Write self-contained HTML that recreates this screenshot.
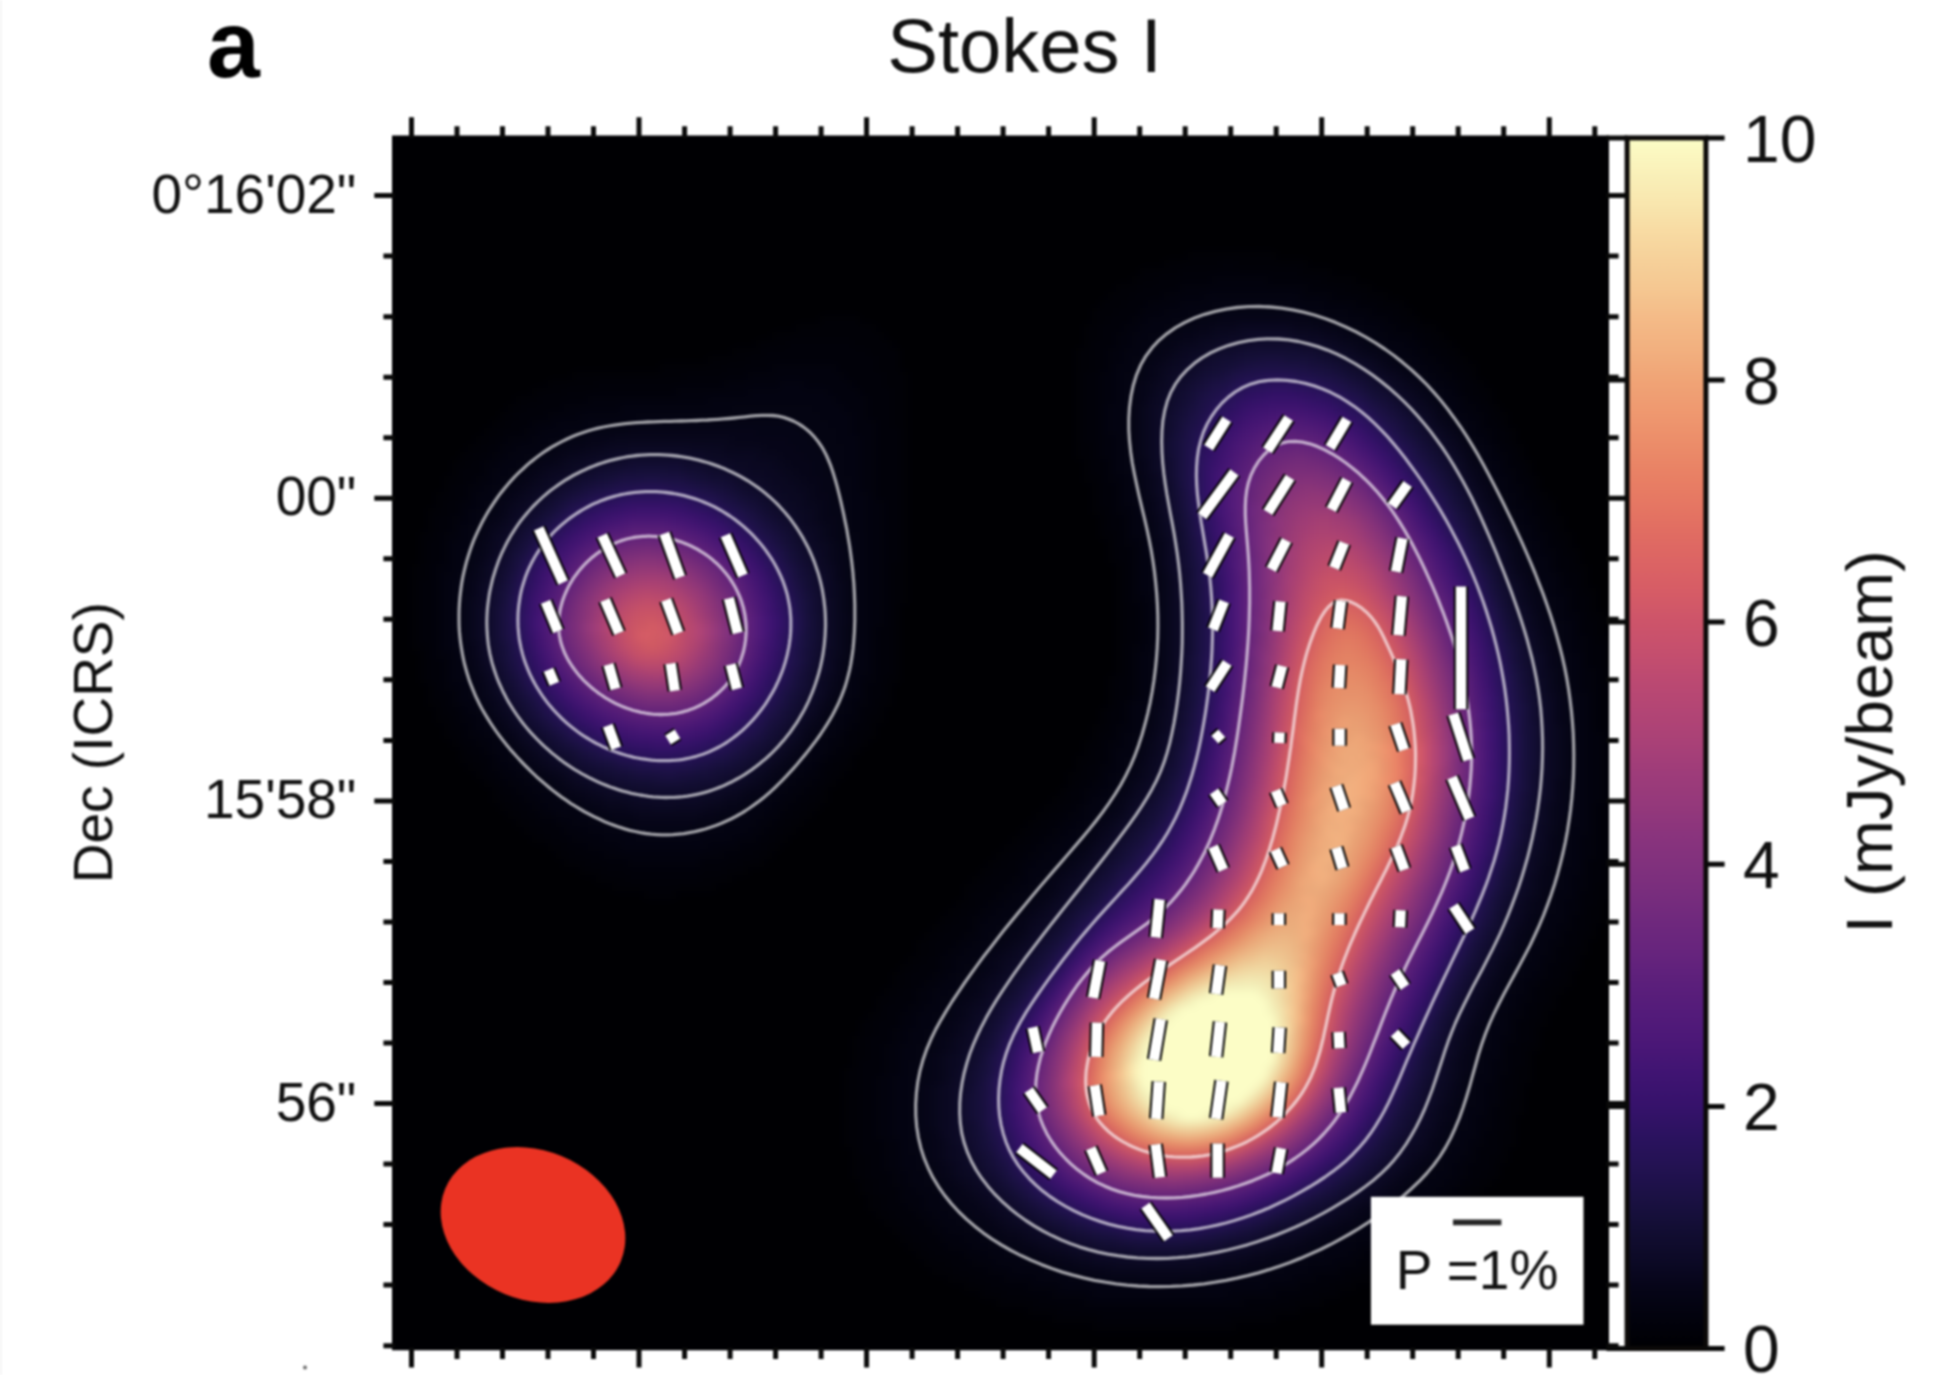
<!DOCTYPE html>
<html><head><meta charset="utf-8"><title>Stokes I</title>
<style>html,body{margin:0;padding:0;background:#fff;}svg{display:block;}text{font-family:"Liberation Sans",sans-serif;fill:#111;}</style></head><body>
<svg width="1934" height="1375" viewBox="0 0 1934 1375">
<defs>
<linearGradient id="mg" x1="0" y1="0" x2="0" y2="1"><stop offset="0%" stop-color="#fcfdc6"/><stop offset="2.5%" stop-color="#faf2bb"/><stop offset="5%" stop-color="#f9e8b0"/><stop offset="7.5%" stop-color="#f8dca4"/><stop offset="10%" stop-color="#f6d19a"/><stop offset="12.5%" stop-color="#f5c791"/><stop offset="15%" stop-color="#f4ba87"/><stop offset="17.5%" stop-color="#f2b07f"/><stop offset="20%" stop-color="#f0a476"/><stop offset="22.5%" stop-color="#ef9970"/><stop offset="25%" stop-color="#ec8e6a"/><stop offset="27.5%" stop-color="#e98265"/><stop offset="30%" stop-color="#e67863"/><stop offset="32.5%" stop-color="#e16d62"/><stop offset="35%" stop-color="#dc6464"/><stop offset="37.5%" stop-color="#d65c66"/><stop offset="40%" stop-color="#cd546a"/><stop offset="42.5%" stop-color="#c54f6e"/><stop offset="45%" stop-color="#bb4972"/><stop offset="47.5%" stop-color="#b24575"/><stop offset="50%" stop-color="#a94177"/><stop offset="52.5%" stop-color="#9e3c7a"/><stop offset="55%" stop-color="#95397b"/><stop offset="57.5%" stop-color="#8a347d"/><stop offset="60%" stop-color="#81317d"/><stop offset="62.5%" stop-color="#782d7d"/><stop offset="65%" stop-color="#6e287d"/><stop offset="67.5%" stop-color="#66247d"/><stop offset="70%" stop-color="#5b1f7b"/><stop offset="72.5%" stop-color="#531b7a"/><stop offset="75%" stop-color="#4a1777"/><stop offset="77.5%" stop-color="#3f1472"/><stop offset="80%" stop-color="#36126b"/><stop offset="82.5%" stop-color="#2b125f"/><stop offset="85%" stop-color="#231252"/><stop offset="87.5%" stop-color="#1b1144"/><stop offset="90%" stop-color="#130e34"/><stop offset="92.5%" stop-color="#0d0a27"/><stop offset="95%" stop-color="#060518"/><stop offset="97.5%" stop-color="#02020d"/><stop offset="100%" stop-color="#000003"/></linearGradient>
<clipPath id="pc"><rect x="392" y="135.4" width="1217" height="1214.8"/></clipPath>
<filter id="bl" filterUnits="userSpaceOnUse" x="332" y="75.4" width="1337" height="1334.8" color-interpolation-filters="sRGB"><feGaussianBlur stdDeviation="5"/></filter>
<filter id="soft" filterUnits="userSpaceOnUse" x="0" y="0" width="1934" height="1375" color-interpolation-filters="sRGB"><feGaussianBlur stdDeviation="1"/></filter>
</defs>
<rect x="0" y="0" width="1934" height="1375" fill="#fff"/>
<g filter="url(#soft)">
<rect x="-5" y="-5" width="1944" height="1385" fill="#fff"/>
<rect x="0" y="0" width="1.2" height="1375" fill="#ececec"/>
<g clip-path="url(#pc)">
<g filter="url(#bl)">
<rect x="342" y="85.4" width="1317" height="1314.8" fill="#000003"/>
<path fill="#010107" d="M1188 251.4h88v8h-88zM1164 259.4h56v8h-56zM1236 259.4h72v8h-72zM1140 267.4h40v8h-40zM1300 267.4h32v8h-32zM1132 275.4h24v8h-24zM1324 275.4h32v8h-32zM1116 283.4h24v8h-24zM1348 283.4h24v8h-24zM1108 291.4h24v8h-24zM1364 291.4h24v8h-24zM1100 299.4h24v8h-24zM1380 299.4h24v8h-24zM1092 307.4h24v8h-24zM1396 307.4h16v8h-16zM820 315.4h40v8h-40zM1092 315.4h16v8h-16zM1404 315.4h16v8h-16zM796 323.4h80v8h-80zM1084 323.4h16v8h-16zM1420 323.4h16v8h-16zM772 331.4h112v8h-112zM1084 331.4h16v8h-16zM1428 331.4h16v8h-16zM756 339.4h32v8h-32zM852 339.4h40v8h-40zM1084 339.4h8v8h-8zM1436 339.4h16v8h-16zM732 347.4h32v8h-32zM868 347.4h32v8h-32zM1076 347.4h16v8h-16zM1444 347.4h16v8h-16zM708 355.4h40v8h-40zM876 355.4h24v8h-24zM1076 355.4h16v8h-16zM1452 355.4h16v8h-16zM660 363.4h64v8h-64zM876 363.4h24v8h-24zM1076 363.4h16v8h-16zM1460 363.4h16v8h-16zM572 371.4h112v8h-112zM884 371.4h24v8h-24zM1076 371.4h8v8h-8zM1468 371.4h8v8h-8zM548 379.4h48v8h-48zM884 379.4h24v8h-24zM1076 379.4h8v8h-8zM1476 379.4h8v8h-8zM532 387.4h32v8h-32zM892 387.4h16v8h-16zM1076 387.4h8v8h-8zM1476 387.4h16v8h-16zM516 395.4h24v8h-24zM892 395.4h16v8h-16zM1076 395.4h8v8h-8zM1484 395.4h8v8h-8zM508 403.4h16v8h-16zM892 403.4h16v8h-16zM1076 403.4h8v8h-8zM1492 403.4h8v8h-8zM500 411.4h16v8h-16zM892 411.4h16v8h-16zM1076 411.4h8v8h-8zM1492 411.4h16v8h-16zM492 419.4h16v8h-16zM892 419.4h16v8h-16zM1076 419.4h8v8h-8zM1500 419.4h8v8h-8zM484 427.4h16v8h-16zM900 427.4h8v8h-8zM1076 427.4h8v8h-8zM1508 427.4h8v8h-8zM476 435.4h16v8h-16zM900 435.4h8v8h-8zM1076 435.4h8v8h-8zM1508 435.4h8v8h-8zM468 443.4h16v8h-16zM900 443.4h8v8h-8zM1076 443.4h16v8h-16zM1516 443.4h8v8h-8zM460 451.4h16v8h-16zM900 451.4h8v8h-8zM1076 451.4h16v8h-16zM1516 451.4h8v8h-8zM452 459.4h16v8h-16zM900 459.4h8v8h-8zM1084 459.4h8v8h-8zM1524 459.4h8v8h-8zM452 467.4h8v8h-8zM900 467.4h8v8h-8zM1084 467.4h8v8h-8zM1524 467.4h8v8h-8zM444 475.4h16v8h-16zM900 475.4h8v8h-8zM1084 475.4h16v8h-16zM1532 475.4h8v8h-8zM444 483.4h8v8h-8zM900 483.4h8v8h-8zM1092 483.4h8v8h-8zM1532 483.4h8v8h-8zM436 491.4h16v8h-16zM900 491.4h8v8h-8zM1092 491.4h8v8h-8zM1540 491.4h8v8h-8zM436 499.4h8v8h-8zM900 499.4h8v8h-8zM1092 499.4h8v8h-8zM1540 499.4h16v8h-16zM428 507.4h16v8h-16zM900 507.4h8v8h-8zM1092 507.4h16v8h-16zM1548 507.4h8v8h-8zM428 515.4h8v8h-8zM900 515.4h8v8h-8zM1100 515.4h8v8h-8zM1548 515.4h16v8h-16zM428 523.4h8v8h-8zM900 523.4h8v8h-8zM1100 523.4h8v8h-8zM1556 523.4h8v8h-8zM420 531.4h16v8h-16zM900 531.4h8v8h-8zM1100 531.4h16v8h-16zM1556 531.4h16v8h-16zM420 539.4h8v8h-8zM900 539.4h8v8h-8zM1108 539.4h8v8h-8zM1564 539.4h8v8h-8zM420 547.4h8v8h-8zM900 547.4h8v8h-8zM1108 547.4h8v8h-8zM1564 547.4h16v8h-16zM420 555.4h8v8h-8zM900 555.4h8v8h-8zM1108 555.4h8v8h-8zM1572 555.4h8v8h-8zM412 563.4h16v8h-16zM892 563.4h16v8h-16zM1116 563.4h8v8h-8zM1572 563.4h16v8h-16zM412 571.4h16v8h-16zM892 571.4h16v8h-16zM1116 571.4h8v8h-8zM1580 571.4h8v8h-8zM412 579.4h8v8h-8zM892 579.4h16v8h-16zM1116 579.4h8v8h-8zM1580 579.4h8v8h-8zM412 587.4h8v8h-8zM892 587.4h16v8h-16zM1116 587.4h8v8h-8zM1580 587.4h16v8h-16zM412 595.4h8v8h-8zM892 595.4h16v8h-16zM1116 595.4h8v8h-8zM1588 595.4h8v8h-8zM412 603.4h8v8h-8zM892 603.4h8v8h-8zM1116 603.4h8v8h-8zM1588 603.4h8v8h-8zM412 611.4h8v8h-8zM892 611.4h8v8h-8zM1116 611.4h8v8h-8zM1588 611.4h16v8h-16zM412 619.4h8v8h-8zM892 619.4h8v8h-8zM1116 619.4h8v8h-8zM1596 619.4h8v8h-8zM412 627.4h8v8h-8zM892 627.4h8v8h-8zM1116 627.4h8v8h-8zM1596 627.4h8v8h-8zM412 635.4h8v8h-8zM892 635.4h8v8h-8zM1116 635.4h8v8h-8zM1596 635.4h16v8h-16zM412 643.4h16v8h-16zM892 643.4h8v8h-8zM1116 643.4h8v8h-8zM1604 643.4h8v8h-8zM420 651.4h8v8h-8zM892 651.4h8v8h-8zM1116 651.4h8v8h-8zM1604 651.4h8v8h-8zM420 659.4h8v8h-8zM892 659.4h8v8h-8zM1116 659.4h8v8h-8zM1604 659.4h8v8h-8zM420 667.4h8v8h-8zM892 667.4h8v8h-8zM1116 667.4h8v8h-8zM1604 667.4h16v8h-16zM420 675.4h8v8h-8zM884 675.4h16v8h-16zM1108 675.4h8v8h-8zM1604 675.4h16v8h-16zM428 683.4h8v8h-8zM884 683.4h8v8h-8zM1108 683.4h8v8h-8zM1612 683.4h8v8h-8zM428 691.4h8v8h-8zM884 691.4h8v8h-8zM1108 691.4h8v8h-8zM1612 691.4h8v8h-8zM428 699.4h16v8h-16zM876 699.4h16v8h-16zM1108 699.4h8v8h-8zM1612 699.4h8v8h-8zM436 707.4h8v8h-8zM876 707.4h8v8h-8zM1100 707.4h8v8h-8zM1612 707.4h8v8h-8zM436 715.4h16v8h-16zM868 715.4h16v8h-16zM1100 715.4h8v8h-8zM1612 715.4h8v8h-8zM444 723.4h8v8h-8zM868 723.4h8v8h-8zM1092 723.4h16v8h-16zM1612 723.4h8v8h-8zM444 731.4h16v8h-16zM860 731.4h16v8h-16zM1092 731.4h8v8h-8zM1612 731.4h8v8h-8zM452 739.4h8v8h-8zM860 739.4h8v8h-8zM1084 739.4h16v8h-16zM1612 739.4h8v8h-8zM460 747.4h8v8h-8zM852 747.4h8v8h-8zM1084 747.4h8v8h-8zM1612 747.4h8v8h-8zM460 755.4h16v8h-16zM844 755.4h8v8h-8zM1076 755.4h16v8h-16zM1612 755.4h8v8h-8zM468 763.4h16v8h-16zM836 763.4h16v8h-16zM1076 763.4h8v8h-8zM1612 763.4h8v8h-8zM476 771.4h8v8h-8zM828 771.4h16v8h-16zM1068 771.4h16v8h-16zM1612 771.4h8v8h-8zM484 779.4h8v8h-8zM828 779.4h8v8h-8zM1068 779.4h8v8h-8zM1612 779.4h8v8h-8zM492 787.4h8v8h-8zM820 787.4h8v8h-8zM1060 787.4h8v8h-8zM1612 787.4h8v8h-8zM492 795.4h16v8h-16zM812 795.4h16v8h-16zM1052 795.4h16v8h-16zM1612 795.4h8v8h-8zM500 803.4h16v8h-16zM804 803.4h16v8h-16zM1044 803.4h16v8h-16zM1612 803.4h8v8h-8zM508 811.4h16v8h-16zM796 811.4h16v8h-16zM1036 811.4h16v8h-16zM1612 811.4h8v8h-8zM516 819.4h16v8h-16zM788 819.4h16v8h-16zM1028 819.4h16v8h-16zM1612 819.4h8v8h-8zM524 827.4h16v8h-16zM780 827.4h16v8h-16zM1020 827.4h16v8h-16zM1612 827.4h8v8h-8zM532 835.4h16v8h-16zM772 835.4h16v8h-16zM1012 835.4h16v8h-16zM1612 835.4h8v8h-8zM548 843.4h16v8h-16zM764 843.4h16v8h-16zM1004 843.4h16v8h-16zM1612 843.4h8v8h-8zM556 851.4h16v8h-16zM756 851.4h16v8h-16zM996 851.4h16v8h-16zM1604 851.4h16v8h-16zM564 859.4h24v8h-24zM740 859.4h24v8h-24zM988 859.4h16v8h-16zM1604 859.4h16v8h-16zM580 867.4h24v8h-24zM724 867.4h24v8h-24zM980 867.4h16v8h-16zM1604 867.4h8v8h-8zM596 875.4h32v8h-32zM700 875.4h32v8h-32zM972 875.4h16v8h-16zM1604 875.4h8v8h-8zM612 883.4h104v8h-104zM964 883.4h16v8h-16zM1596 883.4h16v8h-16zM644 891.4h32v8h-32zM964 891.4h8v8h-8zM1596 891.4h16v8h-16zM956 899.4h16v8h-16zM1596 899.4h8v8h-8zM948 907.4h16v8h-16zM1588 907.4h16v8h-16zM940 915.4h16v8h-16zM1588 915.4h16v8h-16zM932 923.4h16v8h-16zM1588 923.4h8v8h-8zM924 931.4h16v8h-16zM1580 931.4h16v8h-16zM916 939.4h16v8h-16zM1580 939.4h8v8h-8zM916 947.4h16v8h-16zM1572 947.4h16v8h-16zM908 955.4h16v8h-16zM1572 955.4h8v8h-8zM900 963.4h16v8h-16zM1564 963.4h16v8h-16zM892 971.4h16v8h-16zM1564 971.4h8v8h-8zM892 979.4h16v8h-16zM1556 979.4h16v8h-16zM884 987.4h16v8h-16zM1548 987.4h16v8h-16zM876 995.4h16v8h-16zM1548 995.4h8v8h-8zM876 1003.4h8v8h-8zM1540 1003.4h16v8h-16zM868 1011.4h16v8h-16zM1540 1011.4h8v8h-8zM860 1019.4h16v8h-16zM1532 1019.4h16v8h-16zM860 1027.4h16v8h-16zM1532 1027.4h8v8h-8zM852 1035.4h16v8h-16zM1532 1035.4h8v8h-8zM852 1043.4h16v8h-16zM1524 1043.4h16v8h-16zM852 1051.4h16v8h-16zM1524 1051.4h8v8h-8zM852 1059.4h8v8h-8zM1524 1059.4h8v8h-8zM844 1067.4h16v8h-16zM1516 1067.4h16v8h-16zM844 1075.4h16v8h-16zM1516 1075.4h16v8h-16zM844 1083.4h16v8h-16zM1516 1083.4h8v8h-8zM844 1091.4h16v8h-16zM1516 1091.4h8v8h-8zM844 1099.4h16v8h-16zM1508 1099.4h16v8h-16zM844 1107.4h16v8h-16zM1508 1107.4h16v8h-16zM844 1115.4h16v8h-16zM1508 1115.4h8v8h-8zM844 1123.4h16v8h-16zM1508 1123.4h8v8h-8zM844 1131.4h16v8h-16zM1500 1131.4h16v8h-16zM844 1139.4h16v8h-16zM1500 1139.4h16v8h-16zM852 1147.4h8v8h-8zM1500 1147.4h8v8h-8zM852 1155.4h16v8h-16zM1492 1155.4h16v8h-16zM852 1163.4h16v8h-16zM1492 1163.4h8v8h-8zM852 1171.4h16v8h-16zM1484 1171.4h16v8h-16zM860 1179.4h16v8h-16zM1476 1179.4h16v8h-16zM860 1187.4h16v8h-16zM1468 1187.4h16v8h-16zM868 1195.4h16v8h-16zM1460 1195.4h16v8h-16zM868 1203.4h16v8h-16zM1452 1203.4h16v8h-16zM876 1211.4h16v8h-16zM1444 1211.4h16v8h-16zM884 1219.4h16v8h-16zM1436 1219.4h16v8h-16zM892 1227.4h16v8h-16zM1428 1227.4h16v8h-16zM900 1235.4h16v8h-16zM1412 1235.4h24v8h-24zM908 1243.4h16v8h-16zM1404 1243.4h16v8h-16zM916 1251.4h16v8h-16zM1396 1251.4h16v8h-16zM924 1259.4h24v8h-24zM1380 1259.4h16v8h-16zM932 1267.4h24v8h-24zM1364 1267.4h24v8h-24zM948 1275.4h24v8h-24zM1348 1275.4h24v8h-24zM964 1283.4h24v8h-24zM1332 1283.4h24v8h-24zM980 1291.4h24v8h-24zM1316 1291.4h24v8h-24zM996 1299.4h40v8h-40zM1292 1299.4h32v8h-32zM1028 1307.4h32v8h-32zM1268 1307.4h32v8h-32zM1052 1315.4h48v8h-48zM1228 1315.4h48v8h-48zM1092 1323.4h144v8h-144z"/>
<path fill="#010109" d="M1220 259.4h16v8h-16zM1180 267.4h120v8h-120zM1156 275.4h56v8h-56zM1268 275.4h56v8h-56zM1140 283.4h40v8h-40zM1308 283.4h40v8h-40zM1132 291.4h32v8h-32zM1332 291.4h32v8h-32zM1124 299.4h24v8h-24zM1356 299.4h24v8h-24zM1116 307.4h24v8h-24zM1372 307.4h24v8h-24zM1108 315.4h24v8h-24zM1388 315.4h16v8h-16zM1100 323.4h24v8h-24zM1396 323.4h24v8h-24zM1100 331.4h16v8h-16zM1412 331.4h16v8h-16zM788 339.4h64v8h-64zM1092 339.4h24v8h-24zM1420 339.4h16v8h-16zM764 347.4h104v8h-104zM1092 347.4h16v8h-16zM1428 347.4h16v8h-16zM748 355.4h128v8h-128zM1092 355.4h16v8h-16zM1436 355.4h16v8h-16zM724 363.4h48v8h-48zM836 363.4h40v8h-40zM1092 363.4h16v8h-16zM1444 363.4h16v8h-16zM684 371.4h64v8h-64zM844 371.4h40v8h-40zM1084 371.4h16v8h-16zM1452 371.4h16v8h-16zM596 379.4h128v8h-128zM852 379.4h32v8h-32zM1084 379.4h16v8h-16zM1460 379.4h16v8h-16zM564 387.4h112v8h-112zM860 387.4h32v8h-32zM1084 387.4h16v8h-16zM1460 387.4h16v8h-16zM540 395.4h48v8h-48zM868 395.4h24v8h-24zM1084 395.4h16v8h-16zM1468 395.4h16v8h-16zM524 403.4h40v8h-40zM868 403.4h24v8h-24zM1084 403.4h16v8h-16zM1476 403.4h16v8h-16zM516 411.4h32v8h-32zM868 411.4h24v8h-24zM1084 411.4h16v8h-16zM1484 411.4h8v8h-8zM508 419.4h24v8h-24zM876 419.4h16v8h-16zM1084 419.4h16v8h-16zM1484 419.4h16v8h-16zM500 427.4h24v8h-24zM876 427.4h24v8h-24zM1084 427.4h16v8h-16zM1492 427.4h16v8h-16zM492 435.4h16v8h-16zM876 435.4h24v8h-24zM1084 435.4h16v8h-16zM1492 435.4h16v8h-16zM484 443.4h16v8h-16zM876 443.4h24v8h-24zM1092 443.4h8v8h-8zM1500 443.4h16v8h-16zM476 451.4h16v8h-16zM876 451.4h24v8h-24zM1092 451.4h8v8h-8zM1508 451.4h8v8h-8zM468 459.4h16v8h-16zM876 459.4h24v8h-24zM1092 459.4h16v8h-16zM1508 459.4h16v8h-16zM460 467.4h24v8h-24zM876 467.4h24v8h-24zM1092 467.4h16v8h-16zM1516 467.4h8v8h-8zM460 475.4h16v8h-16zM876 475.4h24v8h-24zM1100 475.4h8v8h-8zM1516 475.4h16v8h-16zM452 483.4h16v8h-16zM876 483.4h24v8h-24zM1100 483.4h16v8h-16zM1524 483.4h8v8h-8zM452 491.4h16v8h-16zM876 491.4h24v8h-24zM1100 491.4h16v8h-16zM1524 491.4h16v8h-16zM444 499.4h16v8h-16zM884 499.4h16v8h-16zM1100 499.4h16v8h-16zM1532 499.4h8v8h-8zM444 507.4h16v8h-16zM884 507.4h16v8h-16zM1108 507.4h8v8h-8zM1532 507.4h16v8h-16zM436 515.4h16v8h-16zM884 515.4h16v8h-16zM1108 515.4h16v8h-16zM1540 515.4h8v8h-8zM436 523.4h16v8h-16zM884 523.4h16v8h-16zM1108 523.4h16v8h-16zM1540 523.4h16v8h-16zM436 531.4h8v8h-8zM884 531.4h16v8h-16zM1116 531.4h8v8h-8zM1548 531.4h8v8h-8zM428 539.4h16v8h-16zM884 539.4h16v8h-16zM1116 539.4h8v8h-8zM1548 539.4h16v8h-16zM428 547.4h16v8h-16zM884 547.4h16v8h-16zM1116 547.4h16v8h-16zM1556 547.4h8v8h-8zM428 555.4h16v8h-16zM884 555.4h16v8h-16zM1116 555.4h16v8h-16zM1556 555.4h16v8h-16zM428 563.4h8v8h-8zM884 563.4h8v8h-8zM1124 563.4h8v8h-8zM1556 563.4h16v8h-16zM428 571.4h8v8h-8zM884 571.4h8v8h-8zM1124 571.4h8v8h-8zM1564 571.4h16v8h-16zM420 579.4h16v8h-16zM884 579.4h8v8h-8zM1124 579.4h8v8h-8zM1564 579.4h16v8h-16zM420 587.4h16v8h-16zM884 587.4h8v8h-8zM1124 587.4h8v8h-8zM1572 587.4h8v8h-8zM420 595.4h16v8h-16zM884 595.4h8v8h-8zM1124 595.4h8v8h-8zM1572 595.4h16v8h-16zM420 603.4h16v8h-16zM884 603.4h8v8h-8zM1124 603.4h16v8h-16zM1572 603.4h16v8h-16zM420 611.4h16v8h-16zM884 611.4h8v8h-8zM1124 611.4h16v8h-16zM1580 611.4h8v8h-8zM420 619.4h16v8h-16zM884 619.4h8v8h-8zM1124 619.4h16v8h-16zM1580 619.4h16v8h-16zM420 627.4h16v8h-16zM876 627.4h16v8h-16zM1124 627.4h16v8h-16zM1580 627.4h16v8h-16zM420 635.4h16v8h-16zM876 635.4h16v8h-16zM1124 635.4h16v8h-16zM1588 635.4h8v8h-8zM428 643.4h8v8h-8zM876 643.4h16v8h-16zM1124 643.4h8v8h-8zM1588 643.4h16v8h-16zM428 651.4h8v8h-8zM876 651.4h16v8h-16zM1124 651.4h8v8h-8zM1588 651.4h16v8h-16zM428 659.4h16v8h-16zM876 659.4h16v8h-16zM1124 659.4h8v8h-8zM1588 659.4h16v8h-16zM428 667.4h16v8h-16zM876 667.4h16v8h-16zM1124 667.4h8v8h-8zM1596 667.4h8v8h-8zM428 675.4h16v8h-16zM876 675.4h8v8h-8zM1116 675.4h16v8h-16zM1596 675.4h8v8h-8zM436 683.4h8v8h-8zM868 683.4h16v8h-16zM1116 683.4h16v8h-16zM1596 683.4h16v8h-16zM436 691.4h16v8h-16zM868 691.4h16v8h-16zM1116 691.4h16v8h-16zM1596 691.4h16v8h-16zM444 699.4h8v8h-8zM868 699.4h8v8h-8zM1116 699.4h8v8h-8zM1596 699.4h16v8h-16zM444 707.4h16v8h-16zM860 707.4h16v8h-16zM1108 707.4h16v8h-16zM1596 707.4h16v8h-16zM452 715.4h8v8h-8zM860 715.4h8v8h-8zM1108 715.4h16v8h-16zM1596 715.4h16v8h-16zM452 723.4h16v8h-16zM852 723.4h16v8h-16zM1108 723.4h8v8h-8zM1596 723.4h16v8h-16zM460 731.4h8v8h-8zM844 731.4h16v8h-16zM1100 731.4h16v8h-16zM1604 731.4h8v8h-8zM460 739.4h16v8h-16zM844 739.4h16v8h-16zM1100 739.4h8v8h-8zM1604 739.4h8v8h-8zM468 747.4h16v8h-16zM836 747.4h16v8h-16zM1092 747.4h16v8h-16zM1604 747.4h8v8h-8zM476 755.4h16v8h-16zM828 755.4h16v8h-16zM1092 755.4h16v8h-16zM1604 755.4h8v8h-8zM484 763.4h8v8h-8zM820 763.4h16v8h-16zM1084 763.4h16v8h-16zM1604 763.4h8v8h-8zM484 771.4h16v8h-16zM820 771.4h8v8h-8zM1084 771.4h16v8h-16zM1604 771.4h8v8h-8zM492 779.4h16v8h-16zM812 779.4h16v8h-16zM1076 779.4h16v8h-16zM1604 779.4h8v8h-8zM500 787.4h16v8h-16zM804 787.4h16v8h-16zM1068 787.4h16v8h-16zM1604 787.4h8v8h-8zM508 795.4h16v8h-16zM796 795.4h16v8h-16zM1068 795.4h16v8h-16zM1604 795.4h8v8h-8zM516 803.4h16v8h-16zM788 803.4h16v8h-16zM1060 803.4h16v8h-16zM1596 803.4h16v8h-16zM524 811.4h16v8h-16zM780 811.4h16v8h-16zM1052 811.4h16v8h-16zM1596 811.4h16v8h-16zM532 819.4h24v8h-24zM772 819.4h16v8h-16zM1044 819.4h16v8h-16zM1596 819.4h16v8h-16zM540 827.4h24v8h-24zM764 827.4h16v8h-16zM1036 827.4h16v8h-16zM1596 827.4h16v8h-16zM548 835.4h24v8h-24zM756 835.4h16v8h-16zM1028 835.4h16v8h-16zM1596 835.4h16v8h-16zM564 843.4h24v8h-24zM740 843.4h24v8h-24zM1020 843.4h16v8h-16zM1596 843.4h16v8h-16zM572 851.4h32v8h-32zM724 851.4h32v8h-32zM1012 851.4h16v8h-16zM1596 851.4h8v8h-8zM588 859.4h40v8h-40zM700 859.4h40v8h-40zM1004 859.4h16v8h-16zM1588 859.4h16v8h-16zM604 867.4h120v8h-120zM996 867.4h24v8h-24zM1588 867.4h16v8h-16zM628 875.4h72v8h-72zM988 875.4h24v8h-24zM1588 875.4h16v8h-16zM980 883.4h24v8h-24zM1588 883.4h8v8h-8zM972 891.4h24v8h-24zM1580 891.4h16v8h-16zM972 899.4h16v8h-16zM1580 899.4h16v8h-16zM964 907.4h16v8h-16zM1580 907.4h8v8h-8zM956 915.4h16v8h-16zM1572 915.4h16v8h-16zM948 923.4h24v8h-24zM1572 923.4h16v8h-16zM940 931.4h24v8h-24zM1564 931.4h16v8h-16zM932 939.4h24v8h-24zM1564 939.4h16v8h-16zM932 947.4h16v8h-16zM1556 947.4h16v8h-16zM924 955.4h16v8h-16zM1556 955.4h16v8h-16zM916 963.4h24v8h-24zM1548 963.4h16v8h-16zM908 971.4h24v8h-24zM1548 971.4h16v8h-16zM908 979.4h16v8h-16zM1540 979.4h16v8h-16zM900 987.4h16v8h-16zM1532 987.4h16v8h-16zM892 995.4h24v8h-24zM1532 995.4h16v8h-16zM884 1003.4h24v8h-24zM1524 1003.4h16v8h-16zM884 1011.4h16v8h-16zM1524 1011.4h16v8h-16zM876 1019.4h24v8h-24zM1516 1019.4h16v8h-16zM876 1027.4h16v8h-16zM1516 1027.4h16v8h-16zM868 1035.4h24v8h-24zM1516 1035.4h16v8h-16zM868 1043.4h16v8h-16zM1508 1043.4h16v8h-16zM868 1051.4h16v8h-16zM1508 1051.4h16v8h-16zM860 1059.4h24v8h-24zM1508 1059.4h16v8h-16zM860 1067.4h24v8h-24zM1508 1067.4h8v8h-8zM860 1075.4h16v8h-16zM1500 1075.4h16v8h-16zM860 1083.4h16v8h-16zM1500 1083.4h16v8h-16zM860 1091.4h16v8h-16zM1500 1091.4h16v8h-16zM860 1099.4h16v8h-16zM1500 1099.4h8v8h-8zM860 1107.4h16v8h-16zM1492 1107.4h16v8h-16zM860 1115.4h16v8h-16zM1492 1115.4h16v8h-16zM860 1123.4h16v8h-16zM1492 1123.4h16v8h-16zM860 1131.4h16v8h-16zM1484 1131.4h16v8h-16zM860 1139.4h24v8h-24zM1484 1139.4h16v8h-16zM860 1147.4h24v8h-24zM1476 1147.4h24v8h-24zM868 1155.4h16v8h-16zM1476 1155.4h16v8h-16zM868 1163.4h16v8h-16zM1468 1163.4h24v8h-24zM868 1171.4h24v8h-24zM1468 1171.4h16v8h-16zM876 1179.4h16v8h-16zM1460 1179.4h16v8h-16zM876 1187.4h24v8h-24zM1452 1187.4h16v8h-16zM884 1195.4h16v8h-16zM1444 1195.4h16v8h-16zM884 1203.4h24v8h-24zM1436 1203.4h16v8h-16zM892 1211.4h24v8h-24zM1420 1211.4h24v8h-24zM900 1219.4h24v8h-24zM1412 1219.4h24v8h-24zM908 1227.4h24v8h-24zM1404 1227.4h24v8h-24zM916 1235.4h24v8h-24zM1388 1235.4h24v8h-24zM924 1243.4h24v8h-24zM1380 1243.4h24v8h-24zM932 1251.4h32v8h-32zM1364 1251.4h32v8h-32zM948 1259.4h24v8h-24zM1356 1259.4h24v8h-24zM956 1267.4h32v8h-32zM1340 1267.4h24v8h-24zM972 1275.4h32v8h-32zM1316 1275.4h32v8h-32zM988 1283.4h40v8h-40zM1300 1283.4h32v8h-32zM1004 1291.4h48v8h-48zM1276 1291.4h40v8h-40zM1036 1299.4h48v8h-48zM1244 1299.4h48v8h-48zM1060 1307.4h208v8h-208zM1100 1315.4h128v8h-128z"/>
<path fill="#02020d" d="M1212 275.4h56v8h-56zM1180 283.4h128v8h-128zM1164 291.4h40v8h-40zM1300 291.4h32v8h-32zM1148 299.4h32v8h-32zM1324 299.4h32v8h-32zM1140 307.4h24v8h-24zM1348 307.4h24v8h-24zM1132 315.4h16v8h-16zM1364 315.4h24v8h-24zM1124 323.4h16v8h-16zM1380 323.4h16v8h-16zM1116 331.4h16v8h-16zM1388 331.4h24v8h-24zM1116 339.4h16v8h-16zM1404 339.4h16v8h-16zM1108 347.4h16v8h-16zM1412 347.4h16v8h-16zM1108 355.4h16v8h-16zM1420 355.4h16v8h-16zM772 363.4h64v8h-64zM1108 363.4h8v8h-8zM1428 363.4h16v8h-16zM748 371.4h96v8h-96zM1100 371.4h16v8h-16zM1436 371.4h16v8h-16zM724 379.4h56v8h-56zM804 379.4h48v8h-48zM1100 379.4h16v8h-16zM1444 379.4h16v8h-16zM676 387.4h72v8h-72zM828 387.4h32v8h-32zM1100 387.4h16v8h-16zM1452 387.4h8v8h-8zM588 395.4h120v8h-120zM836 395.4h32v8h-32zM1100 395.4h16v8h-16zM1460 395.4h8v8h-8zM564 403.4h56v8h-56zM844 403.4h24v8h-24zM1100 403.4h8v8h-8zM1460 403.4h16v8h-16zM548 411.4h32v8h-32zM852 411.4h16v8h-16zM1100 411.4h8v8h-8zM1468 411.4h16v8h-16zM532 419.4h24v8h-24zM852 419.4h24v8h-24zM1100 419.4h8v8h-8zM1476 419.4h8v8h-8zM524 427.4h16v8h-16zM852 427.4h24v8h-24zM1100 427.4h8v8h-8zM1476 427.4h16v8h-16zM508 435.4h24v8h-24zM860 435.4h16v8h-16zM1100 435.4h16v8h-16zM1484 435.4h8v8h-8zM500 443.4h16v8h-16zM860 443.4h16v8h-16zM1100 443.4h16v8h-16zM1492 443.4h8v8h-8zM492 451.4h16v8h-16zM860 451.4h16v8h-16zM1100 451.4h16v8h-16zM1492 451.4h16v8h-16zM484 459.4h16v8h-16zM860 459.4h16v8h-16zM1108 459.4h8v8h-8zM1500 459.4h8v8h-8zM484 467.4h8v8h-8zM860 467.4h16v8h-16zM1108 467.4h8v8h-8zM1500 467.4h16v8h-16zM476 475.4h16v8h-16zM860 475.4h16v8h-16zM1108 475.4h16v8h-16zM1508 475.4h8v8h-8zM468 483.4h16v8h-16zM860 483.4h16v8h-16zM1116 483.4h8v8h-8zM1508 483.4h16v8h-16zM468 491.4h8v8h-8zM868 491.4h8v8h-8zM1116 491.4h8v8h-8zM1516 491.4h8v8h-8zM460 499.4h16v8h-16zM868 499.4h16v8h-16zM1116 499.4h8v8h-8zM1516 499.4h16v8h-16zM460 507.4h8v8h-8zM868 507.4h16v8h-16zM1116 507.4h16v8h-16zM1524 507.4h8v8h-8zM452 515.4h16v8h-16zM868 515.4h16v8h-16zM1124 515.4h8v8h-8zM1524 515.4h16v8h-16zM452 523.4h8v8h-8zM868 523.4h16v8h-16zM1124 523.4h8v8h-8zM1532 523.4h8v8h-8zM444 531.4h16v8h-16zM868 531.4h16v8h-16zM1124 531.4h8v8h-8zM1532 531.4h16v8h-16zM444 539.4h8v8h-8zM868 539.4h16v8h-16zM1124 539.4h16v8h-16zM1540 539.4h8v8h-8zM444 547.4h8v8h-8zM868 547.4h16v8h-16zM1132 547.4h8v8h-8zM1540 547.4h16v8h-16zM444 555.4h8v8h-8zM868 555.4h16v8h-16zM1132 555.4h8v8h-8zM1548 555.4h8v8h-8zM436 563.4h16v8h-16zM868 563.4h16v8h-16zM1132 563.4h8v8h-8zM1548 563.4h8v8h-8zM436 571.4h8v8h-8zM868 571.4h16v8h-16zM1132 571.4h8v8h-8zM1556 571.4h8v8h-8zM436 579.4h8v8h-8zM868 579.4h16v8h-16zM1132 579.4h8v8h-8zM1556 579.4h8v8h-8zM436 587.4h8v8h-8zM868 587.4h16v8h-16zM1132 587.4h8v8h-8zM1556 587.4h16v8h-16zM436 595.4h8v8h-8zM868 595.4h16v8h-16zM1132 595.4h16v8h-16zM1564 595.4h8v8h-8zM436 603.4h8v8h-8zM868 603.4h16v8h-16zM1140 603.4h8v8h-8zM1564 603.4h8v8h-8zM436 611.4h8v8h-8zM868 611.4h16v8h-16zM1140 611.4h8v8h-8zM1564 611.4h16v8h-16zM436 619.4h8v8h-8zM868 619.4h16v8h-16zM1140 619.4h8v8h-8zM1572 619.4h8v8h-8zM436 627.4h8v8h-8zM868 627.4h8v8h-8zM1140 627.4h8v8h-8zM1572 627.4h8v8h-8zM436 635.4h8v8h-8zM868 635.4h8v8h-8zM1140 635.4h8v8h-8zM1572 635.4h16v8h-16zM436 643.4h8v8h-8zM868 643.4h8v8h-8zM1132 643.4h16v8h-16zM1572 643.4h16v8h-16zM436 651.4h16v8h-16zM868 651.4h8v8h-8zM1132 651.4h8v8h-8zM1580 651.4h8v8h-8zM444 659.4h8v8h-8zM868 659.4h8v8h-8zM1132 659.4h8v8h-8zM1580 659.4h8v8h-8zM444 667.4h8v8h-8zM868 667.4h8v8h-8zM1132 667.4h8v8h-8zM1580 667.4h16v8h-16zM444 675.4h8v8h-8zM860 675.4h16v8h-16zM1132 675.4h8v8h-8zM1580 675.4h16v8h-16zM444 683.4h16v8h-16zM860 683.4h8v8h-8zM1132 683.4h8v8h-8zM1580 683.4h16v8h-16zM452 691.4h8v8h-8zM860 691.4h8v8h-8zM1132 691.4h8v8h-8zM1588 691.4h8v8h-8zM452 699.4h8v8h-8zM852 699.4h16v8h-16zM1124 699.4h8v8h-8zM1588 699.4h8v8h-8zM460 707.4h8v8h-8zM852 707.4h8v8h-8zM1124 707.4h8v8h-8zM1588 707.4h8v8h-8zM460 715.4h16v8h-16zM844 715.4h16v8h-16zM1124 715.4h8v8h-8zM1588 715.4h8v8h-8zM468 723.4h8v8h-8zM844 723.4h8v8h-8zM1116 723.4h16v8h-16zM1588 723.4h8v8h-8zM468 731.4h16v8h-16zM836 731.4h8v8h-8zM1116 731.4h8v8h-8zM1588 731.4h16v8h-16zM476 739.4h16v8h-16zM828 739.4h16v8h-16zM1108 739.4h16v8h-16zM1588 739.4h16v8h-16zM484 747.4h8v8h-8zM828 747.4h8v8h-8zM1108 747.4h8v8h-8zM1588 747.4h16v8h-16zM492 755.4h8v8h-8zM820 755.4h8v8h-8zM1108 755.4h8v8h-8zM1588 755.4h16v8h-16zM492 763.4h16v8h-16zM812 763.4h8v8h-8zM1100 763.4h16v8h-16zM1588 763.4h16v8h-16zM500 771.4h16v8h-16zM804 771.4h16v8h-16zM1100 771.4h8v8h-8zM1588 771.4h16v8h-16zM508 779.4h16v8h-16zM796 779.4h16v8h-16zM1092 779.4h16v8h-16zM1588 779.4h16v8h-16zM516 787.4h16v8h-16zM788 787.4h16v8h-16zM1084 787.4h16v8h-16zM1588 787.4h16v8h-16zM524 795.4h16v8h-16zM780 795.4h16v8h-16zM1084 795.4h8v8h-8zM1588 795.4h16v8h-16zM532 803.4h16v8h-16zM772 803.4h16v8h-16zM1076 803.4h8v8h-8zM1588 803.4h8v8h-8zM540 811.4h16v8h-16zM764 811.4h16v8h-16zM1068 811.4h16v8h-16zM1588 811.4h8v8h-8zM556 819.4h16v8h-16zM756 819.4h16v8h-16zM1060 819.4h16v8h-16zM1588 819.4h8v8h-8zM564 827.4h24v8h-24zM748 827.4h16v8h-16zM1052 827.4h16v8h-16zM1588 827.4h8v8h-8zM572 835.4h32v8h-32zM732 835.4h24v8h-24zM1044 835.4h16v8h-16zM1580 835.4h16v8h-16zM588 843.4h32v8h-32zM708 843.4h32v8h-32zM1036 843.4h16v8h-16zM1580 843.4h16v8h-16zM604 851.4h120v8h-120zM1028 851.4h16v8h-16zM1580 851.4h16v8h-16zM628 859.4h72v8h-72zM1020 859.4h16v8h-16zM1580 859.4h8v8h-8zM1020 867.4h8v8h-8zM1580 867.4h8v8h-8zM1012 875.4h16v8h-16zM1572 875.4h16v8h-16zM1004 883.4h16v8h-16zM1572 883.4h16v8h-16zM996 891.4h16v8h-16zM1572 891.4h8v8h-8zM988 899.4h16v8h-16zM1564 899.4h16v8h-16zM980 907.4h16v8h-16zM1564 907.4h16v8h-16zM972 915.4h16v8h-16zM1564 915.4h8v8h-8zM972 923.4h8v8h-8zM1556 923.4h16v8h-16zM964 931.4h16v8h-16zM1556 931.4h8v8h-8zM956 939.4h16v8h-16zM1548 939.4h16v8h-16zM948 947.4h16v8h-16zM1548 947.4h8v8h-8zM940 955.4h16v8h-16zM1540 955.4h16v8h-16zM940 963.4h16v8h-16zM1540 963.4h8v8h-8zM932 971.4h16v8h-16zM1532 971.4h16v8h-16zM924 979.4h16v8h-16zM1524 979.4h16v8h-16zM916 987.4h16v8h-16zM1524 987.4h8v8h-8zM916 995.4h16v8h-16zM1516 995.4h16v8h-16zM908 1003.4h16v8h-16zM1516 1003.4h8v8h-8zM900 1011.4h16v8h-16zM1508 1011.4h16v8h-16zM900 1019.4h16v8h-16zM1508 1019.4h8v8h-8zM892 1027.4h16v8h-16zM1508 1027.4h8v8h-8zM892 1035.4h16v8h-16zM1500 1035.4h16v8h-16zM884 1043.4h16v8h-16zM1500 1043.4h8v8h-8zM884 1051.4h16v8h-16zM1500 1051.4h8v8h-8zM884 1059.4h16v8h-16zM1492 1059.4h16v8h-16zM884 1067.4h16v8h-16zM1492 1067.4h16v8h-16zM876 1075.4h16v8h-16zM1492 1075.4h8v8h-8zM876 1083.4h16v8h-16zM1484 1083.4h16v8h-16zM876 1091.4h16v8h-16zM1484 1091.4h16v8h-16zM876 1099.4h16v8h-16zM1484 1099.4h16v8h-16zM876 1107.4h16v8h-16zM1484 1107.4h8v8h-8zM876 1115.4h16v8h-16zM1476 1115.4h16v8h-16zM876 1123.4h16v8h-16zM1476 1123.4h16v8h-16zM876 1131.4h16v8h-16zM1476 1131.4h8v8h-8zM884 1139.4h16v8h-16zM1468 1139.4h16v8h-16zM884 1147.4h16v8h-16zM1468 1147.4h8v8h-8zM884 1155.4h16v8h-16zM1460 1155.4h16v8h-16zM884 1163.4h16v8h-16zM1452 1163.4h16v8h-16zM892 1171.4h16v8h-16zM1452 1171.4h16v8h-16zM892 1179.4h16v8h-16zM1444 1179.4h16v8h-16zM900 1187.4h16v8h-16zM1436 1187.4h16v8h-16zM900 1195.4h24v8h-24zM1428 1195.4h16v8h-16zM908 1203.4h16v8h-16zM1412 1203.4h24v8h-24zM916 1211.4h16v8h-16zM1404 1211.4h16v8h-16zM924 1219.4h16v8h-16zM1396 1219.4h16v8h-16zM932 1227.4h16v8h-16zM1380 1227.4h24v8h-24zM940 1235.4h24v8h-24zM1372 1235.4h16v8h-16zM948 1243.4h24v8h-24zM1356 1243.4h24v8h-24zM964 1251.4h24v8h-24zM1348 1251.4h16v8h-16zM972 1259.4h24v8h-24zM1332 1259.4h24v8h-24zM988 1267.4h24v8h-24zM1308 1267.4h32v8h-32zM1004 1275.4h32v8h-32zM1292 1275.4h24v8h-24zM1028 1283.4h32v8h-32zM1268 1283.4h32v8h-32zM1052 1291.4h40v8h-40zM1228 1291.4h48v8h-48zM1084 1299.4h160v8h-160z"/>
<path fill="#030311" d="M1204 291.4h96v8h-96zM1180 299.4h32v8h-32zM1292 299.4h32v8h-32zM1164 307.4h24v8h-24zM1324 307.4h24v8h-24zM1148 315.4h24v8h-24zM1348 315.4h16v8h-16zM1140 323.4h24v8h-24zM1364 323.4h16v8h-16zM1132 331.4h16v8h-16zM1372 331.4h16v8h-16zM1132 339.4h8v8h-8zM1388 339.4h16v8h-16zM1124 347.4h16v8h-16zM1396 347.4h16v8h-16zM1124 355.4h8v8h-8zM1412 355.4h8v8h-8zM1116 363.4h16v8h-16zM1420 363.4h8v8h-8zM1116 371.4h8v8h-8zM1428 371.4h8v8h-8zM780 379.4h24v8h-24zM1116 379.4h8v8h-8zM1436 379.4h8v8h-8zM748 387.4h80v8h-80zM1116 387.4h8v8h-8zM1444 387.4h8v8h-8zM708 395.4h128v8h-128zM1116 395.4h8v8h-8zM1444 395.4h16v8h-16zM620 403.4h112v8h-112zM812 403.4h32v8h-32zM1108 403.4h16v8h-16zM1452 403.4h8v8h-8zM580 411.4h56v8h-56zM820 411.4h32v8h-32zM1108 411.4h16v8h-16zM1460 411.4h8v8h-8zM556 419.4h32v8h-32zM828 419.4h24v8h-24zM1108 419.4h16v8h-16zM1468 419.4h8v8h-8zM540 427.4h24v8h-24zM836 427.4h16v8h-16zM1108 427.4h16v8h-16zM1468 427.4h8v8h-8zM532 435.4h16v8h-16zM836 435.4h24v8h-24zM1116 435.4h8v8h-8zM1476 435.4h8v8h-8zM516 443.4h24v8h-24zM844 443.4h16v8h-16zM1116 443.4h8v8h-8zM1484 443.4h8v8h-8zM508 451.4h16v8h-16zM844 451.4h16v8h-16zM1116 451.4h8v8h-8zM1484 451.4h8v8h-8zM500 459.4h16v8h-16zM844 459.4h16v8h-16zM1116 459.4h8v8h-8zM1492 459.4h8v8h-8zM492 467.4h16v8h-16zM844 467.4h16v8h-16zM1116 467.4h8v8h-8zM1492 467.4h8v8h-8zM492 475.4h8v8h-8zM852 475.4h8v8h-8zM1124 475.4h8v8h-8zM1500 475.4h8v8h-8zM484 483.4h8v8h-8zM852 483.4h8v8h-8zM1124 483.4h8v8h-8zM1500 483.4h8v8h-8zM476 491.4h16v8h-16zM852 491.4h16v8h-16zM1124 491.4h8v8h-8zM1508 491.4h8v8h-8zM476 499.4h8v8h-8zM852 499.4h16v8h-16zM1124 499.4h8v8h-8zM1508 499.4h8v8h-8zM468 507.4h8v8h-8zM852 507.4h16v8h-16zM1132 507.4h8v8h-8zM1516 507.4h8v8h-8zM468 515.4h8v8h-8zM852 515.4h16v8h-16zM1132 515.4h8v8h-8zM1516 515.4h8v8h-8zM460 523.4h8v8h-8zM852 523.4h16v8h-16zM1132 523.4h8v8h-8zM1524 523.4h8v8h-8zM460 531.4h8v8h-8zM860 531.4h8v8h-8zM1132 531.4h8v8h-8zM1524 531.4h8v8h-8zM452 539.4h16v8h-16zM860 539.4h8v8h-8zM1140 539.4h8v8h-8zM1532 539.4h8v8h-8zM452 547.4h8v8h-8zM860 547.4h8v8h-8zM1140 547.4h8v8h-8zM1532 547.4h8v8h-8zM452 555.4h8v8h-8zM860 555.4h8v8h-8zM1140 555.4h8v8h-8zM1540 555.4h8v8h-8zM452 563.4h8v8h-8zM860 563.4h8v8h-8zM1140 563.4h8v8h-8zM1540 563.4h8v8h-8zM444 571.4h16v8h-16zM860 571.4h8v8h-8zM1140 571.4h8v8h-8zM1540 571.4h16v8h-16zM444 579.4h8v8h-8zM860 579.4h8v8h-8zM1140 579.4h8v8h-8zM1548 579.4h8v8h-8zM444 587.4h8v8h-8zM860 587.4h8v8h-8zM1140 587.4h8v8h-8zM1548 587.4h8v8h-8zM444 595.4h8v8h-8zM860 595.4h8v8h-8zM1556 595.4h8v8h-8zM444 603.4h8v8h-8zM860 603.4h8v8h-8zM1148 603.4h8v8h-8zM1556 603.4h8v8h-8zM444 611.4h8v8h-8zM860 611.4h8v8h-8zM1148 611.4h8v8h-8zM1556 611.4h8v8h-8zM444 619.4h8v8h-8zM860 619.4h8v8h-8zM1148 619.4h8v8h-8zM1564 619.4h8v8h-8zM444 627.4h8v8h-8zM860 627.4h8v8h-8zM1148 627.4h8v8h-8zM1564 627.4h8v8h-8zM444 635.4h8v8h-8zM860 635.4h8v8h-8zM1148 635.4h8v8h-8zM1564 635.4h8v8h-8zM444 643.4h8v8h-8zM860 643.4h8v8h-8zM1564 643.4h8v8h-8zM452 651.4h8v8h-8zM860 651.4h8v8h-8zM1140 651.4h8v8h-8zM1572 651.4h8v8h-8zM452 659.4h8v8h-8zM860 659.4h8v8h-8zM1140 659.4h8v8h-8zM1572 659.4h8v8h-8zM452 667.4h8v8h-8zM852 667.4h16v8h-16zM1140 667.4h8v8h-8zM1572 667.4h8v8h-8zM452 675.4h8v8h-8zM852 675.4h8v8h-8zM1140 675.4h8v8h-8zM1572 675.4h8v8h-8zM460 683.4h8v8h-8zM852 683.4h8v8h-8zM1140 683.4h8v8h-8zM1572 683.4h8v8h-8zM460 691.4h8v8h-8zM852 691.4h8v8h-8zM1140 691.4h8v8h-8zM1580 691.4h8v8h-8zM460 699.4h16v8h-16zM844 699.4h8v8h-8zM1132 699.4h8v8h-8zM1580 699.4h8v8h-8zM468 707.4h8v8h-8zM844 707.4h8v8h-8zM1132 707.4h8v8h-8zM1580 707.4h8v8h-8zM476 715.4h8v8h-8zM836 715.4h8v8h-8zM1132 715.4h8v8h-8zM1580 715.4h8v8h-8zM476 723.4h8v8h-8zM836 723.4h8v8h-8zM1132 723.4h8v8h-8zM1580 723.4h8v8h-8zM484 731.4h8v8h-8zM828 731.4h8v8h-8zM1124 731.4h8v8h-8zM1580 731.4h8v8h-8zM492 739.4h8v8h-8zM820 739.4h8v8h-8zM1124 739.4h8v8h-8zM1580 739.4h8v8h-8zM492 747.4h16v8h-16zM812 747.4h16v8h-16zM1116 747.4h16v8h-16zM1580 747.4h8v8h-8zM500 755.4h8v8h-8zM812 755.4h8v8h-8zM1116 755.4h8v8h-8zM1580 755.4h8v8h-8zM508 763.4h8v8h-8zM804 763.4h8v8h-8zM1116 763.4h8v8h-8zM1580 763.4h8v8h-8zM516 771.4h8v8h-8zM796 771.4h8v8h-8zM1108 771.4h8v8h-8zM1580 771.4h8v8h-8zM524 779.4h8v8h-8zM788 779.4h8v8h-8zM1108 779.4h8v8h-8zM1580 779.4h8v8h-8zM532 787.4h8v8h-8zM780 787.4h8v8h-8zM1100 787.4h8v8h-8zM1580 787.4h8v8h-8zM540 795.4h16v8h-16zM772 795.4h8v8h-8zM1092 795.4h8v8h-8zM1580 795.4h8v8h-8zM548 803.4h16v8h-16zM764 803.4h8v8h-8zM1084 803.4h16v8h-16zM1580 803.4h8v8h-8zM556 811.4h24v8h-24zM748 811.4h16v8h-16zM1084 811.4h8v8h-8zM1580 811.4h8v8h-8zM572 819.4h16v8h-16zM740 819.4h16v8h-16zM1076 819.4h8v8h-8zM1580 819.4h8v8h-8zM588 827.4h16v8h-16zM724 827.4h24v8h-24zM1068 827.4h8v8h-8zM1572 827.4h16v8h-16zM604 835.4h32v8h-32zM700 835.4h32v8h-32zM1060 835.4h16v8h-16zM1572 835.4h8v8h-8zM620 843.4h88v8h-88zM1052 843.4h16v8h-16zM1572 843.4h8v8h-8zM1044 851.4h16v8h-16zM1572 851.4h8v8h-8zM1036 859.4h16v8h-16zM1572 859.4h8v8h-8zM1028 867.4h16v8h-16zM1564 867.4h16v8h-16zM1028 875.4h8v8h-8zM1564 875.4h8v8h-8zM1020 883.4h8v8h-8zM1564 883.4h8v8h-8zM1012 891.4h8v8h-8zM1556 891.4h16v8h-16zM1004 899.4h16v8h-16zM1556 899.4h8v8h-8zM996 907.4h16v8h-16zM1556 907.4h8v8h-8zM988 915.4h16v8h-16zM1548 915.4h16v8h-16zM980 923.4h16v8h-16zM1548 923.4h8v8h-8zM980 931.4h8v8h-8zM1540 931.4h16v8h-16zM972 939.4h8v8h-8zM1540 939.4h8v8h-8zM964 947.4h16v8h-16zM1532 947.4h16v8h-16zM956 955.4h16v8h-16zM1532 955.4h8v8h-8zM956 963.4h8v8h-8zM1524 963.4h16v8h-16zM948 971.4h8v8h-8zM1524 971.4h8v8h-8zM940 979.4h16v8h-16zM1516 979.4h8v8h-8zM932 987.4h16v8h-16zM1516 987.4h8v8h-8zM932 995.4h8v8h-8zM1508 995.4h8v8h-8zM924 1003.4h16v8h-16zM1508 1003.4h8v8h-8zM916 1011.4h16v8h-16zM1500 1011.4h8v8h-8zM916 1019.4h16v8h-16zM1500 1019.4h8v8h-8zM908 1027.4h16v8h-16zM1492 1027.4h16v8h-16zM908 1035.4h16v8h-16zM1492 1035.4h8v8h-8zM900 1043.4h16v8h-16zM1492 1043.4h8v8h-8zM900 1051.4h16v8h-16zM1484 1051.4h16v8h-16zM900 1059.4h8v8h-8zM1484 1059.4h8v8h-8zM900 1067.4h8v8h-8zM1484 1067.4h8v8h-8zM892 1075.4h16v8h-16zM1476 1075.4h16v8h-16zM892 1083.4h16v8h-16zM1476 1083.4h8v8h-8zM892 1091.4h16v8h-16zM1476 1091.4h8v8h-8zM892 1099.4h16v8h-16zM1476 1099.4h8v8h-8zM892 1107.4h16v8h-16zM1468 1107.4h16v8h-16zM892 1115.4h16v8h-16zM1468 1115.4h8v8h-8zM892 1123.4h16v8h-16zM1468 1123.4h8v8h-8zM892 1131.4h16v8h-16zM1460 1131.4h16v8h-16zM900 1139.4h8v8h-8zM1460 1139.4h8v8h-8zM900 1147.4h8v8h-8zM1452 1147.4h16v8h-16zM900 1155.4h16v8h-16zM1444 1155.4h16v8h-16zM900 1163.4h16v8h-16zM1444 1163.4h8v8h-8zM908 1171.4h16v8h-16zM1436 1171.4h16v8h-16zM908 1179.4h16v8h-16zM1428 1179.4h16v8h-16zM916 1187.4h16v8h-16zM1420 1187.4h16v8h-16zM924 1195.4h16v8h-16zM1412 1195.4h16v8h-16zM924 1203.4h16v8h-16zM1404 1203.4h8v8h-8zM932 1211.4h16v8h-16zM1388 1211.4h16v8h-16zM940 1219.4h16v8h-16zM1380 1219.4h16v8h-16zM948 1227.4h16v8h-16zM1364 1227.4h16v8h-16zM964 1235.4h16v8h-16zM1356 1235.4h16v8h-16zM972 1243.4h16v8h-16zM1340 1243.4h16v8h-16zM988 1251.4h16v8h-16zM1324 1251.4h24v8h-24zM996 1259.4h24v8h-24zM1308 1259.4h24v8h-24zM1012 1267.4h32v8h-32zM1284 1267.4h24v8h-24zM1036 1275.4h32v8h-32zM1260 1275.4h32v8h-32zM1060 1283.4h40v8h-40zM1220 1283.4h48v8h-48zM1092 1291.4h136v8h-136z"/>
<path fill="#040412" d="M1212 299.4h80v8h-80zM1188 307.4h32v8h-32zM1300 307.4h24v8h-24zM1172 315.4h24v8h-24zM1324 315.4h24v8h-24zM1164 323.4h16v8h-16zM1348 323.4h16v8h-16zM1148 331.4h16v8h-16zM1364 331.4h8v8h-8zM1140 339.4h16v8h-16zM1372 339.4h16v8h-16zM1140 347.4h8v8h-8zM1388 347.4h8v8h-8zM1132 355.4h16v8h-16zM1396 355.4h16v8h-16zM1132 363.4h8v8h-8zM1404 363.4h16v8h-16zM1124 371.4h16v8h-16zM1420 371.4h8v8h-8zM1124 379.4h8v8h-8zM1428 379.4h8v8h-8zM1124 387.4h8v8h-8zM1436 387.4h8v8h-8zM1124 395.4h8v8h-8zM1436 395.4h8v8h-8zM732 403.4h80v8h-80zM1124 403.4h8v8h-8zM1444 403.4h8v8h-8zM636 411.4h184v8h-184zM1124 411.4h8v8h-8zM1452 411.4h8v8h-8zM588 419.4h48v8h-48zM796 419.4h32v8h-32zM1124 419.4h8v8h-8zM1460 419.4h8v8h-8zM564 427.4h24v8h-24zM804 427.4h32v8h-32zM1124 427.4h8v8h-8zM1460 427.4h8v8h-8zM548 435.4h16v8h-16zM812 435.4h24v8h-24zM1124 435.4h8v8h-8zM1468 435.4h8v8h-8zM540 443.4h16v8h-16zM820 443.4h24v8h-24zM1124 443.4h8v8h-8zM1476 443.4h8v8h-8zM524 451.4h16v8h-16zM828 451.4h16v8h-16zM1124 451.4h8v8h-8zM1476 451.4h8v8h-8zM516 459.4h16v8h-16zM828 459.4h16v8h-16zM1124 459.4h8v8h-8zM1484 459.4h8v8h-8zM508 467.4h16v8h-16zM828 467.4h16v8h-16zM1124 467.4h8v8h-8zM1484 467.4h8v8h-8zM500 475.4h16v8h-16zM836 475.4h16v8h-16zM1132 475.4h8v8h-8zM1492 475.4h8v8h-8zM492 483.4h16v8h-16zM836 483.4h16v8h-16zM1132 483.4h8v8h-8zM1492 483.4h8v8h-8zM492 491.4h8v8h-8zM836 491.4h16v8h-16zM1132 491.4h8v8h-8zM1500 491.4h8v8h-8zM484 499.4h8v8h-8zM844 499.4h8v8h-8zM1132 499.4h8v8h-8zM1500 499.4h8v8h-8zM476 507.4h16v8h-16zM844 507.4h8v8h-8zM1508 507.4h8v8h-8zM476 515.4h8v8h-8zM844 515.4h8v8h-8zM1140 515.4h8v8h-8zM1508 515.4h8v8h-8zM468 523.4h16v8h-16zM844 523.4h8v8h-8zM1140 523.4h8v8h-8zM1516 523.4h8v8h-8zM468 531.4h8v8h-8zM844 531.4h16v8h-16zM1140 531.4h8v8h-8zM1516 531.4h8v8h-8zM468 539.4h8v8h-8zM852 539.4h8v8h-8zM1524 539.4h8v8h-8zM460 547.4h8v8h-8zM852 547.4h8v8h-8zM1524 547.4h8v8h-8zM460 555.4h8v8h-8zM852 555.4h8v8h-8zM1148 555.4h8v8h-8zM1532 555.4h8v8h-8zM460 563.4h8v8h-8zM852 563.4h8v8h-8zM1148 563.4h8v8h-8zM1532 563.4h8v8h-8zM852 571.4h8v8h-8zM1148 571.4h8v8h-8zM1532 571.4h8v8h-8zM452 579.4h8v8h-8zM852 579.4h8v8h-8zM1148 579.4h8v8h-8zM1540 579.4h8v8h-8zM452 587.4h8v8h-8zM852 587.4h8v8h-8zM1148 587.4h8v8h-8zM1540 587.4h8v8h-8zM452 595.4h8v8h-8zM852 595.4h8v8h-8zM1148 595.4h8v8h-8zM1548 595.4h8v8h-8zM452 603.4h8v8h-8zM852 603.4h8v8h-8zM1548 603.4h8v8h-8zM452 611.4h8v8h-8zM852 611.4h8v8h-8zM1548 611.4h8v8h-8zM452 619.4h8v8h-8zM852 619.4h8v8h-8zM1556 619.4h8v8h-8zM452 627.4h8v8h-8zM852 627.4h8v8h-8zM1556 627.4h8v8h-8zM452 635.4h8v8h-8zM852 635.4h8v8h-8zM1556 635.4h8v8h-8zM452 643.4h8v8h-8zM852 643.4h8v8h-8zM1148 643.4h8v8h-8zM1556 643.4h8v8h-8zM852 651.4h8v8h-8zM1148 651.4h8v8h-8zM1564 651.4h8v8h-8zM460 659.4h8v8h-8zM852 659.4h8v8h-8zM1148 659.4h8v8h-8zM1564 659.4h8v8h-8zM460 667.4h8v8h-8zM1148 667.4h8v8h-8zM1564 667.4h8v8h-8zM460 675.4h8v8h-8zM844 675.4h8v8h-8zM1148 675.4h8v8h-8zM1564 675.4h8v8h-8zM468 683.4h8v8h-8zM844 683.4h8v8h-8zM1148 683.4h8v8h-8zM1564 683.4h8v8h-8zM468 691.4h8v8h-8zM844 691.4h8v8h-8zM1148 691.4h8v8h-8zM1572 691.4h8v8h-8zM836 699.4h8v8h-8zM1140 699.4h8v8h-8zM1572 699.4h8v8h-8zM476 707.4h8v8h-8zM836 707.4h8v8h-8zM1140 707.4h8v8h-8zM1572 707.4h8v8h-8zM484 715.4h8v8h-8zM828 715.4h8v8h-8zM1140 715.4h8v8h-8zM1572 715.4h8v8h-8zM484 723.4h8v8h-8zM828 723.4h8v8h-8zM1140 723.4h8v8h-8zM1572 723.4h8v8h-8zM492 731.4h8v8h-8zM820 731.4h8v8h-8zM1132 731.4h8v8h-8zM1572 731.4h8v8h-8zM500 739.4h8v8h-8zM812 739.4h8v8h-8zM1132 739.4h8v8h-8zM1572 739.4h8v8h-8zM508 747.4h8v8h-8zM804 747.4h8v8h-8zM1132 747.4h8v8h-8zM1572 747.4h8v8h-8zM508 755.4h16v8h-16zM804 755.4h8v8h-8zM1124 755.4h8v8h-8zM1572 755.4h8v8h-8zM516 763.4h8v8h-8zM796 763.4h8v8h-8zM1124 763.4h8v8h-8zM1572 763.4h8v8h-8zM524 771.4h16v8h-16zM788 771.4h8v8h-8zM1116 771.4h8v8h-8zM1572 771.4h8v8h-8zM532 779.4h16v8h-16zM780 779.4h8v8h-8zM1116 779.4h8v8h-8zM1572 779.4h8v8h-8zM540 787.4h16v8h-16zM772 787.4h8v8h-8zM1108 787.4h8v8h-8zM1572 787.4h8v8h-8zM556 795.4h8v8h-8zM764 795.4h8v8h-8zM1100 795.4h16v8h-16zM1572 795.4h8v8h-8zM564 803.4h16v8h-16zM748 803.4h16v8h-16zM1100 803.4h8v8h-8zM1572 803.4h8v8h-8zM580 811.4h16v8h-16zM740 811.4h8v8h-8zM1092 811.4h8v8h-8zM1572 811.4h8v8h-8zM588 819.4h24v8h-24zM716 819.4h24v8h-24zM1084 819.4h8v8h-8zM1564 819.4h16v8h-16zM604 827.4h32v8h-32zM692 827.4h32v8h-32zM1076 827.4h16v8h-16zM1564 827.4h8v8h-8zM636 835.4h64v8h-64zM1076 835.4h8v8h-8zM1564 835.4h8v8h-8zM1068 843.4h8v8h-8zM1564 843.4h8v8h-8zM1060 851.4h8v8h-8zM1564 851.4h8v8h-8zM1052 859.4h8v8h-8zM1556 859.4h16v8h-16zM1044 867.4h8v8h-8zM1556 867.4h8v8h-8zM1036 875.4h8v8h-8zM1556 875.4h8v8h-8zM1028 883.4h16v8h-16zM1556 883.4h8v8h-8zM1020 891.4h16v8h-16zM1548 891.4h8v8h-8zM1020 899.4h8v8h-8zM1548 899.4h8v8h-8zM1012 907.4h8v8h-8zM1548 907.4h8v8h-8zM1004 915.4h8v8h-8zM1540 915.4h8v8h-8zM996 923.4h8v8h-8zM1540 923.4h8v8h-8zM988 931.4h16v8h-16zM1532 931.4h8v8h-8zM980 939.4h16v8h-16zM1532 939.4h8v8h-8zM980 947.4h8v8h-8zM1524 947.4h8v8h-8zM972 955.4h8v8h-8zM1524 955.4h8v8h-8zM964 963.4h16v8h-16zM1516 963.4h8v8h-8zM956 971.4h16v8h-16zM1516 971.4h8v8h-8zM956 979.4h8v8h-8zM1508 979.4h8v8h-8zM948 987.4h8v8h-8zM1508 987.4h8v8h-8zM940 995.4h16v8h-16zM1500 995.4h8v8h-8zM940 1003.4h8v8h-8zM1500 1003.4h8v8h-8zM932 1011.4h16v8h-16zM1492 1011.4h8v8h-8zM932 1019.4h8v8h-8zM1492 1019.4h8v8h-8zM924 1027.4h8v8h-8zM1484 1027.4h8v8h-8zM924 1035.4h8v8h-8zM1484 1035.4h8v8h-8zM916 1043.4h16v8h-16zM1476 1043.4h16v8h-16zM916 1051.4h8v8h-8zM1476 1051.4h8v8h-8zM908 1059.4h16v8h-16zM1476 1059.4h8v8h-8zM908 1067.4h16v8h-16zM1476 1067.4h8v8h-8zM908 1075.4h8v8h-8zM1468 1075.4h8v8h-8zM908 1083.4h8v8h-8zM1468 1083.4h8v8h-8zM908 1091.4h8v8h-8zM1468 1091.4h8v8h-8zM908 1099.4h8v8h-8zM1460 1099.4h16v8h-16zM908 1107.4h8v8h-8zM1460 1107.4h8v8h-8zM908 1115.4h8v8h-8zM1460 1115.4h8v8h-8zM908 1123.4h8v8h-8zM1452 1123.4h16v8h-16zM908 1131.4h8v8h-8zM1452 1131.4h8v8h-8zM908 1139.4h16v8h-16zM1444 1139.4h16v8h-16zM908 1147.4h16v8h-16zM1444 1147.4h8v8h-8zM916 1155.4h8v8h-8zM1436 1155.4h8v8h-8zM916 1163.4h16v8h-16zM1428 1163.4h16v8h-16zM924 1171.4h8v8h-8zM1420 1171.4h16v8h-16zM924 1179.4h16v8h-16zM1412 1179.4h16v8h-16zM932 1187.4h8v8h-8zM1404 1187.4h16v8h-16zM940 1195.4h8v8h-8zM1396 1195.4h16v8h-16zM940 1203.4h16v8h-16zM1388 1203.4h16v8h-16zM948 1211.4h16v8h-16zM1380 1211.4h8v8h-8zM956 1219.4h16v8h-16zM1364 1219.4h16v8h-16zM964 1227.4h16v8h-16zM1356 1227.4h8v8h-8zM980 1235.4h16v8h-16zM1340 1235.4h16v8h-16zM988 1243.4h16v8h-16zM1324 1243.4h16v8h-16zM1004 1251.4h16v8h-16zM1308 1251.4h16v8h-16zM1020 1259.4h24v8h-24zM1284 1259.4h24v8h-24zM1044 1267.4h16v8h-16zM1260 1267.4h24v8h-24zM1068 1275.4h24v8h-24zM1228 1275.4h32v8h-32zM1100 1283.4h120v8h-120z"/>
<path fill="#050516" d="M1220 307.4h80v8h-80zM1196 315.4h24v8h-24zM1308 315.4h16v8h-16zM1180 323.4h16v8h-16zM1332 323.4h16v8h-16zM1164 331.4h16v8h-16zM1348 331.4h16v8h-16zM1156 339.4h16v8h-16zM1364 339.4h8v8h-8zM1148 347.4h16v8h-16zM1380 347.4h8v8h-8zM1148 355.4h8v8h-8zM1388 355.4h8v8h-8zM1140 363.4h8v8h-8zM1396 363.4h8v8h-8zM1140 371.4h8v8h-8zM1404 371.4h16v8h-16zM1132 379.4h8v8h-8zM1420 379.4h8v8h-8zM1132 387.4h8v8h-8zM1428 387.4h8v8h-8zM1132 395.4h8v8h-8zM1428 395.4h8v8h-8zM1132 403.4h8v8h-8zM1436 403.4h8v8h-8zM1132 411.4h8v8h-8zM1444 411.4h8v8h-8zM636 419.4h160v8h-160zM1132 419.4h8v8h-8zM1452 419.4h8v8h-8zM588 427.4h40v8h-40zM756 427.4h48v8h-48zM1132 427.4h8v8h-8zM564 435.4h24v8h-24zM788 435.4h24v8h-24zM1132 435.4h8v8h-8zM1460 435.4h8v8h-8zM556 443.4h16v8h-16zM796 443.4h24v8h-24zM1132 443.4h8v8h-8zM1468 443.4h8v8h-8zM540 451.4h16v8h-16zM804 451.4h24v8h-24zM1132 451.4h8v8h-8zM1468 451.4h8v8h-8zM532 459.4h8v8h-8zM812 459.4h16v8h-16zM1132 459.4h8v8h-8zM1476 459.4h8v8h-8zM524 467.4h8v8h-8zM812 467.4h16v8h-16zM1132 467.4h8v8h-8zM516 475.4h8v8h-8zM820 475.4h16v8h-16zM1484 475.4h8v8h-8zM508 483.4h8v8h-8zM820 483.4h16v8h-16zM500 491.4h8v8h-8zM828 491.4h8v8h-8zM1140 491.4h8v8h-8zM1492 491.4h8v8h-8zM492 499.4h8v8h-8zM828 499.4h16v8h-16zM1140 499.4h8v8h-8zM492 507.4h8v8h-8zM828 507.4h16v8h-16zM1140 507.4h8v8h-8zM1500 507.4h8v8h-8zM484 515.4h8v8h-8zM836 515.4h8v8h-8zM836 523.4h8v8h-8zM1148 523.4h8v8h-8zM1508 523.4h8v8h-8zM476 531.4h8v8h-8zM836 531.4h8v8h-8zM1148 531.4h8v8h-8zM1508 531.4h8v8h-8zM476 539.4h8v8h-8zM836 539.4h16v8h-16zM1148 539.4h8v8h-8zM1516 539.4h8v8h-8zM468 547.4h8v8h-8zM844 547.4h8v8h-8zM1148 547.4h8v8h-8zM1516 547.4h8v8h-8zM468 555.4h8v8h-8zM844 555.4h8v8h-8zM1524 555.4h8v8h-8zM468 563.4h8v8h-8zM844 563.4h8v8h-8zM1524 563.4h8v8h-8zM460 571.4h8v8h-8zM844 571.4h8v8h-8zM1156 571.4h8v8h-8zM460 579.4h8v8h-8zM844 579.4h8v8h-8zM1156 579.4h8v8h-8zM1532 579.4h8v8h-8zM460 587.4h8v8h-8zM844 587.4h8v8h-8zM1156 587.4h8v8h-8zM1532 587.4h8v8h-8zM460 595.4h8v8h-8zM844 595.4h8v8h-8zM1156 595.4h8v8h-8zM1540 595.4h8v8h-8zM460 603.4h8v8h-8zM844 603.4h8v8h-8zM1156 603.4h8v8h-8zM1540 603.4h8v8h-8zM460 611.4h8v8h-8zM1156 611.4h8v8h-8zM1540 611.4h8v8h-8zM460 619.4h8v8h-8zM1156 619.4h8v8h-8zM1548 619.4h8v8h-8zM460 627.4h8v8h-8zM844 627.4h8v8h-8zM1156 627.4h8v8h-8zM1548 627.4h8v8h-8zM460 635.4h8v8h-8zM844 635.4h8v8h-8zM1156 635.4h8v8h-8zM1548 635.4h8v8h-8zM460 643.4h8v8h-8zM844 643.4h8v8h-8zM1156 643.4h8v8h-8zM460 651.4h8v8h-8zM844 651.4h8v8h-8zM1156 651.4h8v8h-8zM1556 651.4h8v8h-8zM844 659.4h8v8h-8zM1156 659.4h8v8h-8zM1556 659.4h8v8h-8zM468 667.4h8v8h-8zM844 667.4h8v8h-8zM1156 667.4h8v8h-8zM1556 667.4h8v8h-8zM468 675.4h8v8h-8zM1556 675.4h8v8h-8zM836 683.4h8v8h-8zM476 691.4h8v8h-8zM836 691.4h8v8h-8zM1564 691.4h8v8h-8zM476 699.4h8v8h-8zM828 699.4h8v8h-8zM1148 699.4h8v8h-8zM1564 699.4h8v8h-8zM484 707.4h8v8h-8zM828 707.4h8v8h-8zM1148 707.4h8v8h-8zM1564 707.4h8v8h-8zM820 715.4h8v8h-8zM1148 715.4h8v8h-8zM1564 715.4h8v8h-8zM492 723.4h8v8h-8zM820 723.4h8v8h-8zM1564 723.4h8v8h-8zM500 731.4h8v8h-8zM812 731.4h8v8h-8zM1140 731.4h8v8h-8zM1564 731.4h8v8h-8zM508 739.4h8v8h-8zM804 739.4h8v8h-8zM1140 739.4h8v8h-8zM1564 739.4h8v8h-8zM516 747.4h8v8h-8zM1564 747.4h8v8h-8zM796 755.4h8v8h-8zM1132 755.4h8v8h-8zM1564 755.4h8v8h-8zM524 763.4h8v8h-8zM788 763.4h8v8h-8zM1132 763.4h8v8h-8zM1564 763.4h8v8h-8zM540 771.4h8v8h-8zM780 771.4h8v8h-8zM1124 771.4h8v8h-8zM1564 771.4h8v8h-8zM548 779.4h8v8h-8zM772 779.4h8v8h-8zM1124 779.4h8v8h-8zM1564 779.4h8v8h-8zM556 787.4h8v8h-8zM764 787.4h8v8h-8zM1116 787.4h8v8h-8zM1564 787.4h8v8h-8zM564 795.4h16v8h-16zM748 795.4h16v8h-16zM1564 795.4h8v8h-8zM580 803.4h16v8h-16zM740 803.4h8v8h-8zM1108 803.4h8v8h-8zM1564 803.4h8v8h-8zM596 811.4h16v8h-16zM716 811.4h24v8h-24zM1100 811.4h8v8h-8zM1564 811.4h8v8h-8zM612 819.4h24v8h-24zM692 819.4h24v8h-24zM1092 819.4h8v8h-8zM636 827.4h56v8h-56zM1556 827.4h8v8h-8zM1084 835.4h8v8h-8zM1556 835.4h8v8h-8zM1076 843.4h8v8h-8zM1556 843.4h8v8h-8zM1068 851.4h8v8h-8zM1556 851.4h8v8h-8zM1060 859.4h8v8h-8zM1052 867.4h8v8h-8zM1548 867.4h8v8h-8zM1044 875.4h8v8h-8zM1548 875.4h8v8h-8zM1044 883.4h8v8h-8zM1548 883.4h8v8h-8zM1036 891.4h8v8h-8zM1540 891.4h8v8h-8zM1028 899.4h8v8h-8zM1540 899.4h8v8h-8zM1020 907.4h8v8h-8zM1540 907.4h8v8h-8zM1012 915.4h8v8h-8zM1532 915.4h8v8h-8zM1004 923.4h16v8h-16zM1532 923.4h8v8h-8zM1004 931.4h8v8h-8zM1524 931.4h8v8h-8zM996 939.4h8v8h-8zM1524 939.4h8v8h-8zM988 947.4h8v8h-8zM1516 947.4h8v8h-8zM980 955.4h8v8h-8zM1516 955.4h8v8h-8zM980 963.4h8v8h-8zM1508 963.4h8v8h-8zM972 971.4h8v8h-8zM1508 971.4h8v8h-8zM964 979.4h8v8h-8zM1500 979.4h8v8h-8zM956 987.4h16v8h-16zM1500 987.4h8v8h-8zM956 995.4h8v8h-8zM1492 995.4h8v8h-8zM948 1003.4h8v8h-8zM1492 1003.4h8v8h-8zM948 1011.4h8v8h-8zM1484 1011.4h8v8h-8zM940 1019.4h8v8h-8zM1484 1019.4h8v8h-8zM932 1027.4h16v8h-16zM1476 1027.4h8v8h-8zM932 1035.4h8v8h-8zM1476 1035.4h8v8h-8zM932 1043.4h8v8h-8zM924 1051.4h8v8h-8zM1468 1051.4h8v8h-8zM924 1059.4h8v8h-8zM1468 1059.4h8v8h-8zM924 1067.4h8v8h-8zM1468 1067.4h8v8h-8zM916 1075.4h16v8h-16zM1460 1075.4h8v8h-8zM916 1083.4h8v8h-8zM1460 1083.4h8v8h-8zM916 1091.4h8v8h-8zM1460 1091.4h8v8h-8zM916 1099.4h8v8h-8zM1452 1099.4h8v8h-8zM916 1107.4h8v8h-8zM1452 1107.4h8v8h-8zM916 1115.4h8v8h-8zM1452 1115.4h8v8h-8zM916 1123.4h8v8h-8zM1444 1123.4h8v8h-8zM916 1131.4h16v8h-16zM1444 1131.4h8v8h-8zM924 1139.4h8v8h-8zM1436 1139.4h8v8h-8zM924 1147.4h8v8h-8zM1436 1147.4h8v8h-8zM924 1155.4h8v8h-8zM1428 1155.4h8v8h-8zM932 1163.4h8v8h-8zM1420 1163.4h8v8h-8zM932 1171.4h8v8h-8zM1412 1171.4h8v8h-8zM940 1179.4h8v8h-8zM1404 1179.4h8v8h-8zM940 1187.4h16v8h-16zM1396 1187.4h8v8h-8zM948 1195.4h8v8h-8zM1388 1195.4h8v8h-8zM956 1203.4h8v8h-8zM1380 1203.4h8v8h-8zM964 1211.4h8v8h-8zM1364 1211.4h16v8h-16zM972 1219.4h16v8h-16zM1356 1219.4h8v8h-8zM980 1227.4h16v8h-16zM1340 1227.4h16v8h-16zM996 1235.4h8v8h-8zM1324 1235.4h16v8h-16zM1004 1243.4h16v8h-16zM1308 1243.4h16v8h-16zM1020 1251.4h16v8h-16zM1292 1251.4h16v8h-16zM1044 1259.4h16v8h-16zM1268 1259.4h16v8h-16zM1060 1267.4h24v8h-24zM1236 1267.4h24v8h-24zM1092 1275.4h48v8h-48zM1180 1275.4h48v8h-48z"/>
<path fill="#060518" d="M1220 315.4h88v8h-88zM1196 323.4h16v8h-16zM1316 323.4h16v8h-16zM1180 331.4h16v8h-16zM1340 331.4h8v8h-8zM1172 339.4h8v8h-8zM1356 339.4h8v8h-8zM1164 347.4h8v8h-8zM1364 347.4h16v8h-16zM1156 355.4h8v8h-8zM1380 355.4h8v8h-8zM1148 363.4h8v8h-8zM1388 363.4h8v8h-8zM1148 371.4h8v8h-8zM1140 379.4h8v8h-8zM1412 379.4h8v8h-8zM1140 387.4h8v8h-8zM1420 387.4h8v8h-8zM1140 395.4h8v8h-8zM1436 411.4h8v8h-8zM1444 419.4h8v8h-8zM628 427.4h128v8h-128zM1452 427.4h8v8h-8zM588 435.4h24v8h-24zM732 435.4h56v8h-56zM572 443.4h16v8h-16zM764 443.4h32v8h-32zM1460 443.4h8v8h-8zM556 451.4h8v8h-8zM780 451.4h24v8h-24zM540 459.4h16v8h-16zM788 459.4h24v8h-24zM1140 459.4h8v8h-8zM1468 459.4h8v8h-8zM532 467.4h8v8h-8zM796 467.4h16v8h-16zM1140 467.4h8v8h-8zM1476 467.4h8v8h-8zM524 475.4h8v8h-8zM804 475.4h16v8h-16zM1140 475.4h8v8h-8zM1476 475.4h8v8h-8zM516 483.4h8v8h-8zM812 483.4h8v8h-8zM1140 483.4h8v8h-8zM1484 483.4h8v8h-8zM508 491.4h8v8h-8zM812 491.4h16v8h-16zM1484 491.4h8v8h-8zM500 499.4h8v8h-8zM820 499.4h8v8h-8zM1148 499.4h8v8h-8zM1492 499.4h8v8h-8zM500 507.4h8v8h-8zM820 507.4h8v8h-8zM1148 507.4h8v8h-8zM1492 507.4h8v8h-8zM492 515.4h8v8h-8zM820 515.4h16v8h-16zM1148 515.4h8v8h-8zM1500 515.4h8v8h-8zM484 523.4h8v8h-8zM828 523.4h8v8h-8zM1500 523.4h8v8h-8zM484 531.4h8v8h-8zM828 531.4h8v8h-8zM1156 539.4h8v8h-8zM1508 539.4h8v8h-8zM476 547.4h8v8h-8zM836 547.4h8v8h-8zM1156 547.4h8v8h-8zM476 555.4h8v8h-8zM836 555.4h8v8h-8zM1156 555.4h8v8h-8zM1516 555.4h8v8h-8zM836 563.4h8v8h-8zM1156 563.4h8v8h-8zM1516 563.4h8v8h-8zM468 571.4h8v8h-8zM836 571.4h8v8h-8zM1524 571.4h8v8h-8zM468 579.4h8v8h-8zM1524 579.4h8v8h-8zM468 587.4h8v8h-8zM1532 595.4h8v8h-8zM1532 603.4h8v8h-8zM844 611.4h8v8h-8zM844 619.4h8v8h-8zM1540 619.4h8v8h-8zM1540 627.4h8v8h-8zM468 643.4h8v8h-8zM1548 643.4h8v8h-8zM468 651.4h8v8h-8zM1548 651.4h8v8h-8zM468 659.4h8v8h-8zM836 659.4h8v8h-8zM1548 659.4h8v8h-8zM836 667.4h8v8h-8zM476 675.4h8v8h-8zM836 675.4h8v8h-8zM1156 675.4h8v8h-8zM476 683.4h8v8h-8zM1156 683.4h8v8h-8zM1556 683.4h8v8h-8zM828 691.4h8v8h-8zM1156 691.4h8v8h-8zM1556 691.4h8v8h-8zM484 699.4h8v8h-8zM1156 699.4h8v8h-8zM1556 699.4h8v8h-8zM820 707.4h8v8h-8zM1556 707.4h8v8h-8zM492 715.4h8v8h-8zM1556 715.4h8v8h-8zM500 723.4h8v8h-8zM812 723.4h8v8h-8zM1148 723.4h8v8h-8zM508 731.4h8v8h-8zM804 731.4h8v8h-8zM1148 731.4h8v8h-8zM796 747.4h8v8h-8zM1140 747.4h8v8h-8zM524 755.4h8v8h-8zM788 755.4h8v8h-8zM1140 755.4h8v8h-8zM532 763.4h8v8h-8zM780 763.4h8v8h-8zM548 771.4h8v8h-8zM772 771.4h8v8h-8zM1132 771.4h8v8h-8zM556 779.4h8v8h-8zM764 779.4h8v8h-8zM1556 779.4h8v8h-8zM564 787.4h8v8h-8zM748 787.4h16v8h-16zM1124 787.4h8v8h-8zM1556 787.4h8v8h-8zM580 795.4h8v8h-8zM740 795.4h8v8h-8zM1116 795.4h8v8h-8zM1556 795.4h8v8h-8zM596 803.4h8v8h-8zM724 803.4h16v8h-16zM1116 803.4h8v8h-8zM1556 803.4h8v8h-8zM612 811.4h24v8h-24zM700 811.4h16v8h-16zM1108 811.4h8v8h-8zM1556 811.4h8v8h-8zM636 819.4h56v8h-56zM1100 819.4h8v8h-8zM1556 819.4h8v8h-8zM1092 827.4h8v8h-8zM1092 835.4h8v8h-8zM1548 835.4h8v8h-8zM1084 843.4h8v8h-8zM1548 843.4h8v8h-8zM1076 851.4h8v8h-8zM1548 851.4h8v8h-8zM1068 859.4h8v8h-8zM1548 859.4h8v8h-8zM1060 867.4h8v8h-8zM1540 867.4h8v8h-8zM1052 875.4h8v8h-8zM1540 875.4h8v8h-8zM1052 883.4h8v8h-8zM1540 883.4h8v8h-8zM1044 891.4h8v8h-8zM1036 899.4h8v8h-8zM1532 899.4h8v8h-8zM1028 907.4h8v8h-8zM1532 907.4h8v8h-8zM1020 915.4h8v8h-8zM1524 915.4h8v8h-8zM1020 923.4h8v8h-8zM1524 923.4h8v8h-8zM1012 931.4h8v8h-8zM1516 931.4h8v8h-8zM1004 939.4h8v8h-8zM1516 939.4h8v8h-8zM996 947.4h8v8h-8zM988 955.4h8v8h-8zM1508 955.4h8v8h-8zM988 963.4h8v8h-8zM1500 963.4h8v8h-8zM980 971.4h8v8h-8zM1500 971.4h8v8h-8zM972 979.4h8v8h-8zM1492 979.4h8v8h-8zM972 987.4h8v8h-8zM1492 987.4h8v8h-8zM964 995.4h8v8h-8zM1484 995.4h8v8h-8zM956 1003.4h8v8h-8zM1484 1003.4h8v8h-8zM956 1011.4h8v8h-8zM1476 1011.4h8v8h-8zM948 1019.4h8v8h-8zM1476 1019.4h8v8h-8zM948 1027.4h8v8h-8zM1468 1027.4h8v8h-8zM940 1035.4h8v8h-8zM1468 1035.4h8v8h-8zM940 1043.4h8v8h-8zM1468 1043.4h8v8h-8zM932 1051.4h8v8h-8zM1460 1051.4h8v8h-8zM932 1059.4h8v8h-8zM1460 1059.4h8v8h-8zM932 1067.4h8v8h-8zM1460 1067.4h8v8h-8zM932 1075.4h8v8h-8zM924 1083.4h8v8h-8zM1452 1083.4h8v8h-8zM924 1091.4h8v8h-8zM1452 1091.4h8v8h-8zM924 1099.4h8v8h-8zM924 1107.4h8v8h-8zM1444 1107.4h8v8h-8zM924 1115.4h8v8h-8zM1444 1115.4h8v8h-8zM924 1123.4h8v8h-8zM1436 1123.4h8v8h-8zM932 1131.4h8v8h-8zM1436 1131.4h8v8h-8zM932 1139.4h8v8h-8zM1428 1139.4h8v8h-8zM932 1147.4h8v8h-8zM1428 1147.4h8v8h-8zM932 1155.4h8v8h-8zM1420 1155.4h8v8h-8zM940 1163.4h8v8h-8zM1412 1163.4h8v8h-8zM940 1171.4h8v8h-8zM1404 1171.4h8v8h-8zM948 1179.4h8v8h-8zM1396 1179.4h8v8h-8zM956 1187.4h8v8h-8zM1388 1187.4h8v8h-8zM956 1195.4h16v8h-16zM1380 1195.4h8v8h-8zM964 1203.4h16v8h-16zM1364 1203.4h16v8h-16zM972 1211.4h16v8h-16zM1356 1211.4h8v8h-8zM988 1219.4h8v8h-8zM1340 1219.4h16v8h-16zM996 1227.4h8v8h-8zM1324 1227.4h16v8h-16zM1004 1235.4h16v8h-16zM1308 1235.4h16v8h-16zM1020 1243.4h16v8h-16zM1292 1243.4h16v8h-16zM1036 1251.4h16v8h-16zM1268 1251.4h24v8h-24zM1060 1259.4h16v8h-16zM1244 1259.4h24v8h-24zM1084 1267.4h24v8h-24zM1204 1267.4h32v8h-32zM1140 1275.4h40v8h-40z"/>
<path fill="#08071c" d="M1212 323.4h24v8h-24zM1292 323.4h24v8h-24zM1196 331.4h16v8h-16zM1324 331.4h16v8h-16zM1180 339.4h16v8h-16zM1340 339.4h16v8h-16zM1172 347.4h8v8h-8zM1356 347.4h8v8h-8zM1164 355.4h8v8h-8zM1372 355.4h8v8h-8zM1156 363.4h8v8h-8zM1380 363.4h8v8h-8zM1156 371.4h8v8h-8zM1396 371.4h8v8h-8zM1148 379.4h8v8h-8zM1404 379.4h8v8h-8zM1148 387.4h8v8h-8zM1412 387.4h8v8h-8zM1420 395.4h8v8h-8zM1140 403.4h8v8h-8zM1428 403.4h8v8h-8zM1140 411.4h8v8h-8zM1140 419.4h8v8h-8zM1436 419.4h8v8h-8zM1140 427.4h8v8h-8zM1444 427.4h8v8h-8zM612 435.4h120v8h-120zM1140 435.4h8v8h-8zM1452 435.4h8v8h-8zM588 443.4h16v8h-16zM724 443.4h40v8h-40zM1140 443.4h8v8h-8zM564 451.4h16v8h-16zM756 451.4h24v8h-24zM1140 451.4h8v8h-8zM1460 451.4h8v8h-8zM556 459.4h8v8h-8zM772 459.4h16v8h-16zM540 467.4h8v8h-8zM780 467.4h16v8h-16zM1468 467.4h8v8h-8zM532 475.4h8v8h-8zM788 475.4h16v8h-16zM1148 475.4h8v8h-8zM524 483.4h8v8h-8zM796 483.4h16v8h-16zM1148 483.4h8v8h-8zM1476 483.4h8v8h-8zM516 491.4h8v8h-8zM804 491.4h8v8h-8zM1148 491.4h8v8h-8zM508 499.4h8v8h-8zM804 499.4h16v8h-16zM1484 499.4h8v8h-8zM812 507.4h8v8h-8zM500 515.4h8v8h-8zM812 515.4h8v8h-8zM1156 515.4h8v8h-8zM1492 515.4h8v8h-8zM492 523.4h8v8h-8zM820 523.4h8v8h-8zM1156 523.4h8v8h-8zM820 531.4h8v8h-8zM1156 531.4h8v8h-8zM1500 531.4h8v8h-8zM484 539.4h8v8h-8zM828 539.4h8v8h-8zM484 547.4h8v8h-8zM828 547.4h8v8h-8zM1508 547.4h8v8h-8zM828 555.4h8v8h-8zM1508 555.4h8v8h-8zM476 563.4h8v8h-8zM476 571.4h8v8h-8zM1164 571.4h8v8h-8zM1516 571.4h8v8h-8zM836 579.4h8v8h-8zM1164 579.4h8v8h-8zM836 587.4h8v8h-8zM1164 587.4h8v8h-8zM1524 587.4h8v8h-8zM468 595.4h8v8h-8zM836 595.4h8v8h-8zM1164 595.4h8v8h-8zM1524 595.4h8v8h-8zM468 603.4h8v8h-8zM836 603.4h8v8h-8zM1164 603.4h8v8h-8zM468 611.4h8v8h-8zM836 611.4h8v8h-8zM1164 611.4h8v8h-8zM1532 611.4h8v8h-8zM468 619.4h8v8h-8zM836 619.4h8v8h-8zM1164 619.4h8v8h-8zM1532 619.4h8v8h-8zM468 627.4h8v8h-8zM836 627.4h8v8h-8zM1164 627.4h8v8h-8zM468 635.4h8v8h-8zM836 635.4h8v8h-8zM1164 635.4h8v8h-8zM1540 635.4h8v8h-8zM836 643.4h8v8h-8zM1164 643.4h8v8h-8zM1540 643.4h8v8h-8zM836 651.4h8v8h-8zM1164 651.4h8v8h-8zM476 659.4h8v8h-8zM1164 659.4h8v8h-8zM476 667.4h8v8h-8zM1164 667.4h8v8h-8zM1548 667.4h8v8h-8zM828 675.4h8v8h-8zM1164 675.4h8v8h-8zM1548 675.4h8v8h-8zM484 683.4h8v8h-8zM828 683.4h8v8h-8zM1548 683.4h8v8h-8zM484 691.4h8v8h-8zM492 699.4h8v8h-8zM820 699.4h8v8h-8zM492 707.4h8v8h-8zM1156 707.4h8v8h-8zM500 715.4h8v8h-8zM812 715.4h8v8h-8zM1156 715.4h8v8h-8zM804 723.4h8v8h-8zM1156 723.4h8v8h-8zM1556 723.4h8v8h-8zM1556 731.4h8v8h-8zM516 739.4h8v8h-8zM796 739.4h8v8h-8zM1148 739.4h8v8h-8zM1556 739.4h8v8h-8zM524 747.4h8v8h-8zM788 747.4h8v8h-8zM1148 747.4h8v8h-8zM1556 747.4h8v8h-8zM532 755.4h8v8h-8zM780 755.4h8v8h-8zM1556 755.4h8v8h-8zM540 763.4h8v8h-8zM772 763.4h8v8h-8zM1140 763.4h8v8h-8zM1556 763.4h8v8h-8zM556 771.4h8v8h-8zM764 771.4h8v8h-8zM1140 771.4h8v8h-8zM1556 771.4h8v8h-8zM564 779.4h8v8h-8zM756 779.4h8v8h-8zM1132 779.4h8v8h-8zM572 787.4h16v8h-16zM740 787.4h8v8h-8zM588 795.4h16v8h-16zM724 795.4h16v8h-16zM1124 795.4h8v8h-8zM604 803.4h24v8h-24zM708 803.4h16v8h-16zM1548 803.4h8v8h-8zM636 811.4h64v8h-64zM1116 811.4h8v8h-8zM1548 811.4h8v8h-8zM1108 819.4h8v8h-8zM1548 819.4h8v8h-8zM1100 827.4h8v8h-8zM1548 827.4h8v8h-8zM1084 851.4h8v8h-8zM1540 851.4h8v8h-8zM1076 859.4h8v8h-8zM1540 859.4h8v8h-8zM1068 867.4h8v8h-8zM1060 875.4h8v8h-8zM1532 875.4h8v8h-8zM1532 883.4h8v8h-8zM1052 891.4h8v8h-8zM1532 891.4h8v8h-8zM1044 899.4h8v8h-8zM1524 899.4h8v8h-8zM1036 907.4h8v8h-8zM1524 907.4h8v8h-8zM1028 915.4h8v8h-8zM1516 923.4h8v8h-8zM1020 931.4h8v8h-8zM1012 939.4h8v8h-8zM1508 939.4h8v8h-8zM1004 947.4h8v8h-8zM1508 947.4h8v8h-8zM996 955.4h8v8h-8zM1500 955.4h8v8h-8zM996 963.4h8v8h-8zM988 971.4h8v8h-8zM1492 971.4h8v8h-8zM980 979.4h8v8h-8zM980 987.4h8v8h-8zM1484 987.4h8v8h-8zM972 995.4h8v8h-8zM964 1003.4h8v8h-8zM1476 1003.4h8v8h-8zM964 1011.4h8v8h-8zM956 1019.4h8v8h-8zM1468 1019.4h8v8h-8zM956 1027.4h8v8h-8zM948 1035.4h8v8h-8zM1460 1035.4h8v8h-8zM948 1043.4h8v8h-8zM1460 1043.4h8v8h-8zM940 1051.4h8v8h-8zM940 1059.4h8v8h-8zM1452 1059.4h8v8h-8zM940 1067.4h8v8h-8zM1452 1067.4h8v8h-8zM940 1075.4h8v8h-8zM1452 1075.4h8v8h-8zM932 1083.4h8v8h-8zM932 1091.4h8v8h-8zM1444 1091.4h8v8h-8zM932 1099.4h8v8h-8zM1444 1099.4h8v8h-8zM932 1107.4h8v8h-8zM1436 1107.4h8v8h-8zM932 1115.4h8v8h-8zM1436 1115.4h8v8h-8zM932 1123.4h8v8h-8zM1428 1131.4h8v8h-8zM940 1139.4h8v8h-8zM940 1147.4h8v8h-8zM1420 1147.4h8v8h-8zM940 1155.4h8v8h-8zM1412 1155.4h8v8h-8zM948 1163.4h8v8h-8zM1404 1163.4h8v8h-8zM948 1171.4h8v8h-8zM1396 1171.4h8v8h-8zM956 1179.4h8v8h-8zM1388 1179.4h8v8h-8zM964 1187.4h8v8h-8zM1380 1187.4h8v8h-8zM972 1195.4h8v8h-8zM1372 1195.4h8v8h-8zM980 1203.4h8v8h-8zM1356 1203.4h8v8h-8zM988 1211.4h8v8h-8zM1348 1211.4h8v8h-8zM996 1219.4h8v8h-8zM1332 1219.4h8v8h-8zM1004 1227.4h16v8h-16zM1316 1227.4h8v8h-8zM1020 1235.4h8v8h-8zM1300 1235.4h8v8h-8zM1036 1243.4h8v8h-8zM1276 1243.4h16v8h-16zM1052 1251.4h16v8h-16zM1252 1251.4h16v8h-16zM1076 1259.4h16v8h-16zM1220 1259.4h24v8h-24zM1108 1267.4h96v8h-96z"/>
<path fill="#0a0821" d="M1236 323.4h56v8h-56zM1212 331.4h16v8h-16zM1308 331.4h16v8h-16zM1196 339.4h8v8h-8zM1332 339.4h8v8h-8zM1180 347.4h8v8h-8zM1348 347.4h8v8h-8zM1172 355.4h8v8h-8zM1364 355.4h8v8h-8zM1164 363.4h8v8h-8zM1388 371.4h8v8h-8zM1156 379.4h8v8h-8zM1396 379.4h8v8h-8zM1404 387.4h8v8h-8zM1148 395.4h8v8h-8zM1412 395.4h8v8h-8zM1148 403.4h8v8h-8zM1420 403.4h8v8h-8zM1148 411.4h8v8h-8zM1428 411.4h8v8h-8zM1148 419.4h8v8h-8zM1148 427.4h8v8h-8zM1148 435.4h8v8h-8zM1444 435.4h8v8h-8zM604 443.4h24v8h-24zM692 443.4h32v8h-32zM1148 443.4h8v8h-8zM1452 443.4h8v8h-8zM580 451.4h16v8h-16zM724 451.4h32v8h-32zM1148 451.4h8v8h-8zM564 459.4h8v8h-8zM748 459.4h24v8h-24zM1148 459.4h8v8h-8zM1460 459.4h8v8h-8zM548 467.4h16v8h-16zM764 467.4h16v8h-16zM1148 467.4h8v8h-8zM540 475.4h8v8h-8zM772 475.4h16v8h-16zM1468 475.4h8v8h-8zM532 483.4h8v8h-8zM780 483.4h16v8h-16zM524 491.4h8v8h-8zM788 491.4h16v8h-16zM1476 491.4h8v8h-8zM516 499.4h8v8h-8zM796 499.4h8v8h-8zM1156 499.4h8v8h-8zM508 507.4h8v8h-8zM804 507.4h8v8h-8zM1156 507.4h8v8h-8zM1484 507.4h8v8h-8zM804 515.4h8v8h-8zM500 523.4h8v8h-8zM812 523.4h8v8h-8zM1492 523.4h8v8h-8zM492 531.4h8v8h-8zM812 531.4h8v8h-8zM492 539.4h8v8h-8zM820 539.4h8v8h-8zM1164 539.4h8v8h-8zM1500 539.4h8v8h-8zM820 547.4h8v8h-8zM1164 547.4h8v8h-8zM484 555.4h8v8h-8zM1164 555.4h8v8h-8zM828 563.4h8v8h-8zM1164 563.4h8v8h-8zM1508 563.4h8v8h-8zM828 571.4h8v8h-8zM476 579.4h8v8h-8zM828 579.4h8v8h-8zM1516 579.4h8v8h-8zM476 587.4h8v8h-8zM828 587.4h8v8h-8zM1516 587.4h8v8h-8zM476 595.4h8v8h-8zM1524 603.4h8v8h-8zM1532 627.4h8v8h-8zM1532 635.4h8v8h-8zM476 643.4h8v8h-8zM476 651.4h8v8h-8zM828 651.4h8v8h-8zM1540 651.4h8v8h-8zM828 659.4h8v8h-8zM1540 659.4h8v8h-8zM828 667.4h8v8h-8zM1540 667.4h8v8h-8zM484 675.4h8v8h-8zM820 683.4h8v8h-8zM1164 683.4h8v8h-8zM492 691.4h8v8h-8zM820 691.4h8v8h-8zM1164 691.4h8v8h-8zM1548 691.4h8v8h-8zM1164 699.4h8v8h-8zM1548 699.4h8v8h-8zM500 707.4h8v8h-8zM812 707.4h8v8h-8zM1164 707.4h8v8h-8zM1548 707.4h8v8h-8zM804 715.4h8v8h-8zM1548 715.4h8v8h-8zM508 723.4h8v8h-8zM1548 723.4h8v8h-8zM516 731.4h8v8h-8zM796 731.4h8v8h-8zM1156 731.4h8v8h-8zM1548 731.4h8v8h-8zM524 739.4h8v8h-8zM788 739.4h8v8h-8zM1156 739.4h8v8h-8zM1548 739.4h8v8h-8zM532 747.4h8v8h-8zM1548 747.4h8v8h-8zM540 755.4h8v8h-8zM1148 755.4h8v8h-8zM1548 755.4h8v8h-8zM548 763.4h8v8h-8zM764 763.4h8v8h-8zM1148 763.4h8v8h-8zM1548 763.4h8v8h-8zM564 771.4h8v8h-8zM756 771.4h8v8h-8zM1548 771.4h8v8h-8zM572 779.4h8v8h-8zM748 779.4h8v8h-8zM1140 779.4h8v8h-8zM1548 779.4h8v8h-8zM588 787.4h8v8h-8zM732 787.4h8v8h-8zM1132 787.4h8v8h-8zM1548 787.4h8v8h-8zM604 795.4h16v8h-16zM716 795.4h8v8h-8zM1548 795.4h8v8h-8zM628 803.4h24v8h-24zM676 803.4h32v8h-32zM1124 803.4h8v8h-8zM1108 827.4h8v8h-8zM1540 827.4h8v8h-8zM1100 835.4h8v8h-8zM1540 835.4h8v8h-8zM1092 843.4h8v8h-8zM1540 843.4h8v8h-8zM1084 859.4h8v8h-8zM1532 859.4h8v8h-8zM1076 867.4h8v8h-8zM1532 867.4h8v8h-8zM1068 875.4h8v8h-8zM1060 883.4h8v8h-8zM1524 891.4h8v8h-8zM1044 907.4h8v8h-8zM1516 907.4h8v8h-8zM1036 915.4h8v8h-8zM1516 915.4h8v8h-8zM1028 923.4h8v8h-8zM1508 931.4h8v8h-8zM1020 939.4h8v8h-8zM1012 947.4h8v8h-8zM1500 947.4h8v8h-8zM1004 955.4h8v8h-8zM1492 963.4h8v8h-8zM996 971.4h8v8h-8zM988 979.4h8v8h-8zM1484 979.4h8v8h-8zM980 995.4h8v8h-8zM1476 995.4h8v8h-8zM972 1003.4h8v8h-8zM1468 1011.4h8v8h-8zM964 1019.4h8v8h-8zM1460 1027.4h8v8h-8zM956 1035.4h8v8h-8zM956 1043.4h8v8h-8zM1452 1043.4h8v8h-8zM948 1051.4h8v8h-8zM1452 1051.4h8v8h-8zM948 1059.4h8v8h-8zM948 1067.4h8v8h-8zM1444 1075.4h8v8h-8zM940 1083.4h8v8h-8zM1444 1083.4h8v8h-8zM940 1091.4h8v8h-8zM940 1099.4h8v8h-8zM1436 1099.4h8v8h-8zM940 1107.4h8v8h-8zM940 1115.4h8v8h-8zM1428 1115.4h8v8h-8zM940 1123.4h8v8h-8zM1428 1123.4h8v8h-8zM940 1131.4h8v8h-8zM1420 1131.4h8v8h-8zM1420 1139.4h8v8h-8zM948 1147.4h8v8h-8zM1412 1147.4h8v8h-8zM948 1155.4h8v8h-8zM1404 1155.4h8v8h-8zM956 1163.4h8v8h-8zM956 1171.4h8v8h-8zM964 1179.4h8v8h-8zM1380 1179.4h8v8h-8zM972 1187.4h8v8h-8zM1372 1187.4h8v8h-8zM980 1195.4h8v8h-8zM1364 1195.4h8v8h-8zM988 1203.4h8v8h-8zM1348 1203.4h8v8h-8zM996 1211.4h8v8h-8zM1340 1211.4h8v8h-8zM1004 1219.4h8v8h-8zM1324 1219.4h8v8h-8zM1020 1227.4h8v8h-8zM1308 1227.4h8v8h-8zM1028 1235.4h8v8h-8zM1284 1235.4h16v8h-16zM1044 1243.4h16v8h-16zM1268 1243.4h8v8h-8zM1068 1251.4h8v8h-8zM1236 1251.4h16v8h-16zM1092 1259.4h24v8h-24zM1196 1259.4h24v8h-24z"/>
<path fill="#0b0923" d="M1228 331.4h16v8h-16zM1292 331.4h16v8h-16zM1204 339.4h16v8h-16zM1324 339.4h8v8h-8zM1188 347.4h16v8h-16zM1340 347.4h8v8h-8zM1180 355.4h8v8h-8zM1356 355.4h8v8h-8zM1172 363.4h8v8h-8zM1372 363.4h8v8h-8zM1164 371.4h8v8h-8zM1380 371.4h8v8h-8zM1164 379.4h8v8h-8zM1388 379.4h8v8h-8zM1156 387.4h8v8h-8zM1396 387.4h8v8h-8zM1156 395.4h8v8h-8zM1412 403.4h8v8h-8zM1420 411.4h8v8h-8zM1428 419.4h8v8h-8zM1436 427.4h8v8h-8zM628 443.4h64v8h-64zM1444 443.4h8v8h-8zM596 451.4h16v8h-16zM708 451.4h16v8h-16zM1452 451.4h8v8h-8zM572 459.4h16v8h-16zM732 459.4h16v8h-16zM564 467.4h8v8h-8zM748 467.4h16v8h-16zM1460 467.4h8v8h-8zM548 475.4h8v8h-8zM764 475.4h8v8h-8zM1156 475.4h8v8h-8zM540 483.4h8v8h-8zM772 483.4h8v8h-8zM1156 483.4h8v8h-8zM1468 483.4h8v8h-8zM532 491.4h8v8h-8zM780 491.4h8v8h-8zM1156 491.4h8v8h-8zM524 499.4h8v8h-8zM788 499.4h8v8h-8zM1476 499.4h8v8h-8zM516 507.4h8v8h-8zM796 507.4h8v8h-8zM508 515.4h8v8h-8zM796 515.4h8v8h-8zM1484 515.4h8v8h-8zM804 523.4h8v8h-8zM1164 523.4h8v8h-8zM500 531.4h8v8h-8zM1164 531.4h8v8h-8zM1492 531.4h8v8h-8zM812 539.4h8v8h-8zM492 547.4h8v8h-8zM1500 547.4h8v8h-8zM820 555.4h8v8h-8zM1500 555.4h8v8h-8zM484 563.4h8v8h-8zM820 563.4h8v8h-8zM484 571.4h8v8h-8zM1508 571.4h8v8h-8zM1172 579.4h8v8h-8zM1172 587.4h8v8h-8zM828 595.4h8v8h-8zM1172 595.4h8v8h-8zM1516 595.4h8v8h-8zM476 603.4h8v8h-8zM828 603.4h8v8h-8zM1172 603.4h8v8h-8zM476 611.4h8v8h-8zM828 611.4h8v8h-8zM1172 611.4h8v8h-8zM1524 611.4h8v8h-8zM476 619.4h8v8h-8zM828 619.4h8v8h-8zM1172 619.4h8v8h-8zM1524 619.4h8v8h-8zM476 627.4h8v8h-8zM828 627.4h8v8h-8zM1172 627.4h8v8h-8zM476 635.4h8v8h-8zM828 635.4h8v8h-8zM1172 635.4h8v8h-8zM828 643.4h8v8h-8zM1172 643.4h8v8h-8zM1532 643.4h8v8h-8zM1172 651.4h8v8h-8zM1172 659.4h8v8h-8zM484 667.4h8v8h-8zM1172 667.4h8v8h-8zM820 675.4h8v8h-8zM1540 675.4h8v8h-8zM492 683.4h8v8h-8zM1540 683.4h8v8h-8zM1540 691.4h8v8h-8zM500 699.4h8v8h-8zM812 699.4h8v8h-8zM508 715.4h8v8h-8zM1164 715.4h8v8h-8zM516 723.4h8v8h-8zM796 723.4h8v8h-8zM1164 723.4h8v8h-8zM780 747.4h8v8h-8zM1156 747.4h8v8h-8zM548 755.4h8v8h-8zM772 755.4h8v8h-8zM1156 755.4h8v8h-8zM556 763.4h8v8h-8zM748 771.4h8v8h-8zM1148 771.4h8v8h-8zM580 779.4h8v8h-8zM740 779.4h8v8h-8zM596 787.4h8v8h-8zM724 787.4h8v8h-8zM1140 787.4h8v8h-8zM620 795.4h16v8h-16zM700 795.4h16v8h-16zM1132 795.4h8v8h-8zM652 803.4h24v8h-24zM1540 803.4h8v8h-8zM1124 811.4h8v8h-8zM1540 811.4h8v8h-8zM1116 819.4h8v8h-8zM1540 819.4h8v8h-8zM1108 835.4h8v8h-8zM1100 843.4h8v8h-8zM1532 843.4h8v8h-8zM1092 851.4h8v8h-8zM1532 851.4h8v8h-8zM1076 875.4h8v8h-8zM1524 875.4h8v8h-8zM1068 883.4h8v8h-8zM1524 883.4h8v8h-8zM1060 891.4h8v8h-8zM1052 899.4h8v8h-8zM1516 899.4h8v8h-8zM1044 915.4h8v8h-8zM1508 915.4h8v8h-8zM1036 923.4h8v8h-8zM1508 923.4h8v8h-8zM1028 931.4h8v8h-8zM1500 939.4h8v8h-8zM1012 955.4h8v8h-8zM1492 955.4h8v8h-8zM1004 963.4h8v8h-8zM1484 971.4h8v8h-8zM996 979.4h8v8h-8zM1476 979.4h8v8h-8zM988 987.4h8v8h-8zM1476 987.4h8v8h-8zM1468 995.4h8v8h-8zM980 1003.4h8v8h-8zM1468 1003.4h8v8h-8zM972 1011.4h8v8h-8zM1460 1011.4h8v8h-8zM972 1019.4h8v8h-8zM1460 1019.4h8v8h-8zM964 1027.4h8v8h-8zM964 1035.4h8v8h-8zM1452 1035.4h8v8h-8zM956 1051.4h8v8h-8zM956 1059.4h8v8h-8zM1444 1059.4h8v8h-8zM1444 1067.4h8v8h-8zM948 1075.4h8v8h-8zM948 1083.4h8v8h-8zM1436 1083.4h8v8h-8zM948 1091.4h8v8h-8zM1436 1091.4h8v8h-8zM948 1099.4h8v8h-8zM948 1107.4h8v8h-8zM1428 1107.4h8v8h-8zM948 1115.4h8v8h-8zM948 1123.4h8v8h-8zM1420 1123.4h8v8h-8zM948 1131.4h8v8h-8zM948 1139.4h8v8h-8zM1412 1139.4h8v8h-8zM956 1147.4h8v8h-8zM1404 1147.4h8v8h-8zM956 1155.4h8v8h-8zM1396 1163.4h8v8h-8zM964 1171.4h8v8h-8zM1388 1171.4h8v8h-8zM972 1179.4h8v8h-8zM980 1187.4h8v8h-8zM1364 1187.4h8v8h-8zM988 1195.4h8v8h-8zM1356 1195.4h8v8h-8zM996 1203.4h8v8h-8zM1340 1203.4h8v8h-8zM1004 1211.4h8v8h-8zM1332 1211.4h8v8h-8zM1012 1219.4h8v8h-8zM1316 1219.4h8v8h-8zM1028 1227.4h8v8h-8zM1300 1227.4h8v8h-8zM1036 1235.4h16v8h-16zM1276 1235.4h8v8h-8zM1060 1243.4h8v8h-8zM1252 1243.4h16v8h-16zM1076 1251.4h16v8h-16zM1220 1251.4h16v8h-16zM1116 1259.4h80v8h-80z"/>
<path fill="#0d0a27" d="M1244 331.4h48v8h-48zM1220 339.4h8v8h-8zM1308 339.4h16v8h-16zM1204 347.4h8v8h-8zM1332 347.4h8v8h-8zM1188 355.4h8v8h-8zM1348 355.4h8v8h-8zM1180 363.4h8v8h-8zM1364 363.4h8v8h-8zM1172 371.4h8v8h-8zM1372 371.4h8v8h-8zM1164 387.4h8v8h-8zM1404 395.4h8v8h-8zM1156 403.4h8v8h-8zM1156 411.4h8v8h-8zM1156 419.4h8v8h-8zM1156 427.4h8v8h-8zM1428 427.4h8v8h-8zM1156 435.4h8v8h-8zM1436 435.4h8v8h-8zM1156 443.4h8v8h-8zM612 451.4h16v8h-16zM684 451.4h24v8h-24zM1156 451.4h8v8h-8zM588 459.4h8v8h-8zM716 459.4h16v8h-16zM1156 459.4h8v8h-8zM1452 459.4h8v8h-8zM572 467.4h8v8h-8zM732 467.4h16v8h-16zM1156 467.4h8v8h-8zM556 475.4h8v8h-8zM748 475.4h16v8h-16zM1460 475.4h8v8h-8zM548 483.4h8v8h-8zM764 483.4h8v8h-8zM772 491.4h8v8h-8zM1468 491.4h8v8h-8zM780 499.4h8v8h-8zM788 507.4h8v8h-8zM1164 507.4h8v8h-8zM1476 507.4h8v8h-8zM516 515.4h8v8h-8zM1164 515.4h8v8h-8zM508 523.4h8v8h-8zM796 523.4h8v8h-8zM1484 523.4h8v8h-8zM804 531.4h8v8h-8zM500 539.4h8v8h-8zM804 539.4h8v8h-8zM1492 539.4h8v8h-8zM812 547.4h8v8h-8zM492 555.4h8v8h-8zM812 555.4h8v8h-8zM1172 555.4h8v8h-8zM1172 563.4h8v8h-8zM1500 563.4h8v8h-8zM820 571.4h8v8h-8zM1172 571.4h8v8h-8zM484 579.4h8v8h-8zM820 579.4h8v8h-8zM1508 579.4h8v8h-8zM484 587.4h8v8h-8zM820 587.4h8v8h-8zM1516 603.4h8v8h-8zM1524 627.4h8v8h-8zM484 651.4h8v8h-8zM820 651.4h8v8h-8zM1532 651.4h8v8h-8zM484 659.4h8v8h-8zM820 659.4h8v8h-8zM1532 659.4h8v8h-8zM820 667.4h8v8h-8zM1532 667.4h8v8h-8zM492 675.4h8v8h-8zM1172 675.4h8v8h-8zM812 683.4h8v8h-8zM1172 683.4h8v8h-8zM812 691.4h8v8h-8zM1172 691.4h8v8h-8zM1172 699.4h8v8h-8zM1540 699.4h8v8h-8zM508 707.4h8v8h-8zM804 707.4h8v8h-8zM1540 707.4h8v8h-8zM796 715.4h8v8h-8zM1540 715.4h8v8h-8zM1540 723.4h8v8h-8zM524 731.4h8v8h-8zM788 731.4h8v8h-8zM1164 731.4h8v8h-8zM1540 731.4h8v8h-8zM532 739.4h8v8h-8zM780 739.4h8v8h-8zM1164 739.4h8v8h-8zM1540 739.4h8v8h-8zM540 747.4h8v8h-8zM772 747.4h8v8h-8zM1540 747.4h8v8h-8zM764 755.4h8v8h-8zM1540 755.4h8v8h-8zM564 763.4h8v8h-8zM756 763.4h8v8h-8zM1156 763.4h8v8h-8zM1540 763.4h8v8h-8zM572 771.4h8v8h-8zM1540 771.4h8v8h-8zM588 779.4h8v8h-8zM732 779.4h8v8h-8zM1148 779.4h8v8h-8zM1540 779.4h8v8h-8zM604 787.4h16v8h-16zM708 787.4h16v8h-16zM1540 787.4h8v8h-8zM636 795.4h64v8h-64zM1140 795.4h8v8h-8zM1540 795.4h8v8h-8zM1132 803.4h8v8h-8zM1124 819.4h8v8h-8zM1116 827.4h8v8h-8zM1532 827.4h8v8h-8zM1532 835.4h8v8h-8zM1100 851.4h8v8h-8zM1092 859.4h8v8h-8zM1524 859.4h8v8h-8zM1084 867.4h8v8h-8zM1524 867.4h8v8h-8zM1516 883.4h8v8h-8zM1068 891.4h8v8h-8zM1516 891.4h8v8h-8zM1060 899.4h8v8h-8zM1052 907.4h8v8h-8zM1508 907.4h8v8h-8zM1036 931.4h8v8h-8zM1500 931.4h8v8h-8zM1028 939.4h8v8h-8zM1020 947.4h8v8h-8zM1492 947.4h8v8h-8zM1012 963.4h8v8h-8zM1484 963.4h8v8h-8zM1004 971.4h8v8h-8zM996 987.4h8v8h-8zM1468 987.4h8v8h-8zM988 995.4h8v8h-8zM1460 1003.4h8v8h-8zM980 1011.4h8v8h-8zM972 1027.4h8v8h-8zM1452 1027.4h8v8h-8zM964 1043.4h8v8h-8zM1444 1043.4h8v8h-8zM1444 1051.4h8v8h-8zM956 1067.4h8v8h-8zM1436 1067.4h8v8h-8zM956 1075.4h8v8h-8zM1436 1075.4h8v8h-8zM1428 1091.4h8v8h-8zM1428 1099.4h8v8h-8zM1420 1115.4h8v8h-8zM956 1131.4h8v8h-8zM1412 1131.4h8v8h-8zM956 1139.4h8v8h-8zM1404 1139.4h8v8h-8zM964 1155.4h8v8h-8zM1396 1155.4h8v8h-8zM964 1163.4h8v8h-8zM1388 1163.4h8v8h-8zM972 1171.4h8v8h-8zM1380 1171.4h8v8h-8zM1372 1179.4h8v8h-8zM1348 1195.4h8v8h-8zM1332 1203.4h8v8h-8zM1012 1211.4h8v8h-8zM1324 1211.4h8v8h-8zM1020 1219.4h8v8h-8zM1308 1219.4h8v8h-8zM1036 1227.4h8v8h-8zM1284 1227.4h16v8h-16zM1052 1235.4h8v8h-8zM1268 1235.4h8v8h-8zM1068 1243.4h8v8h-8zM1244 1243.4h8v8h-8zM1092 1251.4h16v8h-16zM1204 1251.4h16v8h-16z"/>
<path fill="#0e0b29" d="M1228 339.4h24v8h-24zM1292 339.4h16v8h-16zM1212 347.4h8v8h-8zM1324 347.4h8v8h-8zM1196 355.4h8v8h-8zM1340 355.4h8v8h-8zM1188 363.4h8v8h-8zM1356 363.4h8v8h-8zM1180 371.4h8v8h-8zM1172 379.4h8v8h-8zM1380 379.4h8v8h-8zM1388 387.4h8v8h-8zM1164 395.4h8v8h-8zM1396 395.4h8v8h-8zM1164 403.4h8v8h-8zM1404 403.4h8v8h-8zM1412 411.4h8v8h-8zM1420 419.4h8v8h-8zM1436 443.4h8v8h-8zM628 451.4h56v8h-56zM1444 451.4h8v8h-8zM596 459.4h16v8h-16zM700 459.4h16v8h-16zM580 467.4h8v8h-8zM724 467.4h8v8h-8zM1452 467.4h8v8h-8zM564 475.4h8v8h-8zM740 475.4h8v8h-8zM748 483.4h16v8h-16zM1164 483.4h8v8h-8zM1460 483.4h8v8h-8zM540 491.4h8v8h-8zM764 491.4h8v8h-8zM1164 491.4h8v8h-8zM532 499.4h8v8h-8zM772 499.4h8v8h-8zM1164 499.4h8v8h-8zM1468 499.4h8v8h-8zM524 507.4h8v8h-8zM780 507.4h8v8h-8zM788 515.4h8v8h-8zM1476 515.4h8v8h-8zM508 531.4h8v8h-8zM796 531.4h8v8h-8zM1172 531.4h8v8h-8zM1484 531.4h8v8h-8zM1172 539.4h8v8h-8zM500 547.4h8v8h-8zM804 547.4h8v8h-8zM1172 547.4h8v8h-8zM1492 547.4h8v8h-8zM492 563.4h8v8h-8zM812 563.4h8v8h-8zM492 571.4h8v8h-8zM1500 571.4h8v8h-8zM1508 587.4h8v8h-8zM484 595.4h8v8h-8zM820 595.4h8v8h-8zM1508 595.4h8v8h-8zM484 603.4h8v8h-8zM820 603.4h8v8h-8zM1180 603.4h8v8h-8zM484 611.4h8v8h-8zM820 611.4h8v8h-8zM1180 611.4h8v8h-8zM1516 611.4h8v8h-8zM484 619.4h8v8h-8zM820 619.4h8v8h-8zM1180 619.4h8v8h-8zM1516 619.4h8v8h-8zM484 627.4h8v8h-8zM820 627.4h8v8h-8zM1180 627.4h8v8h-8zM484 635.4h8v8h-8zM820 635.4h8v8h-8zM1180 635.4h8v8h-8zM1524 635.4h8v8h-8zM484 643.4h8v8h-8zM820 643.4h8v8h-8zM1180 643.4h8v8h-8zM1524 643.4h8v8h-8zM492 667.4h8v8h-8zM812 675.4h8v8h-8zM1532 675.4h8v8h-8zM1532 683.4h8v8h-8zM500 691.4h8v8h-8zM804 699.4h8v8h-8zM1172 707.4h8v8h-8zM516 715.4h8v8h-8zM1172 715.4h8v8h-8zM524 723.4h8v8h-8zM788 723.4h8v8h-8zM532 731.4h8v8h-8zM540 739.4h8v8h-8zM548 747.4h8v8h-8zM1164 747.4h8v8h-8zM556 755.4h8v8h-8zM748 763.4h8v8h-8zM580 771.4h8v8h-8zM740 771.4h8v8h-8zM1156 771.4h8v8h-8zM596 779.4h16v8h-16zM724 779.4h8v8h-8zM620 787.4h16v8h-16zM700 787.4h8v8h-8zM1148 787.4h8v8h-8zM1532 803.4h8v8h-8zM1132 811.4h8v8h-8zM1532 811.4h8v8h-8zM1532 819.4h8v8h-8zM1116 835.4h8v8h-8zM1108 843.4h8v8h-8zM1524 843.4h8v8h-8zM1524 851.4h8v8h-8zM1092 867.4h8v8h-8zM1084 875.4h8v8h-8zM1516 875.4h8v8h-8zM1076 883.4h8v8h-8zM1508 899.4h8v8h-8zM1060 907.4h8v8h-8zM1052 915.4h8v8h-8zM1500 915.4h8v8h-8zM1044 923.4h8v8h-8zM1500 923.4h8v8h-8zM1492 939.4h8v8h-8zM1028 947.4h8v8h-8zM1020 955.4h8v8h-8zM1484 955.4h8v8h-8zM1012 971.4h8v8h-8zM1476 971.4h8v8h-8zM1004 979.4h8v8h-8zM988 1003.4h8v8h-8zM980 1019.4h8v8h-8zM1452 1019.4h8v8h-8zM972 1035.4h8v8h-8zM1444 1035.4h8v8h-8zM964 1051.4h8v8h-8zM964 1059.4h8v8h-8zM1436 1059.4h8v8h-8zM956 1083.4h8v8h-8zM1428 1083.4h8v8h-8zM956 1091.4h8v8h-8zM956 1099.4h8v8h-8zM956 1107.4h8v8h-8zM1420 1107.4h8v8h-8zM956 1115.4h8v8h-8zM956 1123.4h8v8h-8zM1412 1123.4h8v8h-8zM964 1147.4h8v8h-8zM1396 1147.4h8v8h-8zM1388 1155.4h8v8h-8zM972 1163.4h8v8h-8zM1380 1163.4h8v8h-8zM1372 1171.4h8v8h-8zM980 1179.4h8v8h-8zM1364 1179.4h8v8h-8zM988 1187.4h8v8h-8zM1356 1187.4h8v8h-8zM996 1195.4h8v8h-8zM1340 1195.4h8v8h-8zM1004 1203.4h8v8h-8zM1316 1211.4h8v8h-8zM1028 1219.4h8v8h-8zM1300 1219.4h8v8h-8zM1044 1227.4h8v8h-8zM1276 1227.4h8v8h-8zM1060 1235.4h8v8h-8zM1260 1235.4h8v8h-8zM1076 1243.4h16v8h-16zM1228 1243.4h16v8h-16zM1108 1251.4h24v8h-24zM1180 1251.4h24v8h-24z"/>
<path fill="#100c2d" d="M1252 339.4h40v8h-40zM1220 347.4h16v8h-16zM1316 347.4h8v8h-8zM1204 355.4h8v8h-8zM1332 355.4h8v8h-8zM1196 363.4h8v8h-8zM1348 363.4h8v8h-8zM1188 371.4h8v8h-8zM1364 371.4h8v8h-8zM1180 379.4h8v8h-8zM1372 379.4h8v8h-8zM1172 387.4h8v8h-8zM1172 395.4h8v8h-8zM1164 411.4h8v8h-8zM1164 419.4h8v8h-8zM1164 427.4h8v8h-8zM1420 427.4h8v8h-8zM1428 435.4h8v8h-8zM612 459.4h16v8h-16zM684 459.4h16v8h-16zM1164 459.4h8v8h-8zM1444 459.4h8v8h-8zM588 467.4h8v8h-8zM708 467.4h16v8h-16zM1164 467.4h8v8h-8zM572 475.4h8v8h-8zM732 475.4h8v8h-8zM1164 475.4h8v8h-8zM1452 475.4h8v8h-8zM556 483.4h8v8h-8zM740 483.4h8v8h-8zM548 491.4h8v8h-8zM756 491.4h8v8h-8zM540 499.4h8v8h-8zM764 499.4h8v8h-8zM532 507.4h8v8h-8zM772 507.4h8v8h-8zM524 515.4h8v8h-8zM780 515.4h8v8h-8zM1172 515.4h8v8h-8zM516 523.4h8v8h-8zM788 523.4h8v8h-8zM1172 523.4h8v8h-8zM1476 523.4h8v8h-8zM508 539.4h8v8h-8zM796 539.4h8v8h-8zM1484 539.4h8v8h-8zM500 555.4h8v8h-8zM804 555.4h8v8h-8zM1492 555.4h8v8h-8zM812 571.4h8v8h-8zM1180 571.4h8v8h-8zM492 579.4h8v8h-8zM812 579.4h8v8h-8zM1180 579.4h8v8h-8zM1500 579.4h8v8h-8zM1180 587.4h8v8h-8zM1180 595.4h8v8h-8zM1508 603.4h8v8h-8zM1516 627.4h8v8h-8zM1180 651.4h8v8h-8zM1524 651.4h8v8h-8zM492 659.4h8v8h-8zM812 659.4h8v8h-8zM1180 659.4h8v8h-8zM1524 659.4h8v8h-8zM812 667.4h8v8h-8zM1180 667.4h8v8h-8zM1180 675.4h8v8h-8zM500 683.4h8v8h-8zM1180 683.4h8v8h-8zM804 691.4h8v8h-8zM1532 691.4h8v8h-8zM508 699.4h8v8h-8zM1532 699.4h8v8h-8zM516 707.4h8v8h-8zM796 707.4h8v8h-8zM1532 707.4h8v8h-8zM1532 715.4h8v8h-8zM1172 723.4h8v8h-8zM780 731.4h8v8h-8zM1172 731.4h8v8h-8zM772 739.4h8v8h-8zM764 747.4h8v8h-8zM564 755.4h8v8h-8zM756 755.4h8v8h-8zM1164 755.4h8v8h-8zM572 763.4h8v8h-8zM588 771.4h8v8h-8zM732 771.4h8v8h-8zM1532 771.4h8v8h-8zM612 779.4h8v8h-8zM716 779.4h8v8h-8zM1156 779.4h8v8h-8zM1532 779.4h8v8h-8zM636 787.4h64v8h-64zM1532 787.4h8v8h-8zM1148 795.4h8v8h-8zM1532 795.4h8v8h-8zM1140 803.4h8v8h-8zM1132 819.4h8v8h-8zM1124 827.4h8v8h-8zM1524 827.4h8v8h-8zM1524 835.4h8v8h-8zM1108 851.4h8v8h-8zM1100 859.4h8v8h-8zM1516 867.4h8v8h-8zM1076 891.4h8v8h-8zM1508 891.4h8v8h-8zM1068 899.4h8v8h-8zM1500 907.4h8v8h-8zM1052 923.4h8v8h-8zM1044 931.4h8v8h-8zM1492 931.4h8v8h-8zM1036 939.4h8v8h-8zM1484 947.4h8v8h-8zM1020 963.4h8v8h-8zM1476 963.4h8v8h-8zM1468 979.4h8v8h-8zM1004 987.4h8v8h-8zM996 995.4h8v8h-8zM1460 995.4h8v8h-8zM988 1011.4h8v8h-8zM1452 1011.4h8v8h-8zM980 1027.4h8v8h-8zM1444 1027.4h8v8h-8zM972 1043.4h8v8h-8zM972 1051.4h8v8h-8zM1436 1051.4h8v8h-8zM964 1067.4h8v8h-8zM964 1075.4h8v8h-8zM1428 1075.4h8v8h-8zM964 1083.4h8v8h-8zM1420 1091.4h8v8h-8zM1420 1099.4h8v8h-8zM1412 1115.4h8v8h-8zM964 1123.4h8v8h-8zM964 1131.4h8v8h-8zM1404 1131.4h8v8h-8zM964 1139.4h8v8h-8zM1396 1139.4h8v8h-8zM972 1155.4h8v8h-8zM980 1171.4h8v8h-8zM988 1179.4h8v8h-8zM1356 1179.4h8v8h-8zM996 1187.4h8v8h-8zM1348 1187.4h8v8h-8zM1004 1195.4h8v8h-8zM1012 1203.4h8v8h-8zM1324 1203.4h8v8h-8zM1020 1211.4h8v8h-8zM1308 1211.4h8v8h-8zM1036 1219.4h8v8h-8zM1292 1219.4h8v8h-8zM1052 1227.4h8v8h-8zM1268 1227.4h8v8h-8zM1068 1235.4h8v8h-8zM1252 1235.4h8v8h-8zM1092 1243.4h8v8h-8zM1220 1243.4h8v8h-8zM1132 1251.4h48v8h-48z"/>
<path fill="#120d32" d="M1236 347.4h8v8h-8zM1300 347.4h16v8h-16zM1212 355.4h8v8h-8zM1324 355.4h8v8h-8zM1204 363.4h8v8h-8zM1340 363.4h8v8h-8zM1356 371.4h8v8h-8zM1180 387.4h8v8h-8zM1380 387.4h8v8h-8zM1388 395.4h8v8h-8zM1172 403.4h8v8h-8zM1396 403.4h8v8h-8zM1404 411.4h8v8h-8zM1412 419.4h8v8h-8zM1164 435.4h8v8h-8zM1164 443.4h8v8h-8zM1428 443.4h8v8h-8zM1164 451.4h8v8h-8zM1436 451.4h8v8h-8zM628 459.4h56v8h-56zM596 467.4h8v8h-8zM700 467.4h8v8h-8zM1444 467.4h8v8h-8zM580 475.4h8v8h-8zM724 475.4h8v8h-8zM564 483.4h8v8h-8zM732 483.4h8v8h-8zM748 491.4h8v8h-8zM1460 491.4h8v8h-8zM756 499.4h8v8h-8zM1172 499.4h8v8h-8zM764 507.4h8v8h-8zM1172 507.4h8v8h-8zM1468 507.4h8v8h-8zM772 515.4h8v8h-8zM780 523.4h8v8h-8zM516 531.4h8v8h-8zM788 531.4h8v8h-8zM796 547.4h8v8h-8zM1180 547.4h8v8h-8zM1484 547.4h8v8h-8zM1180 555.4h8v8h-8zM500 563.4h8v8h-8zM804 563.4h8v8h-8zM1180 563.4h8v8h-8zM1492 563.4h8v8h-8zM492 587.4h8v8h-8zM812 587.4h8v8h-8zM1500 587.4h8v8h-8zM492 595.4h8v8h-8zM812 595.4h8v8h-8zM812 603.4h8v8h-8zM1508 611.4h8v8h-8zM1516 635.4h8v8h-8zM492 643.4h8v8h-8zM812 643.4h8v8h-8zM492 651.4h8v8h-8zM812 651.4h8v8h-8zM1524 667.4h8v8h-8zM500 675.4h8v8h-8zM804 675.4h8v8h-8zM1524 675.4h8v8h-8zM804 683.4h8v8h-8zM508 691.4h8v8h-8zM1180 691.4h8v8h-8zM796 699.4h8v8h-8zM1180 699.4h8v8h-8zM524 715.4h8v8h-8zM788 715.4h8v8h-8zM532 723.4h8v8h-8zM780 723.4h8v8h-8zM1532 723.4h8v8h-8zM540 731.4h8v8h-8zM1532 731.4h8v8h-8zM548 739.4h8v8h-8zM1172 739.4h8v8h-8zM1532 739.4h8v8h-8zM556 747.4h8v8h-8zM1532 747.4h8v8h-8zM748 755.4h8v8h-8zM1532 755.4h8v8h-8zM580 763.4h8v8h-8zM740 763.4h8v8h-8zM1164 763.4h8v8h-8zM1532 763.4h8v8h-8zM596 771.4h8v8h-8zM724 771.4h8v8h-8zM620 779.4h8v8h-8zM700 779.4h16v8h-16zM1156 787.4h8v8h-8zM1140 811.4h8v8h-8zM1524 811.4h8v8h-8zM1524 819.4h8v8h-8zM1124 835.4h8v8h-8zM1116 843.4h8v8h-8zM1516 851.4h8v8h-8zM1516 859.4h8v8h-8zM1100 867.4h8v8h-8zM1092 875.4h8v8h-8zM1084 883.4h8v8h-8zM1508 883.4h8v8h-8zM1500 899.4h8v8h-8zM1068 907.4h8v8h-8zM1060 915.4h8v8h-8zM1492 923.4h8v8h-8zM1484 939.4h8v8h-8zM1036 947.4h8v8h-8zM1028 955.4h8v8h-8zM1476 955.4h8v8h-8zM1020 971.4h8v8h-8zM1468 971.4h8v8h-8zM1012 979.4h8v8h-8zM1460 987.4h8v8h-8zM996 1003.4h8v8h-8zM1452 1003.4h8v8h-8zM988 1019.4h8v8h-8zM1444 1019.4h8v8h-8zM980 1035.4h8v8h-8zM1436 1043.4h8v8h-8zM972 1059.4h8v8h-8zM1428 1059.4h8v8h-8zM1428 1067.4h8v8h-8zM1420 1083.4h8v8h-8zM964 1091.4h8v8h-8zM964 1099.4h8v8h-8zM964 1107.4h8v8h-8zM1412 1107.4h8v8h-8zM964 1115.4h8v8h-8zM1404 1123.4h8v8h-8zM972 1139.4h8v8h-8zM972 1147.4h8v8h-8zM1388 1147.4h8v8h-8zM1380 1155.4h8v8h-8zM980 1163.4h8v8h-8zM1372 1163.4h8v8h-8zM988 1171.4h8v8h-8zM1364 1171.4h8v8h-8zM1340 1187.4h8v8h-8zM1332 1195.4h8v8h-8zM1316 1203.4h8v8h-8zM1028 1211.4h8v8h-8zM1300 1211.4h8v8h-8zM1284 1219.4h8v8h-8zM1260 1227.4h8v8h-8zM1076 1235.4h8v8h-8zM1236 1235.4h16v8h-16zM1100 1243.4h16v8h-16zM1204 1243.4h16v8h-16z"/>
<path fill="#130e34" d="M1244 347.4h56v8h-56zM1220 355.4h16v8h-16zM1316 355.4h8v8h-8zM1212 363.4h8v8h-8zM1196 371.4h8v8h-8zM1348 371.4h8v8h-8zM1188 379.4h8v8h-8zM1364 379.4h8v8h-8zM1372 387.4h8v8h-8zM1180 395.4h8v8h-8zM1172 411.4h8v8h-8zM1172 419.4h8v8h-8zM1412 427.4h8v8h-8zM1420 435.4h8v8h-8zM1436 459.4h8v8h-8zM604 467.4h16v8h-16zM684 467.4h16v8h-16zM588 475.4h8v8h-8zM708 475.4h16v8h-16zM572 483.4h8v8h-8zM1172 483.4h8v8h-8zM1452 483.4h8v8h-8zM556 491.4h8v8h-8zM740 491.4h8v8h-8zM1172 491.4h8v8h-8zM548 499.4h8v8h-8zM1460 499.4h8v8h-8zM540 507.4h8v8h-8zM532 515.4h8v8h-8zM1468 515.4h8v8h-8zM524 523.4h8v8h-8zM1180 531.4h8v8h-8zM1476 531.4h8v8h-8zM788 539.4h8v8h-8zM1180 539.4h8v8h-8zM508 547.4h8v8h-8zM796 555.4h8v8h-8zM1484 555.4h8v8h-8zM500 571.4h8v8h-8zM804 571.4h8v8h-8zM1492 571.4h8v8h-8zM804 579.4h8v8h-8zM1500 595.4h8v8h-8zM492 603.4h8v8h-8zM1188 603.4h8v8h-8zM492 611.4h8v8h-8zM812 611.4h8v8h-8zM1188 611.4h8v8h-8zM492 619.4h8v8h-8zM812 619.4h8v8h-8zM1188 619.4h8v8h-8zM1508 619.4h8v8h-8zM492 627.4h8v8h-8zM812 627.4h8v8h-8zM1188 627.4h8v8h-8zM492 635.4h8v8h-8zM812 635.4h8v8h-8zM1188 635.4h8v8h-8zM1188 643.4h8v8h-8zM1516 643.4h8v8h-8zM1516 651.4h8v8h-8zM500 667.4h8v8h-8zM804 667.4h8v8h-8zM508 683.4h8v8h-8zM1524 683.4h8v8h-8zM796 691.4h8v8h-8zM1524 691.4h8v8h-8zM516 699.4h8v8h-8zM788 707.4h8v8h-8zM1180 707.4h8v8h-8zM1180 715.4h8v8h-8zM772 731.4h8v8h-8zM764 739.4h8v8h-8zM564 747.4h8v8h-8zM756 747.4h8v8h-8zM1172 747.4h8v8h-8zM572 755.4h8v8h-8zM1172 755.4h8v8h-8zM588 763.4h8v8h-8zM732 763.4h8v8h-8zM604 771.4h8v8h-8zM716 771.4h8v8h-8zM1164 771.4h8v8h-8zM628 779.4h24v8h-24zM684 779.4h16v8h-16zM1524 795.4h8v8h-8zM1148 803.4h8v8h-8zM1524 803.4h8v8h-8zM1140 819.4h8v8h-8zM1132 827.4h8v8h-8zM1516 843.4h8v8h-8zM1116 851.4h8v8h-8zM1108 859.4h8v8h-8zM1508 867.4h8v8h-8zM1508 875.4h8v8h-8zM1084 891.4h8v8h-8zM1500 891.4h8v8h-8zM1076 899.4h8v8h-8zM1492 915.4h8v8h-8zM1052 931.4h8v8h-8zM1484 931.4h8v8h-8zM1044 939.4h8v8h-8zM1476 947.4h8v8h-8zM1028 963.4h8v8h-8zM1468 963.4h8v8h-8zM1460 979.4h8v8h-8zM1012 987.4h8v8h-8zM1004 995.4h8v8h-8zM1452 995.4h8v8h-8zM996 1011.4h8v8h-8zM1444 1011.4h8v8h-8zM988 1027.4h8v8h-8zM1436 1035.4h8v8h-8zM980 1043.4h8v8h-8zM1428 1051.4h8v8h-8zM972 1067.4h8v8h-8zM972 1075.4h8v8h-8zM1420 1075.4h8v8h-8zM1412 1099.4h8v8h-8zM1404 1115.4h8v8h-8zM972 1123.4h8v8h-8zM972 1131.4h8v8h-8zM1396 1131.4h8v8h-8zM1388 1139.4h8v8h-8zM980 1155.4h8v8h-8zM996 1179.4h8v8h-8zM1348 1179.4h8v8h-8zM1004 1187.4h8v8h-8zM1012 1195.4h8v8h-8zM1324 1195.4h8v8h-8zM1020 1203.4h8v8h-8zM1308 1203.4h8v8h-8zM1292 1211.4h8v8h-8zM1044 1219.4h8v8h-8zM1276 1219.4h8v8h-8zM1060 1227.4h8v8h-8zM1084 1235.4h8v8h-8zM1228 1235.4h8v8h-8zM1116 1243.4h16v8h-16zM1188 1243.4h16v8h-16z"/>
<path fill="#150f38" d="M1236 355.4h8v8h-8zM1308 355.4h8v8h-8zM1220 363.4h8v8h-8zM1332 363.4h8v8h-8zM1204 371.4h8v8h-8zM1196 379.4h8v8h-8zM1356 379.4h8v8h-8zM1188 387.4h8v8h-8zM1380 395.4h8v8h-8zM1180 403.4h8v8h-8zM1388 403.4h8v8h-8zM1396 411.4h8v8h-8zM1404 419.4h8v8h-8zM1172 427.4h8v8h-8zM1172 435.4h8v8h-8zM1172 443.4h8v8h-8zM1420 443.4h8v8h-8zM1172 451.4h8v8h-8zM1428 451.4h8v8h-8zM1172 459.4h8v8h-8zM620 467.4h16v8h-16zM668 467.4h16v8h-16zM1172 467.4h8v8h-8zM596 475.4h8v8h-8zM700 475.4h8v8h-8zM1172 475.4h8v8h-8zM1444 475.4h8v8h-8zM724 483.4h8v8h-8zM564 491.4h8v8h-8zM1452 491.4h8v8h-8zM748 499.4h8v8h-8zM756 507.4h8v8h-8zM1460 507.4h8v8h-8zM764 515.4h8v8h-8zM772 523.4h8v8h-8zM1180 523.4h8v8h-8zM1468 523.4h8v8h-8zM780 531.4h8v8h-8zM516 539.4h8v8h-8zM1476 539.4h8v8h-8zM788 547.4h8v8h-8zM508 555.4h8v8h-8zM796 563.4h8v8h-8zM1188 571.4h8v8h-8zM500 579.4h8v8h-8zM1188 579.4h8v8h-8zM1492 579.4h8v8h-8zM804 587.4h8v8h-8zM1188 587.4h8v8h-8zM1188 595.4h8v8h-8zM1500 603.4h8v8h-8zM1508 627.4h8v8h-8zM500 651.4h8v8h-8zM804 651.4h8v8h-8zM1188 651.4h8v8h-8zM500 659.4h8v8h-8zM804 659.4h8v8h-8zM1188 659.4h8v8h-8zM1516 659.4h8v8h-8zM1188 667.4h8v8h-8zM508 675.4h8v8h-8zM1188 675.4h8v8h-8zM796 683.4h8v8h-8zM516 691.4h8v8h-8zM788 699.4h8v8h-8zM1524 699.4h8v8h-8zM524 707.4h8v8h-8zM1524 707.4h8v8h-8zM532 715.4h8v8h-8zM780 715.4h8v8h-8zM1524 715.4h8v8h-8zM540 723.4h8v8h-8zM772 723.4h8v8h-8zM1180 723.4h8v8h-8zM1524 723.4h8v8h-8zM548 731.4h8v8h-8zM1180 731.4h8v8h-8zM1524 731.4h8v8h-8zM556 739.4h8v8h-8zM1524 739.4h8v8h-8zM748 747.4h8v8h-8zM1524 747.4h8v8h-8zM580 755.4h8v8h-8zM740 755.4h8v8h-8zM1524 755.4h8v8h-8zM596 763.4h8v8h-8zM724 763.4h8v8h-8zM1172 763.4h8v8h-8zM1524 763.4h8v8h-8zM612 771.4h16v8h-16zM708 771.4h8v8h-8zM1524 771.4h8v8h-8zM652 779.4h32v8h-32zM1164 779.4h8v8h-8zM1524 779.4h8v8h-8zM1524 787.4h8v8h-8zM1156 795.4h8v8h-8zM1148 811.4h8v8h-8zM1516 827.4h8v8h-8zM1132 835.4h8v8h-8zM1516 835.4h8v8h-8zM1124 843.4h8v8h-8zM1508 859.4h8v8h-8zM1108 867.4h8v8h-8zM1100 875.4h8v8h-8zM1092 883.4h8v8h-8zM1500 883.4h8v8h-8zM1492 907.4h8v8h-8zM1068 915.4h8v8h-8zM1060 923.4h8v8h-8zM1484 923.4h8v8h-8zM1476 939.4h8v8h-8zM1044 947.4h8v8h-8zM1036 955.4h8v8h-8zM1460 971.4h8v8h-8zM1020 979.4h8v8h-8zM1452 987.4h8v8h-8zM1004 1003.4h8v8h-8zM996 1019.4h8v8h-8zM1436 1027.4h8v8h-8zM988 1035.4h8v8h-8zM1428 1043.4h8v8h-8zM980 1051.4h8v8h-8zM1420 1067.4h8v8h-8zM972 1083.4h8v8h-8zM972 1091.4h8v8h-8zM1412 1091.4h8v8h-8zM972 1099.4h8v8h-8zM972 1107.4h8v8h-8zM1404 1107.4h8v8h-8zM972 1115.4h8v8h-8zM1396 1123.4h8v8h-8zM980 1147.4h8v8h-8zM1380 1147.4h8v8h-8zM1372 1155.4h8v8h-8zM988 1163.4h8v8h-8zM1364 1163.4h8v8h-8zM996 1171.4h8v8h-8zM1356 1171.4h8v8h-8zM1332 1187.4h8v8h-8zM1028 1203.4h8v8h-8zM1036 1211.4h8v8h-8zM1052 1219.4h8v8h-8zM1268 1219.4h8v8h-8zM1068 1227.4h8v8h-8zM1252 1227.4h8v8h-8zM1092 1235.4h8v8h-8zM1220 1235.4h8v8h-8zM1132 1243.4h56v8h-56z"/>
<path fill="#16103a" d="M1244 355.4h16v8h-16zM1284 355.4h24v8h-24zM1228 363.4h8v8h-8zM1324 363.4h8v8h-8zM1212 371.4h8v8h-8zM1340 371.4h8v8h-8zM1364 387.4h8v8h-8zM1188 395.4h8v8h-8zM1372 395.4h8v8h-8zM1180 411.4h8v8h-8zM1404 427.4h8v8h-8zM1412 435.4h8v8h-8zM1428 459.4h8v8h-8zM636 467.4h32v8h-32zM1436 467.4h8v8h-8zM604 475.4h8v8h-8zM692 475.4h8v8h-8zM580 483.4h8v8h-8zM716 483.4h8v8h-8zM1444 483.4h8v8h-8zM732 491.4h8v8h-8zM556 499.4h8v8h-8zM740 499.4h8v8h-8zM1452 499.4h8v8h-8zM548 507.4h8v8h-8zM1180 507.4h8v8h-8zM540 515.4h8v8h-8zM1180 515.4h8v8h-8zM532 523.4h8v8h-8zM524 531.4h8v8h-8zM1468 531.4h8v8h-8zM780 539.4h8v8h-8zM516 547.4h8v8h-8zM1476 547.4h8v8h-8zM788 555.4h8v8h-8zM1188 555.4h8v8h-8zM508 563.4h8v8h-8zM1188 563.4h8v8h-8zM1484 563.4h8v8h-8zM796 571.4h8v8h-8zM500 587.4h8v8h-8zM1492 587.4h8v8h-8zM500 595.4h8v8h-8zM804 595.4h8v8h-8zM804 603.4h8v8h-8zM804 611.4h8v8h-8zM1500 611.4h8v8h-8zM804 627.4h8v8h-8zM804 635.4h8v8h-8zM1508 635.4h8v8h-8zM500 643.4h8v8h-8zM804 643.4h8v8h-8zM1516 667.4h8v8h-8zM796 675.4h8v8h-8zM1516 675.4h8v8h-8zM1188 683.4h8v8h-8zM788 691.4h8v8h-8zM1188 691.4h8v8h-8zM524 699.4h8v8h-8zM1188 699.4h8v8h-8zM780 707.4h8v8h-8zM764 731.4h8v8h-8zM756 739.4h8v8h-8zM1180 739.4h8v8h-8zM572 747.4h8v8h-8zM732 755.4h8v8h-8zM604 763.4h8v8h-8zM716 763.4h8v8h-8zM628 771.4h8v8h-8zM692 771.4h16v8h-16zM1172 771.4h8v8h-8zM1164 787.4h8v8h-8zM1156 803.4h8v8h-8zM1516 811.4h8v8h-8zM1148 819.4h8v8h-8zM1516 819.4h8v8h-8zM1140 827.4h8v8h-8zM1124 851.4h8v8h-8zM1508 851.4h8v8h-8zM1116 859.4h8v8h-8zM1500 875.4h8v8h-8zM1092 891.4h8v8h-8zM1084 899.4h8v8h-8zM1492 899.4h8v8h-8zM1076 907.4h8v8h-8zM1060 931.4h8v8h-8zM1052 939.4h8v8h-8zM1468 955.4h8v8h-8zM1036 963.4h8v8h-8zM1028 971.4h8v8h-8zM1012 995.4h8v8h-8zM1444 1003.4h8v8h-8zM1436 1019.4h8v8h-8zM1428 1035.4h8v8h-8zM988 1043.4h8v8h-8zM980 1059.4h8v8h-8zM1420 1059.4h8v8h-8zM980 1067.4h8v8h-8zM1412 1083.4h8v8h-8zM1404 1099.4h8v8h-8zM1396 1115.4h8v8h-8zM980 1131.4h8v8h-8zM1388 1131.4h8v8h-8zM980 1139.4h8v8h-8zM1380 1139.4h8v8h-8zM988 1155.4h8v8h-8zM1004 1179.4h8v8h-8zM1340 1179.4h8v8h-8zM1012 1187.4h8v8h-8zM1020 1195.4h8v8h-8zM1316 1195.4h8v8h-8zM1300 1203.4h8v8h-8zM1044 1211.4h8v8h-8zM1284 1211.4h8v8h-8zM1060 1219.4h8v8h-8zM1076 1227.4h8v8h-8zM1244 1227.4h8v8h-8zM1100 1235.4h16v8h-16zM1212 1235.4h8v8h-8z"/>
<path fill="#19103f" d="M1260 355.4h24v8h-24zM1236 363.4h8v8h-8zM1308 363.4h16v8h-16zM1220 371.4h8v8h-8zM1332 371.4h8v8h-8zM1204 379.4h8v8h-8zM1348 379.4h8v8h-8zM1196 387.4h8v8h-8zM1188 403.4h8v8h-8zM1380 403.4h8v8h-8zM1388 411.4h8v8h-8zM1180 419.4h8v8h-8zM1396 419.4h8v8h-8zM1180 427.4h8v8h-8zM1420 451.4h8v8h-8zM612 475.4h8v8h-8zM684 475.4h8v8h-8zM1436 475.4h8v8h-8zM588 483.4h8v8h-8zM708 483.4h8v8h-8zM572 491.4h8v8h-8zM724 491.4h8v8h-8zM1180 491.4h8v8h-8zM1180 499.4h8v8h-8zM748 507.4h8v8h-8zM756 515.4h8v8h-8zM1460 515.4h8v8h-8zM764 523.4h8v8h-8zM772 531.4h8v8h-8zM524 539.4h8v8h-8zM1188 539.4h8v8h-8zM1188 547.4h8v8h-8zM1476 555.4h8v8h-8zM508 571.4h8v8h-8zM1484 571.4h8v8h-8zM796 579.4h8v8h-8zM1492 595.4h8v8h-8zM500 603.4h8v8h-8zM500 611.4h8v8h-8zM500 619.4h8v8h-8zM804 619.4h8v8h-8zM1500 619.4h8v8h-8zM500 627.4h8v8h-8zM500 635.4h8v8h-8zM1508 643.4h8v8h-8zM1508 651.4h8v8h-8zM508 667.4h8v8h-8zM796 667.4h8v8h-8zM516 683.4h8v8h-8zM1516 683.4h8v8h-8zM1516 691.4h8v8h-8zM532 707.4h8v8h-8zM1188 707.4h8v8h-8zM772 715.4h8v8h-8zM1188 715.4h8v8h-8zM764 723.4h8v8h-8zM556 731.4h8v8h-8zM564 739.4h8v8h-8zM748 739.4h8v8h-8zM740 747.4h8v8h-8zM1180 747.4h8v8h-8zM588 755.4h8v8h-8zM612 763.4h8v8h-8zM708 763.4h8v8h-8zM636 771.4h24v8h-24zM676 771.4h16v8h-16zM1164 795.4h8v8h-8zM1516 795.4h8v8h-8zM1516 803.4h8v8h-8zM1156 811.4h8v8h-8zM1140 835.4h8v8h-8zM1132 843.4h8v8h-8zM1508 843.4h8v8h-8zM1500 867.4h8v8h-8zM1108 875.4h8v8h-8zM1100 883.4h8v8h-8zM1492 891.4h8v8h-8zM1484 915.4h8v8h-8zM1068 923.4h8v8h-8zM1476 931.4h8v8h-8zM1468 947.4h8v8h-8zM1044 955.4h8v8h-8zM1460 963.4h8v8h-8zM1452 979.4h8v8h-8zM1020 987.4h8v8h-8zM1444 995.4h8v8h-8zM1004 1011.4h8v8h-8zM1436 1011.4h8v8h-8zM996 1027.4h8v8h-8zM1420 1051.4h8v8h-8zM980 1075.4h8v8h-8zM1412 1075.4h8v8h-8zM980 1083.4h8v8h-8zM980 1091.4h8v8h-8zM1404 1091.4h8v8h-8zM980 1107.4h8v8h-8zM1396 1107.4h8v8h-8zM980 1115.4h8v8h-8zM980 1123.4h8v8h-8zM1388 1123.4h8v8h-8zM988 1147.4h8v8h-8zM1372 1147.4h8v8h-8zM1364 1155.4h8v8h-8zM996 1163.4h8v8h-8zM1356 1163.4h8v8h-8zM1348 1171.4h8v8h-8zM1324 1187.4h8v8h-8zM1308 1195.4h8v8h-8zM1036 1203.4h8v8h-8zM1292 1203.4h8v8h-8zM1276 1211.4h8v8h-8zM1260 1219.4h8v8h-8zM1084 1227.4h8v8h-8zM1236 1227.4h8v8h-8zM1116 1235.4h8v8h-8zM1196 1235.4h16v8h-16z"/>
<path fill="#1b1144" d="M1244 363.4h8v8h-8zM1300 363.4h8v8h-8zM1324 371.4h8v8h-8zM1212 379.4h8v8h-8zM1340 379.4h8v8h-8zM1204 387.4h8v8h-8zM1356 387.4h8v8h-8zM1196 395.4h8v8h-8zM1364 395.4h8v8h-8zM1188 411.4h8v8h-8zM1396 427.4h8v8h-8zM1180 435.4h8v8h-8zM1404 435.4h8v8h-8zM1180 443.4h8v8h-8zM1412 443.4h8v8h-8zM1180 451.4h8v8h-8zM1180 459.4h8v8h-8zM1180 467.4h8v8h-8zM1428 467.4h8v8h-8zM620 475.4h24v8h-24zM660 475.4h24v8h-24zM1180 475.4h8v8h-8zM596 483.4h8v8h-8zM700 483.4h8v8h-8zM1180 483.4h8v8h-8zM580 491.4h8v8h-8zM716 491.4h8v8h-8zM1444 491.4h8v8h-8zM564 499.4h8v8h-8zM732 499.4h8v8h-8zM556 507.4h8v8h-8zM1452 507.4h8v8h-8zM1188 523.4h8v8h-8zM1460 523.4h8v8h-8zM532 531.4h8v8h-8zM1188 531.4h8v8h-8zM772 539.4h8v8h-8zM1468 539.4h8v8h-8zM780 547.4h8v8h-8zM516 555.4h8v8h-8zM788 563.4h8v8h-8zM508 579.4h8v8h-8zM1484 579.4h8v8h-8zM796 587.4h8v8h-8zM1196 587.4h8v8h-8zM1196 595.4h8v8h-8zM1196 603.4h8v8h-8zM1492 603.4h8v8h-8zM1196 611.4h8v8h-8zM1196 619.4h8v8h-8zM1196 627.4h8v8h-8zM1500 627.4h8v8h-8zM1196 635.4h8v8h-8zM1196 643.4h8v8h-8zM796 651.4h8v8h-8zM1196 651.4h8v8h-8zM508 659.4h8v8h-8zM796 659.4h8v8h-8zM1196 659.4h8v8h-8zM1508 659.4h8v8h-8zM1196 667.4h8v8h-8zM516 675.4h8v8h-8zM788 683.4h8v8h-8zM524 691.4h8v8h-8zM780 699.4h8v8h-8zM1516 699.4h8v8h-8zM1516 707.4h8v8h-8zM540 715.4h8v8h-8zM1516 715.4h8v8h-8zM548 723.4h8v8h-8zM1188 723.4h8v8h-8zM1516 723.4h8v8h-8zM756 731.4h8v8h-8zM580 747.4h8v8h-8zM596 755.4h8v8h-8zM724 755.4h8v8h-8zM1180 755.4h8v8h-8zM620 763.4h8v8h-8zM700 763.4h8v8h-8zM1516 763.4h8v8h-8zM660 771.4h16v8h-16zM1516 771.4h8v8h-8zM1172 779.4h8v8h-8zM1516 779.4h8v8h-8zM1516 787.4h8v8h-8zM1148 827.4h8v8h-8zM1508 835.4h8v8h-8zM1124 859.4h8v8h-8zM1116 867.4h8v8h-8zM1092 899.4h8v8h-8zM1084 907.4h8v8h-8zM1484 907.4h8v8h-8zM1076 915.4h8v8h-8zM1476 923.4h8v8h-8zM1468 939.4h8v8h-8zM1052 947.4h8v8h-8zM1028 979.4h8v8h-8zM1012 1003.4h8v8h-8zM1004 1019.4h8v8h-8zM1428 1027.4h8v8h-8zM996 1035.4h8v8h-8zM1420 1043.4h8v8h-8zM988 1051.4h8v8h-8zM988 1059.4h8v8h-8zM1412 1067.4h8v8h-8zM1404 1083.4h8v8h-8zM980 1099.4h8v8h-8zM1380 1131.4h8v8h-8zM988 1139.4h8v8h-8zM996 1155.4h8v8h-8zM1004 1171.4h8v8h-8zM1012 1179.4h8v8h-8zM1332 1179.4h8v8h-8zM1020 1187.4h8v8h-8zM1028 1195.4h8v8h-8zM1052 1211.4h8v8h-8zM1068 1219.4h8v8h-8zM1252 1219.4h8v8h-8zM1092 1227.4h8v8h-8zM1228 1227.4h8v8h-8zM1124 1235.4h16v8h-16zM1180 1235.4h16v8h-16z"/>
<path fill="#1c1246" d="M1252 363.4h48v8h-48zM1228 371.4h8v8h-8zM1316 371.4h8v8h-8zM1220 379.4h8v8h-8zM1348 387.4h8v8h-8zM1196 403.4h8v8h-8zM1372 403.4h8v8h-8zM1380 411.4h8v8h-8zM1188 419.4h8v8h-8zM1388 419.4h8v8h-8zM1412 451.4h8v8h-8zM1420 459.4h8v8h-8zM644 475.4h16v8h-16zM604 483.4h8v8h-8zM692 483.4h8v8h-8zM1436 483.4h8v8h-8zM724 499.4h8v8h-8zM1444 499.4h8v8h-8zM740 507.4h8v8h-8zM548 515.4h8v8h-8zM748 515.4h8v8h-8zM1188 515.4h8v8h-8zM1452 515.4h8v8h-8zM540 523.4h8v8h-8zM756 523.4h8v8h-8zM764 531.4h8v8h-8zM524 547.4h8v8h-8zM1468 547.4h8v8h-8zM780 555.4h8v8h-8zM516 563.4h8v8h-8zM1196 563.4h8v8h-8zM1476 563.4h8v8h-8zM788 571.4h8v8h-8zM1196 571.4h8v8h-8zM1196 579.4h8v8h-8zM508 587.4h8v8h-8zM1484 587.4h8v8h-8zM796 595.4h8v8h-8zM796 603.4h8v8h-8zM796 635.4h8v8h-8zM1500 635.4h8v8h-8zM508 643.4h8v8h-8zM796 643.4h8v8h-8zM508 651.4h8v8h-8zM1508 667.4h8v8h-8zM788 675.4h8v8h-8zM1196 675.4h8v8h-8zM1196 683.4h8v8h-8zM780 691.4h8v8h-8zM1196 691.4h8v8h-8zM532 699.4h8v8h-8zM772 707.4h8v8h-8zM764 715.4h8v8h-8zM1188 731.4h8v8h-8zM1516 731.4h8v8h-8zM572 739.4h8v8h-8zM740 739.4h8v8h-8zM1516 739.4h8v8h-8zM588 747.4h8v8h-8zM732 747.4h8v8h-8zM1516 747.4h8v8h-8zM604 755.4h8v8h-8zM716 755.4h8v8h-8zM1516 755.4h8v8h-8zM628 763.4h8v8h-8zM692 763.4h8v8h-8zM1180 763.4h8v8h-8zM1172 787.4h8v8h-8zM1164 803.4h8v8h-8zM1156 819.4h8v8h-8zM1508 819.4h8v8h-8zM1508 827.4h8v8h-8zM1140 843.4h8v8h-8zM1132 851.4h8v8h-8zM1500 859.4h8v8h-8zM1108 883.4h8v8h-8zM1492 883.4h8v8h-8zM1100 891.4h8v8h-8zM1484 899.4h8v8h-8zM1068 931.4h8v8h-8zM1060 939.4h8v8h-8zM1460 955.4h8v8h-8zM1044 963.4h8v8h-8zM1036 971.4h8v8h-8zM1452 971.4h8v8h-8zM1444 987.4h8v8h-8zM1020 995.4h8v8h-8zM1436 1003.4h8v8h-8zM1428 1019.4h8v8h-8zM1412 1059.4h8v8h-8zM988 1067.4h8v8h-8zM1396 1099.4h8v8h-8zM1388 1115.4h8v8h-8zM988 1131.4h8v8h-8zM1372 1139.4h8v8h-8zM1364 1147.4h8v8h-8zM1356 1155.4h8v8h-8zM1004 1163.4h8v8h-8zM1348 1163.4h8v8h-8zM1340 1171.4h8v8h-8zM1316 1187.4h8v8h-8zM1300 1195.4h8v8h-8zM1044 1203.4h8v8h-8zM1284 1203.4h8v8h-8zM1060 1211.4h8v8h-8zM1268 1211.4h8v8h-8zM1076 1219.4h8v8h-8zM1100 1227.4h8v8h-8zM1220 1227.4h8v8h-8zM1140 1235.4h40v8h-40z"/>
<path fill="#1f124b" d="M1236 371.4h8v8h-8zM1308 371.4h8v8h-8zM1332 379.4h8v8h-8zM1212 387.4h8v8h-8zM1204 395.4h8v8h-8zM1356 395.4h8v8h-8zM1196 411.4h8v8h-8zM1188 427.4h8v8h-8zM1188 435.4h8v8h-8zM1396 435.4h8v8h-8zM1404 443.4h8v8h-8zM1428 475.4h8v8h-8zM612 483.4h8v8h-8zM684 483.4h8v8h-8zM588 491.4h8v8h-8zM708 491.4h8v8h-8zM1436 491.4h8v8h-8zM572 499.4h8v8h-8zM1188 499.4h8v8h-8zM732 507.4h8v8h-8zM1188 507.4h8v8h-8zM1460 531.4h8v8h-8zM532 539.4h8v8h-8zM772 547.4h8v8h-8zM1196 547.4h8v8h-8zM1196 555.4h8v8h-8zM1476 571.4h8v8h-8zM788 579.4h8v8h-8zM508 595.4h8v8h-8zM508 603.4h8v8h-8zM796 611.4h8v8h-8zM1492 611.4h8v8h-8zM796 619.4h8v8h-8zM508 627.4h8v8h-8zM796 627.4h8v8h-8zM508 635.4h8v8h-8zM1500 643.4h8v8h-8zM516 667.4h8v8h-8zM788 667.4h8v8h-8zM1508 675.4h8v8h-8zM524 683.4h8v8h-8zM780 683.4h8v8h-8zM1508 683.4h8v8h-8zM772 699.4h8v8h-8zM1196 699.4h8v8h-8zM540 707.4h8v8h-8zM548 715.4h8v8h-8zM556 723.4h8v8h-8zM756 723.4h8v8h-8zM564 731.4h8v8h-8zM748 731.4h8v8h-8zM1188 739.4h8v8h-8zM724 747.4h8v8h-8zM1188 747.4h8v8h-8zM612 755.4h8v8h-8zM708 755.4h8v8h-8zM636 763.4h16v8h-16zM676 763.4h16v8h-16zM1180 771.4h8v8h-8zM1172 795.4h8v8h-8zM1508 803.4h8v8h-8zM1164 811.4h8v8h-8zM1508 811.4h8v8h-8zM1148 835.4h8v8h-8zM1500 851.4h8v8h-8zM1132 859.4h8v8h-8zM1124 867.4h8v8h-8zM1116 875.4h8v8h-8zM1492 875.4h8v8h-8zM1084 915.4h8v8h-8zM1476 915.4h8v8h-8zM1076 923.4h8v8h-8zM1468 931.4h8v8h-8zM1460 947.4h8v8h-8zM1052 955.4h8v8h-8zM1452 963.4h8v8h-8zM1444 979.4h8v8h-8zM1028 987.4h8v8h-8zM1012 1011.4h8v8h-8zM1004 1027.4h8v8h-8zM1420 1035.4h8v8h-8zM996 1043.4h8v8h-8zM1412 1051.4h8v8h-8zM988 1075.4h8v8h-8zM1404 1075.4h8v8h-8zM988 1083.4h8v8h-8zM1396 1091.4h8v8h-8zM988 1107.4h8v8h-8zM1388 1107.4h8v8h-8zM988 1115.4h8v8h-8zM988 1123.4h8v8h-8zM1380 1123.4h8v8h-8zM996 1147.4h8v8h-8zM1012 1171.4h8v8h-8zM1020 1179.4h8v8h-8zM1324 1179.4h8v8h-8zM1028 1187.4h8v8h-8zM1036 1195.4h8v8h-8zM1244 1219.4h8v8h-8zM1108 1227.4h8v8h-8zM1212 1227.4h8v8h-8z"/>
<path fill="#20124d" d="M1244 371.4h16v8h-16zM1292 371.4h16v8h-16zM1228 379.4h8v8h-8zM1324 379.4h8v8h-8zM1220 387.4h8v8h-8zM1340 387.4h8v8h-8zM1212 395.4h8v8h-8zM1204 403.4h8v8h-8zM1364 403.4h8v8h-8zM1372 411.4h8v8h-8zM1196 419.4h8v8h-8zM1380 419.4h8v8h-8zM1388 427.4h8v8h-8zM1188 443.4h8v8h-8zM1188 451.4h8v8h-8zM1188 459.4h8v8h-8zM1412 459.4h8v8h-8zM1420 467.4h8v8h-8zM1188 475.4h8v8h-8zM620 483.4h16v8h-16zM668 483.4h16v8h-16zM1188 483.4h8v8h-8zM1428 483.4h8v8h-8zM596 491.4h8v8h-8zM700 491.4h8v8h-8zM1188 491.4h8v8h-8zM580 499.4h8v8h-8zM716 499.4h8v8h-8zM564 507.4h8v8h-8zM1444 507.4h8v8h-8zM556 515.4h8v8h-8zM740 515.4h8v8h-8zM548 523.4h8v8h-8zM748 523.4h8v8h-8zM1452 523.4h8v8h-8zM540 531.4h8v8h-8zM756 531.4h8v8h-8zM764 539.4h8v8h-8zM1196 539.4h8v8h-8zM1460 539.4h8v8h-8zM524 555.4h8v8h-8zM1468 555.4h8v8h-8zM780 563.4h8v8h-8zM516 571.4h8v8h-8zM788 587.4h8v8h-8zM1484 595.4h8v8h-8zM508 611.4h8v8h-8zM1204 611.4h8v8h-8zM508 619.4h8v8h-8zM1204 619.4h8v8h-8zM1492 619.4h8v8h-8zM1204 627.4h8v8h-8zM1204 635.4h8v8h-8zM1204 643.4h8v8h-8zM788 651.4h8v8h-8zM1500 651.4h8v8h-8zM516 659.4h8v8h-8zM788 659.4h8v8h-8zM532 691.4h8v8h-8zM1508 691.4h8v8h-8zM1508 699.4h8v8h-8zM764 707.4h8v8h-8zM1196 707.4h8v8h-8zM1508 707.4h8v8h-8zM1196 715.4h8v8h-8zM580 739.4h8v8h-8zM732 739.4h8v8h-8zM596 747.4h8v8h-8zM700 755.4h8v8h-8zM1188 755.4h8v8h-8zM652 763.4h24v8h-24zM1180 779.4h8v8h-8zM1508 787.4h8v8h-8zM1508 795.4h8v8h-8zM1156 827.4h8v8h-8zM1500 835.4h8v8h-8zM1500 843.4h8v8h-8zM1140 851.4h8v8h-8zM1492 867.4h8v8h-8zM1484 891.4h8v8h-8zM1100 899.4h8v8h-8zM1092 907.4h8v8h-8zM1476 907.4h8v8h-8zM1060 947.4h8v8h-8zM1036 979.4h8v8h-8zM1436 995.4h8v8h-8zM1020 1003.4h8v8h-8zM1428 1011.4h8v8h-8zM1420 1027.4h8v8h-8zM996 1051.4h8v8h-8zM1404 1067.4h8v8h-8zM988 1091.4h8v8h-8zM988 1099.4h8v8h-8zM1372 1131.4h8v8h-8zM996 1139.4h8v8h-8zM1004 1155.4h8v8h-8zM1332 1171.4h8v8h-8zM1308 1187.4h8v8h-8zM1292 1195.4h8v8h-8zM1052 1203.4h8v8h-8zM1276 1203.4h8v8h-8zM1068 1211.4h8v8h-8zM1260 1211.4h8v8h-8zM1084 1219.4h8v8h-8zM1236 1219.4h8v8h-8zM1116 1227.4h8v8h-8zM1204 1227.4h8v8h-8z"/>
<path fill="#231252" d="M1260 371.4h32v8h-32zM1236 379.4h8v8h-8zM1316 379.4h8v8h-8zM1332 387.4h8v8h-8zM1348 395.4h8v8h-8zM1204 411.4h8v8h-8zM1196 427.4h8v8h-8zM1404 451.4h8v8h-8zM1188 467.4h8v8h-8zM1420 475.4h8v8h-8zM636 483.4h32v8h-32zM604 491.4h8v8h-8zM692 491.4h8v8h-8zM1436 499.4h8v8h-8zM724 507.4h8v8h-8zM1196 523.4h8v8h-8zM1196 531.4h8v8h-8zM772 555.4h8v8h-8zM1468 563.4h8v8h-8zM780 571.4h8v8h-8zM516 579.4h8v8h-8zM1204 579.4h8v8h-8zM1476 579.4h8v8h-8zM1204 587.4h8v8h-8zM788 595.4h8v8h-8zM1204 595.4h8v8h-8zM1204 603.4h8v8h-8zM1484 603.4h8v8h-8zM1492 627.4h8v8h-8zM788 643.4h8v8h-8zM516 651.4h8v8h-8zM1204 651.4h8v8h-8zM1204 659.4h8v8h-8zM1500 659.4h8v8h-8zM1204 667.4h8v8h-8zM524 675.4h8v8h-8zM780 675.4h8v8h-8zM772 691.4h8v8h-8zM540 699.4h8v8h-8zM756 715.4h8v8h-8zM1508 715.4h8v8h-8zM564 723.4h8v8h-8zM748 723.4h8v8h-8zM1196 723.4h8v8h-8zM1508 723.4h8v8h-8zM572 731.4h8v8h-8zM740 731.4h8v8h-8zM1508 731.4h8v8h-8zM1508 739.4h8v8h-8zM716 747.4h8v8h-8zM1508 747.4h8v8h-8zM620 755.4h16v8h-16zM692 755.4h8v8h-8zM1508 755.4h8v8h-8zM1188 763.4h8v8h-8zM1508 763.4h8v8h-8zM1508 771.4h8v8h-8zM1508 779.4h8v8h-8zM1180 787.4h8v8h-8zM1172 803.4h8v8h-8zM1164 819.4h8v8h-8zM1500 827.4h8v8h-8zM1156 835.4h8v8h-8zM1148 843.4h8v8h-8zM1492 859.4h8v8h-8zM1132 867.4h8v8h-8zM1124 875.4h8v8h-8zM1116 883.4h8v8h-8zM1484 883.4h8v8h-8zM1108 891.4h8v8h-8zM1468 923.4h8v8h-8zM1068 939.4h8v8h-8zM1460 939.4h8v8h-8zM1452 955.4h8v8h-8zM1044 971.4h8v8h-8zM1444 971.4h8v8h-8zM1436 987.4h8v8h-8zM1028 995.4h8v8h-8zM1012 1019.4h8v8h-8zM1004 1035.4h8v8h-8zM1412 1043.4h8v8h-8zM996 1059.4h8v8h-8zM1396 1083.4h8v8h-8zM1388 1099.4h8v8h-8zM1380 1115.4h8v8h-8zM996 1131.4h8v8h-8zM1364 1139.4h8v8h-8zM1356 1147.4h8v8h-8zM1348 1155.4h8v8h-8zM1012 1163.4h8v8h-8zM1340 1163.4h8v8h-8zM1316 1179.4h8v8h-8zM1044 1195.4h8v8h-8zM1252 1211.4h8v8h-8zM1092 1219.4h8v8h-8zM1228 1219.4h8v8h-8zM1124 1227.4h8v8h-8zM1188 1227.4h16v8h-16z"/>
<path fill="#251356" d="M1244 379.4h8v8h-8zM1308 379.4h8v8h-8zM1228 387.4h8v8h-8zM1220 395.4h8v8h-8zM1212 403.4h8v8h-8zM1356 403.4h8v8h-8zM1364 411.4h8v8h-8zM1372 419.4h8v8h-8zM1380 427.4h8v8h-8zM1196 435.4h8v8h-8zM1388 435.4h8v8h-8zM1396 443.4h8v8h-8zM1412 467.4h8v8h-8zM612 491.4h8v8h-8zM684 491.4h8v8h-8zM1428 491.4h8v8h-8zM588 499.4h8v8h-8zM708 499.4h8v8h-8zM572 507.4h8v8h-8zM732 515.4h8v8h-8zM1196 515.4h8v8h-8zM1444 515.4h8v8h-8zM1452 531.4h8v8h-8zM532 547.4h8v8h-8zM764 547.4h8v8h-8zM1460 547.4h8v8h-8zM524 563.4h8v8h-8zM1204 563.4h8v8h-8zM1204 571.4h8v8h-8zM780 579.4h8v8h-8zM516 587.4h8v8h-8zM1476 587.4h8v8h-8zM788 603.4h8v8h-8zM788 611.4h8v8h-8zM1484 611.4h8v8h-8zM788 619.4h8v8h-8zM788 627.4h8v8h-8zM788 635.4h8v8h-8zM1492 635.4h8v8h-8zM516 643.4h8v8h-8zM524 667.4h8v8h-8zM780 667.4h8v8h-8zM1500 667.4h8v8h-8zM1204 675.4h8v8h-8zM1500 675.4h8v8h-8zM532 683.4h8v8h-8zM772 683.4h8v8h-8zM1204 683.4h8v8h-8zM764 699.4h8v8h-8zM548 707.4h8v8h-8zM556 715.4h8v8h-8zM1196 731.4h8v8h-8zM588 739.4h8v8h-8zM724 739.4h8v8h-8zM604 747.4h8v8h-8zM708 747.4h8v8h-8zM636 755.4h8v8h-8zM684 755.4h8v8h-8zM1172 811.4h8v8h-8zM1500 819.4h8v8h-8zM1492 851.4h8v8h-8zM1140 859.4h8v8h-8zM1476 899.4h8v8h-8zM1468 915.4h8v8h-8zM1084 923.4h8v8h-8zM1076 931.4h8v8h-8zM1052 963.4h8v8h-8zM1428 1003.4h8v8h-8zM1020 1011.4h8v8h-8zM1420 1019.4h8v8h-8zM1004 1043.4h8v8h-8zM1404 1059.4h8v8h-8zM996 1067.4h8v8h-8zM1396 1075.4h8v8h-8zM996 1123.4h8v8h-8zM1372 1123.4h8v8h-8zM1004 1147.4h8v8h-8zM1020 1171.4h8v8h-8zM1324 1171.4h8v8h-8zM1028 1179.4h8v8h-8zM1036 1187.4h8v8h-8zM1300 1187.4h8v8h-8zM1284 1195.4h8v8h-8zM1060 1203.4h8v8h-8zM1268 1203.4h8v8h-8zM1076 1211.4h8v8h-8zM1100 1219.4h8v8h-8zM1132 1227.4h24v8h-24zM1172 1227.4h16v8h-16z"/>
<path fill="#271359" d="M1252 379.4h16v8h-16zM1292 379.4h16v8h-16zM1236 387.4h8v8h-8zM1324 387.4h8v8h-8zM1340 395.4h8v8h-8zM1348 403.4h8v8h-8zM1204 419.4h8v8h-8zM1196 443.4h8v8h-8zM1404 459.4h8v8h-8zM1420 483.4h8v8h-8zM620 491.4h8v8h-8zM676 491.4h8v8h-8zM700 499.4h8v8h-8zM1196 499.4h8v8h-8zM716 507.4h8v8h-8zM1196 507.4h8v8h-8zM1436 507.4h8v8h-8zM564 515.4h8v8h-8zM556 523.4h8v8h-8zM740 523.4h8v8h-8zM1444 523.4h8v8h-8zM548 531.4h8v8h-8zM748 531.4h8v8h-8zM540 539.4h8v8h-8zM756 539.4h8v8h-8zM1204 555.4h8v8h-8zM772 563.4h8v8h-8zM1468 571.4h8v8h-8zM516 595.4h8v8h-8zM516 603.4h8v8h-8zM516 627.4h8v8h-8zM516 635.4h8v8h-8zM1492 643.4h8v8h-8zM780 659.4h8v8h-8zM1500 683.4h8v8h-8zM540 691.4h8v8h-8zM1204 691.4h8v8h-8zM1500 691.4h8v8h-8zM1204 699.4h8v8h-8zM756 707.4h8v8h-8zM748 715.4h8v8h-8zM740 723.4h8v8h-8zM580 731.4h8v8h-8zM732 731.4h8v8h-8zM596 739.4h8v8h-8zM1196 739.4h8v8h-8zM612 747.4h8v8h-8zM644 755.4h40v8h-40zM1188 771.4h8v8h-8zM1180 795.4h8v8h-8zM1500 803.4h8v8h-8zM1500 811.4h8v8h-8zM1164 827.4h8v8h-8zM1156 843.4h8v8h-8zM1148 851.4h8v8h-8zM1484 875.4h8v8h-8zM1116 891.4h8v8h-8zM1108 899.4h8v8h-8zM1100 907.4h8v8h-8zM1092 915.4h8v8h-8zM1460 931.4h8v8h-8zM1452 947.4h8v8h-8zM1060 955.4h8v8h-8zM1444 963.4h8v8h-8zM1436 979.4h8v8h-8zM1036 987.4h8v8h-8zM1012 1027.4h8v8h-8zM1412 1035.4h8v8h-8zM1404 1051.4h8v8h-8zM996 1075.4h8v8h-8zM996 1083.4h8v8h-8zM996 1091.4h8v8h-8zM1388 1091.4h8v8h-8zM996 1099.4h8v8h-8zM996 1107.4h8v8h-8zM1380 1107.4h8v8h-8zM996 1115.4h8v8h-8zM1364 1131.4h8v8h-8zM1004 1139.4h8v8h-8zM1012 1155.4h8v8h-8zM1332 1163.4h8v8h-8zM1052 1195.4h8v8h-8zM1084 1211.4h8v8h-8zM1244 1211.4h8v8h-8zM1108 1219.4h8v8h-8zM1220 1219.4h8v8h-8zM1156 1227.4h16v8h-16z"/>
<path fill="#2a135d" d="M1268 379.4h24v8h-24zM1316 387.4h8v8h-8zM1228 395.4h8v8h-8zM1332 395.4h8v8h-8zM1220 403.4h8v8h-8zM1212 411.4h8v8h-8zM1356 411.4h8v8h-8zM1204 427.4h8v8h-8zM1388 443.4h8v8h-8zM1196 451.4h8v8h-8zM1396 451.4h8v8h-8zM1196 459.4h8v8h-8zM1196 467.4h8v8h-8zM1196 475.4h8v8h-8zM1412 475.4h8v8h-8zM1196 483.4h8v8h-8zM628 491.4h48v8h-48zM1196 491.4h8v8h-8zM596 499.4h8v8h-8zM692 499.4h8v8h-8zM1428 499.4h8v8h-8zM580 507.4h8v8h-8zM724 515.4h8v8h-8zM1204 539.4h8v8h-8zM1452 539.4h8v8h-8zM1204 547.4h8v8h-8zM532 555.4h8v8h-8zM764 555.4h8v8h-8zM1460 555.4h8v8h-8zM524 571.4h8v8h-8zM772 571.4h8v8h-8zM780 587.4h8v8h-8zM1476 595.4h8v8h-8zM516 611.4h8v8h-8zM516 619.4h8v8h-8zM1484 619.4h8v8h-8zM780 651.4h8v8h-8zM1492 651.4h8v8h-8zM524 659.4h8v8h-8zM532 675.4h8v8h-8zM772 675.4h8v8h-8zM764 691.4h8v8h-8zM548 699.4h8v8h-8zM1500 699.4h8v8h-8zM556 707.4h8v8h-8zM1204 707.4h8v8h-8zM1500 707.4h8v8h-8zM564 715.4h8v8h-8zM572 723.4h8v8h-8zM716 739.4h8v8h-8zM620 747.4h8v8h-8zM700 747.4h8v8h-8zM1196 747.4h8v8h-8zM1188 779.4h8v8h-8zM1500 795.4h8v8h-8zM1180 803.4h8v8h-8zM1172 819.4h8v8h-8zM1164 835.4h8v8h-8zM1492 843.4h8v8h-8zM1140 867.4h8v8h-8zM1484 867.4h8v8h-8zM1132 875.4h8v8h-8zM1124 883.4h8v8h-8zM1476 891.4h8v8h-8zM1468 907.4h8v8h-8zM1068 947.4h8v8h-8zM1044 979.4h8v8h-8zM1428 995.4h8v8h-8zM1028 1003.4h8v8h-8zM1420 1011.4h8v8h-8zM1412 1027.4h8v8h-8zM1004 1051.4h8v8h-8zM1396 1067.4h8v8h-8zM1388 1083.4h8v8h-8zM1380 1099.4h8v8h-8zM1372 1115.4h8v8h-8zM1004 1131.4h8v8h-8zM1356 1139.4h8v8h-8zM1348 1147.4h8v8h-8zM1340 1155.4h8v8h-8zM1020 1163.4h8v8h-8zM1308 1179.4h8v8h-8zM1044 1187.4h8v8h-8zM1292 1187.4h8v8h-8zM1276 1195.4h8v8h-8zM1068 1203.4h8v8h-8zM1260 1203.4h8v8h-8zM1212 1219.4h8v8h-8z"/>
<path fill="#2b125f" d="M1244 387.4h8v8h-8zM1308 387.4h8v8h-8zM1340 403.4h8v8h-8zM1212 419.4h8v8h-8zM1364 419.4h8v8h-8zM1372 427.4h8v8h-8zM1204 435.4h8v8h-8zM1380 435.4h8v8h-8zM1404 467.4h8v8h-8zM604 499.4h8v8h-8zM708 507.4h8v8h-8zM572 515.4h8v8h-8zM1436 515.4h8v8h-8zM732 523.4h8v8h-8zM1204 531.4h8v8h-8zM1444 531.4h8v8h-8zM540 547.4h8v8h-8zM756 547.4h8v8h-8zM1460 563.4h8v8h-8zM524 579.4h8v8h-8zM1468 579.4h8v8h-8zM1212 587.4h8v8h-8zM780 595.4h8v8h-8zM1212 595.4h8v8h-8zM780 603.4h8v8h-8zM1212 603.4h8v8h-8zM1476 603.4h8v8h-8zM1212 611.4h8v8h-8zM1212 619.4h8v8h-8zM1212 627.4h8v8h-8zM1484 627.4h8v8h-8zM780 635.4h8v8h-8zM1212 635.4h8v8h-8zM780 643.4h8v8h-8zM1212 643.4h8v8h-8zM524 651.4h8v8h-8zM1212 651.4h8v8h-8zM1212 659.4h8v8h-8zM1492 659.4h8v8h-8zM772 667.4h8v8h-8zM756 699.4h8v8h-8zM748 707.4h8v8h-8zM1204 715.4h8v8h-8zM1500 715.4h8v8h-8zM732 723.4h8v8h-8zM1204 723.4h8v8h-8zM1500 723.4h8v8h-8zM588 731.4h8v8h-8zM724 731.4h8v8h-8zM1500 731.4h8v8h-8zM604 739.4h8v8h-8zM708 739.4h8v8h-8zM1500 739.4h8v8h-8zM628 747.4h8v8h-8zM692 747.4h8v8h-8zM1500 747.4h8v8h-8zM1196 755.4h8v8h-8zM1500 755.4h8v8h-8zM1500 763.4h8v8h-8zM1500 771.4h8v8h-8zM1500 779.4h8v8h-8zM1188 787.4h8v8h-8zM1500 787.4h8v8h-8zM1492 835.4h8v8h-8zM1156 851.4h8v8h-8zM1148 859.4h8v8h-8zM1484 859.4h8v8h-8zM1476 883.4h8v8h-8zM1460 923.4h8v8h-8zM1084 931.4h8v8h-8zM1076 939.4h8v8h-8zM1452 939.4h8v8h-8zM1444 955.4h8v8h-8zM1052 971.4h8v8h-8zM1436 971.4h8v8h-8zM1428 987.4h8v8h-8zM1020 1019.4h8v8h-8zM1012 1035.4h8v8h-8zM1404 1043.4h8v8h-8zM1004 1059.4h8v8h-8zM1396 1059.4h8v8h-8zM1364 1123.4h8v8h-8zM1012 1147.4h8v8h-8zM1028 1171.4h8v8h-8zM1316 1171.4h8v8h-8zM1036 1179.4h8v8h-8zM1060 1195.4h8v8h-8zM1092 1211.4h8v8h-8zM1236 1211.4h8v8h-8zM1116 1219.4h8v8h-8zM1204 1219.4h8v8h-8z"/>
<path fill="#2e1263" d="M1252 387.4h16v8h-16zM1292 387.4h16v8h-16zM1236 395.4h8v8h-8zM1324 395.4h8v8h-8zM1228 403.4h8v8h-8zM1220 411.4h8v8h-8zM1348 411.4h8v8h-8zM1204 443.4h8v8h-8zM1396 459.4h8v8h-8zM1420 491.4h8v8h-8zM612 499.4h8v8h-8zM684 499.4h8v8h-8zM588 507.4h8v8h-8zM1428 507.4h8v8h-8zM1204 515.4h8v8h-8zM564 523.4h8v8h-8zM1204 523.4h8v8h-8zM556 531.4h8v8h-8zM740 531.4h8v8h-8zM548 539.4h8v8h-8zM748 539.4h8v8h-8zM1452 547.4h8v8h-8zM532 563.4h8v8h-8zM764 563.4h8v8h-8zM1212 571.4h8v8h-8zM772 579.4h8v8h-8zM1212 579.4h8v8h-8zM524 587.4h8v8h-8zM1468 587.4h8v8h-8zM780 611.4h8v8h-8zM780 619.4h8v8h-8zM780 627.4h8v8h-8zM1484 635.4h8v8h-8zM524 643.4h8v8h-8zM532 667.4h8v8h-8zM1212 667.4h8v8h-8zM1492 667.4h8v8h-8zM1212 675.4h8v8h-8zM1492 675.4h8v8h-8zM540 683.4h8v8h-8zM764 683.4h8v8h-8zM740 715.4h8v8h-8zM580 723.4h8v8h-8zM1204 731.4h8v8h-8zM612 739.4h8v8h-8zM636 747.4h16v8h-16zM676 747.4h16v8h-16zM1196 763.4h8v8h-8zM1180 811.4h8v8h-8zM1492 819.4h8v8h-8zM1172 827.4h8v8h-8zM1492 827.4h8v8h-8zM1164 843.4h8v8h-8zM1132 883.4h8v8h-8zM1124 891.4h8v8h-8zM1116 899.4h8v8h-8zM1468 899.4h8v8h-8zM1108 907.4h8v8h-8zM1100 915.4h8v8h-8zM1460 915.4h8v8h-8zM1092 923.4h8v8h-8zM1060 963.4h8v8h-8zM1036 995.4h8v8h-8zM1420 1003.4h8v8h-8zM1412 1019.4h8v8h-8zM1004 1067.4h8v8h-8zM1388 1075.4h8v8h-8zM1380 1091.4h8v8h-8zM1372 1107.4h8v8h-8zM1004 1115.4h8v8h-8zM1004 1123.4h8v8h-8zM1356 1131.4h8v8h-8zM1324 1163.4h8v8h-8zM1300 1179.4h8v8h-8zM1076 1203.4h8v8h-8zM1252 1203.4h8v8h-8zM1228 1211.4h8v8h-8zM1124 1219.4h16v8h-16zM1196 1219.4h8v8h-8z"/>
<path fill="#311267" d="M1268 387.4h24v8h-24zM1244 395.4h8v8h-8zM1316 395.4h8v8h-8zM1332 403.4h8v8h-8zM1356 419.4h8v8h-8zM1212 427.4h8v8h-8zM1364 427.4h8v8h-8zM1372 435.4h8v8h-8zM1380 443.4h8v8h-8zM1204 451.4h8v8h-8zM1388 451.4h8v8h-8zM1412 483.4h8v8h-8zM620 499.4h8v8h-8zM668 499.4h16v8h-16zM596 507.4h8v8h-8zM700 507.4h8v8h-8zM1204 507.4h8v8h-8zM580 515.4h8v8h-8zM716 515.4h8v8h-8zM1436 523.4h8v8h-8zM540 555.4h8v8h-8zM756 555.4h8v8h-8zM1212 555.4h8v8h-8zM1212 563.4h8v8h-8zM1460 571.4h8v8h-8zM772 587.4h8v8h-8zM524 595.4h8v8h-8zM1476 611.4h8v8h-8zM524 635.4h8v8h-8zM1484 643.4h8v8h-8zM772 659.4h8v8h-8zM764 675.4h8v8h-8zM1212 683.4h8v8h-8zM1492 683.4h8v8h-8zM548 691.4h8v8h-8zM756 691.4h8v8h-8zM1212 691.4h8v8h-8zM556 699.4h8v8h-8zM564 707.4h8v8h-8zM572 715.4h8v8h-8zM596 731.4h8v8h-8zM716 731.4h8v8h-8zM700 739.4h8v8h-8zM1204 739.4h8v8h-8zM652 747.4h24v8h-24zM1196 771.4h8v8h-8zM1188 795.4h8v8h-8zM1492 811.4h8v8h-8zM1484 851.4h8v8h-8zM1148 867.4h8v8h-8zM1140 875.4h8v8h-8zM1476 875.4h8v8h-8zM1452 931.4h8v8h-8zM1444 947.4h8v8h-8zM1436 963.4h8v8h-8zM1428 979.4h8v8h-8zM1044 987.4h8v8h-8zM1028 1011.4h8v8h-8zM1020 1027.4h8v8h-8zM1404 1035.4h8v8h-8zM1012 1043.4h8v8h-8zM1396 1051.4h8v8h-8zM1004 1075.4h8v8h-8zM1004 1083.4h8v8h-8zM1004 1099.4h8v8h-8zM1004 1107.4h8v8h-8zM1012 1139.4h8v8h-8zM1348 1139.4h8v8h-8zM1340 1147.4h8v8h-8zM1020 1155.4h8v8h-8zM1332 1155.4h8v8h-8zM1028 1163.4h8v8h-8zM1044 1179.4h8v8h-8zM1052 1187.4h8v8h-8zM1284 1187.4h8v8h-8zM1268 1195.4h8v8h-8zM1100 1211.4h8v8h-8zM1140 1219.4h16v8h-16zM1180 1219.4h16v8h-16z"/>
<path fill="#331268" d="M1252 395.4h8v8h-8zM1308 395.4h8v8h-8zM1236 403.4h8v8h-8zM1228 411.4h8v8h-8zM1340 411.4h8v8h-8zM1220 419.4h8v8h-8zM1212 435.4h8v8h-8zM1204 459.4h8v8h-8zM1204 467.4h8v8h-8zM1204 475.4h8v8h-8zM1404 475.4h8v8h-8zM1204 483.4h8v8h-8zM1204 491.4h8v8h-8zM628 499.4h40v8h-40zM1204 499.4h8v8h-8zM1420 499.4h8v8h-8zM692 507.4h8v8h-8zM572 523.4h8v8h-8zM724 523.4h8v8h-8zM732 531.4h8v8h-8zM740 539.4h8v8h-8zM1444 539.4h8v8h-8zM548 547.4h8v8h-8zM748 547.4h8v8h-8zM1212 547.4h8v8h-8zM1452 555.4h8v8h-8zM532 571.4h8v8h-8zM764 571.4h8v8h-8zM772 595.4h8v8h-8zM1468 595.4h8v8h-8zM524 603.4h8v8h-8zM524 611.4h8v8h-8zM524 619.4h8v8h-8zM1476 619.4h8v8h-8zM524 627.4h8v8h-8zM772 651.4h8v8h-8zM1484 651.4h8v8h-8zM532 659.4h8v8h-8zM540 675.4h8v8h-8zM1492 691.4h8v8h-8zM748 699.4h8v8h-8zM1212 699.4h8v8h-8zM1492 699.4h8v8h-8zM740 707.4h8v8h-8zM732 715.4h8v8h-8zM588 723.4h8v8h-8zM724 723.4h8v8h-8zM620 739.4h8v8h-8zM692 739.4h8v8h-8zM1204 747.4h8v8h-8zM1196 779.4h8v8h-8zM1188 803.4h8v8h-8zM1492 803.4h8v8h-8zM1180 819.4h8v8h-8zM1172 835.4h8v8h-8zM1484 843.4h8v8h-8zM1156 859.4h8v8h-8zM1476 867.4h8v8h-8zM1468 891.4h8v8h-8zM1460 907.4h8v8h-8zM1068 955.4h8v8h-8zM1420 995.4h8v8h-8zM1412 1011.4h8v8h-8zM1388 1067.4h8v8h-8zM1380 1083.4h8v8h-8zM1004 1091.4h8v8h-8zM1364 1115.4h8v8h-8zM1012 1131.4h8v8h-8zM1036 1171.4h8v8h-8zM1308 1171.4h8v8h-8zM1068 1195.4h8v8h-8zM1084 1203.4h8v8h-8zM1244 1203.4h8v8h-8zM1108 1211.4h8v8h-8zM1220 1211.4h8v8h-8zM1156 1219.4h24v8h-24z"/>
<path fill="#36126b" d="M1260 395.4h8v8h-8zM1300 395.4h8v8h-8zM1324 403.4h8v8h-8zM1348 419.4h8v8h-8zM1220 427.4h8v8h-8zM1212 443.4h8v8h-8zM1388 459.4h8v8h-8zM1396 467.4h8v8h-8zM1412 491.4h8v8h-8zM604 507.4h8v8h-8zM684 507.4h8v8h-8zM588 515.4h8v8h-8zM708 515.4h8v8h-8zM1428 515.4h8v8h-8zM564 531.4h8v8h-8zM1436 531.4h8v8h-8zM556 539.4h8v8h-8zM1212 539.4h8v8h-8zM1452 563.4h8v8h-8zM532 579.4h8v8h-8zM1460 579.4h8v8h-8zM772 603.4h8v8h-8zM1220 611.4h8v8h-8zM1220 619.4h8v8h-8zM1220 627.4h8v8h-8zM1476 627.4h8v8h-8zM772 635.4h8v8h-8zM772 643.4h8v8h-8zM532 651.4h8v8h-8zM1484 659.4h8v8h-8zM764 667.4h8v8h-8zM548 683.4h8v8h-8zM756 683.4h8v8h-8zM1212 707.4h8v8h-8zM1492 707.4h8v8h-8zM1492 715.4h8v8h-8zM604 731.4h8v8h-8zM708 731.4h8v8h-8zM628 739.4h8v8h-8zM684 739.4h8v8h-8zM1492 787.4h8v8h-8zM1492 795.4h8v8h-8zM1484 835.4h8v8h-8zM1164 851.4h8v8h-8zM1140 883.4h8v8h-8zM1132 891.4h8v8h-8zM1124 899.4h8v8h-8zM1116 907.4h8v8h-8zM1452 923.4h8v8h-8zM1084 939.4h8v8h-8zM1444 939.4h8v8h-8zM1076 947.4h8v8h-8zM1436 955.4h8v8h-8zM1052 979.4h8v8h-8zM1036 1003.4h8v8h-8zM1404 1027.4h8v8h-8zM1396 1043.4h8v8h-8zM1012 1051.4h8v8h-8zM1372 1099.4h8v8h-8zM1356 1123.4h8v8h-8zM1020 1147.4h8v8h-8zM1316 1163.4h8v8h-8zM1292 1179.4h8v8h-8zM1060 1187.4h8v8h-8zM1276 1187.4h8v8h-8zM1260 1195.4h8v8h-8zM1212 1211.4h8v8h-8z"/>
<path fill="#38126d" d="M1268 395.4h32v8h-32zM1244 403.4h8v8h-8zM1316 403.4h8v8h-8zM1236 411.4h8v8h-8zM1332 411.4h8v8h-8zM1228 419.4h8v8h-8zM1356 427.4h8v8h-8zM1364 435.4h8v8h-8zM1372 443.4h8v8h-8zM1212 451.4h8v8h-8zM1380 451.4h8v8h-8zM1404 483.4h8v8h-8zM612 507.4h8v8h-8zM1420 507.4h8v8h-8zM700 515.4h8v8h-8zM716 523.4h8v8h-8zM1212 523.4h8v8h-8zM1212 531.4h8v8h-8zM1444 547.4h8v8h-8zM540 563.4h8v8h-8zM756 563.4h8v8h-8zM764 579.4h8v8h-8zM1220 579.4h8v8h-8zM1220 587.4h8v8h-8zM1220 595.4h8v8h-8zM1220 603.4h8v8h-8zM1468 603.4h8v8h-8zM772 611.4h8v8h-8zM772 619.4h8v8h-8zM772 627.4h8v8h-8zM1220 635.4h8v8h-8zM1220 643.4h8v8h-8zM1220 651.4h8v8h-8zM540 667.4h8v8h-8zM1484 667.4h8v8h-8zM556 691.4h8v8h-8zM564 699.4h8v8h-8zM572 707.4h8v8h-8zM580 715.4h8v8h-8zM1212 715.4h8v8h-8zM716 723.4h8v8h-8zM1492 723.4h8v8h-8zM612 731.4h8v8h-8zM1492 731.4h8v8h-8zM636 739.4h16v8h-16zM676 739.4h8v8h-8zM1492 739.4h8v8h-8zM1492 747.4h8v8h-8zM1204 755.4h8v8h-8zM1492 755.4h8v8h-8zM1492 763.4h8v8h-8zM1492 771.4h8v8h-8zM1492 779.4h8v8h-8zM1196 787.4h8v8h-8zM1188 811.4h8v8h-8zM1180 827.4h8v8h-8zM1484 827.4h8v8h-8zM1172 843.4h8v8h-8zM1476 859.4h8v8h-8zM1156 867.4h8v8h-8zM1148 875.4h8v8h-8zM1468 883.4h8v8h-8zM1460 899.4h8v8h-8zM1108 915.4h8v8h-8zM1100 923.4h8v8h-8zM1092 931.4h8v8h-8zM1060 971.4h8v8h-8zM1428 971.4h8v8h-8zM1420 987.4h8v8h-8zM1412 1003.4h8v8h-8zM1028 1019.4h8v8h-8zM1020 1035.4h8v8h-8zM1012 1059.4h8v8h-8zM1388 1059.4h8v8h-8zM1380 1075.4h8v8h-8zM1364 1107.4h8v8h-8zM1012 1123.4h8v8h-8zM1348 1131.4h8v8h-8zM1028 1155.4h8v8h-8zM1324 1155.4h8v8h-8zM1052 1179.4h8v8h-8zM1076 1195.4h8v8h-8zM1092 1203.4h8v8h-8zM1236 1203.4h8v8h-8zM1116 1211.4h8v8h-8zM1204 1211.4h8v8h-8z"/>
<path fill="#3b136f" d="M1252 403.4h8v8h-8zM1308 403.4h8v8h-8zM1220 435.4h8v8h-8zM1212 459.4h8v8h-8zM1396 475.4h8v8h-8zM620 507.4h8v8h-8zM676 507.4h8v8h-8zM596 515.4h8v8h-8zM1212 515.4h8v8h-8zM580 523.4h8v8h-8zM1428 523.4h8v8h-8zM724 531.4h8v8h-8zM732 539.4h8v8h-8zM740 547.4h8v8h-8zM548 555.4h8v8h-8zM748 555.4h8v8h-8zM1220 563.4h8v8h-8zM1220 571.4h8v8h-8zM1452 571.4h8v8h-8zM532 587.4h8v8h-8zM764 587.4h8v8h-8zM1460 587.4h8v8h-8zM1468 611.4h8v8h-8zM1476 635.4h8v8h-8zM532 643.4h8v8h-8zM764 659.4h8v8h-8zM1220 659.4h8v8h-8zM1220 667.4h8v8h-8zM756 675.4h8v8h-8zM1484 675.4h8v8h-8zM748 691.4h8v8h-8zM740 699.4h8v8h-8zM724 715.4h8v8h-8zM596 723.4h8v8h-8zM1212 723.4h8v8h-8zM700 731.4h8v8h-8zM652 739.4h24v8h-24zM1204 763.4h8v8h-8zM1196 795.4h8v8h-8zM1484 819.4h8v8h-8zM1476 851.4h8v8h-8zM1164 859.4h8v8h-8zM1468 875.4h8v8h-8zM1452 915.4h8v8h-8zM1444 931.4h8v8h-8zM1436 947.4h8v8h-8zM1044 995.4h8v8h-8zM1404 1019.4h8v8h-8zM1396 1035.4h8v8h-8zM1012 1067.4h8v8h-8zM1372 1091.4h8v8h-8zM1012 1115.4h8v8h-8zM1020 1139.4h8v8h-8zM1340 1139.4h8v8h-8zM1332 1147.4h8v8h-8zM1036 1163.4h8v8h-8zM1044 1171.4h8v8h-8zM1300 1171.4h8v8h-8zM1252 1195.4h8v8h-8zM1124 1211.4h8v8h-8zM1196 1211.4h8v8h-8z"/>
<path fill="#3e1371" d="M1260 403.4h8v8h-8zM1300 403.4h8v8h-8zM1244 411.4h8v8h-8zM1324 411.4h8v8h-8zM1236 419.4h8v8h-8zM1340 419.4h8v8h-8zM1228 427.4h8v8h-8zM1348 427.4h8v8h-8zM1220 443.4h8v8h-8zM1212 467.4h8v8h-8zM1388 467.4h8v8h-8zM1212 475.4h8v8h-8zM1212 483.4h8v8h-8zM1212 491.4h8v8h-8zM1212 499.4h8v8h-8zM1412 499.4h8v8h-8zM628 507.4h8v8h-8zM660 507.4h16v8h-16zM1212 507.4h8v8h-8zM692 515.4h8v8h-8zM708 523.4h8v8h-8zM572 531.4h8v8h-8zM564 539.4h8v8h-8zM1436 539.4h8v8h-8zM556 547.4h8v8h-8zM1220 555.4h8v8h-8zM1444 555.4h8v8h-8zM540 571.4h8v8h-8zM756 571.4h8v8h-8zM532 595.4h8v8h-8zM1460 595.4h8v8h-8zM532 603.4h8v8h-8zM1468 619.4h8v8h-8zM532 635.4h8v8h-8zM1476 643.4h8v8h-8zM764 651.4h8v8h-8zM540 659.4h8v8h-8zM548 675.4h8v8h-8zM1220 675.4h8v8h-8zM1220 683.4h8v8h-8zM1484 683.4h8v8h-8zM732 707.4h8v8h-8zM588 715.4h8v8h-8zM620 731.4h8v8h-8zM692 731.4h8v8h-8zM1212 731.4h8v8h-8zM1204 771.4h8v8h-8zM1484 811.4h8v8h-8zM1188 819.4h8v8h-8zM1180 835.4h8v8h-8zM1172 851.4h8v8h-8zM1140 891.4h8v8h-8zM1460 891.4h8v8h-8zM1132 899.4h8v8h-8zM1068 963.4h8v8h-8zM1428 963.4h8v8h-8zM1420 979.4h8v8h-8zM1412 995.4h8v8h-8zM1036 1011.4h8v8h-8zM1020 1043.4h8v8h-8zM1388 1051.4h8v8h-8zM1012 1075.4h8v8h-8zM1012 1099.4h8v8h-8zM1012 1107.4h8v8h-8zM1356 1115.4h8v8h-8zM1284 1179.4h8v8h-8zM1068 1187.4h8v8h-8zM1268 1187.4h8v8h-8zM1100 1203.4h8v8h-8zM1228 1203.4h8v8h-8zM1132 1211.4h8v8h-8zM1188 1211.4h8v8h-8z"/>
<path fill="#3f1472" d="M1268 403.4h32v8h-32zM1356 435.4h8v8h-8zM1364 443.4h8v8h-8zM1372 451.4h8v8h-8zM1380 459.4h8v8h-8zM1404 491.4h8v8h-8zM636 507.4h24v8h-24zM604 515.4h8v8h-8zM1420 515.4h8v8h-8zM588 523.4h8v8h-8zM1220 539.4h8v8h-8zM1220 547.4h8v8h-8zM748 563.4h8v8h-8zM540 579.4h8v8h-8zM1452 579.4h8v8h-8zM764 595.4h8v8h-8zM764 603.4h8v8h-8zM532 611.4h8v8h-8zM532 619.4h8v8h-8zM532 627.4h8v8h-8zM764 643.4h8v8h-8zM1476 651.4h8v8h-8zM756 667.4h8v8h-8zM556 683.4h8v8h-8zM748 683.4h8v8h-8zM1220 691.4h8v8h-8zM1484 691.4h8v8h-8zM1484 699.4h8v8h-8zM580 707.4h8v8h-8zM604 723.4h8v8h-8zM708 723.4h8v8h-8zM628 731.4h8v8h-8zM1212 739.4h8v8h-8zM1204 779.4h8v8h-8zM1196 803.4h8v8h-8zM1484 803.4h8v8h-8zM1476 843.4h8v8h-8zM1468 867.4h8v8h-8zM1156 875.4h8v8h-8zM1148 883.4h8v8h-8zM1124 907.4h8v8h-8zM1452 907.4h8v8h-8zM1116 915.4h8v8h-8zM1444 923.4h8v8h-8zM1076 955.4h8v8h-8zM1052 987.4h8v8h-8zM1404 1011.4h8v8h-8zM1028 1027.4h8v8h-8zM1396 1027.4h8v8h-8zM1380 1067.4h8v8h-8zM1012 1083.4h8v8h-8zM1372 1083.4h8v8h-8zM1012 1091.4h8v8h-8zM1364 1099.4h8v8h-8zM1020 1131.4h8v8h-8zM1028 1147.4h8v8h-8zM1308 1163.4h8v8h-8zM1084 1195.4h8v8h-8zM1220 1203.4h8v8h-8zM1140 1211.4h48v8h-48z"/>
<path fill="#421574" d="M1252 411.4h8v8h-8zM1316 411.4h8v8h-8zM1332 419.4h8v8h-8zM1228 435.4h8v8h-8zM1220 451.4h8v8h-8zM1396 483.4h8v8h-8zM612 515.4h8v8h-8zM684 515.4h8v8h-8zM700 523.4h8v8h-8zM580 531.4h8v8h-8zM716 531.4h8v8h-8zM1220 531.4h8v8h-8zM1428 531.4h8v8h-8zM724 539.4h8v8h-8zM1436 547.4h8v8h-8zM740 555.4h8v8h-8zM548 563.4h8v8h-8zM1444 563.4h8v8h-8zM756 579.4h8v8h-8zM1460 603.4h8v8h-8zM764 611.4h8v8h-8zM764 619.4h8v8h-8zM764 627.4h8v8h-8zM1468 627.4h8v8h-8zM764 635.4h8v8h-8zM540 651.4h8v8h-8zM1476 659.4h8v8h-8zM564 691.4h8v8h-8zM740 691.4h8v8h-8zM572 699.4h8v8h-8zM1220 699.4h8v8h-8zM1220 707.4h8v8h-8zM1484 707.4h8v8h-8zM596 715.4h8v8h-8zM716 715.4h8v8h-8zM1484 715.4h8v8h-8zM612 723.4h8v8h-8zM636 731.4h8v8h-8zM676 731.4h16v8h-16zM1212 747.4h8v8h-8zM1484 787.4h8v8h-8zM1484 795.4h8v8h-8zM1188 827.4h8v8h-8zM1476 835.4h8v8h-8zM1180 843.4h8v8h-8zM1164 867.4h8v8h-8zM1460 883.4h8v8h-8zM1108 923.4h8v8h-8zM1100 931.4h8v8h-8zM1092 939.4h8v8h-8zM1436 939.4h8v8h-8zM1084 947.4h8v8h-8zM1428 955.4h8v8h-8zM1420 971.4h8v8h-8zM1412 987.4h8v8h-8zM1388 1043.4h8v8h-8zM1020 1051.4h8v8h-8zM1348 1123.4h8v8h-8zM1036 1155.4h8v8h-8zM1316 1155.4h8v8h-8zM1052 1171.4h8v8h-8zM1292 1171.4h8v8h-8zM1060 1179.4h8v8h-8zM1244 1195.4h8v8h-8zM1108 1203.4h8v8h-8z"/>
<path fill="#441575" d="M1260 411.4h8v8h-8zM1308 411.4h8v8h-8zM1244 419.4h8v8h-8zM1236 427.4h8v8h-8zM1340 427.4h8v8h-8zM1220 459.4h8v8h-8zM1388 475.4h8v8h-8zM1412 507.4h8v8h-8zM676 515.4h8v8h-8zM596 523.4h8v8h-8zM1220 523.4h8v8h-8zM1420 523.4h8v8h-8zM572 539.4h8v8h-8zM564 547.4h8v8h-8zM732 547.4h8v8h-8zM556 555.4h8v8h-8zM540 587.4h8v8h-8zM756 587.4h8v8h-8zM1228 587.4h8v8h-8zM1452 587.4h8v8h-8zM1228 595.4h8v8h-8zM1228 603.4h8v8h-8zM1228 611.4h8v8h-8zM1228 619.4h8v8h-8zM1228 627.4h8v8h-8zM1228 635.4h8v8h-8zM1468 635.4h8v8h-8zM1228 643.4h8v8h-8zM756 659.4h8v8h-8zM548 667.4h8v8h-8zM1476 667.4h8v8h-8zM732 699.4h8v8h-8zM724 707.4h8v8h-8zM1220 715.4h8v8h-8zM700 723.4h8v8h-8zM1484 723.4h8v8h-8zM644 731.4h32v8h-32zM1484 731.4h8v8h-8zM1484 739.4h8v8h-8zM1212 755.4h8v8h-8zM1484 763.4h8v8h-8zM1484 771.4h8v8h-8zM1484 779.4h8v8h-8zM1204 787.4h8v8h-8zM1196 811.4h8v8h-8zM1476 827.4h8v8h-8zM1172 859.4h8v8h-8zM1468 859.4h8v8h-8zM1452 899.4h8v8h-8zM1060 979.4h8v8h-8zM1044 1003.4h8v8h-8zM1404 1003.4h8v8h-8zM1396 1019.4h8v8h-8zM1028 1035.4h8v8h-8zM1380 1059.4h8v8h-8zM1372 1075.4h8v8h-8zM1356 1107.4h8v8h-8zM1020 1123.4h8v8h-8zM1340 1131.4h8v8h-8zM1028 1139.4h8v8h-8zM1332 1139.4h8v8h-8zM1324 1147.4h8v8h-8zM1044 1163.4h8v8h-8zM1276 1179.4h8v8h-8zM1076 1187.4h8v8h-8zM1260 1187.4h8v8h-8zM1092 1195.4h8v8h-8zM1116 1203.4h8v8h-8zM1212 1203.4h8v8h-8z"/>
<path fill="#471676" d="M1268 411.4h8v8h-8zM1300 411.4h8v8h-8zM1252 419.4h8v8h-8zM1324 419.4h8v8h-8zM1348 435.4h8v8h-8zM1228 443.4h8v8h-8zM1356 443.4h8v8h-8zM1364 451.4h8v8h-8zM1372 459.4h8v8h-8zM1220 467.4h8v8h-8zM1380 467.4h8v8h-8zM1220 475.4h8v8h-8zM1220 483.4h8v8h-8zM1220 499.4h8v8h-8zM1404 499.4h8v8h-8zM1220 507.4h8v8h-8zM620 515.4h8v8h-8zM668 515.4h8v8h-8zM1220 515.4h8v8h-8zM692 523.4h8v8h-8zM708 531.4h8v8h-8zM1428 539.4h8v8h-8zM1436 555.4h8v8h-8zM548 571.4h8v8h-8zM748 571.4h8v8h-8zM1228 571.4h8v8h-8zM1444 571.4h8v8h-8zM1228 579.4h8v8h-8zM540 595.4h8v8h-8zM1460 611.4h8v8h-8zM540 643.4h8v8h-8zM1228 651.4h8v8h-8zM1228 659.4h8v8h-8zM556 675.4h8v8h-8zM748 675.4h8v8h-8zM1476 675.4h8v8h-8zM588 707.4h8v8h-8zM620 723.4h8v8h-8zM692 723.4h8v8h-8zM1220 723.4h8v8h-8zM1484 747.4h8v8h-8zM1484 755.4h8v8h-8zM1212 763.4h8v8h-8zM1204 795.4h8v8h-8zM1476 819.4h8v8h-8zM1188 835.4h8v8h-8zM1468 851.4h8v8h-8zM1460 875.4h8v8h-8zM1156 883.4h8v8h-8zM1148 891.4h8v8h-8zM1140 899.4h8v8h-8zM1132 907.4h8v8h-8zM1444 915.4h8v8h-8zM1436 931.4h8v8h-8zM1428 947.4h8v8h-8zM1420 963.4h8v8h-8zM1036 1019.4h8v8h-8zM1388 1035.4h8v8h-8zM1020 1059.4h8v8h-8zM1364 1091.4h8v8h-8zM1020 1115.4h8v8h-8zM1300 1163.4h8v8h-8zM1236 1195.4h8v8h-8zM1204 1203.4h8v8h-8z"/>
<path fill="#4a1777" d="M1276 411.4h24v8h-24zM1316 419.4h8v8h-8zM1244 427.4h8v8h-8zM1332 427.4h8v8h-8zM1236 435.4h8v8h-8zM1228 451.4h8v8h-8zM1220 491.4h8v8h-8zM1396 491.4h8v8h-8zM628 515.4h40v8h-40zM1412 515.4h8v8h-8zM604 523.4h8v8h-8zM588 531.4h8v8h-8zM716 539.4h8v8h-8zM1228 555.4h8v8h-8zM556 563.4h8v8h-8zM740 563.4h8v8h-8zM1228 563.4h8v8h-8zM756 595.4h8v8h-8zM1452 595.4h8v8h-8zM540 603.4h8v8h-8zM1460 619.4h8v8h-8zM540 635.4h8v8h-8zM1468 643.4h8v8h-8zM756 651.4h8v8h-8zM548 659.4h8v8h-8zM1228 667.4h8v8h-8zM564 683.4h8v8h-8zM740 683.4h8v8h-8zM1476 683.4h8v8h-8zM572 691.4h8v8h-8zM580 699.4h8v8h-8zM604 715.4h8v8h-8zM708 715.4h8v8h-8zM628 723.4h8v8h-8zM1220 731.4h8v8h-8zM1212 771.4h8v8h-8zM1476 811.4h8v8h-8zM1196 819.4h8v8h-8zM1180 851.4h8v8h-8zM1164 875.4h8v8h-8zM1452 891.4h8v8h-8zM1124 915.4h8v8h-8zM1068 971.4h8v8h-8zM1412 979.4h8v8h-8zM1052 995.4h8v8h-8zM1404 995.4h8v8h-8zM1380 1051.4h8v8h-8zM1020 1067.4h8v8h-8zM1020 1107.4h8v8h-8zM1348 1115.4h8v8h-8zM1036 1147.4h8v8h-8zM1068 1179.4h8v8h-8zM1252 1187.4h8v8h-8zM1100 1195.4h8v8h-8zM1124 1203.4h8v8h-8zM1196 1203.4h8v8h-8z"/>
<path fill="#4b1878" d="M1260 419.4h8v8h-8zM1340 435.4h8v8h-8zM1228 459.4h8v8h-8zM1388 483.4h8v8h-8zM684 523.4h8v8h-8zM1420 531.4h8v8h-8zM580 539.4h8v8h-8zM1228 539.4h8v8h-8zM724 547.4h8v8h-8zM1228 547.4h8v8h-8zM1428 547.4h8v8h-8zM564 555.4h8v8h-8zM732 555.4h8v8h-8zM1436 563.4h8v8h-8zM548 579.4h8v8h-8zM748 579.4h8v8h-8zM1444 579.4h8v8h-8zM756 603.4h8v8h-8zM540 611.4h8v8h-8zM540 619.4h8v8h-8zM540 627.4h8v8h-8zM756 643.4h8v8h-8zM1468 651.4h8v8h-8zM748 667.4h8v8h-8zM1228 675.4h8v8h-8zM1228 683.4h8v8h-8zM732 691.4h8v8h-8zM1476 691.4h8v8h-8zM724 699.4h8v8h-8zM716 707.4h8v8h-8zM684 723.4h8v8h-8zM1220 739.4h8v8h-8zM1204 803.4h8v8h-8zM1476 803.4h8v8h-8zM1468 843.4h8v8h-8zM1172 867.4h8v8h-8zM1460 867.4h8v8h-8zM1444 907.4h8v8h-8zM1116 923.4h8v8h-8zM1436 923.4h8v8h-8zM1108 931.4h8v8h-8zM1076 963.4h8v8h-8zM1396 1011.4h8v8h-8zM1388 1027.4h8v8h-8zM1028 1043.4h8v8h-8zM1372 1067.4h8v8h-8zM1020 1075.4h8v8h-8zM1020 1083.4h8v8h-8zM1364 1083.4h8v8h-8zM1020 1091.4h8v8h-8zM1020 1099.4h8v8h-8zM1356 1099.4h8v8h-8zM1340 1123.4h8v8h-8zM1028 1131.4h8v8h-8zM1044 1155.4h8v8h-8zM1308 1155.4h8v8h-8zM1052 1163.4h8v8h-8zM1060 1171.4h8v8h-8zM1284 1171.4h8v8h-8zM1268 1179.4h8v8h-8zM1084 1187.4h8v8h-8zM1228 1195.4h8v8h-8zM1132 1203.4h8v8h-8zM1188 1203.4h8v8h-8z"/>
<path fill="#4e1979" d="M1268 419.4h8v8h-8zM1308 419.4h8v8h-8zM1252 427.4h8v8h-8zM1324 427.4h8v8h-8zM1244 435.4h8v8h-8zM1236 443.4h8v8h-8zM1348 443.4h8v8h-8zM1228 467.4h8v8h-8zM1380 475.4h8v8h-8zM1404 507.4h8v8h-8zM612 523.4h8v8h-8zM700 531.4h8v8h-8zM1228 531.4h8v8h-8zM572 547.4h8v8h-8zM1452 603.4h8v8h-8zM756 611.4h8v8h-8zM756 619.4h8v8h-8zM756 627.4h8v8h-8zM1460 627.4h8v8h-8zM756 635.4h8v8h-8zM548 651.4h8v8h-8zM1468 659.4h8v8h-8zM556 667.4h8v8h-8zM1228 691.4h8v8h-8zM1476 699.4h8v8h-8zM596 707.4h8v8h-8zM612 715.4h8v8h-8zM700 715.4h8v8h-8zM636 723.4h16v8h-16zM676 723.4h8v8h-8zM1212 779.4h8v8h-8zM1476 795.4h8v8h-8zM1196 827.4h8v8h-8zM1468 835.4h8v8h-8zM1188 843.4h8v8h-8zM1180 859.4h8v8h-8zM1156 891.4h8v8h-8zM1148 899.4h8v8h-8zM1100 939.4h8v8h-8zM1428 939.4h8v8h-8zM1092 947.4h8v8h-8zM1084 955.4h8v8h-8zM1420 955.4h8v8h-8zM1412 971.4h8v8h-8zM1404 987.4h8v8h-8zM1044 1011.4h8v8h-8zM1036 1027.4h8v8h-8zM1380 1043.4h8v8h-8zM1332 1131.4h8v8h-8zM1324 1139.4h8v8h-8zM1316 1147.4h8v8h-8zM1140 1203.4h16v8h-16zM1180 1203.4h8v8h-8z"/>
<path fill="#501a79" d="M1276 419.4h32v8h-32zM1236 451.4h8v8h-8zM1356 451.4h8v8h-8zM1364 459.4h8v8h-8zM1372 467.4h8v8h-8zM1228 475.4h8v8h-8zM1396 499.4h8v8h-8zM1228 515.4h8v8h-8zM620 523.4h8v8h-8zM676 523.4h8v8h-8zM1228 523.4h8v8h-8zM1412 523.4h8v8h-8zM596 531.4h8v8h-8zM708 539.4h8v8h-8zM556 571.4h8v8h-8zM740 571.4h8v8h-8zM1436 571.4h8v8h-8zM548 587.4h8v8h-8zM748 587.4h8v8h-8zM1444 587.4h8v8h-8zM1460 635.4h8v8h-8zM748 659.4h8v8h-8zM564 675.4h8v8h-8zM740 675.4h8v8h-8zM588 699.4h8v8h-8zM1228 699.4h8v8h-8zM1476 707.4h8v8h-8zM1476 715.4h8v8h-8zM652 723.4h24v8h-24zM1220 747.4h8v8h-8zM1476 779.4h8v8h-8zM1212 787.4h8v8h-8zM1476 787.4h8v8h-8zM1204 811.4h8v8h-8zM1460 859.4h8v8h-8zM1164 883.4h8v8h-8zM1452 883.4h8v8h-8zM1444 899.4h8v8h-8zM1140 907.4h8v8h-8zM1132 915.4h8v8h-8zM1060 987.4h8v8h-8zM1396 1003.4h8v8h-8zM1028 1051.4h8v8h-8zM1372 1059.4h8v8h-8zM1348 1107.4h8v8h-8zM1028 1123.4h8v8h-8zM1036 1139.4h8v8h-8zM1292 1163.4h8v8h-8zM1076 1179.4h8v8h-8zM1244 1187.4h8v8h-8zM1108 1195.4h8v8h-8zM1220 1195.4h8v8h-8zM1156 1203.4h24v8h-24z"/>
<path fill="#531b7a" d="M1260 427.4h8v8h-8zM1316 427.4h8v8h-8zM1252 435.4h8v8h-8zM1332 435.4h8v8h-8zM1244 443.4h8v8h-8zM1228 483.4h8v8h-8zM1228 491.4h8v8h-8zM1228 499.4h8v8h-8zM1228 507.4h8v8h-8zM668 523.4h8v8h-8zM692 531.4h8v8h-8zM588 539.4h8v8h-8zM1420 539.4h8v8h-8zM716 547.4h8v8h-8zM724 555.4h8v8h-8zM1428 555.4h8v8h-8zM564 563.4h8v8h-8zM732 563.4h8v8h-8zM1236 579.4h8v8h-8zM1236 587.4h8v8h-8zM548 595.4h8v8h-8zM748 595.4h8v8h-8zM1236 595.4h8v8h-8zM1236 603.4h8v8h-8zM1236 611.4h8v8h-8zM1452 611.4h8v8h-8zM1236 619.4h8v8h-8zM1236 627.4h8v8h-8zM1236 635.4h8v8h-8zM548 643.4h8v8h-8zM1468 667.4h8v8h-8zM572 683.4h8v8h-8zM580 691.4h8v8h-8zM604 707.4h8v8h-8zM708 707.4h8v8h-8zM1228 707.4h8v8h-8zM620 715.4h8v8h-8zM692 715.4h8v8h-8zM1476 723.4h8v8h-8zM1476 731.4h8v8h-8zM1476 739.4h8v8h-8zM1476 747.4h8v8h-8zM1220 755.4h8v8h-8zM1476 755.4h8v8h-8zM1476 763.4h8v8h-8zM1476 771.4h8v8h-8zM1468 827.4h8v8h-8zM1196 835.4h8v8h-8zM1188 851.4h8v8h-8zM1172 875.4h8v8h-8zM1436 915.4h8v8h-8zM1428 931.4h8v8h-8zM1420 947.4h8v8h-8zM1412 963.4h8v8h-8zM1404 979.4h8v8h-8zM1388 1019.4h8v8h-8zM1364 1075.4h8v8h-8zM1356 1091.4h8v8h-8zM1276 1171.4h8v8h-8zM1260 1179.4h8v8h-8zM1092 1187.4h8v8h-8zM1212 1195.4h8v8h-8z"/>
<path fill="#561d7a" d="M1268 427.4h8v8h-8zM1308 427.4h8v8h-8zM1340 443.4h8v8h-8zM1236 459.4h8v8h-8zM1388 491.4h8v8h-8zM1404 515.4h8v8h-8zM628 523.4h40v8h-40zM604 531.4h8v8h-8zM580 547.4h8v8h-8zM572 555.4h8v8h-8zM1236 555.4h8v8h-8zM1236 563.4h8v8h-8zM1236 571.4h8v8h-8zM556 579.4h8v8h-8zM740 579.4h8v8h-8zM1444 595.4h8v8h-8zM548 603.4h8v8h-8zM1452 619.4h8v8h-8zM548 635.4h8v8h-8zM1236 643.4h8v8h-8zM1460 643.4h8v8h-8zM748 651.4h8v8h-8zM1236 651.4h8v8h-8zM556 659.4h8v8h-8zM1468 675.4h8v8h-8zM732 683.4h8v8h-8zM724 691.4h8v8h-8zM716 699.4h8v8h-8zM628 715.4h8v8h-8zM1228 715.4h8v8h-8zM1220 763.4h8v8h-8zM1212 795.4h8v8h-8zM1204 819.4h8v8h-8zM1468 819.4h8v8h-8zM1460 851.4h8v8h-8zM1180 867.4h8v8h-8zM1452 875.4h8v8h-8zM1124 923.4h8v8h-8zM1068 979.4h8v8h-8zM1396 995.4h8v8h-8zM1052 1003.4h8v8h-8zM1044 1019.4h8v8h-8zM1036 1035.4h8v8h-8zM1380 1035.4h8v8h-8zM1028 1059.4h8v8h-8zM1028 1115.4h8v8h-8zM1340 1115.4h8v8h-8zM1044 1147.4h8v8h-8zM1052 1155.4h8v8h-8zM1300 1155.4h8v8h-8zM1060 1163.4h8v8h-8zM1068 1171.4h8v8h-8zM1236 1187.4h8v8h-8zM1116 1195.4h8v8h-8z"/>
<path fill="#571d7b" d="M1276 427.4h8v8h-8zM1300 427.4h8v8h-8zM1324 435.4h8v8h-8zM1244 451.4h8v8h-8zM1348 451.4h8v8h-8zM1356 459.4h8v8h-8zM1236 467.4h8v8h-8zM1364 467.4h8v8h-8zM1372 475.4h8v8h-8zM1380 483.4h8v8h-8zM684 531.4h8v8h-8zM1412 531.4h8v8h-8zM700 539.4h8v8h-8zM1236 539.4h8v8h-8zM1236 547.4h8v8h-8zM1420 547.4h8v8h-8zM1428 563.4h8v8h-8zM1436 579.4h8v8h-8zM748 603.4h8v8h-8zM548 611.4h8v8h-8zM548 627.4h8v8h-8zM748 643.4h8v8h-8zM1460 651.4h8v8h-8zM1236 659.4h8v8h-8zM740 667.4h8v8h-8zM1236 667.4h8v8h-8zM1468 683.4h8v8h-8zM596 699.4h8v8h-8zM612 707.4h8v8h-8zM700 707.4h8v8h-8zM636 715.4h8v8h-8zM684 715.4h8v8h-8zM1228 723.4h8v8h-8zM1220 771.4h8v8h-8zM1468 811.4h8v8h-8zM1164 891.4h8v8h-8zM1444 891.4h8v8h-8zM1156 899.4h8v8h-8zM1148 907.4h8v8h-8zM1436 907.4h8v8h-8zM1116 931.4h8v8h-8zM1388 1011.4h8v8h-8zM1372 1051.4h8v8h-8zM1028 1067.4h8v8h-8zM1028 1107.4h8v8h-8zM1036 1131.4h8v8h-8zM1124 1195.4h8v8h-8zM1204 1195.4h8v8h-8z"/>
<path fill="#5a1f7b" d="M1284 427.4h16v8h-16zM1260 435.4h8v8h-8zM1316 435.4h8v8h-8zM1252 443.4h8v8h-8zM1332 443.4h8v8h-8zM1236 475.4h8v8h-8zM1396 507.4h8v8h-8zM612 531.4h8v8h-8zM676 531.4h8v8h-8zM1236 531.4h8v8h-8zM596 539.4h8v8h-8zM708 547.4h8v8h-8zM564 571.4h8v8h-8zM732 571.4h8v8h-8zM556 587.4h8v8h-8zM740 587.4h8v8h-8zM1444 603.4h8v8h-8zM748 611.4h8v8h-8zM548 619.4h8v8h-8zM748 619.4h8v8h-8zM748 627.4h8v8h-8zM1452 627.4h8v8h-8zM748 635.4h8v8h-8zM556 651.4h8v8h-8zM564 667.4h8v8h-8zM1236 675.4h8v8h-8zM588 691.4h8v8h-8zM1468 691.4h8v8h-8zM644 715.4h8v8h-8zM676 715.4h8v8h-8zM1228 731.4h8v8h-8zM1212 803.4h8v8h-8zM1468 803.4h8v8h-8zM1204 827.4h8v8h-8zM1196 843.4h8v8h-8zM1460 843.4h8v8h-8zM1188 859.4h8v8h-8zM1452 867.4h8v8h-8zM1172 883.4h8v8h-8zM1140 915.4h8v8h-8zM1428 923.4h8v8h-8zM1108 939.4h8v8h-8zM1420 939.4h8v8h-8zM1412 955.4h8v8h-8zM1076 971.4h8v8h-8zM1404 971.4h8v8h-8zM1396 987.4h8v8h-8zM1060 995.4h8v8h-8zM1380 1027.4h8v8h-8zM1364 1067.4h8v8h-8zM1028 1075.4h8v8h-8zM1356 1083.4h8v8h-8zM1028 1099.4h8v8h-8zM1348 1099.4h8v8h-8zM1332 1123.4h8v8h-8zM1324 1131.4h8v8h-8zM1316 1139.4h8v8h-8zM1308 1147.4h8v8h-8zM1284 1163.4h8v8h-8zM1084 1179.4h8v8h-8zM1252 1179.4h8v8h-8zM1100 1187.4h8v8h-8zM1196 1195.4h8v8h-8z"/>
<path fill="#5b1f7b" d="M1268 435.4h8v8h-8zM1340 451.4h8v8h-8zM1244 459.4h8v8h-8zM1236 483.4h8v8h-8zM1236 491.4h8v8h-8zM1236 499.4h8v8h-8zM1388 499.4h8v8h-8zM1236 507.4h8v8h-8zM1236 515.4h8v8h-8zM1236 523.4h8v8h-8zM1404 523.4h8v8h-8zM620 531.4h8v8h-8zM692 539.4h8v8h-8zM588 547.4h8v8h-8zM716 555.4h8v8h-8zM572 563.4h8v8h-8zM724 563.4h8v8h-8zM1428 571.4h8v8h-8zM1436 587.4h8v8h-8zM740 659.4h8v8h-8zM1460 659.4h8v8h-8zM572 675.4h8v8h-8zM732 675.4h8v8h-8zM580 683.4h8v8h-8zM1236 683.4h8v8h-8zM708 699.4h8v8h-8zM1468 699.4h8v8h-8zM620 707.4h8v8h-8zM652 715.4h24v8h-24zM1228 739.4h8v8h-8zM1220 779.4h8v8h-8zM1468 795.4h8v8h-8zM1460 835.4h8v8h-8zM1180 875.4h8v8h-8zM1444 883.4h8v8h-8zM1132 923.4h8v8h-8zM1100 947.4h8v8h-8zM1092 955.4h8v8h-8zM1084 963.4h8v8h-8zM1388 1003.4h8v8h-8zM1036 1043.4h8v8h-8zM1372 1043.4h8v8h-8zM1028 1083.4h8v8h-8zM1028 1091.4h8v8h-8zM1036 1123.4h8v8h-8zM1044 1139.4h8v8h-8zM1268 1171.4h8v8h-8zM1228 1187.4h8v8h-8zM1132 1195.4h8v8h-8zM1188 1195.4h8v8h-8z"/>
<path fill="#5e217c" d="M1276 435.4h8v8h-8zM1308 435.4h8v8h-8zM1260 443.4h8v8h-8zM1324 443.4h8v8h-8zM1252 451.4h8v8h-8zM1348 459.4h8v8h-8zM1244 467.4h8v8h-8zM1380 491.4h8v8h-8zM668 531.4h8v8h-8zM604 539.4h8v8h-8zM1412 539.4h8v8h-8zM580 555.4h8v8h-8zM1420 555.4h8v8h-8zM556 595.4h8v8h-8zM740 595.4h8v8h-8zM1444 611.4h8v8h-8zM1452 635.4h8v8h-8zM1460 667.4h8v8h-8zM724 683.4h8v8h-8zM716 691.4h8v8h-8zM1236 691.4h8v8h-8zM604 699.4h8v8h-8zM692 707.4h8v8h-8zM1468 707.4h8v8h-8zM1468 715.4h8v8h-8zM1228 747.4h8v8h-8zM1220 787.4h8v8h-8zM1468 787.4h8v8h-8zM1212 811.4h8v8h-8zM1196 851.4h8v8h-8zM1452 859.4h8v8h-8zM1436 899.4h8v8h-8zM1428 915.4h8v8h-8zM1420 931.4h8v8h-8zM1412 947.4h8v8h-8zM1404 963.4h8v8h-8zM1052 1011.4h8v8h-8zM1380 1019.4h8v8h-8zM1044 1027.4h8v8h-8zM1364 1059.4h8v8h-8zM1340 1107.4h8v8h-8zM1052 1147.4h8v8h-8zM1076 1171.4h8v8h-8zM1108 1187.4h8v8h-8zM1140 1195.4h16v8h-16zM1180 1195.4h8v8h-8z"/>
<path fill="#61227c" d="M1284 435.4h24v8h-24zM1356 467.4h8v8h-8zM1364 475.4h8v8h-8zM1372 483.4h8v8h-8zM1396 515.4h8v8h-8zM628 531.4h16v8h-16zM652 531.4h16v8h-16zM684 539.4h8v8h-8zM700 547.4h8v8h-8zM1244 571.4h8v8h-8zM564 579.4h8v8h-8zM732 579.4h8v8h-8zM1244 579.4h8v8h-8zM1244 587.4h8v8h-8zM1244 595.4h8v8h-8zM1436 595.4h8v8h-8zM1244 603.4h8v8h-8zM1244 611.4h8v8h-8zM1244 619.4h8v8h-8zM556 643.4h8v8h-8zM1452 643.4h8v8h-8zM740 651.4h8v8h-8zM564 659.4h8v8h-8zM596 691.4h8v8h-8zM1236 699.4h8v8h-8zM628 707.4h8v8h-8zM1468 723.4h8v8h-8zM1468 731.4h8v8h-8zM1228 755.4h8v8h-8zM1468 771.4h8v8h-8zM1468 779.4h8v8h-8zM1460 827.4h8v8h-8zM1204 835.4h8v8h-8zM1188 867.4h8v8h-8zM1444 875.4h8v8h-8zM1164 899.4h8v8h-8zM1156 907.4h8v8h-8zM1124 931.4h8v8h-8zM1396 979.4h8v8h-8zM1068 987.4h8v8h-8zM1388 995.4h8v8h-8zM1036 1051.4h8v8h-8zM1356 1075.4h8v8h-8zM1348 1091.4h8v8h-8zM1060 1155.4h8v8h-8zM1292 1155.4h8v8h-8zM1068 1163.4h8v8h-8zM1092 1179.4h8v8h-8zM1244 1179.4h8v8h-8zM1220 1187.4h8v8h-8zM1156 1195.4h24v8h-24z"/>
<path fill="#63237c" d="M1268 443.4h8v8h-8zM1316 443.4h8v8h-8zM1260 451.4h8v8h-8zM1332 451.4h8v8h-8zM1252 459.4h8v8h-8zM1244 475.4h8v8h-8zM1244 483.4h8v8h-8zM1388 507.4h8v8h-8zM644 531.4h8v8h-8zM1404 531.4h8v8h-8zM596 547.4h8v8h-8zM1244 547.4h8v8h-8zM1412 547.4h8v8h-8zM708 555.4h8v8h-8zM1244 555.4h8v8h-8zM1244 563.4h8v8h-8zM1420 563.4h8v8h-8zM572 571.4h8v8h-8zM724 571.4h8v8h-8zM1428 579.4h8v8h-8zM556 603.4h8v8h-8zM740 603.4h8v8h-8zM1444 619.4h8v8h-8zM1244 627.4h8v8h-8zM556 635.4h8v8h-8zM1244 635.4h8v8h-8zM740 643.4h8v8h-8zM572 667.4h8v8h-8zM732 667.4h8v8h-8zM1460 675.4h8v8h-8zM612 699.4h8v8h-8zM700 699.4h8v8h-8zM684 707.4h8v8h-8zM1236 707.4h8v8h-8zM1236 715.4h8v8h-8zM1468 739.4h8v8h-8zM1468 747.4h8v8h-8zM1468 755.4h8v8h-8zM1228 763.4h8v8h-8zM1468 763.4h8v8h-8zM1220 795.4h8v8h-8zM1212 819.4h8v8h-8zM1460 819.4h8v8h-8zM1452 851.4h8v8h-8zM1172 891.4h8v8h-8zM1436 891.4h8v8h-8zM1148 915.4h8v8h-8zM1380 1011.4h8v8h-8zM1372 1035.4h8v8h-8zM1036 1115.4h8v8h-8zM1332 1115.4h8v8h-8zM1044 1131.4h8v8h-8zM1300 1147.4h8v8h-8zM1276 1163.4h8v8h-8zM1116 1187.4h8v8h-8z"/>
<path fill="#66247d" d="M1276 443.4h8v8h-8zM1308 443.4h8v8h-8zM1340 459.4h8v8h-8zM1252 467.4h8v8h-8zM1244 491.4h8v8h-8zM1244 523.4h8v8h-8zM1244 531.4h8v8h-8zM612 539.4h8v8h-8zM676 539.4h8v8h-8zM1244 539.4h8v8h-8zM588 555.4h8v8h-8zM580 563.4h8v8h-8zM716 563.4h8v8h-8zM564 587.4h8v8h-8zM732 587.4h8v8h-8zM1436 603.4h8v8h-8zM556 611.4h8v8h-8zM740 611.4h8v8h-8zM556 619.4h8v8h-8zM740 619.4h8v8h-8zM556 627.4h8v8h-8zM740 635.4h8v8h-8zM1244 643.4h8v8h-8zM1244 651.4h8v8h-8zM1452 651.4h8v8h-8zM580 675.4h8v8h-8zM588 683.4h8v8h-8zM1460 683.4h8v8h-8zM636 707.4h8v8h-8zM676 707.4h8v8h-8zM1236 723.4h8v8h-8zM1460 811.4h8v8h-8zM1204 843.4h8v8h-8zM1196 859.4h8v8h-8zM1180 883.4h8v8h-8zM1428 907.4h8v8h-8zM1140 923.4h8v8h-8zM1420 923.4h8v8h-8zM1116 939.4h8v8h-8zM1412 939.4h8v8h-8zM1404 955.4h8v8h-8zM1396 971.4h8v8h-8zM1076 979.4h8v8h-8zM1060 1003.4h8v8h-8zM1044 1035.4h8v8h-8zM1364 1051.4h8v8h-8zM1036 1059.4h8v8h-8zM1324 1123.4h8v8h-8zM1308 1139.4h8v8h-8zM1084 1171.4h8v8h-8zM1260 1171.4h8v8h-8zM1212 1187.4h8v8h-8z"/>
<path fill="#67257d" d="M1284 443.4h8v8h-8zM1300 443.4h8v8h-8zM1324 451.4h8v8h-8zM1348 467.4h8v8h-8zM1372 491.4h8v8h-8zM1244 499.4h8v8h-8zM1380 499.4h8v8h-8zM1244 507.4h8v8h-8zM1244 515.4h8v8h-8zM1396 523.4h8v8h-8zM620 539.4h8v8h-8zM692 547.4h8v8h-8zM1428 587.4h8v8h-8zM740 627.4h8v8h-8zM1444 627.4h8v8h-8zM564 651.4h8v8h-8zM732 659.4h8v8h-8zM1244 659.4h8v8h-8zM1244 667.4h8v8h-8zM724 675.4h8v8h-8zM716 683.4h8v8h-8zM708 691.4h8v8h-8zM1460 691.4h8v8h-8zM644 707.4h32v8h-32zM1228 771.4h8v8h-8zM1220 803.4h8v8h-8zM1212 827.4h8v8h-8zM1452 843.4h8v8h-8zM1444 867.4h8v8h-8zM1188 875.4h8v8h-8zM1108 947.4h8v8h-8zM1388 987.4h8v8h-8zM1052 1019.4h8v8h-8zM1372 1027.4h8v8h-8zM1356 1067.4h8v8h-8zM1348 1083.4h8v8h-8zM1340 1099.4h8v8h-8zM1036 1107.4h8v8h-8zM1316 1131.4h8v8h-8zM1052 1139.4h8v8h-8zM1100 1179.4h8v8h-8zM1236 1179.4h8v8h-8zM1124 1187.4h8v8h-8zM1204 1187.4h8v8h-8z"/>
<path fill="#6a267d" d="M1292 443.4h8v8h-8zM1268 451.4h8v8h-8zM1260 459.4h8v8h-8zM1252 475.4h8v8h-8zM1356 475.4h8v8h-8zM1364 483.4h8v8h-8zM668 539.4h8v8h-8zM1404 539.4h8v8h-8zM604 547.4h8v8h-8zM700 555.4h8v8h-8zM1412 555.4h8v8h-8zM1420 571.4h8v8h-8zM572 579.4h8v8h-8zM724 579.4h8v8h-8zM564 595.4h8v8h-8zM732 595.4h8v8h-8zM1436 611.4h8v8h-8zM1444 635.4h8v8h-8zM1452 659.4h8v8h-8zM1244 675.4h8v8h-8zM604 691.4h8v8h-8zM620 699.4h8v8h-8zM692 699.4h8v8h-8zM1460 699.4h8v8h-8zM1236 731.4h8v8h-8zM1228 779.4h8v8h-8zM1460 803.4h8v8h-8zM1452 835.4h8v8h-8zM1436 883.4h8v8h-8zM1132 931.4h8v8h-8zM1100 955.4h8v8h-8zM1084 971.4h8v8h-8zM1380 1003.4h8v8h-8zM1364 1043.4h8v8h-8zM1036 1067.4h8v8h-8zM1036 1099.4h8v8h-8zM1044 1123.4h8v8h-8zM1060 1147.4h8v8h-8zM1284 1155.4h8v8h-8zM1076 1163.4h8v8h-8z"/>
<path fill="#6d287d" d="M1276 451.4h8v8h-8zM1316 451.4h8v8h-8zM1332 459.4h8v8h-8zM1260 467.4h8v8h-8zM1252 483.4h8v8h-8zM1388 515.4h8v8h-8zM628 539.4h8v8h-8zM660 539.4h8v8h-8zM684 547.4h8v8h-8zM708 563.4h8v8h-8zM716 571.4h8v8h-8zM1428 595.4h8v8h-8zM564 643.4h8v8h-8zM732 651.4h8v8h-8zM572 659.4h8v8h-8zM1452 667.4h8v8h-8zM596 683.4h8v8h-8zM1244 683.4h8v8h-8zM1460 707.4h8v8h-8zM1236 739.4h8v8h-8zM1460 795.4h8v8h-8zM1220 811.4h8v8h-8zM1212 835.4h8v8h-8zM1204 851.4h8v8h-8zM1444 859.4h8v8h-8zM1196 867.4h8v8h-8zM1172 899.4h8v8h-8zM1428 899.4h8v8h-8zM1164 907.4h8v8h-8zM1156 915.4h8v8h-8zM1420 915.4h8v8h-8zM1412 931.4h8v8h-8zM1404 947.4h8v8h-8zM1092 963.4h8v8h-8zM1396 963.4h8v8h-8zM1388 979.4h8v8h-8zM1068 995.4h8v8h-8zM1372 1019.4h8v8h-8zM1044 1043.4h8v8h-8zM1036 1075.4h8v8h-8zM1036 1083.4h8v8h-8zM1036 1091.4h8v8h-8zM1332 1107.4h8v8h-8zM1068 1155.4h8v8h-8zM1252 1171.4h8v8h-8zM1132 1187.4h8v8h-8zM1196 1187.4h8v8h-8z"/>
<path fill="#6e287d" d="M1284 451.4h8v8h-8zM1308 451.4h8v8h-8zM1268 459.4h8v8h-8zM1340 467.4h8v8h-8zM1252 491.4h8v8h-8zM1380 507.4h8v8h-8zM1396 531.4h8v8h-8zM636 539.4h24v8h-24zM1404 547.4h8v8h-8zM596 555.4h8v8h-8zM1252 555.4h8v8h-8zM588 563.4h8v8h-8zM1252 563.4h8v8h-8zM1412 563.4h8v8h-8zM580 571.4h8v8h-8zM1252 571.4h8v8h-8zM1252 579.4h8v8h-8zM1420 579.4h8v8h-8zM1252 587.4h8v8h-8zM1252 595.4h8v8h-8zM564 603.4h8v8h-8zM732 603.4h8v8h-8zM1252 603.4h8v8h-8zM1436 619.4h8v8h-8zM1444 643.4h8v8h-8zM580 667.4h8v8h-8zM724 667.4h8v8h-8zM588 675.4h8v8h-8zM700 691.4h8v8h-8zM1244 691.4h8v8h-8zM628 699.4h8v8h-8zM684 699.4h8v8h-8zM1460 715.4h8v8h-8zM1236 747.4h8v8h-8zM1460 779.4h8v8h-8zM1228 787.4h8v8h-8zM1460 787.4h8v8h-8zM1452 827.4h8v8h-8zM1436 875.4h8v8h-8zM1180 891.4h8v8h-8zM1124 939.4h8v8h-8zM1380 995.4h8v8h-8zM1356 1059.4h8v8h-8zM1292 1147.4h8v8h-8zM1268 1163.4h8v8h-8zM1092 1171.4h8v8h-8zM1108 1179.4h8v8h-8zM1228 1179.4h8v8h-8zM1140 1187.4h8v8h-8zM1188 1187.4h8v8h-8z"/>
<path fill="#712a7d" d="M1292 451.4h16v8h-16zM1324 459.4h8v8h-8zM1260 475.4h8v8h-8zM1348 475.4h8v8h-8zM1356 483.4h8v8h-8zM1364 491.4h8v8h-8zM1252 499.4h8v8h-8zM1372 499.4h8v8h-8zM1252 507.4h8v8h-8zM1252 515.4h8v8h-8zM1252 523.4h8v8h-8zM1252 531.4h8v8h-8zM1252 539.4h8v8h-8zM612 547.4h8v8h-8zM676 547.4h8v8h-8zM1252 547.4h8v8h-8zM572 587.4h8v8h-8zM724 587.4h8v8h-8zM564 611.4h8v8h-8zM732 611.4h8v8h-8zM1252 611.4h8v8h-8zM1252 619.4h8v8h-8zM1252 627.4h8v8h-8zM564 635.4h8v8h-8zM732 643.4h8v8h-8zM716 675.4h8v8h-8zM1452 675.4h8v8h-8zM708 683.4h8v8h-8zM612 691.4h8v8h-8zM636 699.4h8v8h-8zM676 699.4h8v8h-8zM1244 699.4h8v8h-8zM1460 723.4h8v8h-8zM1460 731.4h8v8h-8zM1460 739.4h8v8h-8zM1236 755.4h8v8h-8zM1460 763.4h8v8h-8zM1460 771.4h8v8h-8zM1220 819.4h8v8h-8zM1444 851.4h8v8h-8zM1188 883.4h8v8h-8zM1428 891.4h8v8h-8zM1148 923.4h8v8h-8zM1060 1011.4h8v8h-8zM1052 1027.4h8v8h-8zM1364 1035.4h8v8h-8zM1348 1075.4h8v8h-8zM1340 1091.4h8v8h-8zM1044 1115.4h8v8h-8zM1324 1115.4h8v8h-8zM1052 1131.4h8v8h-8zM1148 1187.4h8v8h-8zM1180 1187.4h8v8h-8z"/>
<path fill="#732a7d" d="M1276 459.4h8v8h-8zM1316 459.4h8v8h-8zM1268 467.4h8v8h-8zM1332 467.4h8v8h-8zM1388 523.4h8v8h-8zM692 555.4h8v8h-8zM716 579.4h8v8h-8zM1420 587.4h8v8h-8zM1428 603.4h8v8h-8zM564 619.4h8v8h-8zM732 619.4h8v8h-8zM564 627.4h8v8h-8zM732 627.4h8v8h-8zM1436 627.4h8v8h-8zM732 635.4h8v8h-8zM1252 635.4h8v8h-8zM572 651.4h8v8h-8zM1444 651.4h8v8h-8zM1452 683.4h8v8h-8zM1244 707.4h8v8h-8zM1460 747.4h8v8h-8zM1460 755.4h8v8h-8zM1236 763.4h8v8h-8zM1228 795.4h8v8h-8zM1452 819.4h8v8h-8zM1212 843.4h8v8h-8zM1204 859.4h8v8h-8zM1196 875.4h8v8h-8zM1420 907.4h8v8h-8zM1412 923.4h8v8h-8zM1140 931.4h8v8h-8zM1404 939.4h8v8h-8zM1116 947.4h8v8h-8zM1396 955.4h8v8h-8zM1388 971.4h8v8h-8zM1076 987.4h8v8h-8zM1372 1011.4h8v8h-8zM1044 1051.4h8v8h-8zM1316 1123.4h8v8h-8zM1308 1131.4h8v8h-8zM1300 1139.4h8v8h-8zM1084 1163.4h8v8h-8zM1244 1171.4h8v8h-8zM1220 1179.4h8v8h-8zM1156 1187.4h24v8h-24z"/>
<path fill="#762c7d" d="M1284 459.4h8v8h-8zM1308 459.4h8v8h-8zM1260 483.4h8v8h-8zM1380 515.4h8v8h-8zM1396 539.4h8v8h-8zM620 547.4h8v8h-8zM668 547.4h8v8h-8zM604 555.4h8v8h-8zM1404 555.4h8v8h-8zM700 563.4h8v8h-8zM708 571.4h8v8h-8zM1412 571.4h8v8h-8zM580 579.4h8v8h-8zM724 595.4h8v8h-8zM1252 643.4h8v8h-8zM1252 651.4h8v8h-8zM724 659.4h8v8h-8zM604 683.4h8v8h-8zM620 691.4h8v8h-8zM692 691.4h8v8h-8zM644 699.4h32v8h-32zM1244 715.4h8v8h-8zM1228 803.4h8v8h-8zM1452 811.4h8v8h-8zM1220 827.4h8v8h-8zM1444 843.4h8v8h-8zM1436 867.4h8v8h-8zM1380 987.4h8v8h-8zM1364 1027.4h8v8h-8zM1356 1051.4h8v8h-8zM1044 1107.4h8v8h-8zM1060 1139.4h8v8h-8zM1276 1155.4h8v8h-8zM1116 1179.4h8v8h-8z"/>
<path fill="#782d7d" d="M1292 459.4h16v8h-16zM1276 467.4h8v8h-8zM1324 467.4h8v8h-8zM1268 475.4h8v8h-8zM1340 475.4h8v8h-8zM1260 491.4h8v8h-8zM1372 507.4h8v8h-8zM628 547.4h8v8h-8zM684 555.4h8v8h-8zM596 563.4h8v8h-8zM588 571.4h8v8h-8zM572 595.4h8v8h-8zM1428 611.4h8v8h-8zM572 643.4h8v8h-8zM580 659.4h8v8h-8zM1252 659.4h8v8h-8zM1444 659.4h8v8h-8zM588 667.4h8v8h-8zM596 675.4h8v8h-8zM1452 691.4h8v8h-8zM1244 723.4h8v8h-8zM1236 771.4h8v8h-8zM1452 803.4h8v8h-8zM1212 851.4h8v8h-8zM1428 883.4h8v8h-8zM1180 899.4h8v8h-8zM1172 907.4h8v8h-8zM1164 915.4h8v8h-8zM1108 955.4h8v8h-8zM1084 979.4h8v8h-8zM1068 1003.4h8v8h-8zM1372 1003.4h8v8h-8zM1052 1035.4h8v8h-8zM1044 1059.4h8v8h-8zM1348 1067.4h8v8h-8zM1340 1083.4h8v8h-8zM1332 1099.4h8v8h-8zM1068 1147.4h8v8h-8zM1076 1155.4h8v8h-8zM1260 1163.4h8v8h-8zM1100 1171.4h8v8h-8zM1212 1179.4h8v8h-8z"/>
<path fill="#7a2d7d" d="M1348 483.4h8v8h-8zM1356 491.4h8v8h-8zM1260 499.4h8v8h-8zM1364 499.4h8v8h-8zM1260 507.4h8v8h-8zM1388 531.4h8v8h-8zM636 547.4h8v8h-8zM652 547.4h16v8h-16zM612 555.4h8v8h-8zM716 587.4h8v8h-8zM1420 595.4h8v8h-8zM724 603.4h8v8h-8zM1436 635.4h8v8h-8zM724 651.4h8v8h-8zM716 667.4h8v8h-8zM1252 667.4h8v8h-8zM708 675.4h8v8h-8zM700 683.4h8v8h-8zM684 691.4h8v8h-8zM1452 699.4h8v8h-8zM1244 731.4h8v8h-8zM1236 779.4h8v8h-8zM1228 811.4h8v8h-8zM1220 835.4h8v8h-8zM1444 835.4h8v8h-8zM1436 859.4h8v8h-8zM1204 867.4h8v8h-8zM1188 891.4h8v8h-8zM1420 899.4h8v8h-8zM1412 915.4h8v8h-8zM1156 923.4h8v8h-8zM1404 931.4h8v8h-8zM1132 939.4h8v8h-8zM1396 947.4h8v8h-8zM1100 963.4h8v8h-8zM1388 963.4h8v8h-8zM1092 971.4h8v8h-8zM1380 979.4h8v8h-8zM1060 1019.4h8v8h-8zM1356 1043.4h8v8h-8zM1044 1067.4h8v8h-8zM1044 1099.4h8v8h-8zM1052 1123.4h8v8h-8zM1124 1179.4h8v8h-8z"/>
<path fill="#7d2f7d" d="M1284 467.4h8v8h-8zM1316 467.4h8v8h-8zM1276 475.4h8v8h-8zM1332 475.4h8v8h-8zM1268 483.4h8v8h-8zM1260 515.4h8v8h-8zM1260 523.4h8v8h-8zM1260 531.4h8v8h-8zM1260 539.4h8v8h-8zM644 547.4h8v8h-8zM1260 547.4h8v8h-8zM1396 547.4h8v8h-8zM1260 555.4h8v8h-8zM692 563.4h8v8h-8zM1260 563.4h8v8h-8zM1404 563.4h8v8h-8zM1260 571.4h8v8h-8zM1260 579.4h8v8h-8zM1412 579.4h8v8h-8zM580 587.4h8v8h-8zM1260 587.4h8v8h-8zM572 603.4h8v8h-8zM1428 619.4h8v8h-8zM572 635.4h8v8h-8zM1444 667.4h8v8h-8zM1252 675.4h8v8h-8zM612 683.4h8v8h-8zM1252 683.4h8v8h-8zM628 691.4h8v8h-8zM1452 707.4h8v8h-8zM1244 739.4h8v8h-8zM1452 795.4h8v8h-8zM1196 883.4h8v8h-8zM1372 995.4h8v8h-8zM1364 1019.4h8v8h-8zM1044 1075.4h8v8h-8zM1044 1091.4h8v8h-8zM1324 1107.4h8v8h-8zM1284 1147.4h8v8h-8zM1236 1171.4h8v8h-8zM1204 1179.4h8v8h-8z"/>
<path fill="#7e2f7d" d="M1292 467.4h24v8h-24zM1340 483.4h8v8h-8zM1268 491.4h8v8h-8zM1380 523.4h8v8h-8zM676 555.4h8v8h-8zM604 563.4h8v8h-8zM700 571.4h8v8h-8zM708 579.4h8v8h-8zM1260 595.4h8v8h-8zM1260 603.4h8v8h-8zM1420 603.4h8v8h-8zM572 611.4h8v8h-8zM724 611.4h8v8h-8zM1260 611.4h8v8h-8zM572 627.4h8v8h-8zM724 643.4h8v8h-8zM1436 643.4h8v8h-8zM580 651.4h8v8h-8zM676 691.4h8v8h-8zM1252 691.4h8v8h-8zM1452 715.4h8v8h-8zM1244 747.4h8v8h-8zM1452 779.4h8v8h-8zM1236 787.4h8v8h-8zM1452 787.4h8v8h-8zM1228 819.4h8v8h-8zM1444 827.4h8v8h-8zM1436 851.4h8v8h-8zM1212 859.4h8v8h-8zM1428 875.4h8v8h-8zM1420 891.4h8v8h-8zM1148 931.4h8v8h-8zM1396 939.4h8v8h-8zM1124 947.4h8v8h-8zM1076 995.4h8v8h-8zM1052 1043.4h8v8h-8zM1348 1059.4h8v8h-8zM1044 1083.4h8v8h-8zM1060 1131.4h8v8h-8zM1092 1163.4h8v8h-8zM1108 1171.4h8v8h-8zM1132 1179.4h8v8h-8z"/>
<path fill="#81317d" d="M1284 475.4h8v8h-8zM1324 475.4h8v8h-8zM1276 483.4h8v8h-8zM1348 491.4h8v8h-8zM1268 499.4h8v8h-8zM1372 515.4h8v8h-8zM1388 539.4h8v8h-8zM620 555.4h8v8h-8zM1396 555.4h8v8h-8zM596 571.4h8v8h-8zM588 579.4h8v8h-8zM1412 587.4h8v8h-8zM716 595.4h8v8h-8zM572 619.4h8v8h-8zM724 619.4h8v8h-8zM1260 619.4h8v8h-8zM724 627.4h8v8h-8zM1260 627.4h8v8h-8zM724 635.4h8v8h-8zM716 659.4h8v8h-8zM604 675.4h8v8h-8zM1444 675.4h8v8h-8zM692 683.4h8v8h-8zM636 691.4h8v8h-8zM1252 699.4h8v8h-8zM1452 723.4h8v8h-8zM1452 731.4h8v8h-8zM1244 755.4h8v8h-8zM1452 763.4h8v8h-8zM1452 771.4h8v8h-8zM1236 795.4h8v8h-8zM1444 819.4h8v8h-8zM1220 843.4h8v8h-8zM1204 875.4h8v8h-8zM1412 907.4h8v8h-8zM1404 923.4h8v8h-8zM1388 955.4h8v8h-8zM1380 971.4h8v8h-8zM1364 1011.4h8v8h-8zM1356 1035.4h8v8h-8zM1340 1075.4h8v8h-8zM1332 1091.4h8v8h-8zM1052 1115.4h8v8h-8zM1316 1115.4h8v8h-8zM1292 1139.4h8v8h-8zM1268 1155.4h8v8h-8zM1252 1163.4h8v8h-8zM1140 1179.4h8v8h-8zM1196 1179.4h8v8h-8z"/>
<path fill="#84327d" d="M1292 475.4h8v8h-8zM1316 475.4h8v8h-8zM1356 499.4h8v8h-8zM1268 507.4h8v8h-8zM1364 507.4h8v8h-8zM628 555.4h8v8h-8zM668 555.4h8v8h-8zM684 563.4h8v8h-8zM1404 571.4h8v8h-8zM580 595.4h8v8h-8zM1428 627.4h8v8h-8zM1260 635.4h8v8h-8zM1436 651.4h8v8h-8zM588 659.4h8v8h-8zM596 667.4h8v8h-8zM708 667.4h8v8h-8zM700 675.4h8v8h-8zM620 683.4h8v8h-8zM1444 683.4h8v8h-8zM644 691.4h8v8h-8zM660 691.4h16v8h-16zM1252 707.4h8v8h-8zM1452 739.4h8v8h-8zM1452 747.4h8v8h-8zM1452 755.4h8v8h-8zM1428 867.4h8v8h-8zM1188 899.4h8v8h-8zM1180 907.4h8v8h-8zM1172 915.4h8v8h-8zM1140 939.4h8v8h-8zM1116 955.4h8v8h-8zM1372 987.4h8v8h-8zM1068 1011.4h8v8h-8zM1060 1027.4h8v8h-8zM1308 1123.4h8v8h-8zM1300 1131.4h8v8h-8zM1068 1139.4h8v8h-8zM1076 1147.4h8v8h-8zM1084 1155.4h8v8h-8zM1228 1171.4h8v8h-8zM1188 1179.4h8v8h-8z"/>
<path fill="#86327d" d="M1300 475.4h16v8h-16zM1284 483.4h8v8h-8zM1332 483.4h8v8h-8zM1276 491.4h8v8h-8zM1268 515.4h8v8h-8zM1268 523.4h8v8h-8zM1380 531.4h8v8h-8zM660 555.4h8v8h-8zM612 563.4h8v8h-8zM708 587.4h8v8h-8zM716 603.4h8v8h-8zM1420 611.4h8v8h-8zM580 643.4h8v8h-8zM1260 643.4h8v8h-8zM716 651.4h8v8h-8zM652 691.4h8v8h-8zM1252 715.4h8v8h-8zM1244 763.4h8v8h-8zM1236 803.4h8v8h-8zM1444 811.4h8v8h-8zM1228 827.4h8v8h-8zM1436 843.4h8v8h-8zM1212 867.4h8v8h-8zM1420 883.4h8v8h-8zM1196 891.4h8v8h-8zM1164 923.4h8v8h-8zM1396 931.4h8v8h-8zM1388 947.4h8v8h-8zM1108 963.4h8v8h-8zM1084 987.4h8v8h-8zM1356 1027.4h8v8h-8zM1052 1051.4h8v8h-8zM1348 1051.4h8v8h-8zM1116 1171.4h8v8h-8zM1148 1179.4h16v8h-16zM1180 1179.4h8v8h-8z"/>
<path fill="#89347d" d="M1324 483.4h8v8h-8zM1340 491.4h8v8h-8zM1276 499.4h8v8h-8zM1372 523.4h8v8h-8zM1268 531.4h8v8h-8zM1268 539.4h8v8h-8zM1268 547.4h8v8h-8zM1388 547.4h8v8h-8zM636 555.4h24v8h-24zM1268 555.4h8v8h-8zM1396 563.4h8v8h-8zM692 571.4h8v8h-8zM700 579.4h8v8h-8zM1404 579.4h8v8h-8zM588 587.4h8v8h-8zM1412 595.4h8v8h-8zM580 603.4h8v8h-8zM1428 635.4h8v8h-8zM1260 651.4h8v8h-8zM1260 659.4h8v8h-8zM1436 659.4h8v8h-8zM684 683.4h8v8h-8zM1444 691.4h8v8h-8zM1252 723.4h8v8h-8zM1244 771.4h8v8h-8zM1444 803.4h8v8h-8zM1220 851.4h8v8h-8zM1412 899.4h8v8h-8zM1404 915.4h8v8h-8zM1156 931.4h8v8h-8zM1132 947.4h8v8h-8zM1380 963.4h8v8h-8zM1100 971.4h8v8h-8zM1092 979.4h8v8h-8zM1364 1003.4h8v8h-8zM1324 1099.4h8v8h-8zM1052 1107.4h8v8h-8zM1060 1123.4h8v8h-8zM1276 1147.4h8v8h-8zM1100 1163.4h8v8h-8zM1164 1179.4h16v8h-16z"/>
<path fill="#8a347d" d="M1292 483.4h8v8h-8zM1316 483.4h8v8h-8zM1284 491.4h8v8h-8zM1348 499.4h8v8h-8zM1356 507.4h8v8h-8zM1364 515.4h8v8h-8zM676 563.4h8v8h-8zM1268 563.4h8v8h-8zM604 571.4h8v8h-8zM1268 571.4h8v8h-8zM596 579.4h8v8h-8zM1268 579.4h8v8h-8zM580 611.4h8v8h-8zM716 611.4h8v8h-8zM1420 619.4h8v8h-8zM580 635.4h8v8h-8zM716 643.4h8v8h-8zM588 651.4h8v8h-8zM1260 667.4h8v8h-8zM612 675.4h8v8h-8zM628 683.4h8v8h-8zM1444 699.4h8v8h-8zM1252 731.4h8v8h-8zM1244 779.4h8v8h-8zM1236 811.4h8v8h-8zM1228 835.4h8v8h-8zM1436 835.4h8v8h-8zM1428 859.4h8v8h-8zM1204 883.4h8v8h-8zM1372 979.4h8v8h-8zM1076 1003.4h8v8h-8zM1052 1059.4h8v8h-8zM1340 1067.4h8v8h-8zM1332 1083.4h8v8h-8zM1260 1155.4h8v8h-8zM1244 1163.4h8v8h-8zM1220 1171.4h8v8h-8z"/>
<path fill="#8d367c" d="M1300 483.4h16v8h-16zM1332 491.4h8v8h-8zM1276 507.4h8v8h-8zM1380 539.4h8v8h-8zM620 563.4h8v8h-8zM1268 587.4h8v8h-8zM708 595.4h8v8h-8zM1268 595.4h8v8h-8zM1268 603.4h8v8h-8zM1412 603.4h8v8h-8zM580 619.4h8v8h-8zM716 619.4h8v8h-8zM580 627.4h8v8h-8zM716 627.4h8v8h-8zM716 635.4h8v8h-8zM1428 643.4h8v8h-8zM708 659.4h8v8h-8zM1436 667.4h8v8h-8zM692 675.4h8v8h-8zM1260 675.4h8v8h-8zM676 683.4h8v8h-8zM1444 707.4h8v8h-8zM1252 739.4h8v8h-8zM1444 795.4h8v8h-8zM1220 859.4h8v8h-8zM1420 875.4h8v8h-8zM1412 891.4h8v8h-8zM1388 939.4h8v8h-8zM1364 995.4h8v8h-8zM1068 1019.4h8v8h-8zM1356 1019.4h8v8h-8zM1060 1035.4h8v8h-8zM1348 1043.4h8v8h-8zM1052 1067.4h8v8h-8zM1052 1099.4h8v8h-8zM1316 1107.4h8v8h-8zM1284 1139.4h8v8h-8zM1092 1155.4h8v8h-8zM1124 1171.4h8v8h-8z"/>
<path fill="#90377c" d="M1292 491.4h8v8h-8zM1284 499.4h8v8h-8zM1340 499.4h8v8h-8zM1276 515.4h8v8h-8zM1276 523.4h8v8h-8zM1372 531.4h8v8h-8zM1388 555.4h8v8h-8zM668 563.4h8v8h-8zM684 571.4h8v8h-8zM1396 571.4h8v8h-8zM1404 587.4h8v8h-8zM588 595.4h8v8h-8zM1268 611.4h8v8h-8zM596 659.4h8v8h-8zM604 667.4h8v8h-8zM700 667.4h8v8h-8zM1436 675.4h8v8h-8zM636 683.4h8v8h-8zM1260 683.4h8v8h-8zM1444 715.4h8v8h-8zM1244 787.4h8v8h-8zM1444 787.4h8v8h-8zM1236 819.4h8v8h-8zM1436 827.4h8v8h-8zM1228 843.4h8v8h-8zM1428 851.4h8v8h-8zM1212 875.4h8v8h-8zM1188 907.4h8v8h-8zM1404 907.4h8v8h-8zM1180 915.4h8v8h-8zM1396 923.4h8v8h-8zM1148 939.4h8v8h-8zM1124 955.4h8v8h-8zM1380 955.4h8v8h-8zM1372 971.4h8v8h-8zM1052 1075.4h8v8h-8zM1052 1091.4h8v8h-8zM1068 1131.4h8v8h-8zM1212 1171.4h8v8h-8z"/>
<path fill="#92377c" d="M1300 491.4h8v8h-8zM1324 491.4h8v8h-8zM1348 507.4h8v8h-8zM1364 523.4h8v8h-8zM1276 531.4h8v8h-8zM628 563.4h8v8h-8zM660 563.4h8v8h-8zM612 571.4h8v8h-8zM692 579.4h8v8h-8zM700 587.4h8v8h-8zM708 603.4h8v8h-8zM1268 619.4h8v8h-8zM1268 627.4h8v8h-8zM1420 627.4h8v8h-8zM588 643.4h8v8h-8zM1428 651.4h8v8h-8zM668 683.4h8v8h-8zM1260 691.4h8v8h-8zM1444 723.4h8v8h-8zM1252 747.4h8v8h-8zM1444 771.4h8v8h-8zM1444 779.4h8v8h-8zM1196 899.4h8v8h-8zM1172 923.4h8v8h-8zM1084 995.4h8v8h-8zM1356 1011.4h8v8h-8zM1348 1035.4h8v8h-8zM1340 1059.4h8v8h-8zM1052 1083.4h8v8h-8zM1060 1115.4h8v8h-8zM1308 1115.4h8v8h-8zM1300 1123.4h8v8h-8zM1292 1131.4h8v8h-8zM1076 1139.4h8v8h-8zM1084 1147.4h8v8h-8zM1108 1163.4h8v8h-8zM1236 1163.4h8v8h-8zM1132 1171.4h8v8h-8z"/>
<path fill="#95397b" d="M1308 491.4h16v8h-16zM1292 499.4h8v8h-8zM1332 499.4h8v8h-8zM1284 507.4h8v8h-8zM1356 515.4h8v8h-8zM1276 539.4h8v8h-8zM1276 547.4h8v8h-8zM1380 547.4h8v8h-8zM636 563.4h24v8h-24zM604 579.4h8v8h-8zM596 587.4h8v8h-8zM588 603.4h8v8h-8zM1412 611.4h8v8h-8zM1268 635.4h8v8h-8zM708 651.4h8v8h-8zM620 675.4h8v8h-8zM684 675.4h8v8h-8zM644 683.4h24v8h-24zM1436 683.4h8v8h-8zM1260 699.4h8v8h-8zM1444 731.4h8v8h-8zM1444 739.4h8v8h-8zM1444 747.4h8v8h-8zM1252 755.4h8v8h-8zM1444 755.4h8v8h-8zM1444 763.4h8v8h-8zM1244 795.4h8v8h-8zM1436 819.4h8v8h-8zM1236 827.4h8v8h-8zM1428 843.4h8v8h-8zM1420 867.4h8v8h-8zM1412 883.4h8v8h-8zM1204 891.4h8v8h-8zM1164 931.4h8v8h-8zM1140 947.4h8v8h-8zM1116 963.4h8v8h-8zM1364 987.4h8v8h-8zM1060 1043.4h8v8h-8zM1332 1075.4h8v8h-8zM1324 1091.4h8v8h-8zM1268 1147.4h8v8h-8zM1204 1171.4h8v8h-8z"/>
<path fill="#96397b" d="M1284 515.4h8v8h-8zM1372 539.4h8v8h-8zM1276 555.4h8v8h-8zM1276 563.4h8v8h-8zM1388 563.4h8v8h-8zM676 571.4h8v8h-8zM1276 571.4h8v8h-8zM1396 579.4h8v8h-8zM1404 595.4h8v8h-8zM708 611.4h8v8h-8zM1420 635.4h8v8h-8zM708 643.4h8v8h-8zM1268 643.4h8v8h-8zM700 659.4h8v8h-8zM1428 659.4h8v8h-8zM1260 707.4h8v8h-8zM1252 763.4h8v8h-8zM1244 803.4h8v8h-8zM1436 811.4h8v8h-8zM1228 851.4h8v8h-8zM1220 867.4h8v8h-8zM1404 899.4h8v8h-8zM1396 915.4h8v8h-8zM1388 931.4h8v8h-8zM1380 947.4h8v8h-8zM1372 963.4h8v8h-8zM1108 971.4h8v8h-8zM1092 987.4h8v8h-8zM1356 1003.4h8v8h-8zM1076 1011.4h8v8h-8zM1252 1155.4h8v8h-8zM1140 1171.4h8v8h-8z"/>
<path fill="#993a7b" d="M1300 499.4h32v8h-32zM1292 507.4h8v8h-8zM1340 507.4h8v8h-8zM1284 523.4h8v8h-8zM1364 531.4h8v8h-8zM620 571.4h8v8h-8zM684 579.4h8v8h-8zM1276 579.4h8v8h-8zM1276 587.4h8v8h-8zM700 595.4h8v8h-8zM588 611.4h8v8h-8zM588 635.4h8v8h-8zM596 651.4h8v8h-8zM1268 651.4h8v8h-8zM604 659.4h8v8h-8zM612 667.4h8v8h-8zM692 667.4h8v8h-8zM1436 691.4h8v8h-8zM1260 715.4h8v8h-8zM1252 771.4h8v8h-8zM1420 859.4h8v8h-8zM1212 883.4h8v8h-8zM1156 939.4h8v8h-8zM1100 979.4h8v8h-8zM1364 979.4h8v8h-8zM1068 1027.4h8v8h-8zM1348 1027.4h8v8h-8zM1060 1051.4h8v8h-8zM1340 1051.4h8v8h-8zM1060 1107.4h8v8h-8zM1068 1123.4h8v8h-8zM1100 1155.4h8v8h-8zM1116 1163.4h8v8h-8zM1196 1171.4h8v8h-8z"/>
<path fill="#9c3c7a" d="M1348 515.4h8v8h-8zM1356 523.4h8v8h-8zM1284 531.4h8v8h-8zM1380 555.4h8v8h-8zM668 571.4h8v8h-8zM1388 571.4h8v8h-8zM692 587.4h8v8h-8zM596 595.4h8v8h-8zM1276 595.4h8v8h-8zM1404 603.4h8v8h-8zM588 619.4h8v8h-8zM708 619.4h8v8h-8zM1412 619.4h8v8h-8zM588 627.4h8v8h-8zM708 627.4h8v8h-8zM708 635.4h8v8h-8zM1268 659.4h8v8h-8zM1428 667.4h8v8h-8zM628 675.4h8v8h-8zM676 675.4h8v8h-8zM1436 699.4h8v8h-8zM1260 723.4h8v8h-8zM1436 803.4h8v8h-8zM1244 811.4h8v8h-8zM1236 835.4h8v8h-8zM1428 835.4h8v8h-8zM1412 875.4h8v8h-8zM1132 955.4h8v8h-8zM1316 1099.4h8v8h-8zM1276 1139.4h8v8h-8zM1228 1163.4h8v8h-8zM1148 1171.4h8v8h-8zM1188 1171.4h8v8h-8z"/>
<path fill="#9e3c7a" d="M1300 507.4h8v8h-8zM1332 507.4h8v8h-8zM1292 515.4h8v8h-8zM1284 539.4h8v8h-8zM1372 547.4h8v8h-8zM628 571.4h8v8h-8zM612 579.4h8v8h-8zM604 587.4h8v8h-8zM1396 587.4h8v8h-8zM700 603.4h8v8h-8zM1276 603.4h8v8h-8zM1420 643.4h8v8h-8zM700 651.4h8v8h-8zM1268 667.4h8v8h-8zM1260 731.4h8v8h-8zM1252 779.4h8v8h-8zM1436 795.4h8v8h-8zM1228 859.4h8v8h-8zM1220 875.4h8v8h-8zM1404 891.4h8v8h-8zM1204 899.4h8v8h-8zM1196 907.4h8v8h-8zM1396 907.4h8v8h-8zM1188 915.4h8v8h-8zM1180 923.4h8v8h-8zM1388 923.4h8v8h-8zM1380 939.4h8v8h-8zM1372 955.4h8v8h-8zM1356 995.4h8v8h-8zM1084 1003.4h8v8h-8zM1348 1019.4h8v8h-8zM1060 1059.4h8v8h-8zM1332 1067.4h8v8h-8zM1324 1083.4h8v8h-8zM1060 1099.4h8v8h-8zM1076 1131.4h8v8h-8zM1092 1147.4h8v8h-8zM1156 1171.4h16v8h-16zM1180 1171.4h8v8h-8z"/>
<path fill="#a13e79" d="M1308 507.4h24v8h-24zM1340 515.4h8v8h-8zM1292 523.4h8v8h-8zM1364 539.4h8v8h-8zM1284 547.4h8v8h-8zM1284 555.4h8v8h-8zM1380 563.4h8v8h-8zM636 571.4h8v8h-8zM660 571.4h8v8h-8zM676 579.4h8v8h-8zM596 603.4h8v8h-8zM1276 611.4h8v8h-8zM1276 619.4h8v8h-8zM1412 627.4h8v8h-8zM596 643.4h8v8h-8zM684 667.4h8v8h-8zM636 675.4h8v8h-8zM668 675.4h8v8h-8zM1268 675.4h8v8h-8zM1428 675.4h8v8h-8zM1436 707.4h8v8h-8zM1260 739.4h8v8h-8zM1252 787.4h8v8h-8zM1436 787.4h8v8h-8zM1244 819.4h8v8h-8zM1428 827.4h8v8h-8zM1236 843.4h8v8h-8zM1420 851.4h8v8h-8zM1148 947.4h8v8h-8zM1124 963.4h8v8h-8zM1364 971.4h8v8h-8zM1068 1035.4h8v8h-8zM1340 1043.4h8v8h-8zM1308 1107.4h8v8h-8zM1284 1131.4h8v8h-8zM1084 1139.4h8v8h-8zM1244 1155.4h8v8h-8zM1124 1163.4h8v8h-8zM1172 1171.4h8v8h-8z"/>
<path fill="#a33e79" d="M1300 515.4h8v8h-8zM1348 523.4h8v8h-8zM1292 531.4h8v8h-8zM1356 531.4h8v8h-8zM1284 563.4h8v8h-8zM644 571.4h16v8h-16zM620 579.4h8v8h-8zM1388 579.4h8v8h-8zM684 587.4h8v8h-8zM692 595.4h8v8h-8zM1396 595.4h8v8h-8zM700 611.4h8v8h-8zM1404 611.4h8v8h-8zM1276 627.4h8v8h-8zM1420 651.4h8v8h-8zM692 659.4h8v8h-8zM620 667.4h8v8h-8zM644 675.4h8v8h-8zM660 675.4h8v8h-8zM1268 683.4h8v8h-8zM1436 715.4h8v8h-8zM1260 747.4h8v8h-8zM1436 779.4h8v8h-8zM1412 867.4h8v8h-8zM1212 891.4h8v8h-8zM1172 931.4h8v8h-8zM1356 987.4h8v8h-8zM1348 1011.4h8v8h-8zM1076 1019.4h8v8h-8zM1060 1067.4h8v8h-8zM1060 1091.4h8v8h-8zM1068 1115.4h8v8h-8zM1300 1115.4h8v8h-8zM1292 1123.4h8v8h-8zM1260 1147.4h8v8h-8zM1108 1155.4h8v8h-8zM1220 1163.4h8v8h-8z"/>
<path fill="#a63f78" d="M1308 515.4h8v8h-8zM1332 515.4h8v8h-8zM1300 523.4h8v8h-8zM1292 539.4h8v8h-8zM1372 555.4h8v8h-8zM1284 571.4h8v8h-8zM1284 579.4h8v8h-8zM604 595.4h8v8h-8zM596 611.4h8v8h-8zM596 635.4h8v8h-8zM1276 635.4h8v8h-8zM700 643.4h8v8h-8zM604 651.4h8v8h-8zM612 659.4h8v8h-8zM652 675.4h8v8h-8zM1428 683.4h8v8h-8zM1268 691.4h8v8h-8zM1436 723.4h8v8h-8zM1436 731.4h8v8h-8zM1260 755.4h8v8h-8zM1436 771.4h8v8h-8zM1252 795.4h8v8h-8zM1428 819.4h8v8h-8zM1244 827.4h8v8h-8zM1420 843.4h8v8h-8zM1228 867.4h8v8h-8zM1404 883.4h8v8h-8zM1396 899.4h8v8h-8zM1388 915.4h8v8h-8zM1380 931.4h8v8h-8zM1372 947.4h8v8h-8zM1116 971.4h8v8h-8zM1092 995.4h8v8h-8zM1340 1035.4h8v8h-8zM1332 1059.4h8v8h-8zM1060 1075.4h8v8h-8zM1060 1083.4h8v8h-8z"/>
<path fill="#a94177" d="M1316 515.4h16v8h-16zM1340 523.4h8v8h-8zM1292 547.4h8v8h-8zM1364 547.4h8v8h-8zM1380 571.4h8v8h-8zM668 579.4h8v8h-8zM612 587.4h8v8h-8zM1284 587.4h8v8h-8zM596 619.4h8v8h-8zM700 619.4h8v8h-8zM596 627.4h8v8h-8zM700 627.4h8v8h-8zM700 635.4h8v8h-8zM1412 635.4h8v8h-8zM1276 643.4h8v8h-8zM1420 659.4h8v8h-8zM1268 699.4h8v8h-8zM1436 739.4h8v8h-8zM1436 747.4h8v8h-8zM1436 755.4h8v8h-8zM1436 763.4h8v8h-8zM1236 851.4h8v8h-8zM1220 883.4h8v8h-8zM1164 939.4h8v8h-8zM1140 955.4h8v8h-8zM1364 963.4h8v8h-8zM1108 979.4h8v8h-8zM1100 987.4h8v8h-8zM1068 1043.4h8v8h-8zM1316 1091.4h8v8h-8zM1132 1163.4h8v8h-8z"/>
<path fill="#aa4177" d="M1308 523.4h8v8h-8zM1332 523.4h8v8h-8zM1300 531.4h8v8h-8zM1348 531.4h8v8h-8zM1356 539.4h8v8h-8zM1292 555.4h8v8h-8zM628 579.4h8v8h-8zM1388 587.4h8v8h-8zM1284 595.4h8v8h-8zM692 603.4h8v8h-8zM1396 603.4h8v8h-8zM1404 619.4h8v8h-8zM692 651.4h8v8h-8zM1276 651.4h8v8h-8zM628 667.4h8v8h-8zM676 667.4h8v8h-8zM1428 691.4h8v8h-8zM1268 707.4h8v8h-8zM1260 763.4h8v8h-8zM1252 803.4h8v8h-8zM1428 811.4h8v8h-8zM1244 835.4h8v8h-8zM1412 859.4h8v8h-8zM1204 907.4h8v8h-8zM1196 915.4h8v8h-8zM1356 979.4h8v8h-8zM1348 1003.4h8v8h-8zM1324 1075.4h8v8h-8zM1076 1123.4h8v8h-8zM1268 1139.4h8v8h-8zM1100 1147.4h8v8h-8zM1212 1163.4h8v8h-8z"/>
<path fill="#ad4376" d="M1316 523.4h16v8h-16zM1300 539.4h8v8h-8zM1292 563.4h8v8h-8zM1372 563.4h8v8h-8zM636 579.4h8v8h-8zM660 579.4h8v8h-8zM676 587.4h8v8h-8zM684 595.4h8v8h-8zM604 603.4h8v8h-8zM1284 603.4h8v8h-8zM604 643.4h8v8h-8zM1412 643.4h8v8h-8zM684 659.4h8v8h-8zM1420 667.4h8v8h-8zM1268 715.4h8v8h-8zM1260 771.4h8v8h-8zM1428 803.4h8v8h-8zM1252 811.4h8v8h-8zM1420 835.4h8v8h-8zM1236 859.4h8v8h-8zM1228 875.4h8v8h-8zM1404 875.4h8v8h-8zM1396 891.4h8v8h-8zM1212 899.4h8v8h-8zM1388 907.4h8v8h-8zM1188 923.4h8v8h-8zM1380 923.4h8v8h-8zM1372 939.4h8v8h-8zM1156 947.4h8v8h-8zM1132 963.4h8v8h-8zM1084 1011.4h8v8h-8zM1076 1027.4h8v8h-8zM1340 1027.4h8v8h-8zM1332 1051.4h8v8h-8zM1068 1107.4h8v8h-8zM1116 1155.4h8v8h-8zM1236 1155.4h8v8h-8z"/>
<path fill="#af4376" d="M1308 531.4h8v8h-8zM1340 531.4h8v8h-8zM1348 539.4h8v8h-8zM1364 555.4h8v8h-8zM1292 571.4h8v8h-8zM644 579.4h16v8h-16zM1380 579.4h8v8h-8zM620 587.4h8v8h-8zM612 595.4h8v8h-8zM692 611.4h8v8h-8zM1284 611.4h8v8h-8zM620 659.4h8v8h-8zM1276 659.4h8v8h-8zM636 667.4h8v8h-8zM668 667.4h8v8h-8zM1428 699.4h8v8h-8zM1268 723.4h8v8h-8zM1260 779.4h8v8h-8zM1180 931.4h8v8h-8zM1364 955.4h8v8h-8zM1348 995.4h8v8h-8zM1068 1051.4h8v8h-8zM1308 1099.4h8v8h-8zM1084 1131.4h8v8h-8zM1092 1139.4h8v8h-8zM1252 1147.4h8v8h-8zM1140 1163.4h8v8h-8zM1204 1163.4h8v8h-8z"/>
<path fill="#b24575" d="M1316 531.4h24v8h-24zM1300 547.4h8v8h-8zM1356 547.4h8v8h-8zM1292 579.4h8v8h-8zM668 587.4h8v8h-8zM1388 595.4h8v8h-8zM604 611.4h8v8h-8zM1396 611.4h8v8h-8zM1284 619.4h8v8h-8zM1404 627.4h8v8h-8zM604 635.4h8v8h-8zM692 643.4h8v8h-8zM612 651.4h8v8h-8zM1276 667.4h8v8h-8zM1420 675.4h8v8h-8zM1428 707.4h8v8h-8zM1268 731.4h8v8h-8zM1428 795.4h8v8h-8zM1252 819.4h8v8h-8zM1420 827.4h8v8h-8zM1244 843.4h8v8h-8zM1412 851.4h8v8h-8zM1220 891.4h8v8h-8zM1124 971.4h8v8h-8zM1356 971.4h8v8h-8zM1092 1003.4h8v8h-8zM1340 1019.4h8v8h-8zM1276 1131.4h8v8h-8zM1148 1163.4h8v8h-8z"/>
<path fill="#b54674" d="M1308 539.4h8v8h-8zM1340 539.4h8v8h-8zM1300 555.4h8v8h-8zM1372 571.4h8v8h-8zM628 587.4h8v8h-8zM1292 587.4h8v8h-8zM684 603.4h8v8h-8zM604 619.4h8v8h-8zM692 619.4h8v8h-8zM604 627.4h8v8h-8zM692 627.4h8v8h-8zM1284 627.4h8v8h-8zM692 635.4h8v8h-8zM684 651.4h8v8h-8zM1412 651.4h8v8h-8zM676 659.4h8v8h-8zM644 667.4h24v8h-24zM1276 675.4h8v8h-8zM1428 715.4h8v8h-8zM1268 739.4h8v8h-8zM1260 787.4h8v8h-8zM1428 787.4h8v8h-8zM1236 867.4h8v8h-8zM1404 867.4h8v8h-8zM1396 883.4h8v8h-8zM1388 899.4h8v8h-8zM1380 915.4h8v8h-8zM1372 931.4h8v8h-8zM1172 939.4h8v8h-8zM1364 947.4h8v8h-8zM1148 955.4h8v8h-8zM1332 1043.4h8v8h-8zM1068 1059.4h8v8h-8zM1324 1067.4h8v8h-8zM1316 1083.4h8v8h-8zM1068 1099.4h8v8h-8zM1300 1107.4h8v8h-8zM1196 1163.4h8v8h-8z"/>
<path fill="#b64773" d="M1316 539.4h8v8h-8zM1332 539.4h8v8h-8zM1308 547.4h8v8h-8zM1348 547.4h8v8h-8zM1356 555.4h8v8h-8zM1300 563.4h8v8h-8zM1364 563.4h8v8h-8zM660 587.4h8v8h-8zM1380 587.4h8v8h-8zM676 595.4h8v8h-8zM1292 595.4h8v8h-8zM612 603.4h8v8h-8zM1284 635.4h8v8h-8zM1404 635.4h8v8h-8zM1276 683.4h8v8h-8zM1420 683.4h8v8h-8zM1428 723.4h8v8h-8zM1268 747.4h8v8h-8zM1428 779.4h8v8h-8zM1260 795.4h8v8h-8zM1420 819.4h8v8h-8zM1252 827.4h8v8h-8zM1412 843.4h8v8h-8zM1244 851.4h8v8h-8zM1228 883.4h8v8h-8zM1356 963.4h8v8h-8zM1116 979.4h8v8h-8zM1108 987.4h8v8h-8zM1348 987.4h8v8h-8zM1100 995.4h8v8h-8zM1340 1011.4h8v8h-8zM1084 1019.4h8v8h-8zM1076 1035.4h8v8h-8zM1068 1091.4h8v8h-8zM1076 1115.4h8v8h-8zM1292 1115.4h8v8h-8zM1284 1123.4h8v8h-8zM1108 1147.4h8v8h-8zM1124 1155.4h8v8h-8zM1228 1155.4h8v8h-8zM1156 1163.4h8v8h-8z"/>
<path fill="#b94872" d="M1324 539.4h8v8h-8zM1300 571.4h8v8h-8zM636 587.4h8v8h-8zM652 587.4h8v8h-8zM620 595.4h8v8h-8zM1292 603.4h8v8h-8zM1388 603.4h8v8h-8zM1396 619.4h8v8h-8zM612 643.4h8v8h-8zM1284 643.4h8v8h-8zM628 659.4h8v8h-8zM1412 659.4h8v8h-8zM1276 691.4h8v8h-8zM1428 731.4h8v8h-8zM1428 739.4h8v8h-8zM1428 747.4h8v8h-8zM1268 755.4h8v8h-8zM1428 755.4h8v8h-8zM1428 763.4h8v8h-8zM1428 771.4h8v8h-8zM1212 907.4h8v8h-8zM1204 915.4h8v8h-8zM1164 947.4h8v8h-8zM1140 963.4h8v8h-8zM1068 1067.4h8v8h-8zM1068 1075.4h8v8h-8zM1068 1083.4h8v8h-8zM1260 1139.4h8v8h-8zM1164 1163.4h32v8h-32z"/>
<path fill="#bb4972" d="M1316 547.4h8v8h-8zM1340 547.4h8v8h-8zM1308 555.4h8v8h-8zM1300 579.4h8v8h-8zM1372 579.4h8v8h-8zM644 587.4h8v8h-8zM668 595.4h8v8h-8zM684 611.4h8v8h-8zM1292 611.4h8v8h-8zM684 643.4h8v8h-8zM620 651.4h8v8h-8zM1284 651.4h8v8h-8zM668 659.4h8v8h-8zM1420 691.4h8v8h-8zM1276 699.4h8v8h-8zM1268 763.4h8v8h-8zM1260 803.4h8v8h-8zM1420 811.4h8v8h-8zM1252 835.4h8v8h-8zM1404 859.4h8v8h-8zM1236 875.4h8v8h-8zM1396 875.4h8v8h-8zM1388 891.4h8v8h-8zM1220 899.4h8v8h-8zM1380 907.4h8v8h-8zM1196 923.4h8v8h-8zM1372 923.4h8v8h-8zM1364 939.4h8v8h-8zM1348 979.4h8v8h-8zM1340 1003.4h8v8h-8zM1332 1035.4h8v8h-8zM1324 1059.4h8v8h-8zM1084 1123.4h8v8h-8zM1244 1147.4h8v8h-8z"/>
<path fill="#be4b71" d="M1324 547.4h16v8h-16zM1348 555.4h8v8h-8zM1308 563.4h8v8h-8zM1356 563.4h8v8h-8zM1364 571.4h8v8h-8zM628 595.4h8v8h-8zM1380 595.4h8v8h-8zM676 603.4h8v8h-8zM612 611.4h8v8h-8zM684 619.4h8v8h-8zM612 635.4h8v8h-8zM684 635.4h8v8h-8zM1404 643.4h8v8h-8zM676 651.4h8v8h-8zM1412 667.4h8v8h-8zM1276 707.4h8v8h-8zM1412 835.4h8v8h-8zM1244 859.4h8v8h-8zM1188 931.4h8v8h-8zM1356 955.4h8v8h-8zM1076 1043.4h8v8h-8zM1308 1091.4h8v8h-8zM1092 1131.4h8v8h-8zM1100 1139.4h8v8h-8zM1132 1155.4h8v8h-8z"/>
<path fill="#c04c6f" d="M1316 555.4h8v8h-8zM1340 555.4h8v8h-8zM1300 587.4h8v8h-8zM660 595.4h8v8h-8zM620 603.4h8v8h-8zM1388 611.4h8v8h-8zM612 619.4h8v8h-8zM1292 619.4h8v8h-8zM612 627.4h8v8h-8zM684 627.4h8v8h-8zM1396 627.4h8v8h-8zM636 659.4h8v8h-8zM660 659.4h8v8h-8zM1284 659.4h8v8h-8zM1420 699.4h8v8h-8zM1276 715.4h8v8h-8zM1268 771.4h8v8h-8zM1420 803.4h8v8h-8zM1260 811.4h8v8h-8zM1404 851.4h8v8h-8zM1228 891.4h8v8h-8zM1156 955.4h8v8h-8zM1132 971.4h8v8h-8zM1092 1011.4h8v8h-8zM1332 1027.4h8v8h-8zM1316 1075.4h8v8h-8zM1076 1107.4h8v8h-8zM1220 1155.4h8v8h-8z"/>
<path fill="#c24d6f" d="M1324 555.4h16v8h-16zM1316 563.4h8v8h-8zM1348 563.4h8v8h-8zM1308 571.4h8v8h-8zM1364 579.4h8v8h-8zM1372 587.4h8v8h-8zM636 595.4h8v8h-8zM652 595.4h8v8h-8zM1300 595.4h8v8h-8zM676 611.4h8v8h-8zM1292 627.4h8v8h-8zM1404 651.4h8v8h-8zM644 659.4h16v8h-16zM1284 667.4h8v8h-8zM1412 675.4h8v8h-8zM1420 707.4h8v8h-8zM1276 723.4h8v8h-8zM1276 731.4h8v8h-8zM1268 779.4h8v8h-8zM1420 795.4h8v8h-8zM1412 827.4h8v8h-8zM1252 843.4h8v8h-8zM1396 867.4h8v8h-8zM1388 883.4h8v8h-8zM1380 899.4h8v8h-8zM1372 915.4h8v8h-8zM1364 931.4h8v8h-8zM1180 939.4h8v8h-8zM1348 971.4h8v8h-8zM1124 979.4h8v8h-8zM1340 995.4h8v8h-8zM1084 1027.4h8v8h-8zM1324 1051.4h8v8h-8zM1268 1131.4h8v8h-8zM1116 1147.4h8v8h-8z"/>
<path fill="#c54f6e" d="M1356 571.4h8v8h-8zM1308 579.4h8v8h-8zM644 595.4h8v8h-8zM668 603.4h8v8h-8zM1300 603.4h8v8h-8zM1380 603.4h8v8h-8zM1292 635.4h8v8h-8zM1396 635.4h8v8h-8zM620 643.4h8v8h-8zM676 643.4h8v8h-8zM628 651.4h8v8h-8zM668 651.4h8v8h-8zM1284 675.4h8v8h-8zM1420 715.4h8v8h-8zM1276 739.4h8v8h-8zM1268 787.4h8v8h-8zM1260 819.4h8v8h-8zM1244 867.4h8v8h-8zM1236 883.4h8v8h-8zM1356 947.4h8v8h-8zM1116 987.4h8v8h-8zM1108 995.4h8v8h-8zM1100 1003.4h8v8h-8zM1332 1019.4h8v8h-8zM1076 1051.4h8v8h-8zM1300 1099.4h8v8h-8zM1140 1155.4h8v8h-8z"/>
<path fill="#c6506d" d="M1324 563.4h24v8h-24zM1316 571.4h8v8h-8zM1308 587.4h8v8h-8zM1372 595.4h8v8h-8zM628 603.4h8v8h-8zM620 611.4h8v8h-8zM1300 611.4h8v8h-8zM676 619.4h8v8h-8zM1388 619.4h8v8h-8zM676 635.4h8v8h-8zM1404 659.4h8v8h-8zM1284 683.4h8v8h-8zM1412 683.4h8v8h-8zM1420 723.4h8v8h-8zM1276 747.4h8v8h-8zM1420 787.4h8v8h-8zM1412 819.4h8v8h-8zM1260 827.4h8v8h-8zM1404 843.4h8v8h-8zM1252 851.4h8v8h-8zM1220 907.4h8v8h-8zM1212 915.4h8v8h-8zM1204 923.4h8v8h-8zM1172 947.4h8v8h-8zM1148 963.4h8v8h-8zM1348 963.4h8v8h-8zM1340 987.4h8v8h-8zM1076 1099.4h8v8h-8zM1292 1107.4h8v8h-8zM1276 1123.4h8v8h-8zM1252 1139.4h8v8h-8zM1236 1147.4h8v8h-8zM1212 1155.4h8v8h-8z"/>
<path fill="#c9516c" d="M1348 571.4h8v8h-8zM1356 579.4h8v8h-8zM1364 587.4h8v8h-8zM660 603.4h8v8h-8zM668 611.4h8v8h-8zM620 619.4h8v8h-8zM676 627.4h8v8h-8zM620 635.4h8v8h-8zM1292 643.4h8v8h-8zM1284 691.4h8v8h-8zM1420 731.4h8v8h-8zM1420 771.4h8v8h-8zM1420 779.4h8v8h-8zM1268 795.4h8v8h-8zM1396 859.4h8v8h-8zM1388 875.4h8v8h-8zM1380 891.4h8v8h-8zM1228 899.4h8v8h-8zM1372 907.4h8v8h-8zM1364 923.4h8v8h-8zM1196 931.4h8v8h-8zM1332 1011.4h8v8h-8zM1324 1043.4h8v8h-8zM1076 1059.4h8v8h-8zM1316 1067.4h8v8h-8zM1308 1083.4h8v8h-8zM1084 1115.4h8v8h-8zM1284 1115.4h8v8h-8zM1108 1139.4h8v8h-8z"/>
<path fill="#cc536b" d="M1324 571.4h24v8h-24zM1316 579.4h8v8h-8zM1308 595.4h8v8h-8zM636 603.4h24v8h-24zM628 611.4h8v8h-8zM1380 611.4h8v8h-8zM1300 619.4h8v8h-8zM620 627.4h8v8h-8zM1388 627.4h8v8h-8zM628 643.4h8v8h-8zM668 643.4h8v8h-8zM1396 643.4h8v8h-8zM636 651.4h8v8h-8zM660 651.4h8v8h-8zM1292 651.4h8v8h-8zM1412 691.4h8v8h-8zM1284 699.4h8v8h-8zM1420 739.4h8v8h-8zM1420 747.4h8v8h-8zM1276 755.4h8v8h-8zM1420 755.4h8v8h-8zM1420 763.4h8v8h-8zM1268 803.4h8v8h-8zM1412 811.4h8v8h-8zM1260 835.4h8v8h-8zM1244 875.4h8v8h-8zM1356 939.4h8v8h-8zM1164 955.4h8v8h-8zM1140 971.4h8v8h-8zM1340 979.4h8v8h-8zM1092 1019.4h8v8h-8zM1084 1035.4h8v8h-8zM1076 1067.4h8v8h-8zM1076 1091.4h8v8h-8zM1092 1123.4h8v8h-8zM1124 1147.4h8v8h-8zM1148 1155.4h8v8h-8zM1204 1155.4h8v8h-8z"/>
<path fill="#cd546a" d="M1348 579.4h8v8h-8zM1316 587.4h8v8h-8zM1308 603.4h8v8h-8zM1372 603.4h8v8h-8zM660 611.4h8v8h-8zM668 619.4h8v8h-8zM1300 627.4h8v8h-8zM644 651.4h16v8h-16zM1292 659.4h8v8h-8zM1404 667.4h8v8h-8zM1284 707.4h8v8h-8zM1276 763.4h8v8h-8zM1404 835.4h8v8h-8zM1252 859.4h8v8h-8zM1236 891.4h8v8h-8zM1188 939.4h8v8h-8zM1348 955.4h8v8h-8zM1332 1003.4h8v8h-8zM1324 1035.4h8v8h-8zM1076 1075.4h8v8h-8zM1076 1083.4h8v8h-8zM1100 1131.4h8v8h-8z"/>
<path fill="#d05669" d="M1324 579.4h24v8h-24zM1356 587.4h8v8h-8zM1364 595.4h8v8h-8zM636 611.4h8v8h-8zM628 619.4h8v8h-8zM668 627.4h8v8h-8zM628 635.4h8v8h-8zM668 635.4h8v8h-8zM1396 651.4h8v8h-8zM1412 699.4h8v8h-8zM1284 715.4h8v8h-8zM1276 771.4h8v8h-8zM1412 803.4h8v8h-8zM1268 811.4h8v8h-8zM1260 843.4h8v8h-8zM1396 851.4h8v8h-8zM1388 867.4h8v8h-8zM1380 883.4h8v8h-8zM1372 899.4h8v8h-8zM1364 915.4h8v8h-8zM1132 979.4h8v8h-8zM1100 1011.4h8v8h-8zM1156 1155.4h8v8h-8zM1196 1155.4h8v8h-8z"/>
<path fill="#d15768" d="M1324 587.4h8v8h-8zM1316 595.4h8v8h-8zM644 611.4h16v8h-16zM1308 611.4h8v8h-8zM660 619.4h8v8h-8zM1380 619.4h8v8h-8zM628 627.4h8v8h-8zM1300 635.4h8v8h-8zM1388 635.4h8v8h-8zM636 643.4h8v8h-8zM660 643.4h8v8h-8zM1292 667.4h8v8h-8zM1404 675.4h8v8h-8zM1412 707.4h8v8h-8zM1284 723.4h8v8h-8zM1276 779.4h8v8h-8zM1404 827.4h8v8h-8zM1252 867.4h8v8h-8zM1244 883.4h8v8h-8zM1220 915.4h8v8h-8zM1356 931.4h8v8h-8zM1180 947.4h8v8h-8zM1156 963.4h8v8h-8zM1340 971.4h8v8h-8zM1124 987.4h8v8h-8zM1332 995.4h8v8h-8zM1084 1043.4h8v8h-8zM1316 1059.4h8v8h-8zM1300 1091.4h8v8h-8zM1084 1107.4h8v8h-8zM1260 1131.4h8v8h-8zM1228 1147.4h8v8h-8zM1164 1155.4h8v8h-8z"/>
<path fill="#d35a67" d="M1348 587.4h8v8h-8zM1372 611.4h8v8h-8zM636 619.4h8v8h-8zM660 627.4h8v8h-8zM660 635.4h8v8h-8zM1300 643.4h8v8h-8zM1396 659.4h8v8h-8zM1292 675.4h8v8h-8zM1412 715.4h8v8h-8zM1284 731.4h8v8h-8zM1276 787.4h8v8h-8zM1412 795.4h8v8h-8zM1268 819.4h8v8h-8zM1228 907.4h8v8h-8zM1212 923.4h8v8h-8zM1348 947.4h8v8h-8zM1116 995.4h8v8h-8zM1108 1003.4h8v8h-8zM1092 1027.4h8v8h-8zM1324 1027.4h8v8h-8zM1308 1075.4h8v8h-8zM1116 1139.4h8v8h-8zM1244 1139.4h8v8h-8zM1132 1147.4h8v8h-8zM1172 1155.4h24v8h-24z"/>
<path fill="#d65c66" d="M1332 587.4h16v8h-16zM1324 595.4h8v8h-8zM1356 595.4h8v8h-8zM1316 603.4h8v8h-8zM1364 603.4h8v8h-8zM644 619.4h16v8h-16zM1308 619.4h8v8h-8zM636 627.4h8v8h-8zM652 627.4h8v8h-8zM1380 627.4h8v8h-8zM636 635.4h8v8h-8zM644 643.4h16v8h-16zM1388 643.4h8v8h-8zM1292 683.4h8v8h-8zM1404 683.4h8v8h-8zM1412 723.4h8v8h-8zM1284 739.4h8v8h-8zM1412 787.4h8v8h-8zM1404 819.4h8v8h-8zM1268 827.4h8v8h-8zM1396 843.4h8v8h-8zM1260 851.4h8v8h-8zM1388 859.4h8v8h-8zM1380 875.4h8v8h-8zM1372 891.4h8v8h-8zM1236 899.4h8v8h-8zM1364 907.4h8v8h-8zM1204 931.4h8v8h-8zM1340 963.4h8v8h-8zM1332 987.4h8v8h-8zM1268 1123.4h8v8h-8z"/>
<path fill="#d75d66" d="M1348 595.4h8v8h-8zM644 627.4h8v8h-8zM1308 627.4h8v8h-8zM644 635.4h16v8h-16zM1300 651.4h8v8h-8zM1292 691.4h8v8h-8zM1412 731.4h8v8h-8zM1284 747.4h8v8h-8zM1412 771.4h8v8h-8zM1412 779.4h8v8h-8zM1276 795.4h8v8h-8zM1252 875.4h8v8h-8zM1356 923.4h8v8h-8zM1348 939.4h8v8h-8zM1172 955.4h8v8h-8zM1148 971.4h8v8h-8zM1324 1019.4h8v8h-8zM1084 1051.4h8v8h-8zM1316 1051.4h8v8h-8zM1084 1099.4h8v8h-8zM1292 1099.4h8v8h-8zM1092 1115.4h8v8h-8zM1108 1131.4h8v8h-8z"/>
<path fill="#d96065" d="M1332 595.4h16v8h-16zM1324 603.4h8v8h-8zM1316 611.4h8v8h-8zM1372 619.4h8v8h-8zM1388 651.4h8v8h-8zM1300 659.4h8v8h-8zM1396 667.4h8v8h-8zM1404 691.4h8v8h-8zM1292 699.4h8v8h-8zM1412 739.4h8v8h-8zM1412 747.4h8v8h-8zM1284 755.4h8v8h-8zM1412 755.4h8v8h-8zM1412 763.4h8v8h-8zM1276 803.4h8v8h-8zM1404 811.4h8v8h-8zM1268 835.4h8v8h-8zM1396 835.4h8v8h-8zM1260 859.4h8v8h-8zM1244 891.4h8v8h-8zM1196 939.4h8v8h-8zM1284 1107.4h8v8h-8zM1276 1115.4h8v8h-8zM1100 1123.4h8v8h-8zM1140 1147.4h8v8h-8zM1220 1147.4h8v8h-8z"/>
<path fill="#da6164" d="M1356 603.4h8v8h-8zM1364 611.4h8v8h-8zM1316 619.4h8v8h-8zM1308 635.4h8v8h-8zM1380 635.4h8v8h-8zM1404 699.4h8v8h-8zM1292 707.4h8v8h-8zM1284 763.4h8v8h-8zM1388 851.4h8v8h-8zM1380 867.4h8v8h-8zM1372 883.4h8v8h-8zM1364 899.4h8v8h-8zM1356 915.4h8v8h-8zM1340 955.4h8v8h-8zM1140 979.4h8v8h-8zM1332 979.4h8v8h-8zM1324 1011.4h8v8h-8zM1100 1019.4h8v8h-8zM1084 1059.4h8v8h-8zM1084 1091.4h8v8h-8z"/>
<path fill="#dc6464" d="M1332 603.4h8v8h-8zM1348 603.4h8v8h-8zM1308 643.4h8v8h-8zM1300 667.4h8v8h-8zM1396 675.4h8v8h-8zM1292 715.4h8v8h-8zM1284 771.4h8v8h-8zM1404 803.4h8v8h-8zM1276 811.4h8v8h-8zM1268 843.4h8v8h-8zM1260 867.4h8v8h-8zM1252 883.4h8v8h-8zM1236 907.4h8v8h-8zM1228 915.4h8v8h-8zM1220 923.4h8v8h-8zM1348 931.4h8v8h-8zM1188 947.4h8v8h-8zM1164 963.4h8v8h-8zM1324 1003.4h8v8h-8zM1092 1035.4h8v8h-8zM1316 1043.4h8v8h-8zM1084 1067.4h8v8h-8zM1308 1067.4h8v8h-8zM1300 1083.4h8v8h-8zM1252 1131.4h8v8h-8zM1124 1139.4h8v8h-8z"/>
<path fill="#de6763" d="M1340 603.4h8v8h-8zM1324 611.4h8v8h-8zM1316 627.4h8v8h-8zM1372 627.4h8v8h-8zM1380 643.4h8v8h-8zM1388 659.4h8v8h-8zM1300 675.4h8v8h-8zM1404 707.4h8v8h-8zM1292 723.4h8v8h-8zM1292 731.4h8v8h-8zM1284 779.4h8v8h-8zM1276 819.4h8v8h-8zM1396 827.4h8v8h-8zM1212 931.4h8v8h-8zM1340 947.4h8v8h-8zM1332 971.4h8v8h-8zM1132 987.4h8v8h-8zM1108 1011.4h8v8h-8zM1084 1075.4h8v8h-8zM1084 1083.4h8v8h-8zM1236 1139.4h8v8h-8zM1148 1147.4h8v8h-8zM1212 1147.4h8v8h-8z"/>
<path fill="#df6863" d="M1356 611.4h8v8h-8zM1364 619.4h8v8h-8zM1308 651.4h8v8h-8zM1300 683.4h8v8h-8zM1396 683.4h8v8h-8zM1404 715.4h8v8h-8zM1292 739.4h8v8h-8zM1284 787.4h8v8h-8zM1404 795.4h8v8h-8zM1388 843.4h8v8h-8zM1268 851.4h8v8h-8zM1380 859.4h8v8h-8zM1372 875.4h8v8h-8zM1364 891.4h8v8h-8zM1244 899.4h8v8h-8zM1356 907.4h8v8h-8zM1124 995.4h8v8h-8zM1324 995.4h8v8h-8zM1116 1003.4h8v8h-8zM1316 1035.4h8v8h-8zM1092 1107.4h8v8h-8z"/>
<path fill="#e06b62" d="M1332 611.4h8v8h-8zM1348 611.4h8v8h-8zM1324 619.4h8v8h-8zM1316 635.4h8v8h-8zM1372 635.4h8v8h-8zM1380 651.4h8v8h-8zM1388 667.4h8v8h-8zM1300 691.4h8v8h-8zM1396 691.4h8v8h-8zM1404 723.4h8v8h-8zM1292 747.4h8v8h-8zM1404 779.4h8v8h-8zM1404 787.4h8v8h-8zM1284 795.4h8v8h-8zM1396 819.4h8v8h-8zM1276 827.4h8v8h-8zM1260 875.4h8v8h-8zM1252 891.4h8v8h-8zM1348 923.4h8v8h-8zM1204 939.4h8v8h-8zM1180 955.4h8v8h-8zM1332 963.4h8v8h-8zM1156 971.4h8v8h-8zM1092 1043.4h8v8h-8zM1116 1131.4h8v8h-8z"/>
<path fill="#e16d62" d="M1340 611.4h8v8h-8zM1356 619.4h8v8h-8zM1364 627.4h8v8h-8zM1308 659.4h8v8h-8zM1300 699.4h8v8h-8zM1404 731.4h8v8h-8zM1404 739.4h8v8h-8zM1404 747.4h8v8h-8zM1292 755.4h8v8h-8zM1404 763.4h8v8h-8zM1404 771.4h8v8h-8zM1388 835.4h8v8h-8zM1268 859.4h8v8h-8zM1340 939.4h8v8h-8zM1324 987.4h8v8h-8zM1100 1027.4h8v8h-8zM1316 1027.4h8v8h-8zM1308 1059.4h8v8h-8zM1292 1091.4h8v8h-8zM1100 1115.4h8v8h-8zM1108 1123.4h8v8h-8zM1260 1123.4h8v8h-8zM1132 1139.4h8v8h-8zM1156 1147.4h8v8h-8zM1204 1147.4h8v8h-8z"/>
<path fill="#e37062" d="M1332 619.4h8v8h-8zM1324 627.4h8v8h-8zM1316 643.4h8v8h-8zM1372 643.4h8v8h-8zM1380 659.4h8v8h-8zM1308 667.4h8v8h-8zM1388 675.4h8v8h-8zM1396 699.4h8v8h-8zM1300 707.4h8v8h-8zM1404 755.4h8v8h-8zM1292 763.4h8v8h-8zM1284 803.4h8v8h-8zM1396 811.4h8v8h-8zM1276 835.4h8v8h-8zM1380 851.4h8v8h-8zM1372 867.4h8v8h-8zM1364 883.4h8v8h-8zM1356 899.4h8v8h-8zM1236 915.4h8v8h-8zM1348 915.4h8v8h-8zM1332 955.4h8v8h-8zM1148 979.4h8v8h-8zM1092 1099.4h8v8h-8z"/>
<path fill="#e47362" d="M1340 619.4h16v8h-16zM1324 635.4h8v8h-8zM1364 635.4h8v8h-8zM1316 651.4h8v8h-8zM1308 675.4h8v8h-8zM1396 707.4h8v8h-8zM1300 715.4h8v8h-8zM1292 771.4h8v8h-8zM1396 803.4h8v8h-8zM1284 811.4h8v8h-8zM1276 843.4h8v8h-8zM1260 883.4h8v8h-8zM1244 907.4h8v8h-8zM1228 923.4h8v8h-8zM1340 931.4h8v8h-8zM1196 947.4h8v8h-8zM1172 963.4h8v8h-8zM1324 979.4h8v8h-8zM1316 1019.4h8v8h-8zM1092 1051.4h8v8h-8zM1300 1075.4h8v8h-8zM1284 1099.4h8v8h-8zM1268 1115.4h8v8h-8zM1244 1131.4h8v8h-8zM1228 1139.4h8v8h-8zM1164 1147.4h8v8h-8zM1196 1147.4h8v8h-8z"/>
<path fill="#e57562" d="M1332 627.4h8v8h-8zM1356 627.4h8v8h-8zM1372 651.4h8v8h-8zM1380 667.4h8v8h-8zM1308 683.4h8v8h-8zM1388 683.4h8v8h-8zM1396 715.4h8v8h-8zM1300 723.4h8v8h-8zM1292 779.4h8v8h-8zM1388 827.4h8v8h-8zM1268 867.4h8v8h-8zM1252 899.4h8v8h-8zM1220 931.4h8v8h-8zM1332 947.4h8v8h-8zM1140 987.4h8v8h-8zM1316 1011.4h8v8h-8zM1108 1019.4h8v8h-8zM1308 1051.4h8v8h-8zM1276 1107.4h8v8h-8zM1172 1147.4h24v8h-24z"/>
<path fill="#e67863" d="M1340 627.4h16v8h-16zM1324 643.4h8v8h-8zM1364 643.4h8v8h-8zM1316 659.4h8v8h-8zM1308 691.4h8v8h-8zM1388 691.4h8v8h-8zM1396 723.4h8v8h-8zM1300 731.4h8v8h-8zM1300 739.4h8v8h-8zM1292 787.4h8v8h-8zM1396 795.4h8v8h-8zM1284 819.4h8v8h-8zM1380 843.4h8v8h-8zM1276 851.4h8v8h-8zM1372 859.4h8v8h-8zM1364 875.4h8v8h-8zM1356 891.4h8v8h-8zM1348 907.4h8v8h-8zM1212 939.4h8v8h-8zM1188 955.4h8v8h-8zM1324 971.4h8v8h-8zM1116 1011.4h8v8h-8zM1100 1035.4h8v8h-8zM1092 1059.4h8v8h-8zM1092 1091.4h8v8h-8zM1124 1131.4h8v8h-8zM1140 1139.4h8v8h-8z"/>
<path fill="#e77a63" d="M1332 635.4h8v8h-8zM1356 635.4h8v8h-8zM1324 651.4h8v8h-8zM1372 659.4h8v8h-8zM1316 667.4h8v8h-8zM1380 675.4h8v8h-8zM1308 699.4h8v8h-8zM1396 731.4h8v8h-8zM1300 747.4h8v8h-8zM1396 787.4h8v8h-8zM1388 819.4h8v8h-8zM1284 827.4h8v8h-8zM1268 875.4h8v8h-8zM1260 891.4h8v8h-8zM1340 923.4h8v8h-8zM1164 971.4h8v8h-8zM1132 995.4h8v8h-8zM1124 1003.4h8v8h-8zM1316 1003.4h8v8h-8zM1092 1067.4h8v8h-8zM1092 1083.4h8v8h-8zM1100 1107.4h8v8h-8z"/>
<path fill="#e87d64" d="M1340 635.4h16v8h-16zM1332 643.4h8v8h-8zM1356 643.4h8v8h-8zM1364 651.4h8v8h-8zM1316 675.4h8v8h-8zM1388 699.4h8v8h-8zM1308 707.4h8v8h-8zM1396 739.4h8v8h-8zM1396 747.4h8v8h-8zM1300 755.4h8v8h-8zM1396 755.4h8v8h-8zM1396 763.4h8v8h-8zM1396 771.4h8v8h-8zM1396 779.4h8v8h-8zM1292 795.4h8v8h-8zM1380 835.4h8v8h-8zM1276 859.4h8v8h-8zM1244 915.4h8v8h-8zM1332 939.4h8v8h-8zM1324 963.4h8v8h-8zM1316 995.4h8v8h-8zM1308 1043.4h8v8h-8zM1300 1067.4h8v8h-8zM1092 1075.4h8v8h-8zM1292 1083.4h8v8h-8zM1116 1123.4h8v8h-8zM1220 1139.4h8v8h-8z"/>
<path fill="#e98165" d="M1340 643.4h16v8h-16zM1324 659.4h8v8h-8zM1372 667.4h8v8h-8zM1380 683.4h8v8h-8zM1388 707.4h8v8h-8zM1308 715.4h8v8h-8zM1300 763.4h8v8h-8zM1292 803.4h8v8h-8zM1388 811.4h8v8h-8zM1284 835.4h8v8h-8zM1372 851.4h8v8h-8zM1364 867.4h8v8h-8zM1268 883.4h8v8h-8zM1356 883.4h8v8h-8zM1348 899.4h8v8h-8zM1252 907.4h8v8h-8zM1340 915.4h8v8h-8zM1236 923.4h8v8h-8zM1204 947.4h8v8h-8zM1108 1115.4h8v8h-8zM1252 1123.4h8v8h-8z"/>
<path fill="#e98265" d="M1332 651.4h8v8h-8zM1356 651.4h8v8h-8zM1364 659.4h8v8h-8zM1324 667.4h8v8h-8zM1372 675.4h8v8h-8zM1316 683.4h8v8h-8zM1380 691.4h8v8h-8zM1388 715.4h8v8h-8zM1308 723.4h8v8h-8zM1300 771.4h8v8h-8zM1388 803.4h8v8h-8zM1292 811.4h8v8h-8zM1380 827.4h8v8h-8zM1284 843.4h8v8h-8zM1276 867.4h8v8h-8zM1260 899.4h8v8h-8zM1228 931.4h8v8h-8zM1332 931.4h8v8h-8zM1324 955.4h8v8h-8zM1180 963.4h8v8h-8zM1156 979.4h8v8h-8zM1316 987.4h8v8h-8zM1108 1027.4h8v8h-8zM1308 1035.4h8v8h-8zM1100 1043.4h8v8h-8zM1236 1131.4h8v8h-8zM1148 1139.4h8v8h-8z"/>
<path fill="#ea8667" d="M1340 651.4h16v8h-16zM1332 659.4h8v8h-8zM1356 659.4h8v8h-8zM1364 667.4h8v8h-8zM1324 675.4h8v8h-8zM1316 691.4h8v8h-8zM1388 723.4h8v8h-8zM1308 731.4h8v8h-8zM1300 779.4h8v8h-8zM1388 795.4h8v8h-8zM1292 819.4h8v8h-8zM1372 843.4h8v8h-8zM1348 891.4h8v8h-8zM1340 907.4h8v8h-8zM1220 939.4h8v8h-8zM1316 979.4h8v8h-8zM1284 1091.4h8v8h-8zM1100 1099.4h8v8h-8zM1132 1131.4h8v8h-8z"/>
<path fill="#eb8767" d="M1340 659.4h16v8h-16zM1332 667.4h8v8h-8zM1372 683.4h8v8h-8zM1316 699.4h8v8h-8zM1380 699.4h8v8h-8zM1388 731.4h8v8h-8zM1308 739.4h8v8h-8zM1308 747.4h8v8h-8zM1300 787.4h8v8h-8zM1388 787.4h8v8h-8zM1380 819.4h8v8h-8zM1284 851.4h8v8h-8zM1364 859.4h8v8h-8zM1276 875.4h8v8h-8zM1356 875.4h8v8h-8zM1268 891.4h8v8h-8zM1332 923.4h8v8h-8zM1324 947.4h8v8h-8zM1196 955.4h8v8h-8zM1148 987.4h8v8h-8zM1308 1027.4h8v8h-8zM1300 1059.4h8v8h-8zM1260 1115.4h8v8h-8zM1212 1139.4h8v8h-8z"/>
<path fill="#ec8b69" d="M1340 667.4h8v8h-8zM1356 667.4h8v8h-8zM1364 675.4h8v8h-8zM1324 683.4h8v8h-8zM1372 691.4h8v8h-8zM1316 707.4h8v8h-8zM1380 707.4h8v8h-8zM1316 715.4h8v8h-8zM1388 739.4h8v8h-8zM1388 747.4h8v8h-8zM1308 755.4h8v8h-8zM1388 755.4h8v8h-8zM1388 763.4h8v8h-8zM1388 771.4h8v8h-8zM1388 779.4h8v8h-8zM1300 795.4h8v8h-8zM1292 827.4h8v8h-8zM1372 835.4h8v8h-8zM1284 859.4h8v8h-8zM1252 915.4h8v8h-8zM1244 923.4h8v8h-8zM1324 939.4h8v8h-8zM1172 971.4h8v8h-8zM1316 971.4h8v8h-8zM1116 1019.4h8v8h-8zM1308 1019.4h8v8h-8zM1100 1051.4h8v8h-8zM1276 1099.4h8v8h-8zM1268 1107.4h8v8h-8zM1156 1139.4h8v8h-8z"/>
<path fill="#ec8e6a" d="M1348 667.4h8v8h-8zM1332 675.4h8v8h-8zM1356 675.4h8v8h-8zM1364 683.4h8v8h-8zM1324 691.4h8v8h-8zM1380 715.4h8v8h-8zM1316 723.4h8v8h-8zM1308 763.4h8v8h-8zM1300 803.4h8v8h-8zM1380 811.4h8v8h-8zM1292 835.4h8v8h-8zM1364 851.4h8v8h-8zM1356 867.4h8v8h-8zM1276 883.4h8v8h-8zM1348 883.4h8v8h-8zM1340 899.4h8v8h-8zM1260 907.4h8v8h-8zM1332 915.4h8v8h-8zM1236 931.4h8v8h-8zM1212 947.4h8v8h-8zM1316 963.4h8v8h-8zM1140 995.4h8v8h-8zM1132 1003.4h8v8h-8zM1124 1011.4h8v8h-8zM1308 1011.4h8v8h-8zM1292 1075.4h8v8h-8zM1100 1091.4h8v8h-8zM1108 1107.4h8v8h-8zM1124 1123.4h8v8h-8z"/>
<path fill="#ed906b" d="M1340 675.4h16v8h-16zM1332 683.4h8v8h-8zM1324 699.4h8v8h-8zM1372 699.4h8v8h-8zM1380 723.4h8v8h-8zM1316 731.4h8v8h-8zM1308 771.4h8v8h-8zM1380 803.4h8v8h-8zM1300 811.4h8v8h-8zM1372 827.4h8v8h-8zM1292 843.4h8v8h-8zM1284 867.4h8v8h-8zM1268 899.4h8v8h-8zM1324 931.4h8v8h-8zM1188 963.4h8v8h-8zM1308 1003.4h8v8h-8zM1108 1035.4h8v8h-8zM1300 1051.4h8v8h-8zM1100 1059.4h8v8h-8zM1116 1115.4h8v8h-8zM1164 1139.4h8v8h-8zM1204 1139.4h8v8h-8z"/>
<path fill="#ed946d" d="M1340 683.4h24v8h-24zM1332 691.4h8v8h-8zM1364 691.4h8v8h-8zM1324 707.4h8v8h-8zM1372 707.4h8v8h-8zM1380 731.4h8v8h-8zM1316 739.4h8v8h-8zM1308 779.4h8v8h-8zM1380 795.4h8v8h-8zM1300 819.4h8v8h-8zM1364 843.4h8v8h-8zM1356 859.4h8v8h-8zM1340 891.4h8v8h-8zM1332 907.4h8v8h-8zM1228 939.4h8v8h-8zM1316 955.4h8v8h-8zM1164 979.4h8v8h-8zM1100 1067.4h8v8h-8zM1100 1075.4h8v8h-8zM1100 1083.4h8v8h-8zM1244 1123.4h8v8h-8zM1140 1131.4h8v8h-8zM1228 1131.4h8v8h-8z"/>
<path fill="#ee956e" d="M1340 691.4h24v8h-24zM1332 699.4h8v8h-8zM1364 699.4h8v8h-8zM1324 715.4h8v8h-8zM1372 715.4h8v8h-8zM1380 739.4h8v8h-8zM1316 747.4h8v8h-8zM1380 747.4h8v8h-8zM1316 755.4h8v8h-8zM1380 755.4h8v8h-8zM1380 771.4h8v8h-8zM1380 779.4h8v8h-8zM1308 787.4h8v8h-8zM1380 787.4h8v8h-8zM1372 819.4h8v8h-8zM1300 827.4h8v8h-8zM1292 851.4h8v8h-8zM1284 875.4h8v8h-8zM1348 875.4h8v8h-8zM1276 891.4h8v8h-8zM1260 915.4h8v8h-8zM1324 923.4h8v8h-8zM1316 947.4h8v8h-8zM1204 955.4h8v8h-8zM1308 995.4h8v8h-8zM1172 1139.4h8v8h-8zM1196 1139.4h8v8h-8z"/>
<path fill="#ef9970" d="M1340 699.4h8v8h-8zM1356 699.4h8v8h-8zM1332 707.4h8v8h-8zM1364 707.4h8v8h-8zM1324 723.4h8v8h-8zM1372 723.4h8v8h-8zM1324 731.4h8v8h-8zM1316 763.4h8v8h-8zM1380 763.4h8v8h-8zM1308 795.4h8v8h-8zM1308 803.4h8v8h-8zM1372 811.4h8v8h-8zM1364 835.4h8v8h-8zM1356 851.4h8v8h-8zM1292 859.4h8v8h-8zM1284 883.4h8v8h-8zM1332 899.4h8v8h-8zM1268 907.4h8v8h-8zM1252 923.4h8v8h-8zM1316 939.4h8v8h-8zM1220 947.4h8v8h-8zM1308 987.4h8v8h-8zM1116 1027.4h8v8h-8zM1300 1043.4h8v8h-8zM1284 1083.4h8v8h-8zM1180 1139.4h16v8h-16z"/>
<path fill="#ef9d72" d="M1348 699.4h8v8h-8zM1340 707.4h8v8h-8zM1356 707.4h8v8h-8zM1332 715.4h8v8h-8zM1364 715.4h8v8h-8zM1372 731.4h8v8h-8zM1324 739.4h8v8h-8zM1316 771.4h8v8h-8zM1372 803.4h8v8h-8zM1308 811.4h8v8h-8zM1364 827.4h8v8h-8zM1300 835.4h8v8h-8zM1292 867.4h8v8h-8zM1348 867.4h8v8h-8zM1340 883.4h8v8h-8zM1276 899.4h8v8h-8zM1324 915.4h8v8h-8zM1244 931.4h8v8h-8zM1180 971.4h8v8h-8zM1308 979.4h8v8h-8zM1156 987.4h8v8h-8zM1108 1043.4h8v8h-8zM1292 1067.4h8v8h-8zM1108 1099.4h8v8h-8zM1252 1115.4h8v8h-8z"/>
<path fill="#ef9e73" d="M1348 707.4h8v8h-8zM1332 723.4h8v8h-8zM1364 723.4h8v8h-8zM1372 739.4h8v8h-8zM1324 747.4h8v8h-8zM1372 747.4h8v8h-8zM1316 779.4h8v8h-8zM1372 787.4h8v8h-8zM1372 795.4h8v8h-8zM1308 819.4h8v8h-8zM1364 819.4h8v8h-8zM1300 843.4h8v8h-8zM1356 843.4h8v8h-8zM1284 891.4h8v8h-8zM1332 891.4h8v8h-8zM1324 907.4h8v8h-8zM1316 931.4h8v8h-8zM1236 939.4h8v8h-8zM1196 963.4h8v8h-8zM1308 971.4h8v8h-8zM1300 1035.4h8v8h-8zM1132 1123.4h8v8h-8zM1148 1131.4h8v8h-8z"/>
<path fill="#f0a275" d="M1340 715.4h24v8h-24zM1340 723.4h8v8h-8zM1332 731.4h8v8h-8zM1364 731.4h8v8h-8zM1324 755.4h8v8h-8zM1372 755.4h8v8h-8zM1324 763.4h8v8h-8zM1372 763.4h8v8h-8zM1372 771.4h8v8h-8zM1372 779.4h8v8h-8zM1316 787.4h8v8h-8zM1316 795.4h8v8h-8zM1364 811.4h8v8h-8zM1308 827.4h8v8h-8zM1356 835.4h8v8h-8zM1300 851.4h8v8h-8zM1348 859.4h8v8h-8zM1292 875.4h8v8h-8zM1340 875.4h8v8h-8zM1276 907.4h8v8h-8zM1268 915.4h8v8h-8zM1260 923.4h8v8h-8zM1316 923.4h8v8h-8zM1212 955.4h8v8h-8zM1308 955.4h8v8h-8zM1308 963.4h8v8h-8zM1148 995.4h8v8h-8zM1124 1019.4h8v8h-8zM1300 1027.4h8v8h-8zM1276 1091.4h8v8h-8zM1116 1107.4h8v8h-8zM1220 1131.4h8v8h-8z"/>
<path fill="#f0a476" d="M1348 723.4h16v8h-16zM1340 731.4h8v8h-8zM1332 739.4h8v8h-8zM1364 739.4h8v8h-8zM1332 747.4h8v8h-8zM1364 747.4h8v8h-8zM1324 771.4h8v8h-8zM1316 803.4h8v8h-8zM1364 803.4h8v8h-8zM1356 827.4h8v8h-8zM1308 835.4h8v8h-8zM1348 851.4h8v8h-8zM1300 859.4h8v8h-8zM1292 883.4h8v8h-8zM1332 883.4h8v8h-8zM1284 899.4h8v8h-8zM1324 899.4h8v8h-8zM1316 915.4h8v8h-8zM1308 947.4h8v8h-8zM1172 979.4h8v8h-8zM1140 1003.4h8v8h-8zM1132 1011.4h8v8h-8zM1108 1051.4h8v8h-8zM1108 1091.4h8v8h-8zM1268 1099.4h8v8h-8zM1260 1107.4h8v8h-8zM1124 1115.4h8v8h-8zM1236 1123.4h8v8h-8z"/>
<path fill="#f1a778" d="M1348 731.4h16v8h-16zM1340 739.4h8v8h-8zM1356 739.4h8v8h-8zM1332 755.4h8v8h-8zM1364 755.4h8v8h-8zM1364 763.4h8v8h-8zM1364 771.4h8v8h-8zM1324 779.4h8v8h-8zM1364 779.4h8v8h-8zM1324 787.4h8v8h-8zM1364 787.4h8v8h-8zM1364 795.4h8v8h-8zM1316 811.4h8v8h-8zM1316 819.4h8v8h-8zM1356 819.4h8v8h-8zM1308 843.4h8v8h-8zM1348 843.4h8v8h-8zM1300 867.4h8v8h-8zM1340 867.4h8v8h-8zM1292 891.4h8v8h-8zM1324 891.4h8v8h-8zM1316 907.4h8v8h-8zM1252 931.4h8v8h-8zM1308 939.4h8v8h-8zM1228 947.4h8v8h-8zM1300 1011.4h8v8h-8zM1300 1019.4h8v8h-8zM1116 1035.4h8v8h-8zM1292 1059.4h8v8h-8z"/>
<path fill="#f1ab7b" d="M1348 739.4h8v8h-8zM1340 747.4h24v8h-24zM1340 755.4h8v8h-8zM1356 755.4h8v8h-8zM1332 763.4h8v8h-8zM1332 771.4h8v8h-8zM1324 795.4h8v8h-8zM1356 803.4h8v8h-8zM1356 811.4h8v8h-8zM1316 827.4h8v8h-8zM1348 835.4h8v8h-8zM1308 851.4h8v8h-8zM1340 859.4h8v8h-8zM1300 875.4h8v8h-8zM1332 875.4h8v8h-8zM1300 883.4h8v8h-8zM1292 899.4h8v8h-8zM1316 899.4h8v8h-8zM1284 907.4h8v8h-8zM1276 915.4h8v8h-8zM1268 923.4h8v8h-8zM1308 923.4h8v8h-8zM1308 931.4h8v8h-8zM1244 939.4h8v8h-8zM1188 971.4h8v8h-8zM1300 1003.4h8v8h-8zM1108 1059.4h8v8h-8zM1284 1075.4h8v8h-8zM1108 1083.4h8v8h-8zM1156 1131.4h8v8h-8z"/>
<path fill="#f2ac7c" d="M1348 755.4h8v8h-8zM1340 763.4h24v8h-24zM1340 771.4h8v8h-8zM1356 771.4h8v8h-8zM1332 779.4h8v8h-8zM1356 779.4h8v8h-8zM1332 787.4h8v8h-8zM1356 787.4h8v8h-8zM1356 795.4h8v8h-8zM1324 803.4h8v8h-8zM1324 811.4h8v8h-8zM1348 819.4h8v8h-8zM1348 827.4h8v8h-8zM1316 835.4h8v8h-8zM1316 843.4h8v8h-8zM1340 851.4h8v8h-8zM1308 859.4h8v8h-8zM1308 867.4h8v8h-8zM1332 867.4h8v8h-8zM1308 875.4h8v8h-8zM1324 883.4h8v8h-8zM1300 891.4h24v8h-24zM1300 899.4h16v8h-16zM1292 907.4h8v8h-8zM1308 907.4h8v8h-8zM1308 915.4h8v8h-8zM1204 963.4h8v8h-8zM1300 987.4h8v8h-8zM1300 995.4h8v8h-8zM1108 1067.4h8v8h-8zM1108 1075.4h8v8h-8zM1140 1123.4h8v8h-8zM1212 1131.4h8v8h-8z"/>
<path fill="#f2b07f" d="M1348 771.4h8v8h-8zM1340 779.4h16v8h-16zM1340 787.4h16v8h-16zM1332 795.4h24v8h-24zM1332 803.4h24v8h-24zM1332 811.4h24v8h-24zM1324 819.4h24v8h-24zM1324 827.4h8v8h-8zM1340 827.4h8v8h-8zM1324 835.4h8v8h-8zM1340 835.4h8v8h-8zM1340 843.4h8v8h-8zM1316 851.4h8v8h-8zM1316 859.4h8v8h-8zM1332 859.4h8v8h-8zM1316 867.4h16v8h-16zM1316 875.4h16v8h-16zM1308 883.4h16v8h-16zM1300 907.4h8v8h-8zM1284 915.4h24v8h-24zM1276 923.4h8v8h-8zM1300 923.4h8v8h-8zM1260 931.4h8v8h-8zM1300 931.4h8v8h-8zM1300 939.4h8v8h-8zM1220 955.4h8v8h-8zM1300 963.4h8v8h-8zM1300 971.4h8v8h-8zM1300 979.4h8v8h-8zM1164 987.4h8v8h-8zM1292 1051.4h8v8h-8zM1116 1099.4h8v8h-8z"/>
<path fill="#f2b280" d="M1332 827.4h8v8h-8zM1332 835.4h8v8h-8zM1324 843.4h16v8h-16zM1324 851.4h16v8h-16zM1324 859.4h8v8h-8zM1284 923.4h16v8h-16zM1252 939.4h8v8h-8zM1236 947.4h8v8h-8zM1300 947.4h8v8h-8zM1300 955.4h8v8h-8zM1124 1027.4h8v8h-8zM1116 1043.4h8v8h-8zM1132 1115.4h8v8h-8zM1244 1115.4h8v8h-8zM1164 1131.4h8v8h-8z"/>
<path fill="#f3b583" d="M1268 931.4h8v8h-8zM1292 931.4h8v8h-8zM1180 979.4h8v8h-8zM1156 995.4h8v8h-8zM1276 1083.4h8v8h-8zM1124 1107.4h8v8h-8zM1228 1123.4h8v8h-8zM1204 1131.4h8v8h-8z"/>
<path fill="#f3b985" d="M1276 931.4h16v8h-16zM1292 939.4h8v8h-8zM1228 955.4h8v8h-8zM1212 963.4h8v8h-8zM1196 971.4h8v8h-8zM1132 1019.4h8v8h-8zM1292 1043.4h8v8h-8zM1284 1067.4h8v8h-8zM1116 1091.4h8v8h-8zM1172 1131.4h8v8h-8z"/>
<path fill="#f4ba87" d="M1260 939.4h8v8h-8zM1244 947.4h8v8h-8zM1292 947.4h8v8h-8zM1148 1003.4h8v8h-8zM1140 1011.4h8v8h-8zM1292 1035.4h8v8h-8zM1116 1051.4h8v8h-8zM1252 1107.4h8v8h-8zM1148 1123.4h8v8h-8zM1196 1131.4h8v8h-8z"/>
<path fill="#f4be8a" d="M1268 939.4h8v8h-8zM1284 939.4h8v8h-8zM1292 955.4h8v8h-8zM1292 1027.4h8v8h-8zM1268 1091.4h8v8h-8zM1260 1099.4h8v8h-8zM1180 1131.4h16v8h-16z"/>
<path fill="#f4c08b" d="M1276 939.4h8v8h-8zM1252 947.4h8v8h-8zM1292 963.4h8v8h-8zM1292 971.4h8v8h-8zM1292 979.4h8v8h-8zM1172 987.4h8v8h-8zM1292 987.4h8v8h-8zM1292 995.4h8v8h-8zM1292 1003.4h8v8h-8zM1292 1011.4h8v8h-8zM1292 1019.4h8v8h-8zM1124 1035.4h8v8h-8zM1116 1059.4h8v8h-8zM1116 1083.4h8v8h-8z"/>
<path fill="#f5c38e" d="M1284 947.4h8v8h-8zM1236 955.4h8v8h-8zM1220 963.4h8v8h-8zM1116 1067.4h8v8h-8zM1116 1075.4h8v8h-8zM1124 1099.4h8v8h-8zM1140 1115.4h8v8h-8zM1220 1123.4h8v8h-8z"/>
<path fill="#f5c791" d="M1260 947.4h8v8h-8zM1276 947.4h8v8h-8zM1284 955.4h8v8h-8zM1204 971.4h8v8h-8zM1188 979.4h8v8h-8zM1284 1059.4h8v8h-8zM1132 1107.4h8v8h-8zM1236 1115.4h8v8h-8zM1156 1123.4h8v8h-8z"/>
<path fill="#f5c892" d="M1268 947.4h8v8h-8zM1244 955.4h8v8h-8zM1164 995.4h8v8h-8zM1132 1027.4h8v8h-8zM1276 1075.4h8v8h-8z"/>
<path fill="#f6cc95" d="M1228 963.4h8v8h-8zM1284 963.4h8v8h-8zM1124 1043.4h8v8h-8z"/>
<path fill="#f6ce97" d="M1252 955.4h8v8h-8zM1276 955.4h8v8h-8zM1212 971.4h8v8h-8zM1284 971.4h8v8h-8zM1156 1003.4h8v8h-8zM1140 1019.4h8v8h-8zM1284 1051.4h8v8h-8zM1124 1091.4h8v8h-8zM1244 1107.4h8v8h-8zM1212 1123.4h8v8h-8z"/>
<path fill="#f6d19a" d="M1268 955.4h8v8h-8zM1196 979.4h8v8h-8zM1284 979.4h8v8h-8zM1180 987.4h8v8h-8zM1284 987.4h8v8h-8zM1148 1011.4h8v8h-8zM1268 1083.4h8v8h-8zM1164 1123.4h8v8h-8z"/>
<path fill="#f7d59d" d="M1260 955.4h8v8h-8zM1236 963.4h8v8h-8zM1276 963.4h8v8h-8zM1284 995.4h8v8h-8zM1284 1043.4h8v8h-8zM1124 1051.4h8v8h-8zM1124 1083.4h8v8h-8zM1148 1115.4h8v8h-8z"/>
<path fill="#f7d69f" d="M1284 1003.4h8v8h-8zM1284 1011.4h8v8h-8zM1132 1035.4h8v8h-8zM1284 1035.4h8v8h-8zM1276 1067.4h8v8h-8zM1260 1091.4h8v8h-8zM1132 1099.4h8v8h-8zM1252 1099.4h8v8h-8zM1140 1107.4h8v8h-8zM1228 1115.4h8v8h-8zM1204 1123.4h8v8h-8z"/>
<path fill="#f7daa2" d="M1244 963.4h8v8h-8zM1220 971.4h8v8h-8zM1276 971.4h8v8h-8zM1172 995.4h8v8h-8zM1284 1019.4h8v8h-8zM1284 1027.4h8v8h-8zM1124 1059.4h8v8h-8zM1124 1067.4h8v8h-8zM1124 1075.4h8v8h-8zM1172 1123.4h8v8h-8z"/>
<path fill="#f8dca4" d="M1252 963.4h24v8h-24zM1204 979.4h8v8h-8zM1196 1123.4h8v8h-8z"/>
<path fill="#f8dfa7" d="M1228 971.4h8v8h-8zM1276 979.4h8v8h-8zM1188 987.4h8v8h-8zM1140 1027.4h8v8h-8zM1180 1123.4h16v8h-16z"/>
<path fill="#f8e3ab" d="M1268 971.4h8v8h-8zM1276 987.4h8v8h-8zM1164 1003.4h8v8h-8zM1132 1043.4h8v8h-8zM1276 1059.4h8v8h-8zM1132 1091.4h8v8h-8zM1236 1107.4h8v8h-8zM1156 1115.4h8v8h-8z"/>
<path fill="#f9e4ad" d="M1236 971.4h8v8h-8zM1276 995.4h8v8h-8zM1156 1011.4h8v8h-8zM1148 1019.4h8v8h-8zM1268 1075.4h8v8h-8zM1220 1115.4h8v8h-8z"/>
<path fill="#f9e8b0" d="M1244 971.4h24v8h-24zM1212 979.4h8v8h-8zM1268 979.4h8v8h-8zM1140 1099.4h8v8h-8zM1148 1107.4h8v8h-8z"/>
<path fill="#f9eab2" d="M1196 987.4h8v8h-8zM1180 995.4h8v8h-8zM1276 1003.4h8v8h-8zM1132 1051.4h8v8h-8zM1276 1051.4h8v8h-8zM1132 1083.4h8v8h-8zM1244 1099.4h8v8h-8z"/>
<path fill="#faedb5" d="M1220 979.4h8v8h-8zM1268 987.4h8v8h-8zM1276 1011.4h8v8h-8zM1260 1083.4h8v8h-8zM1252 1091.4h8v8h-8zM1164 1115.4h8v8h-8z"/>
<path fill="#faf1b9" d="M1260 979.4h8v8h-8zM1276 1019.4h8v8h-8zM1140 1035.4h8v8h-8zM1276 1043.4h8v8h-8zM1132 1059.4h8v8h-8zM1132 1067.4h8v8h-8zM1132 1075.4h8v8h-8zM1212 1115.4h8v8h-8z"/>
<path fill="#faf2bb" d="M1228 979.4h16v8h-16zM1252 979.4h8v8h-8zM1268 995.4h8v8h-8zM1276 1027.4h8v8h-8zM1276 1035.4h8v8h-8zM1268 1067.4h8v8h-8z"/>
<path fill="#fbf6be" d="M1244 979.4h8v8h-8zM1204 987.4h8v8h-8zM1260 987.4h8v8h-8zM1172 1003.4h8v8h-8zM1140 1091.4h8v8h-8zM1228 1107.4h8v8h-8z"/>
<path fill="#fbf8c0" d="M1188 995.4h8v8h-8zM1268 1003.4h8v8h-8zM1148 1027.4h8v8h-8zM1156 1107.4h8v8h-8zM1172 1115.4h8v8h-8zM1204 1115.4h8v8h-8z"/>
<path fill="#fcfbc4" d="M1164 1011.4h8v8h-8zM1156 1019.4h8v8h-8zM1140 1043.4h8v8h-8zM1148 1099.4h8v8h-8z"/>
<path fill="#fcfdc6" d="M1212 987.4h48v8h-48zM1196 995.4h72v8h-72zM1180 1003.4h88v8h-88zM1172 1011.4h104v8h-104zM1164 1019.4h112v8h-112zM1156 1027.4h120v8h-120zM1148 1035.4h128v8h-128zM1148 1043.4h128v8h-128zM1140 1051.4h136v8h-136zM1140 1059.4h136v8h-136zM1140 1067.4h128v8h-128zM1140 1075.4h128v8h-128zM1140 1083.4h120v8h-120zM1148 1091.4h104v8h-104zM1156 1099.4h88v8h-88zM1164 1107.4h64v8h-64zM1180 1115.4h24v8h-24z"/>
</g>
<g fill="none" stroke="#fff" stroke-opacity="0.62" stroke-width="3.3" stroke-linejoin="round">
<path d="M1147.8 713.1L1150.2 702.3L1152.2 691.5L1153.9 680.7L1155.3 669.8L1156.4 659L1157.2 648.1L1157.7 637.3L1157.9 626.4L1157.8 615.5L1157.4 604.7L1156.7 593.8L1155.7 582.9L1154.5 572L1153 561.2L1151.2 550.3L1149.1 539.4L1146.8 528.5L1144.3 517.6L1141.7 506.8L1139.1 495.9L1136.7 484.9L1134.4 474L1132.3 463L1130.7 451.9L1129.5 440.8L1128.8 429.6L1128.8 418.4L1129.5 407.2L1131 396L1133.3 385.2L1136.5 374.8L1140.7 365L1145.9 355.9L1152.1 347.7L1159.1 340.2L1167 333.6L1175.5 327.6L1184.7 322.5L1194.4 318L1204.6 314.3L1215.2 311.4L1226 309.1L1237 307.5L1248.2 306.7L1259.3 306.5L1270.5 307L1281.6 308.1L1292.6 309.8L1303.5 312.2L1314.3 315L1325 318.5L1335.5 322.4L1345.8 326.9L1355.9 331.8L1365.8 337.1L1375.5 342.9L1384.8 349L1393.9 355.5L1402.6 362.4L1411 369.5L1419.1 377L1426.8 384.7L1434.1 392.6L1441.1 400.8L1447.8 409.3L1454.2 417.9L1460.4 426.7L1466.3 435.7L1472 444.9L1477.5 454.2L1482.9 463.7L1488 473.2L1493.1 482.9L1498.1 492.7L1503 502.5L1507.8 512.4L1512.6 522.3L1517.3 532.4L1521.9 542.4L1526.4 552.6L1530.7 562.7L1535 573L1539 583.3L1543 593.6L1546.7 604L1550.3 614.5L1553.6 625L1556.7 635.6L1559.6 646.2L1562.3 656.9L1564.7 667.6L1566.8 678.4L1568.6 689.2L1570.1 700.1L1571.4 711L1572.4 721.9L1573.2 732.9L1573.6 743.8L1573.8 754.8L1573.7 765.7L1573.4 776.7L1572.7 787.6L1571.8 798.5L1570.6 809.4L1569.1 820.2L1567.4 831.1L1565.4 841.8L1563.1 852.5L1560.5 863.1L1557.7 873.7L1554.6 884.2L1551.2 894.6L1547.5 904.9L1543.6 915.2L1539.3 925.3L1534.8 935.3L1530.1 945.2L1525 955L1519.8 964.7L1514.6 974.4L1509.3 984L1504 993.7L1499 1003.5L1494.1 1013.4L1489.6 1023.4L1485.5 1033.6L1481.8 1044L1478.5 1054.5L1475.5 1065.2L1472.5 1075.9L1469.6 1086.6L1466.4 1097.2L1463 1107.7L1459.3 1118.1L1455.1 1128.2L1450.6 1138L1445.5 1147.5L1439.8 1156.6L1433.5 1165.3L1426.6 1173.5L1419.2 1181.3L1411.3 1188.7L1403.2 1196L1394.8 1202.9L1386.1 1209.6L1377.3 1216.1L1368.3 1222.3L1359 1228.3L1349.6 1234L1340 1239.4L1330.3 1244.6L1320.4 1249.5L1310.3 1254.1L1300.2 1258.4L1289.9 1262.5L1279.4 1266.2L1268.9 1269.7L1258.3 1272.8L1247.6 1275.6L1236.8 1278.1L1226 1280.3L1215.1 1282.2L1204.2 1283.8L1193.2 1285L1182.2 1285.9L1171.2 1286.4L1160.2 1286.6L1149.2 1286.5L1138.2 1286L1127.2 1285.1L1116.2 1283.8L1105.4 1282.2L1094.5 1280.3L1083.7 1277.9L1073 1275.2L1062.4 1272.1L1051.9 1268.5L1041.5 1264.6L1031.2 1260.3L1021 1255.6L1011.1 1250.5L1001.5 1245L992.1 1239.1L983.1 1232.8L974.5 1226.1L966.3 1219L958.5 1211.5L951.3 1203.6L944.6 1195.4L938.5 1186.7L933 1177.7L928.3 1168.2L924.2 1158.4L920.9 1148.2L918.4 1137.6L916.7 1126.7L915.8 1115.6L915.7 1104.3L916.4 1093L917.8 1081.7L920 1070.7L923 1059.9L926.6 1049.5L930.9 1039.3L935.7 1029.4L941 1019.8L946.6 1010.3L952.4 1001L958.5 991.8L964.6 982.8L971 973.8L977.4 964.9L983.9 956.1L990.6 947.4L997.3 938.7L1004.1 930.1L1011 921.6L1018 913.1L1025 904.7L1032 896.2L1039.1 887.8L1046.2 879.5L1053.4 871.1L1060.6 862.8L1067.8 854.5L1075 846.2L1082.1 837.9L1089.1 829.5L1096 820.9L1102.6 812.3L1108.9 803.4L1114.9 794.4L1120.6 785.1L1125.8 775.5L1130.6 765.6L1134.9 755.5L1138.7 745.1L1142.1 734.5L1145.1 723.8Z"/>
<path d="M1175.7 713.1L1177.2 703L1178.5 693L1179.6 683L1180.5 673L1181.2 663L1181.8 653L1182.2 643L1182.3 633L1182.3 623L1182.1 613.1L1181.8 603.1L1181.2 593.1L1180.5 583.2L1179.6 573.2L1178.5 563.3L1177.2 553.4L1175.7 543.5L1174.1 533.6L1172.3 523.6L1170.4 513.7L1168.6 503.7L1166.8 493.7L1165.2 483.5L1163.8 473.2L1162.7 462.8L1162 452.3L1161.7 441.6L1162 431.1L1162.9 420.7L1164.7 410.7L1167.3 401.1L1170.9 392.2L1175.5 383.9L1181 376.3L1187.4 369.4L1194.5 363.2L1202.3 357.6L1210.7 352.8L1219.5 348.7L1228.8 345.3L1238.4 342.6L1248.3 340.6L1258.3 339.3L1268.4 338.8L1278.5 339L1288.5 339.9L1298.5 341.5L1308.3 343.8L1317.9 346.6L1327.5 350.1L1336.8 354.1L1346 358.6L1355 363.6L1363.8 369.1L1372.3 374.9L1380.6 381.1L1388.6 387.6L1396.4 394.4L1403.8 401.4L1411 408.6L1417.8 416.1L1424.3 423.7L1430.6 431.5L1436.5 439.4L1442.3 447.5L1447.7 455.7L1453 464.1L1458 472.6L1462.9 481.3L1467.6 490L1472.1 498.8L1476.4 507.8L1480.6 516.8L1484.7 526L1488.7 535.1L1492.6 544.4L1496.5 553.7L1500.2 563.1L1504 572.5L1507.6 581.9L1511.2 591.4L1514.6 601L1518 610.6L1521.2 620.2L1524.2 629.8L1527.1 639.5L1529.7 649.3L1532.2 659L1534.4 668.8L1536.4 678.7L1538.1 688.6L1539.5 698.5L1540.7 708.5L1541.5 718.4L1542.1 728.4L1542.5 738.5L1542.6 748.5L1542.4 758.5L1542 768.5L1541.3 778.6L1540.4 788.6L1539.2 798.5L1537.8 808.5L1536.2 818.5L1534.3 828.4L1532.3 838.2L1530 848L1527.5 857.8L1524.7 867.5L1521.8 877.2L1518.7 886.8L1515.3 896.3L1511.8 905.7L1508.1 915.1L1504.2 924.4L1500.1 933.6L1495.8 942.6L1491.4 951.6L1486.8 960.5L1482.2 969.4L1477.5 978.2L1472.8 987.1L1468.3 995.9L1463.8 1004.9L1459.5 1013.9L1455.4 1023L1451.6 1032.3L1448.1 1041.7L1444.8 1051.3L1441.7 1060.9L1438.6 1070.6L1435.4 1080.3L1432.1 1090L1428.5 1099.5L1424.7 1109L1420.5 1118.2L1416 1127.2L1411.1 1135.9L1405.9 1144.4L1400.2 1152.4L1394.1 1160.1L1387.5 1167.3L1380.5 1174.1L1373.1 1180.5L1365.3 1186.5L1357.2 1192.3L1349 1197.9L1340.5 1203.2L1331.8 1208.4L1322.9 1213.4L1313.9 1218.1L1304.8 1222.7L1295.5 1227L1286.1 1231L1276.5 1234.9L1266.9 1238.4L1257.2 1241.7L1247.4 1244.8L1237.5 1247.5L1227.6 1250L1217.6 1252.2L1207.6 1254L1197.5 1255.6L1187.5 1256.8L1177.4 1257.7L1167.4 1258.3L1157.3 1258.5L1147.4 1258.4L1137.4 1257.9L1127.5 1257L1117.7 1255.7L1108 1254.1L1098.3 1252.1L1088.8 1249.6L1079.4 1246.8L1070.1 1243.5L1060.9 1239.8L1051.9 1235.6L1043 1231L1034.3 1226L1025.8 1220.5L1017.5 1214.5L1009.5 1208.1L1001.8 1201.2L994.6 1194L987.9 1186.3L981.7 1178.3L976.1 1169.9L971.3 1161.1L967.3 1152L964.1 1142.6L961.7 1133L960.3 1123.1L959.7 1113.1L959.8 1103L960.6 1092.9L962.1 1083L964.1 1073.2L966.7 1063.5L969.7 1054L973.3 1044.7L977.3 1035.5L981.6 1026.4L986.3 1017.4L991.3 1008.6L996.6 999.9L1002.1 991.3L1007.8 982.8L1013.6 974.4L1019.5 966.1L1025.5 957.8L1031.6 949.7L1037.7 941.7L1043.8 933.7L1050 925.7L1056.2 917.9L1062.4 910L1068.6 902.2L1074.9 894.4L1081.1 886.6L1087.3 878.7L1093.5 870.9L1099.7 863.1L1105.9 855.2L1112 847.3L1118.1 839.3L1124.1 831.3L1130 823.2L1135.9 815L1141.5 806.7L1146.8 798.2L1151.8 789.6L1156.4 780.7L1160.5 771.6L1164.1 762.2L1167.1 752.7L1169.8 742.9L1172 733L1174 723.1Z"/>
<path d="M1205.5 712.5L1206.8 703.6L1208 694.7L1209.1 685.8L1210 676.9L1210.8 668L1211.5 659.2L1212 650.3L1212.3 641.4L1212.5 632.5L1212.5 623.6L1212.3 614.7L1212 605.7L1211.5 596.6L1210.8 587.5L1209.9 578.4L1208.8 569.2L1207.5 559.9L1206 550.5L1204.4 541.1L1202.8 531.6L1201.2 522.2L1199.8 512.7L1198.5 503.3L1197.4 494L1196.7 484.7L1196.4 475.6L1196.6 466.6L1197.3 457.7L1198.6 449L1200.7 440.6L1203.4 432.3L1207 424.3L1211.3 416.7L1216.3 409.6L1222 403L1228.3 397.1L1235.2 391.9L1242.7 387.5L1250.7 384.1L1259.3 381.7L1268.2 380.3L1277.4 379.9L1286.7 380.3L1296.1 381.5L1305.3 383.3L1314.2 385.9L1322.8 389L1331.1 392.6L1339.1 396.7L1346.7 401.3L1354.1 406.3L1361.3 411.7L1368.2 417.5L1374.8 423.6L1381.3 430.1L1387.5 436.7L1393.5 443.6L1399.4 450.7L1405.1 458L1410.6 465.4L1416 472.9L1421.3 480.4L1426.4 488.1L1431.4 495.8L1436.3 503.6L1441 511.4L1445.6 519.3L1450 527.3L1454.3 535.4L1458.5 543.5L1462.5 551.7L1466.3 559.9L1470 568.2L1473.6 576.6L1477 585L1480.2 593.5L1483.3 602L1486.2 610.6L1488.9 619.2L1491.5 627.8L1493.9 636.5L1496.2 645.3L1498.3 654.1L1500.2 662.9L1501.9 671.8L1503.5 680.7L1504.9 689.6L1506.1 698.6L1507.1 707.6L1507.9 716.7L1508.6 725.7L1509.1 734.8L1509.3 743.9L1509.4 753L1509.3 762.2L1509 771.3L1508.5 780.4L1507.8 789.5L1506.8 798.6L1505.7 807.7L1504.3 816.7L1502.7 825.7L1500.9 834.6L1498.9 843.4L1496.6 852.2L1494.1 861L1491.3 869.6L1488.4 878.2L1485.3 886.7L1482 895.1L1478.5 903.5L1475 911.9L1471.3 920.2L1467.5 928.5L1463.7 936.7L1459.8 945L1455.8 953.2L1451.9 961.4L1448 969.6L1444.1 977.8L1440.2 986L1436.3 994.2L1432.5 1002.4L1428.8 1010.7L1425 1019L1421.3 1027.2L1417.7 1035.6L1414 1043.9L1410.4 1052.3L1406.8 1060.7L1403.3 1069.2L1399.8 1077.6L1396.1 1086.1L1392.4 1094.4L1388.5 1102.7L1384.4 1110.8L1379.9 1118.7L1375.2 1126.3L1370.2 1133.8L1364.8 1140.9L1359 1147.7L1352.9 1154.2L1346.4 1160.4L1339.5 1166.2L1332.4 1171.7L1325 1177L1317.4 1182L1309.6 1186.8L1301.6 1191.4L1293.6 1195.9L1285.4 1200.1L1277.2 1204.1L1268.8 1207.9L1260.4 1211.4L1251.8 1214.7L1243.2 1217.7L1234.5 1220.5L1225.8 1223L1217 1225.2L1208.1 1227L1199.2 1228.6L1190.3 1229.8L1181.3 1230.7L1172.3 1231.2L1163.2 1231.4L1154.2 1231.2L1145.1 1230.6L1136.1 1229.6L1127 1228.2L1118 1226.3L1108.9 1224.1L1100 1221.4L1091.1 1218.2L1082.4 1214.7L1073.9 1210.7L1065.6 1206.4L1057.6 1201.6L1049.9 1196.5L1042.6 1190.9L1035.8 1185L1029.4 1178.7L1023.5 1172L1018.1 1165L1013.4 1157.6L1009.3 1149.9L1005.9 1141.8L1003.2 1133.4L1001.1 1124.8L999.6 1116L998.8 1107.1L998.6 1098.1L999 1089L1000 1079.9L1001.5 1070.9L1003.6 1061.9L1006.3 1053.1L1009.4 1044.5L1013.1 1036.1L1017.2 1027.9L1021.6 1019.8L1026.3 1011.9L1031.3 1004.1L1036.4 996.5L1041.7 988.9L1047 981.4L1052.4 974.1L1057.8 966.8L1063.2 959.5L1068.7 952.4L1074.3 945.3L1080 938.3L1085.8 931.4L1091.7 924.5L1097.7 917.7L1103.8 910.9L1110 904.2L1116.1 897.5L1122.3 890.7L1128.5 884L1134.5 877.1L1140.4 870.2L1146.2 863.2L1151.8 856.1L1157.1 848.8L1162.2 841.3L1167 833.7L1171.4 825.8L1175.6 817.8L1179.4 809.6L1182.9 801.2L1186.2 792.7L1189.1 784L1191.9 775.2L1194.4 766.4L1196.7 757.5L1198.8 748.5L1200.7 739.5L1202.4 730.5L1204 721.5Z"/>
<path d="M1240.6 712.5L1241.7 704.6L1242.7 696.8L1243.6 689L1244.5 681.1L1245.3 673.3L1246.1 665.6L1246.8 657.8L1247.4 650L1248 642.2L1248.5 634.4L1248.9 626.6L1249.2 618.8L1249.4 611L1249.6 603.1L1249.6 595.2L1249.6 587.3L1249.4 579.3L1249.2 571.3L1248.8 563.3L1248.3 555.2L1247.7 547.1L1247 538.9L1246.3 530.7L1245.7 522.5L1245.3 514.3L1245.3 506.2L1245.7 498.3L1246.7 490.4L1248.4 482.7L1250.9 475.3L1254.3 468.1L1258.5 461.3L1263.5 455.2L1269 450L1275 446L1281.5 443.2L1288.2 441.7L1295.3 441.3L1302.5 442.1L1309.8 443.8L1317.2 446.4L1324.6 449.7L1331.9 453.7L1339.1 458.2L1346 463L1352.7 468.2L1359.1 473.6L1365.1 479.2L1370.8 484.9L1376.3 490.8L1381.4 496.9L1386.4 503.1L1391.1 509.4L1395.5 515.9L1399.8 522.5L1403.9 529.1L1407.8 535.9L1411.6 542.8L1415.2 549.7L1418.8 556.8L1422.2 563.8L1425.6 571L1428.8 578.1L1432.1 585.4L1435.2 592.6L1438.2 599.9L1441.1 607.3L1444 614.7L1446.7 622.1L1449.3 629.6L1451.8 637.1L1454.2 644.6L1456.4 652.2L1458.5 659.8L1460.5 667.5L1462.3 675.2L1464 682.9L1465.5 690.6L1466.9 698.4L1468.1 706.2L1469.1 714L1470 721.8L1470.7 729.7L1471.2 737.6L1471.5 745.5L1471.6 753.4L1471.5 761.3L1471.2 769.3L1470.6 777.3L1469.9 785.2L1469 793.2L1467.9 801.2L1466.6 809.1L1465.2 817L1463.5 824.9L1461.7 832.7L1459.7 840.5L1457.6 848.2L1455.3 855.8L1452.8 863.4L1450.2 870.9L1447.4 878.3L1444.5 885.6L1441.5 892.9L1438.3 900L1435.1 907.1L1431.8 914.2L1428.4 921.2L1424.9 928.2L1421.4 935.2L1417.9 942.1L1414.4 949.1L1410.9 956.1L1407.4 963.1L1404 970.2L1400.6 977.4L1397.3 984.5L1394 991.8L1390.9 999.2L1387.9 1006.6L1384.9 1014.1L1382 1021.7L1379.1 1029.3L1376.2 1036.8L1373.2 1044.4L1370.3 1052L1367.3 1059.5L1364.2 1066.9L1361 1074.2L1357.7 1081.5L1354.2 1088.6L1350.6 1095.6L1346.7 1102.4L1342.7 1109L1338.4 1115.5L1333.9 1121.7L1329.1 1127.7L1324 1133.5L1318.7 1139L1313.1 1144.2L1307.2 1149.2L1301.1 1154L1294.7 1158.5L1288.2 1162.8L1281.5 1166.8L1274.6 1170.6L1267.5 1174.2L1260.2 1177.5L1252.9 1180.6L1245.3 1183.4L1237.7 1186L1230 1188.4L1222.2 1190.5L1214.3 1192.4L1206.3 1194L1198.3 1195.4L1190.3 1196.5L1182.2 1197.3L1174.2 1197.8L1166.2 1198L1158.2 1197.9L1150.3 1197.4L1142.4 1196.5L1134.6 1195.3L1127 1193.7L1119.4 1191.6L1112 1189.1L1104.7 1186.1L1097.6 1182.7L1090.7 1178.8L1084.1 1174.5L1077.6 1169.7L1071.5 1164.6L1065.8 1159L1060.4 1153.2L1055.4 1147L1050.9 1140.5L1046.9 1133.8L1043.5 1126.8L1040.6 1119.7L1038.4 1112.3L1036.8 1104.8L1035.8 1097.2L1035.6 1089.5L1036 1081.8L1036.9 1073.9L1038.4 1066.1L1040.3 1058.3L1042.7 1050.5L1045.5 1042.8L1048.7 1035.1L1052.1 1027.6L1055.8 1020.2L1059.7 1013L1063.8 1005.9L1068 999.1L1072.3 992.5L1076.7 986.1L1081.3 980L1086.1 974.1L1091 968.4L1096.2 962.9L1101.7 957.5L1107.5 952.4L1113.7 947.5L1120.1 942.6L1126.8 937.9L1133.5 933.2L1140.2 928.4L1146.8 923.6L1153.2 918.5L1159.3 913.3L1165.1 907.9L1170.6 902.3L1175.9 896.4L1180.8 890.4L1185.5 884.2L1189.9 877.8L1194.1 871.3L1198 864.6L1201.7 857.8L1205.2 850.9L1208.5 843.8L1211.5 836.6L1214.4 829.3L1217.1 821.9L1219.6 814.4L1222 806.8L1224.2 799.1L1226.2 791.4L1228.1 783.6L1229.9 775.8L1231.6 768L1233.1 760.1L1234.6 752.1L1235.9 744.2L1237.2 736.3L1238.4 728.3L1239.5 720.4Z"/>
<path d="M1341.2 600.2L1346.2 600.6L1351.4 602.2L1356.7 604.8L1361.8 608.2L1366.5 612.2L1370.7 616.6L1374.4 621.3L1377.8 626.3L1380.8 631.5L1383.5 636.8L1386.1 642.2L1388.6 647.6L1391 652.9L1393.3 658.2L1395.5 663.5L1397.7 668.7L1399.7 674L1401.7 679.3L1403.6 684.6L1405.3 689.9L1406.9 695.4L1408.4 700.8L1409.8 706.4L1411 712L1412 717.7L1413 723.4L1413.8 729.2L1414.4 735L1414.9 740.9L1415.3 746.8L1415.5 752.7L1415.5 758.6L1415.4 764.5L1415.2 770.5L1414.8 776.4L1414.2 782.3L1413.5 788.2L1412.7 794L1411.7 799.8L1410.5 805.5L1409.2 811.2L1407.7 816.9L1406 822.4L1404.2 827.9L1402.2 833.3L1400.2 838.7L1398 844.1L1395.7 849.3L1393.4 854.6L1390.9 859.8L1388.4 865L1385.9 870.2L1383.3 875.3L1380.7 880.5L1378.1 885.6L1375.4 890.7L1372.8 895.9L1370.2 901L1367.7 906.2L1365.2 911.4L1362.7 916.6L1360.2 921.8L1357.8 927L1355.4 932.3L1353.1 937.6L1350.8 942.9L1348.6 948.2L1346.5 953.5L1344.4 958.9L1342.4 964.3L1340.5 969.8L1338.7 975.3L1336.9 980.8L1335.2 986.4L1333.7 992L1332.2 997.6L1330.8 1003.3L1329.5 1009.1L1328.2 1014.8L1327 1020.6L1325.8 1026.3L1324.5 1032.1L1323.3 1037.8L1321.9 1043.5L1320.5 1049.2L1318.9 1054.8L1317.2 1060.3L1315.4 1065.8L1313.3 1071.1L1311.1 1076.4L1308.6 1081.5L1305.9 1086.6L1303 1091.5L1299.8 1096.3L1296.4 1100.9L1292.8 1105.4L1289 1109.7L1285.1 1113.9L1280.9 1118L1276.6 1121.9L1272.1 1125.6L1267.5 1129.1L1262.7 1132.4L1257.8 1135.6L1252.7 1138.6L1247.6 1141.4L1242.3 1143.9L1236.9 1146.3L1231.4 1148.4L1225.9 1150.4L1220.3 1152.1L1214.6 1153.5L1208.8 1154.8L1203 1155.8L1197.2 1156.5L1191.3 1157L1185.4 1157.2L1179.5 1157.2L1173.6 1156.9L1167.7 1156.3L1161.9 1155.5L1156 1154.3L1150.2 1152.9L1144.4 1151.2L1138.8 1149.2L1133.3 1147L1128 1144.4L1122.8 1141.6L1117.9 1138.6L1113.2 1135.3L1108.8 1131.7L1104.7 1127.8L1100.9 1123.7L1097.5 1119.4L1094.5 1114.8L1091.9 1110L1089.7 1104.9L1088.1 1099.6L1086.8 1094.1L1086.1 1088.5L1085.7 1082.7L1085.8 1076.8L1086.2 1070.9L1087.1 1065L1088.2 1059.1L1089.7 1053.3L1091.6 1047.6L1093.7 1042L1096.1 1036.7L1098.7 1031.5L1101.6 1026.5L1104.7 1021.8L1108.1 1017.1L1111.6 1012.7L1115.3 1008.4L1119.3 1004.2L1123.3 1000.2L1127.6 996.2L1131.9 992.4L1136.4 988.7L1141 985.1L1145.7 981.5L1150.5 978L1155.3 974.6L1160.2 971.2L1165.1 967.8L1170.1 964.5L1175.1 961.2L1180 957.9L1185 954.5L1189.9 951.2L1194.8 947.8L1199.6 944.4L1204.4 940.9L1209.1 937.4L1213.7 933.8L1218.1 930.1L1222.5 926.4L1226.7 922.5L1230.7 918.5L1234.6 914.4L1238.4 910.1L1241.9 905.7L1245.2 901.2L1248.3 896.5L1251.3 891.7L1254 886.7L1256.6 881.7L1259.1 876.5L1261.4 871.3L1263.5 865.9L1265.6 860.5L1267.5 855L1269.3 849.4L1271 843.8L1272.7 838.2L1274.2 832.5L1275.7 826.9L1277.1 821.2L1278.4 815.4L1279.7 809.7L1281 804L1282.1 798.2L1283.3 792.5L1284.3 786.7L1285.4 781L1286.4 775.2L1287.3 769.4L1288.2 763.7L1289.1 757.9L1289.9 752.2L1290.8 746.4L1291.5 740.7L1292.3 735L1293.1 729.3L1293.8 723.6L1294.5 717.9L1295.3 712.2L1296 706.6L1296.8 700.9L1297.7 695.3L1298.6 689.6L1299.6 683.9L1300.6 678.3L1301.8 672.6L1303.1 667L1304.5 661.3L1306 655.6L1307.7 649.9L1309.6 644.1L1311.6 638.4L1313.8 632.6L1316.2 626.8L1318.9 621.2L1321.8 615.8L1325 611L1328.5 606.8L1332.3 603.5L1336.6 601.2Z"/>
<path d="M472.7 689.2L470.7 684.2L468.9 679.1L467.3 673.9L465.8 668.7L464.4 663.5L463.2 658.2L462.2 652.8L461.3 647.5L460.5 642.1L459.9 636.7L459.4 631.2L459.1 625.8L459 620.3L459 614.9L459.1 609.4L459.4 603.9L459.8 598.4L460.4 593L461.1 587.5L461.9 582.1L462.9 576.7L464.1 571.3L465.4 566L466.8 560.7L468.4 555.4L470.1 550.2L471.9 545.1L473.9 539.9L476.1 534.9L478.4 529.9L480.8 525L483.3 520.1L486 515.3L488.7 510.6L491.7 506L494.7 501.5L497.8 497L501.1 492.6L504.5 488.4L508 484.2L511.6 480.2L515.3 476.2L519.1 472.4L523.1 468.7L527.1 465.1L531.2 461.6L535.4 458.2L539.7 455L544.1 451.9L548.6 449L553.2 446.2L557.9 443.6L562.7 441.1L567.5 438.7L572.4 436.6L577.4 434.5L582.5 432.7L587.6 431L592.8 429.5L598.1 428.2L603.4 427L608.8 426L614.3 425.1L619.7 424.3L625.3 423.7L630.8 423.2L636.3 422.7L641.9 422.3L647.5 422L653 421.8L658.6 421.6L664.2 421.4L669.7 421.3L675.2 421.1L680.7 421L686.1 420.9L691.5 420.7L696.8 420.5L702.1 420.2L707.4 420L712.7 419.6L718 419.3L723.3 418.9L728.6 418.5L734 418L739.4 417.4L745 416.8L750.5 416.2L756.2 415.7L761.8 415.4L767.4 415.3L772.9 415.5L778.3 416.2L783.6 417.4L788.7 419.1L793.6 421.1L798.3 423.6L802.8 426.5L807 429.7L811 433.3L814.6 437.2L817.9 441.3L821 445.7L823.7 450.2L826.2 455L828.4 460L830.5 465.1L832.3 470.3L834 475.6L835.6 481L837.1 486.4L838.5 491.8L839.8 497.2L841.1 502.7L842.3 508L843.5 513.4L844.6 518.8L845.7 524.2L846.8 529.5L847.7 534.9L848.6 540.2L849.5 545.5L850.3 550.9L851 556.2L851.7 561.5L852.3 566.9L852.9 572.2L853.3 577.6L853.8 582.9L854.1 588.3L854.4 593.7L854.6 599.1L854.8 604.5L854.8 609.9L854.8 615.4L854.8 620.8L854.6 626.3L854.4 631.8L854 637.3L853.6 642.8L853.1 648.2L852.4 653.7L851.6 659.1L850.7 664.5L849.6 669.8L848.3 675.1L846.9 680.4L845.4 685.6L843.6 690.7L841.7 695.7L839.6 700.7L837.4 705.6L834.9 710.5L832.4 715.2L829.7 719.9L826.8 724.6L823.9 729.2L820.9 733.7L817.7 738.2L814.5 742.6L811.1 747L807.8 751.3L804.3 755.6L800.8 759.8L797.3 764L793.7 768.1L790 772.2L786.3 776.2L782.5 780.1L778.7 783.9L774.8 787.7L770.8 791.4L766.7 794.9L762.6 798.4L758.4 801.7L754 804.9L749.6 808L745.1 811L740.5 813.8L735.7 816.5L730.9 819L725.9 821.3L720.9 823.5L715.8 825.5L710.6 827.3L705.3 829L700 830.4L694.7 831.7L689.3 832.7L683.8 833.6L678.4 834.2L673 834.7L667.5 834.9L662.1 834.9L656.6 834.6L651.2 834.2L645.9 833.5L640.5 832.6L635.2 831.5L629.9 830.3L624.7 828.8L619.5 827.2L614.3 825.4L609.2 823.5L604.2 821.4L599.2 819.1L594.2 816.8L589.4 814.3L584.6 811.7L579.9 809L575.2 806.2L570.6 803.3L566.1 800.2L561.6 797.1L557.3 793.9L552.9 790.5L548.7 787.1L544.5 783.6L540.4 780L536.3 776.4L532.3 772.6L528.4 768.8L524.6 765L520.8 761L517.1 757L513.4 752.9L509.8 748.8L506.3 744.6L502.9 740.3L499.6 736L496.4 731.6L493.3 727.1L490.3 722.6L487.4 718L484.6 713.4L481.9 708.7L479.4 703.9L477 699.1L474.8 694.2Z"/>
<path d="M489 648.9L488.3 644.5L487.8 640.1L487.4 635.7L487.1 631.2L486.9 626.7L486.8 622.3L486.9 617.8L487.1 613.3L487.4 608.8L487.9 604.3L488.5 599.8L489.1 595.4L489.9 590.9L490.9 586.5L491.9 582.1L493 577.7L494.3 573.4L495.7 569L497.2 564.8L498.7 560.5L500.4 556.3L502.2 552.2L504.2 548.1L506.2 544.1L508.3 540.1L510.5 536.2L512.9 532.4L515.3 528.6L517.8 524.9L520.4 521.3L523.2 517.8L526 514.4L528.9 511L531.9 507.7L534.9 504.5L538.1 501.4L541.3 498.4L544.6 495.4L548 492.6L551.5 489.8L555 487.2L558.6 484.6L562.3 482.1L566 479.7L569.8 477.5L573.6 475.3L577.6 473.2L581.5 471.2L585.5 469.4L589.6 467.6L593.7 466L597.8 464.4L602 463L606.2 461.6L610.5 460.4L614.8 459.3L619.1 458.3L623.4 457.5L627.8 456.7L632.2 456.1L636.6 455.5L641 455.1L645.5 454.9L649.9 454.7L654.4 454.6L658.9 454.7L663.3 454.8L667.8 455.1L672.3 455.5L676.7 456L681.1 456.6L685.6 457.3L690 458.2L694.3 459.1L698.7 460.1L703 461.3L707.3 462.5L711.6 463.9L715.8 465.4L720 466.9L724.1 468.6L728.2 470.4L732.2 472.2L736.2 474.2L740.1 476.3L744 478.5L747.8 480.7L751.5 483.1L755.2 485.6L758.8 488.2L762.3 490.8L765.7 493.6L769.1 496.4L772.4 499.4L775.6 502.4L778.7 505.5L781.7 508.8L784.6 512L787.4 515.4L790.2 518.8L792.8 522.4L795.4 526L797.8 529.6L800.2 533.3L802.5 537.1L804.6 541L806.7 544.9L808.7 548.8L810.5 552.8L812.3 556.9L814 561L815.5 565.2L816.9 569.4L818.3 573.6L819.5 577.9L820.6 582.2L821.6 586.5L822.5 590.9L823.2 595.3L823.9 599.7L824.4 604.2L824.9 608.6L825.2 613.1L825.4 617.6L825.5 622.1L825.5 626.6L825.3 631.1L825.1 635.6L824.7 640.1L824.3 644.6L823.7 649.1L823.1 653.6L822.3 658L821.4 662.4L820.4 666.9L819.3 671.3L818.1 675.6L816.7 680L815.3 684.3L813.8 688.5L812.2 692.7L810.4 696.9L808.6 701.1L806.6 705.2L804.6 709.2L802.4 713.2L800.1 717.1L797.8 721L795.3 724.8L792.7 728.5L790.1 732.2L787.3 735.8L784.5 739.3L781.5 742.7L778.5 746.1L775.4 749.4L772.2 752.6L768.9 755.7L765.6 758.7L762.1 761.6L758.7 764.4L755.1 767.2L751.5 769.8L747.8 772.3L744.1 774.8L740.3 777.1L736.4 779.3L732.5 781.4L728.6 783.3L724.6 785.2L720.6 786.9L716.5 788.5L712.4 790L708.3 791.4L704.1 792.6L700 793.7L695.7 794.6L691.5 795.4L687.3 796.1L683 796.6L678.7 797L674.4 797.3L670.1 797.4L665.8 797.5L661.5 797.4L657.2 797.1L652.9 796.8L648.6 796.3L644.3 795.7L640 795L635.7 794.2L631.5 793.3L627.2 792.2L623 791.1L618.8 789.8L614.6 788.4L610.4 787L606.3 785.4L602.2 783.7L598.1 781.9L594 780.1L590 778.1L586.1 776L582.1 773.9L578.3 771.6L574.4 769.3L570.6 766.9L566.9 764.4L563.2 761.8L559.6 759.1L556 756.3L552.5 753.5L549.1 750.6L545.7 747.6L542.4 744.5L539.2 741.4L536 738.2L532.9 734.9L529.9 731.6L527 728.2L524.1 724.7L521.4 721.2L518.7 717.6L516.1 713.9L513.6 710.2L511.2 706.4L508.9 702.6L506.7 698.7L504.7 694.8L502.7 690.9L500.8 686.8L499 682.8L497.3 678.7L495.8 674.5L494.4 670.4L493 666.1L491.8 661.9L490.8 657.6L489.8 653.3Z"/>
<path d="M521 647.8L520.3 644.4L519.6 640.9L519.1 637.4L518.7 633.9L518.4 630.4L518.1 626.9L518 623.4L517.9 619.9L518 616.3L518.1 612.8L518.4 609.3L518.7 605.8L519.2 602.4L519.7 598.9L520.3 595.4L521 592L521.8 588.6L522.8 585.2L523.8 581.9L524.9 578.6L526 575.3L527.3 572L528.7 568.8L530.2 565.7L531.7 562.6L533.4 559.5L535.1 556.5L536.9 553.5L538.8 550.6L540.8 547.7L542.9 544.9L545 542.1L547.2 539.4L549.5 536.8L551.9 534.2L554.3 531.7L556.8 529.2L559.4 526.8L562 524.5L564.7 522.2L567.4 520L570.2 517.9L573.1 515.8L576 513.9L578.9 512L581.9 510.1L585 508.4L588 506.7L591.2 505.1L594.3 503.6L597.6 502.2L600.8 500.8L604.1 499.6L607.4 498.4L610.7 497.4L614.1 496.4L617.5 495.5L620.9 494.7L624.4 494L627.8 493.4L631.3 492.8L634.8 492.4L638.3 492.1L641.8 491.8L645.4 491.6L648.9 491.6L652.4 491.6L656 491.7L659.5 491.9L663 492.2L666.6 492.5L670.1 493L673.6 493.5L677.1 494.2L680.6 494.9L684.1 495.7L687.5 496.6L691 497.6L694.4 498.6L697.8 499.8L701.1 501L704.5 502.4L707.8 503.8L711.1 505.3L714.3 506.8L717.5 508.5L720.6 510.2L723.8 512.1L726.8 514L729.9 516L732.8 518L735.8 520.2L738.6 522.4L741.5 524.7L744.2 527L746.9 529.5L749.6 531.9L752.2 534.5L754.7 537.1L757.1 539.8L759.5 542.5L761.8 545.3L764.1 548.1L766.2 551L768.3 554L770.3 556.9L772.3 560L774.1 563L775.9 566.2L777.5 569.3L779.1 572.5L780.6 575.7L782 579L783.3 582.2L784.5 585.6L785.6 588.9L786.6 592.2L787.5 595.6L788.2 599L788.9 602.5L789.5 605.9L790 609.3L790.3 612.8L790.6 616.3L790.8 619.7L790.8 623.2L790.8 626.7L790.7 630.2L790.5 633.7L790.2 637.2L789.8 640.6L789.3 644.1L788.7 647.6L788 651L787.3 654.4L786.4 657.8L785.5 661.2L784.5 664.6L783.4 668L782.2 671.3L780.9 674.6L779.6 677.8L778.2 681.1L776.7 684.3L775.2 687.5L773.5 690.6L771.8 693.7L770 696.7L768.2 699.7L766.3 702.7L764.3 705.6L762.2 708.5L760.1 711.3L757.9 714L755.7 716.7L753.4 719.3L751 721.9L748.6 724.4L746.1 726.9L743.6 729.2L741 731.6L738.4 733.8L735.7 735.9L732.9 738L730.1 740L727.3 742L724.4 743.8L721.4 745.6L718.4 747.2L715.4 748.8L712.3 750.3L709.2 751.7L706.1 753L702.9 754.2L699.6 755.3L696.4 756.3L693.1 757.2L689.7 758L686.4 758.7L683 759.3L679.6 759.8L676.1 760.2L672.6 760.4L669.2 760.6L665.7 760.7L662.2 760.7L658.6 760.6L655.1 760.4L651.6 760.1L648 759.7L644.5 759.2L641 758.7L637.5 758L633.9 757.3L630.4 756.4L626.9 755.5L623.5 754.5L620 753.4L616.6 752.2L613.2 751L609.8 749.6L606.4 748.2L603.1 746.7L599.8 745.1L596.6 743.5L593.4 741.7L590.2 739.9L587.1 738L584 736.1L581 734.1L578 732L575.1 729.8L572.2 727.5L569.4 725.2L566.7 722.9L564 720.5L561.3 718L558.8 715.4L556.3 712.8L553.8 710.2L551.4 707.4L549.1 704.7L546.9 701.9L544.7 699L542.6 696.1L540.6 693.1L538.7 690.1L536.8 687.1L535 684L533.3 680.9L531.7 677.7L530.1 674.5L528.7 671.3L527.3 668L526 664.7L524.8 661.4L523.7 658L522.7 654.6L521.8 651.2Z"/>
<path d="M561.6 644.9L561 642.7L560.4 640.5L560 638.2L559.5 636L559.2 633.7L559 631.5L558.8 629.2L558.7 627L558.7 624.7L558.7 622.4L558.8 620.2L559 617.9L559.2 615.6L559.6 613.4L559.9 611.1L560.4 608.9L560.9 606.7L561.5 604.5L562.1 602.3L562.8 600.1L563.6 597.9L564.4 595.7L565.3 593.6L566.2 591.5L567.2 589.4L568.2 587.3L569.3 585.2L570.5 583.2L571.7 581.2L572.9 579.2L574.2 577.2L575.6 575.3L577 573.4L578.4 571.5L579.9 569.7L581.5 567.9L583 566.1L584.7 564.4L586.3 562.7L588 561.1L589.8 559.5L591.5 557.9L593.4 556.4L595.2 554.9L597.1 553.5L599 552.1L601 550.8L603 549.5L605 548.2L607 547.1L609.1 545.9L611.2 544.9L613.3 543.9L615.5 542.9L617.6 542L619.8 541.2L622.1 540.4L624.3 539.7L626.6 539L628.9 538.5L631.2 538L633.5 537.5L635.8 537.1L638.2 536.8L640.5 536.6L642.9 536.4L645.3 536.3L647.7 536.2L650 536.2L652.4 536.3L654.8 536.4L657.2 536.6L659.6 536.9L662 537.2L664.4 537.6L666.8 538L669.2 538.5L671.5 539.1L673.9 539.7L676.2 540.3L678.5 541.1L680.9 541.8L683.2 542.7L685.4 543.6L687.7 544.5L689.9 545.5L692.1 546.6L694.3 547.7L696.5 548.8L698.6 550L700.7 551.3L702.8 552.6L704.8 553.9L706.8 555.3L708.8 556.8L710.7 558.3L712.6 559.8L714.4 561.4L716.3 563L718 564.7L719.7 566.4L721.4 568.2L723 570L724.6 571.8L726.2 573.7L727.6 575.6L729.1 577.5L730.5 579.5L731.8 581.5L733.1 583.6L734.3 585.6L735.5 587.7L736.6 589.9L737.6 592L738.6 594.2L739.6 596.4L740.5 598.6L741.3 600.8L742 603.1L742.7 605.4L743.4 607.6L743.9 610L744.4 612.3L744.9 614.6L745.2 616.9L745.5 619.3L745.8 621.6L746 624L746.1 626.4L746.1 628.7L746.1 631.1L746.1 633.5L745.9 635.8L745.7 638.2L745.5 640.5L745.1 642.8L744.8 645.2L744.3 647.5L743.8 649.8L743.3 652.1L742.6 654.3L741.9 656.6L741.2 658.8L740.4 661L739.5 663.2L738.6 665.3L737.6 667.4L736.5 669.5L735.4 671.6L734.3 673.6L733.1 675.6L731.8 677.6L730.4 679.5L729 681.4L727.6 683.2L726.1 685L724.5 686.8L722.9 688.5L721.2 690.1L719.5 691.8L717.8 693.3L716 694.9L714.2 696.3L712.3 697.8L710.4 699.1L708.4 700.5L706.5 701.7L704.4 703L702.4 704.1L700.3 705.2L698.2 706.3L696.1 707.2L693.9 708.2L691.8 709L689.6 709.8L687.4 710.6L685.1 711.2L682.9 711.8L680.6 712.4L678.3 712.9L676.1 713.3L673.7 713.6L671.4 713.9L669.1 714.2L666.8 714.3L664.4 714.4L662.1 714.5L659.7 714.5L657.4 714.4L655 714.3L652.7 714.1L650.3 713.8L648 713.5L645.6 713.2L643.3 712.7L640.9 712.3L638.6 711.7L636.2 711.1L633.9 710.5L631.6 709.8L629.3 709L627 708.2L624.7 707.4L622.4 706.5L620.1 705.5L617.9 704.5L615.6 703.4L613.4 702.3L611.2 701.1L609.1 699.9L606.9 698.6L604.8 697.3L602.7 695.9L600.6 694.5L598.5 693.1L596.5 691.5L594.5 690L592.5 688.4L590.6 686.7L588.7 685.1L586.8 683.3L585 681.6L583.2 679.8L581.5 677.9L579.8 676.1L578.2 674.2L576.6 672.2L575.1 670.3L573.6 668.3L572.2 666.3L570.8 664.2L569.5 662.2L568.3 660.1L567.1 658L566 655.8L565 653.7L564 651.5L563.2 649.3L562.4 647.1Z"/>
</g>
<g stroke="#000" stroke-width="14.4" fill="none">
<path d="M538.7 528.4L563.1 582.5M602.2 535.3L620.7 575.5M664.4 533.6L680.1 577.2M725.5 535.3L742.9 575.5M545.7 601.7L557.9 631.3M605 599.9L619 633.1M666.1 599.9L678.3 633.1M728.9 598.2L737.7 633.1M548.5 669.7L554.4 683.7M608.5 664.5L615.5 688.9M670.6 663.5L674.8 690.7M730.7 664.5L737 688.9M607.8 725.6L616.2 748.3M668 740L677.5 734M1208.6 447.7L1226.7 419.3M1267.5 450.3L1288.7 418M1330.1 447.7L1346.9 419.3M1202.1 516.2L1234.4 472.3M1268 512.3L1290 477.4M1331.4 509.7L1346.9 480M1392.1 505.9L1407.7 483.9M1207.5 575.3L1229.4 535.2M1271.4 569.5L1286.4 540.3M1334.2 568L1344.2 542.8M1396 571.8L1402.5 538.2M1213 629.5L1224.1 601.3M1277.5 631L1280.5 601.5M1337.5 628.5L1341 601M1398.4 635.3L1401.9 596.2M1461 586.5L1461 709.3M1210.1 689.2L1227.2 662.9M1276.6 687.5L1282.2 666M1338.9 688L1340.2 665M1399.4 694.2L1401.3 659.3M1214.8 739.6L1221.8 733.3M1279.2 743L1279.6 732.5M1339.6 745.8L1339.6 728.7M1404 749.8L1395.3 724.2M1468.2 760L1453.3 714M1222.5 803.9L1214 791.5M1282 805.6L1275.7 790.5M1344.2 809.5L1336.3 786M1406.5 811.6L1394.5 783M1469.5 818.5L1452 777.5M1223.3 869.8L1213.2 846.6M1283 866.7L1275.3 849.7M1342.5 868.3L1336.3 847.7M1404.5 869.8L1395.9 846.6M1464.9 870.6L1455.6 845.8M1155.7 937.4L1159.6 899.4M1217.6 928.1L1218.4 909.5M1278.9 925L1278.9 913.3M1339.4 925L1339.4 913.3M1399.9 927.3L1400.7 910.2M1470 931.2L1453.5 906M1093.1 997.9L1100.1 960.7M1154 998.7L1161.2 959.9M1216.1 994L1220 965.3M1278.9 988.6L1278.9 970.7M1341.7 985.5L1337.1 973.1M1405 987L1395 972M1038 1052.2L1032.6 1027.4M1096.2 1056.8L1097 1022.7M1154 1059.9L1160.8 1019.2M1216.1 1056.8L1220 1021.9M1278.1 1052.9L1279.7 1027.4M1339.4 1048.3L1338.6 1032M1406.5 1045.5L1394.5 1033M1042.7 1110.2L1028.7 1090.1M1099.3 1115.7L1094.7 1085.4M1156.2 1118.8L1158.8 1081.6M1216.1 1118.8L1221.5 1080.8M1277.4 1117.2L1281.2 1082.3M1341 1112.5L1338.5 1087.7M1053.6 1174.6L1019.4 1148.2M1101.6 1173.1L1090.8 1148.2M1160 1177.3L1155.7 1144.4M1217.6 1177.7L1217.6 1143.6M1276.6 1173.1L1281.2 1148.2M1168.5 1238.2L1145.6 1205.6"/>
</g>
<g stroke="#fff" stroke-width="10.4" fill="none">
<path d="M538.7 528.4L563.1 582.5M602.2 535.3L620.7 575.5M664.4 533.6L680.1 577.2M725.5 535.3L742.9 575.5M545.7 601.7L557.9 631.3M605 599.9L619 633.1M666.1 599.9L678.3 633.1M728.9 598.2L737.7 633.1M548.5 669.7L554.4 683.7M608.5 664.5L615.5 688.9M670.6 663.5L674.8 690.7M730.7 664.5L737 688.9M607.8 725.6L616.2 748.3M668 740L677.5 734M1208.6 447.7L1226.7 419.3M1267.5 450.3L1288.7 418M1330.1 447.7L1346.9 419.3M1202.1 516.2L1234.4 472.3M1268 512.3L1290 477.4M1331.4 509.7L1346.9 480M1392.1 505.9L1407.7 483.9M1207.5 575.3L1229.4 535.2M1271.4 569.5L1286.4 540.3M1334.2 568L1344.2 542.8M1396 571.8L1402.5 538.2M1213 629.5L1224.1 601.3M1277.5 631L1280.5 601.5M1337.5 628.5L1341 601M1398.4 635.3L1401.9 596.2M1461 586.5L1461 709.3M1210.1 689.2L1227.2 662.9M1276.6 687.5L1282.2 666M1338.9 688L1340.2 665M1399.4 694.2L1401.3 659.3M1214.8 739.6L1221.8 733.3M1279.2 743L1279.6 732.5M1339.6 745.8L1339.6 728.7M1404 749.8L1395.3 724.2M1468.2 760L1453.3 714M1222.5 803.9L1214 791.5M1282 805.6L1275.7 790.5M1344.2 809.5L1336.3 786M1406.5 811.6L1394.5 783M1469.5 818.5L1452 777.5M1223.3 869.8L1213.2 846.6M1283 866.7L1275.3 849.7M1342.5 868.3L1336.3 847.7M1404.5 869.8L1395.9 846.6M1464.9 870.6L1455.6 845.8M1155.7 937.4L1159.6 899.4M1217.6 928.1L1218.4 909.5M1278.9 925L1278.9 913.3M1339.4 925L1339.4 913.3M1399.9 927.3L1400.7 910.2M1470 931.2L1453.5 906M1093.1 997.9L1100.1 960.7M1154 998.7L1161.2 959.9M1216.1 994L1220 965.3M1278.9 988.6L1278.9 970.7M1341.7 985.5L1337.1 973.1M1405 987L1395 972M1038 1052.2L1032.6 1027.4M1096.2 1056.8L1097 1022.7M1154 1059.9L1160.8 1019.2M1216.1 1056.8L1220 1021.9M1278.1 1052.9L1279.7 1027.4M1339.4 1048.3L1338.6 1032M1406.5 1045.5L1394.5 1033M1042.7 1110.2L1028.7 1090.1M1099.3 1115.7L1094.7 1085.4M1156.2 1118.8L1158.8 1081.6M1216.1 1118.8L1221.5 1080.8M1277.4 1117.2L1281.2 1082.3M1341 1112.5L1338.5 1087.7M1053.6 1174.6L1019.4 1148.2M1101.6 1173.1L1090.8 1148.2M1160 1177.3L1155.7 1144.4M1217.6 1177.7L1217.6 1143.6M1276.6 1173.1L1281.2 1148.2M1168.5 1238.2L1145.6 1205.6"/>
</g>
<ellipse cx="533" cy="1225" rx="95" ry="74.6" transform="rotate(22.4 533 1225)" fill="#ea3323"/>
<rect x="1370.9" y="1196.8" width="212.6" height="127.9" fill="#fff"/>
<line x1="1453" y1="1222.4" x2="1501.4" y2="1222.4" stroke="#262626" stroke-width="5.6"/>
<text x="1477" y="1289" font-size="55" text-anchor="middle">P =1%</text>
</g>
<rect x="1627.1" y="137.9" width="78.8" height="1210.6" fill="url(#mg)" stroke="#0b0908" stroke-width="5"/>
<path d="M411.5 137.9V117.3M411.5 1347.7V1367.6M457 137.9V126.2M457 1347.7V1359M502.5 137.9V126.2M502.5 1347.7V1359M548 137.9V126.2M548 1347.7V1359M593.5 137.9V126.2M593.5 1347.7V1359M639 137.9V117.3M639 1347.7V1367.6M684.6 137.9V126.2M684.6 1347.7V1359M730.1 137.9V126.2M730.1 1347.7V1359M775.6 137.9V126.2M775.6 1347.7V1359M821.1 137.9V126.2M821.1 1347.7V1359M866.6 137.9V117.3M866.6 1347.7V1367.6M912.1 137.9V126.2M912.1 1347.7V1359M957.6 137.9V126.2M957.6 1347.7V1359M1003.1 137.9V126.2M1003.1 1347.7V1359M1048.6 137.9V126.2M1048.6 1347.7V1359M1094.2 137.9V117.3M1094.2 1347.7V1367.6M1139.7 137.9V126.2M1139.7 1347.7V1359M1185.2 137.9V126.2M1185.2 1347.7V1359M1230.7 137.9V126.2M1230.7 1347.7V1359M1276.2 137.9V126.2M1276.2 1347.7V1359M1321.7 137.9V117.3M1321.7 1347.7V1367.6M1367.2 137.9V126.2M1367.2 1347.7V1359M1412.7 137.9V126.2M1412.7 1347.7V1359M1458.2 137.9V126.2M1458.2 1347.7V1359M1503.7 137.9V126.2M1503.7 1347.7V1359M1549.3 137.9V117.3M1549.3 1347.7V1367.6M1594.8 137.9V126.2M1594.8 1347.7V1359M394.5 195.6H374.3M1606.5 195.6H1627M394.5 256.1H383.4M1606.5 256.1H1618.6M394.5 316.7H383.4M1606.5 316.7H1618.6M394.5 377.2H383.4M1606.5 377.2H1618.6M394.5 437.7H383.4M1606.5 437.7H1618.6M394.5 498.2H374.3M1606.5 498.2H1627M394.5 558.8H383.4M1606.5 558.8H1618.6M394.5 619.3H383.4M1606.5 619.3H1618.6M394.5 679.8H383.4M1606.5 679.8H1618.6M394.5 740.4H383.4M1606.5 740.4H1618.6M394.5 800.9H374.3M1606.5 800.9H1627M394.5 861.4H383.4M1606.5 861.4H1618.6M394.5 922H383.4M1606.5 922H1618.6M394.5 982.5H383.4M1606.5 982.5H1618.6M394.5 1043H383.4M1606.5 1043H1618.6M394.5 1103.5H374.3M1606.5 1103.5H1627M394.5 1164.1H383.4M1606.5 1164.1H1618.6M394.5 1224.6H383.4M1606.5 1224.6H1618.6M394.5 1285.1H383.4M1606.5 1285.1H1618.6M394.5 1345.7H383.4M1606.5 1345.7H1618.6M1606.5 1348.5H1627.1M1705.9 1348.5H1724.6M1606.5 1106.4H1627.1M1705.9 1106.4H1724.6M1606.5 864.3H1627.1M1705.9 864.3H1724.6M1606.5 622.1H1627.1M1705.9 622.1H1724.6M1606.5 380H1627.1M1705.9 380H1724.6M1606.5 137.9H1627.1M1705.9 137.9H1724.6" stroke="#0a0a0a" stroke-width="5" fill="none"/>
<text x="207" y="77" font-size="95" font-weight="bold" style="fill:#000">a</text>
<text x="1024.5" y="72" font-size="76" text-anchor="middle">Stokes I</text>
<text x="356.4" y="212.6" font-size="55" text-anchor="end">0°16&#39;02&quot;</text>
<text x="356.4" y="515.2" font-size="55" text-anchor="end">00&quot;</text>
<text x="356.4" y="817.9" font-size="55" text-anchor="end">15&#39;58&quot;</text>
<text x="356.4" y="1120.5" font-size="55" text-anchor="end">56&quot;</text>
<text transform="translate(112 742.7) rotate(-90)" font-size="55" text-anchor="middle">Dec (ICRS)</text>
<text x="1743" y="1372.1" font-size="66">0</text>
<text x="1743" y="1130" font-size="66">2</text>
<text x="1743" y="887.9" font-size="66">4</text>
<text x="1743" y="645.7" font-size="66">6</text>
<text x="1743" y="403.6" font-size="66">8</text>
<text x="1743" y="161.5" font-size="66">10</text>
<text transform="translate(1891.8 741.8) rotate(-90)" font-size="65.7" text-anchor="middle">I (mJy/beam)</text>
<circle cx="305" cy="1367.4" r="2" fill="#6a6a6a"/>
</g>
</svg></body></html>
